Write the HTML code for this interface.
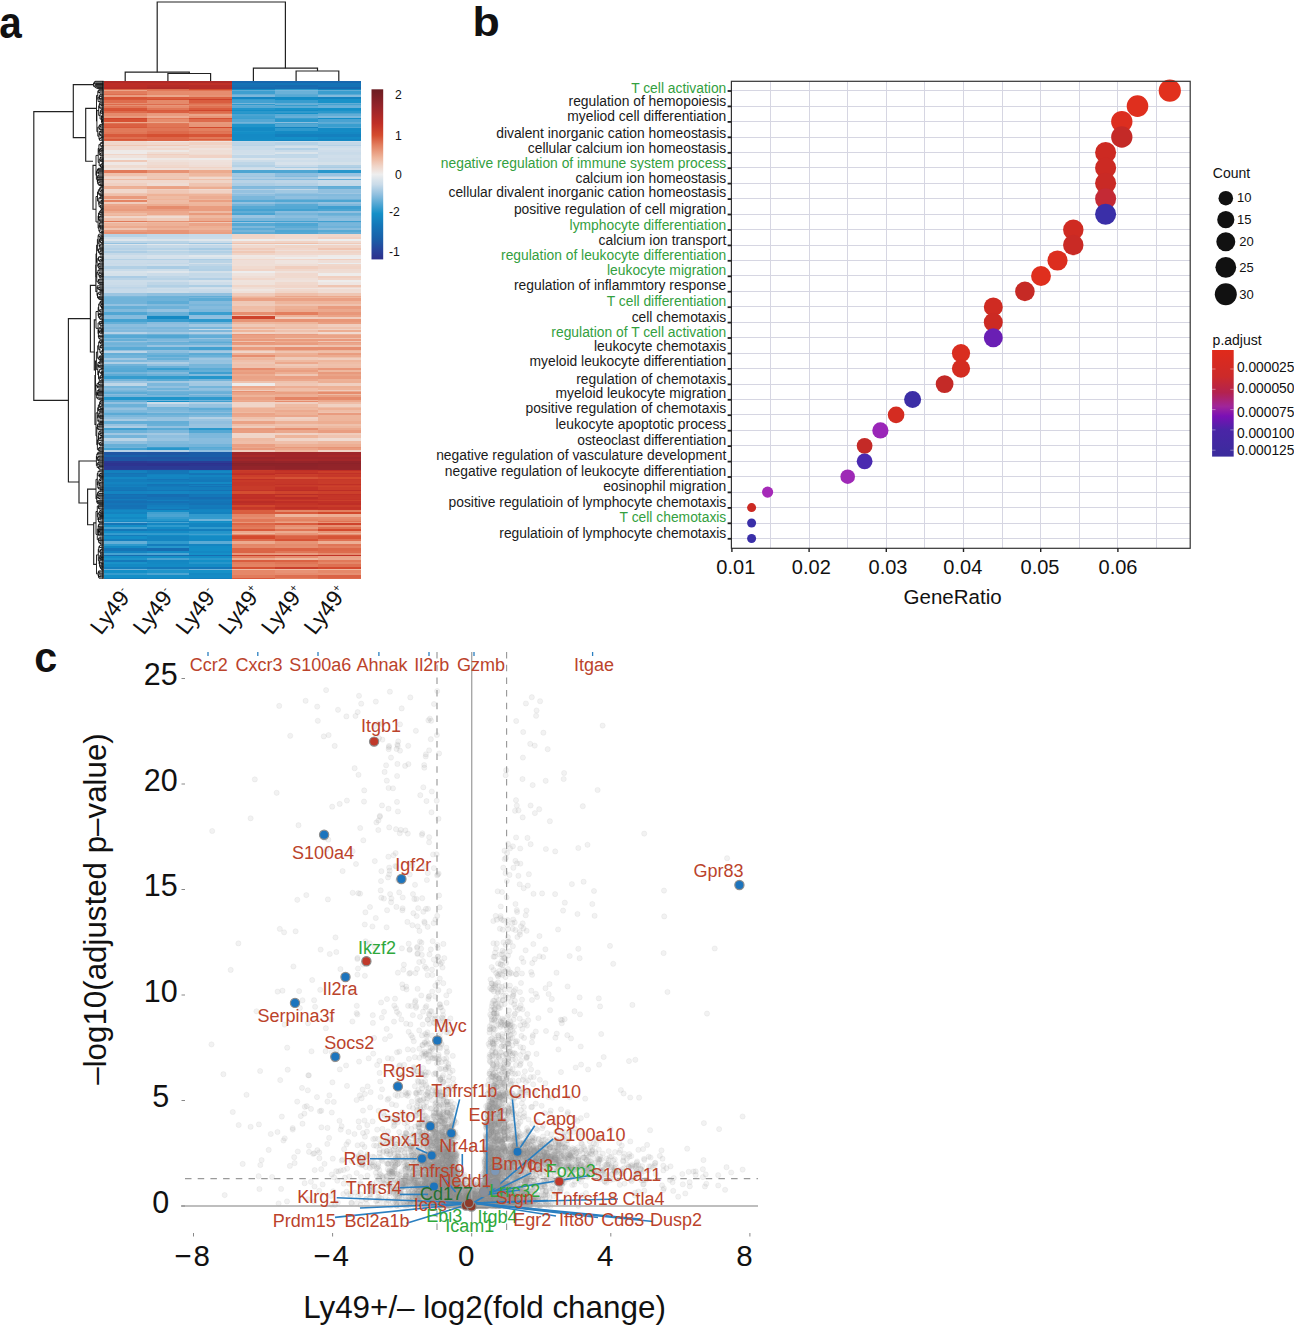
<!DOCTYPE html>
<html><head><meta charset="utf-8"><style>
html,body{margin:0;padding:0;background:#fff;}
body{width:1294px;height:1326px;overflow:hidden;}
svg{display:block;font-family:"Liberation Sans", sans-serif;}
.pc circle{r:2.6px}
.hc0 rect{x:103.8px;width:43.03px}
.hc1 rect{x:146.5px;width:43.03px}
.hc2 rect{x:189.3px;width:43.03px}
.hc3 rect{x:232.0px;width:43.03px}
.hc4 rect{x:274.7px;width:43.03px}
.hc5 rect{x:317.5px;width:43.03px}
</style></head><body>
<svg width="1294" height="1326" viewBox="0 0 1294 1326">
<rect width="1294" height="1326" fill="#fff"/>
<g shape-rendering="crispEdges">
<g class="hc0">
<rect y="81.0" height="2.3" fill="#af2a28"/>
<rect y="83.0" height="1.8" fill="#bd2d26"/>
<rect y="84.5" height="2.3" fill="#bc2d26"/>
<rect y="86.5" height="2.8" fill="#b72c27"/>
<rect y="89.0" height="1.3" fill="#dc6749"/>
<rect y="90.0" height="1.3" fill="#eba488"/>
<rect y="91.0" height="2.8" fill="#e27c5d"/>
<rect y="93.5" height="1.3" fill="#de6d4e"/>
<rect y="94.5" height="2.3" fill="#e99d81"/>
<rect y="96.5" height="2.8" fill="#d65335"/>
<rect y="99.0" height="1.3" fill="#d75739"/>
<rect y="100.0" height="2.8" fill="#de6d4e"/>
<rect y="102.5" height="1.8" fill="#e68e70"/>
<rect y="104.0" height="1.3" fill="#dd6b4c"/>
<rect y="105.0" height="1.3" fill="#e69072"/>
<rect y="106.0" height="2.3" fill="#e07758"/>
<rect y="108.0" height="2.3" fill="#d75537"/>
<rect y="110.0" height="1.3" fill="#d65134"/>
<rect y="111.0" height="1.8" fill="#dd6a4b"/>
<rect y="112.5" height="1.3" fill="#e58b6d"/>
<rect y="113.5" height="2.8" fill="#e58b6c"/>
<rect y="116.0" height="2.3" fill="#e89a7d"/>
<rect y="118.0" height="1.3" fill="#d0452c"/>
<rect y="119.0" height="2.8" fill="#d65133"/>
<rect y="121.5" height="1.3" fill="#eca98d"/>
<rect y="122.5" height="1.8" fill="#df7253"/>
<rect y="124.0" height="3.3" fill="#da6042"/>
<rect y="127.0" height="1.3" fill="#d8583a"/>
<rect y="128.0" height="2.8" fill="#e17a5a"/>
<rect y="130.5" height="1.3" fill="#e27b5b"/>
<rect y="131.5" height="2.8" fill="#e07656"/>
<rect y="134.0" height="2.8" fill="#d85a3c"/>
<rect y="136.5" height="2.3" fill="#de6f50"/>
<rect y="138.5" height="1.3" fill="#d75739"/>
<rect y="139.5" height="1.8" fill="#da6042"/>
<rect y="141.0" height="1.3" fill="#efdbd1"/>
<rect y="142.0" height="2.8" fill="#f0d6ca"/>
<rect y="144.5" height="1.8" fill="#efc6b3"/>
<rect y="146.0" height="2.3" fill="#f0dad0"/>
<rect y="148.0" height="2.3" fill="#f0dad1"/>
<rect y="150.0" height="1.8" fill="#eeeae8"/>
<rect y="151.5" height="2.8" fill="#eeeae9"/>
<rect y="154.0" height="1.3" fill="#f0d5c8"/>
<rect y="155.0" height="2.8" fill="#efe2dc"/>
<rect y="157.5" height="2.3" fill="#eeedec"/>
<rect y="159.5" height="2.8" fill="#efc9b8"/>
<rect y="162.0" height="3.3" fill="#efe7e4"/>
<rect y="165.0" height="1.8" fill="#efdbd1"/>
<rect y="166.5" height="1.3" fill="#efdcd2"/>
<rect y="167.5" height="2.8" fill="#efe4df"/>
<rect y="170.0" height="2.8" fill="#e17959"/>
<rect y="172.5" height="3.3" fill="#efc0ab"/>
<rect y="175.5" height="1.8" fill="#f0d1c3"/>
<rect y="177.0" height="2.3" fill="#f0d7cb"/>
<rect y="179.0" height="1.3" fill="#eebaa3"/>
<rect y="180.0" height="2.8" fill="#f0d7cc"/>
<rect y="182.5" height="3.3" fill="#f0d0c2"/>
<rect y="185.5" height="1.3" fill="#edae93"/>
<rect y="186.5" height="2.8" fill="#edb096"/>
<rect y="189.0" height="1.3" fill="#f0d8cd"/>
<rect y="190.0" height="2.8" fill="#f0d7cb"/>
<rect y="192.5" height="1.8" fill="#efc6b3"/>
<rect y="194.0" height="2.3" fill="#efbfaa"/>
<rect y="196.0" height="3.3" fill="#e99a7d"/>
<rect y="199.0" height="1.3" fill="#efc9b8"/>
<rect y="200.0" height="2.3" fill="#e48464"/>
<rect y="202.0" height="2.3" fill="#f0ccbc"/>
<rect y="204.0" height="2.3" fill="#eba78c"/>
<rect y="206.0" height="2.8" fill="#ea9f83"/>
<rect y="208.5" height="2.3" fill="#e89a7d"/>
<rect y="210.5" height="2.3" fill="#ecac91"/>
<rect y="212.5" height="2.3" fill="#eebba4"/>
<rect y="214.5" height="1.8" fill="#eeb49a"/>
<rect y="216.0" height="1.8" fill="#f0d7cb"/>
<rect y="217.5" height="3.3" fill="#efc1ac"/>
<rect y="220.5" height="1.8" fill="#e17a5a"/>
<rect y="222.0" height="1.3" fill="#efc8b7"/>
<rect y="223.0" height="2.8" fill="#eeb59c"/>
<rect y="225.5" height="2.3" fill="#ecaa8f"/>
<rect y="227.5" height="2.8" fill="#efc5b2"/>
<rect y="230.0" height="2.3" fill="#e99b7e"/>
<rect y="232.0" height="1.8" fill="#e69072"/>
<rect y="233.5" height="3.3" fill="#b5d1e5"/>
<rect y="236.5" height="2.3" fill="#cedeea"/>
<rect y="238.5" height="2.3" fill="#dde5ec"/>
<rect y="240.5" height="2.8" fill="#bcd5e7"/>
<rect y="243.0" height="1.3" fill="#95c2e0"/>
<rect y="244.0" height="1.3" fill="#dbe4eb"/>
<rect y="245.0" height="2.8" fill="#bdd5e7"/>
<rect y="247.5" height="2.3" fill="#b5d1e6"/>
<rect y="249.5" height="1.8" fill="#c2d8e8"/>
<rect y="251.0" height="2.3" fill="#adcde4"/>
<rect y="253.0" height="1.8" fill="#c5d9e8"/>
<rect y="254.5" height="2.3" fill="#d2dfea"/>
<rect y="256.5" height="2.3" fill="#cedeea"/>
<rect y="258.5" height="1.3" fill="#b5d1e5"/>
<rect y="259.5" height="3.3" fill="#cbdce9"/>
<rect y="262.5" height="1.3" fill="#c8dae9"/>
<rect y="263.5" height="2.8" fill="#cbdce9"/>
<rect y="266.0" height="2.8" fill="#b2d0e5"/>
<rect y="268.5" height="2.3" fill="#c8dbe9"/>
<rect y="270.5" height="2.3" fill="#d8e3eb"/>
<rect y="272.5" height="3.3" fill="#d4e1ea"/>
<rect y="275.5" height="2.3" fill="#abcce4"/>
<rect y="277.5" height="2.8" fill="#b9d3e6"/>
<rect y="280.0" height="2.3" fill="#cddde9"/>
<rect y="282.0" height="2.8" fill="#cbdce9"/>
<rect y="284.5" height="2.3" fill="#c6d9e8"/>
<rect y="286.5" height="1.3" fill="#bdd5e7"/>
<rect y="287.5" height="1.3" fill="#c2d7e8"/>
<rect y="288.5" height="2.3" fill="#c7dae9"/>
<rect y="290.5" height="2.3" fill="#c8dae9"/>
<rect y="292.5" height="0.8" fill="#aacce4"/>
<rect y="293.0" height="3.3" fill="#9cc5e1"/>
<rect y="296.0" height="1.3" fill="#7bb7db"/>
<rect y="297.0" height="1.3" fill="#72b4d9"/>
<rect y="298.0" height="3.3" fill="#70b3d9"/>
<rect y="301.0" height="3.3" fill="#71b3d9"/>
<rect y="304.0" height="2.3" fill="#92c1e0"/>
<rect y="306.0" height="3.3" fill="#66afd7"/>
<rect y="309.0" height="2.8" fill="#81badc"/>
<rect y="311.5" height="3.3" fill="#50a6d3"/>
<rect y="314.5" height="2.3" fill="#85bbdd"/>
<rect y="316.5" height="2.3" fill="#87bcdd"/>
<rect y="318.5" height="3.3" fill="#44a2d1"/>
<rect y="321.5" height="2.3" fill="#65afd7"/>
<rect y="323.5" height="3.3" fill="#8cbede"/>
<rect y="326.5" height="2.3" fill="#81b9dc"/>
<rect y="328.5" height="1.3" fill="#8cbede"/>
<rect y="329.5" height="2.3" fill="#83badd"/>
<rect y="331.5" height="2.3" fill="#b5d1e6"/>
<rect y="333.5" height="1.8" fill="#71b3d9"/>
<rect y="335.0" height="2.8" fill="#56a8d4"/>
<rect y="337.5" height="1.3" fill="#7bb7db"/>
<rect y="338.5" height="2.3" fill="#67afd7"/>
<rect y="340.5" height="1.3" fill="#96c3e0"/>
<rect y="341.5" height="1.8" fill="#78b6db"/>
<rect y="343.0" height="2.3" fill="#70b3d9"/>
<rect y="345.0" height="1.8" fill="#79b6db"/>
<rect y="346.5" height="3.3" fill="#59aad5"/>
<rect y="349.5" height="1.8" fill="#94c1e0"/>
<rect y="351.0" height="2.3" fill="#bbd4e7"/>
<rect y="353.0" height="2.3" fill="#65aed7"/>
<rect y="355.0" height="2.3" fill="#71b3d9"/>
<rect y="357.0" height="1.3" fill="#72b4da"/>
<rect y="358.0" height="1.8" fill="#a1c7e2"/>
<rect y="359.5" height="2.3" fill="#7eb8dc"/>
<rect y="361.5" height="2.3" fill="#afcfe5"/>
<rect y="363.5" height="2.8" fill="#71b3d9"/>
<rect y="366.0" height="2.3" fill="#5facd6"/>
<rect y="368.0" height="1.8" fill="#58aad5"/>
<rect y="369.5" height="2.3" fill="#55a8d4"/>
<rect y="371.5" height="2.8" fill="#76b5da"/>
<rect y="374.0" height="2.3" fill="#5cabd5"/>
<rect y="376.0" height="3.3" fill="#359cce"/>
<rect y="379.0" height="2.3" fill="#71b3d9"/>
<rect y="381.0" height="2.3" fill="#9ac4e1"/>
<rect y="383.0" height="3.3" fill="#bed6e7"/>
<rect y="386.0" height="2.3" fill="#77b6db"/>
<rect y="388.0" height="1.8" fill="#89bdde"/>
<rect y="389.5" height="1.8" fill="#7cb8db"/>
<rect y="391.0" height="1.3" fill="#70b3d9"/>
<rect y="392.0" height="1.8" fill="#5cabd5"/>
<rect y="393.5" height="1.8" fill="#87bcde"/>
<rect y="395.0" height="1.8" fill="#76b5da"/>
<rect y="396.5" height="3.3" fill="#2195ca"/>
<rect y="399.5" height="1.8" fill="#64aed7"/>
<rect y="401.0" height="1.3" fill="#62add6"/>
<rect y="402.0" height="2.3" fill="#93c1e0"/>
<rect y="404.0" height="2.8" fill="#6bb1d8"/>
<rect y="406.5" height="1.8" fill="#82badd"/>
<rect y="408.0" height="2.3" fill="#95c2e0"/>
<rect y="410.0" height="2.3" fill="#7fb9dc"/>
<rect y="412.0" height="1.3" fill="#78b6db"/>
<rect y="413.0" height="1.8" fill="#5baad5"/>
<rect y="414.5" height="2.3" fill="#7bb7db"/>
<rect y="416.5" height="2.8" fill="#8ebfdf"/>
<rect y="419.0" height="2.3" fill="#a8cbe3"/>
<rect y="421.0" height="2.8" fill="#64aed7"/>
<rect y="423.5" height="2.8" fill="#97c3e0"/>
<rect y="426.0" height="2.3" fill="#adcde4"/>
<rect y="428.0" height="1.8" fill="#41a0d0"/>
<rect y="429.5" height="3.3" fill="#6db2d9"/>
<rect y="432.5" height="2.8" fill="#a0c7e2"/>
<rect y="435.0" height="2.8" fill="#74b4da"/>
<rect y="437.5" height="3.3" fill="#bad4e6"/>
<rect y="440.5" height="3.3" fill="#90c0df"/>
<rect y="443.5" height="3.3" fill="#67afd7"/>
<rect y="446.5" height="1.3" fill="#70b3d9"/>
<rect y="447.5" height="2.3" fill="#42a1d0"/>
<rect y="449.5" height="2.8" fill="#b6d2e6"/>
<rect y="452.0" height="2.8" fill="#1e57a4"/>
<rect y="454.5" height="2.3" fill="#1962aa"/>
<rect y="456.5" height="2.3" fill="#2054a3"/>
<rect y="458.5" height="2.3" fill="#1e56a4"/>
<rect y="460.5" height="2.3" fill="#2b3993"/>
<rect y="462.5" height="1.3" fill="#2d338f"/>
<rect y="463.5" height="2.3" fill="#2d3490"/>
<rect y="465.5" height="3.3" fill="#2b3a95"/>
<rect y="468.5" height="1.8" fill="#2a3d97"/>
<rect y="470.0" height="1.3" fill="#147bbb"/>
<rect y="471.0" height="1.8" fill="#1481be"/>
<rect y="472.5" height="1.3" fill="#1572b5"/>
<rect y="473.5" height="1.8" fill="#1478b9"/>
<rect y="475.0" height="2.3" fill="#1478b9"/>
<rect y="477.0" height="1.8" fill="#1488c3"/>
<rect y="478.5" height="1.3" fill="#147dbc"/>
<rect y="479.5" height="2.3" fill="#147dbc"/>
<rect y="481.5" height="2.8" fill="#1484c1"/>
<rect y="484.0" height="1.3" fill="#147fbd"/>
<rect y="485.0" height="1.3" fill="#147dbc"/>
<rect y="486.0" height="1.3" fill="#1481bf"/>
<rect y="487.0" height="2.8" fill="#1478b9"/>
<rect y="489.5" height="1.8" fill="#1573b6"/>
<rect y="491.0" height="2.8" fill="#1484c1"/>
<rect y="493.5" height="1.3" fill="#166eb2"/>
<rect y="494.5" height="2.3" fill="#1474b7"/>
<rect y="496.5" height="2.8" fill="#1670b4"/>
<rect y="499.0" height="1.3" fill="#147cbc"/>
<rect y="500.0" height="1.3" fill="#1474b7"/>
<rect y="501.0" height="1.8" fill="#166fb3"/>
<rect y="502.5" height="2.8" fill="#1475b8"/>
<rect y="505.0" height="2.3" fill="#1571b5"/>
<rect y="507.0" height="1.8" fill="#1573b6"/>
<rect y="508.5" height="1.8" fill="#1481bf"/>
<rect y="510.0" height="2.3" fill="#1489c4"/>
<rect y="512.0" height="2.3" fill="#1483c0"/>
<rect y="514.0" height="2.8" fill="#1590c8"/>
<rect y="516.5" height="2.3" fill="#1489c4"/>
<rect y="518.5" height="2.3" fill="#1c93ca"/>
<rect y="520.5" height="1.3" fill="#1488c3"/>
<rect y="521.5" height="1.3" fill="#6fb2d9"/>
<rect y="522.5" height="2.3" fill="#1476b8"/>
<rect y="524.5" height="2.3" fill="#148ec7"/>
<rect y="526.5" height="2.3" fill="#42a1d0"/>
<rect y="528.5" height="2.3" fill="#1478b9"/>
<rect y="530.5" height="2.3" fill="#148dc6"/>
<rect y="532.5" height="1.3" fill="#329bce"/>
<rect y="533.5" height="1.8" fill="#369cce"/>
<rect y="535.0" height="1.3" fill="#147dbc"/>
<rect y="536.0" height="3.3" fill="#148dc6"/>
<rect y="539.0" height="2.3" fill="#147fbe"/>
<rect y="541.0" height="3.3" fill="#65afd7"/>
<rect y="544.0" height="2.3" fill="#2e9acd"/>
<rect y="546.0" height="2.3" fill="#1489c3"/>
<rect y="548.0" height="3.3" fill="#1574b6"/>
<rect y="551.0" height="1.8" fill="#1483c0"/>
<rect y="552.5" height="2.8" fill="#46a2d1"/>
<rect y="555.0" height="1.3" fill="#166db1"/>
<rect y="556.0" height="1.8" fill="#148ec7"/>
<rect y="557.5" height="2.8" fill="#1f94ca"/>
<rect y="560.0" height="2.3" fill="#1479ba"/>
<rect y="562.0" height="1.8" fill="#1992c9"/>
<rect y="563.5" height="3.3" fill="#148ac4"/>
<rect y="566.5" height="2.8" fill="#147ebd"/>
<rect y="569.0" height="1.3" fill="#6ab0d8"/>
<rect y="570.0" height="2.8" fill="#148fc7"/>
<rect y="572.5" height="2.3" fill="#359cce"/>
<rect y="574.5" height="3.3" fill="#148fc7"/>
<rect y="577.5" height="1.3" fill="#147fbd"/>
<rect y="578.5" height="0.6" fill="#1479ba"/>
</g>
<g class="hc1">
<rect y="81.0" height="2.3" fill="#ae2a28"/>
<rect y="83.0" height="1.8" fill="#be2e26"/>
<rect y="84.5" height="2.3" fill="#b62c27"/>
<rect y="86.5" height="2.8" fill="#af2a27"/>
<rect y="89.0" height="1.3" fill="#de6d4e"/>
<rect y="90.0" height="1.3" fill="#e1795a"/>
<rect y="91.0" height="2.8" fill="#e68c6d"/>
<rect y="93.5" height="1.3" fill="#e58a6b"/>
<rect y="94.5" height="2.3" fill="#eba78b"/>
<rect y="96.5" height="2.8" fill="#d95c3e"/>
<rect y="99.0" height="1.3" fill="#d55032"/>
<rect y="100.0" height="2.8" fill="#e5896a"/>
<rect y="102.5" height="1.8" fill="#e58a6b"/>
<rect y="104.0" height="1.3" fill="#dd6c4e"/>
<rect y="105.0" height="1.3" fill="#e89679"/>
<rect y="106.0" height="2.3" fill="#e68c6e"/>
<rect y="108.0" height="2.3" fill="#e07657"/>
<rect y="110.0" height="1.3" fill="#d85a3c"/>
<rect y="111.0" height="1.8" fill="#da5f41"/>
<rect y="112.5" height="1.3" fill="#e8977a"/>
<rect y="113.5" height="2.8" fill="#e99b7e"/>
<rect y="116.0" height="2.3" fill="#edad93"/>
<rect y="118.0" height="1.3" fill="#e27b5b"/>
<rect y="119.0" height="2.8" fill="#e68d6e"/>
<rect y="121.5" height="1.3" fill="#eca98d"/>
<rect y="122.5" height="1.8" fill="#e17a5a"/>
<rect y="124.0" height="3.3" fill="#e07555"/>
<rect y="127.0" height="1.3" fill="#dd6b4c"/>
<rect y="128.0" height="2.8" fill="#e07657"/>
<rect y="130.5" height="1.3" fill="#dd6b4d"/>
<rect y="131.5" height="2.8" fill="#dd6a4b"/>
<rect y="134.0" height="2.8" fill="#d55032"/>
<rect y="136.5" height="2.3" fill="#dc6648"/>
<rect y="138.5" height="1.3" fill="#db6244"/>
<rect y="139.5" height="1.8" fill="#dc6647"/>
<rect y="141.0" height="1.3" fill="#efe6e3"/>
<rect y="142.0" height="2.8" fill="#f0d8cd"/>
<rect y="144.5" height="1.8" fill="#efc9b7"/>
<rect y="146.0" height="2.3" fill="#efdfd8"/>
<rect y="148.0" height="2.3" fill="#f0d8cd"/>
<rect y="150.0" height="1.8" fill="#eee8e5"/>
<rect y="151.5" height="2.8" fill="#efddd4"/>
<rect y="154.0" height="1.3" fill="#f0cebf"/>
<rect y="155.0" height="2.8" fill="#f0d7cb"/>
<rect y="157.5" height="2.3" fill="#eee8e5"/>
<rect y="159.5" height="2.8" fill="#efe1da"/>
<rect y="162.0" height="3.3" fill="#efdcd3"/>
<rect y="165.0" height="1.8" fill="#f0d8cc"/>
<rect y="166.5" height="1.3" fill="#f0d3c6"/>
<rect y="167.5" height="2.8" fill="#efe1db"/>
<rect y="170.0" height="2.8" fill="#e79274"/>
<rect y="172.5" height="3.3" fill="#efc6b3"/>
<rect y="175.5" height="1.8" fill="#efc9b7"/>
<rect y="177.0" height="2.3" fill="#efc8b6"/>
<rect y="179.0" height="1.3" fill="#eeb79e"/>
<rect y="180.0" height="2.8" fill="#f0d8cd"/>
<rect y="182.5" height="3.3" fill="#efdbd2"/>
<rect y="185.5" height="1.3" fill="#eba488"/>
<rect y="186.5" height="2.8" fill="#eaa184"/>
<rect y="189.0" height="1.3" fill="#f0d0c1"/>
<rect y="190.0" height="2.8" fill="#efc7b5"/>
<rect y="192.5" height="1.8" fill="#efc3af"/>
<rect y="194.0" height="2.3" fill="#eeb297"/>
<rect y="196.0" height="3.3" fill="#eebba3"/>
<rect y="199.0" height="1.3" fill="#eeb49a"/>
<rect y="200.0" height="2.3" fill="#efbca6"/>
<rect y="202.0" height="2.3" fill="#eebba3"/>
<rect y="204.0" height="2.3" fill="#ecac91"/>
<rect y="206.0" height="2.8" fill="#e58c6d"/>
<rect y="208.5" height="2.3" fill="#e99c80"/>
<rect y="210.5" height="2.3" fill="#eca98e"/>
<rect y="212.5" height="2.3" fill="#eca98e"/>
<rect y="214.5" height="1.8" fill="#efc7b5"/>
<rect y="216.0" height="1.8" fill="#efdbd2"/>
<rect y="217.5" height="3.3" fill="#efcbba"/>
<rect y="220.5" height="1.8" fill="#e79173"/>
<rect y="222.0" height="1.3" fill="#eeb9a1"/>
<rect y="223.0" height="2.8" fill="#edb197"/>
<rect y="225.5" height="2.3" fill="#eba78c"/>
<rect y="227.5" height="2.8" fill="#eeb298"/>
<rect y="230.0" height="2.3" fill="#e79578"/>
<rect y="232.0" height="1.8" fill="#e79476"/>
<rect y="233.5" height="3.3" fill="#c1d7e8"/>
<rect y="236.5" height="2.3" fill="#c7dae9"/>
<rect y="238.5" height="2.3" fill="#d9e3eb"/>
<rect y="240.5" height="2.8" fill="#bad4e6"/>
<rect y="243.0" height="1.3" fill="#accde4"/>
<rect y="244.0" height="1.3" fill="#e1e7ec"/>
<rect y="245.0" height="2.8" fill="#c5d9e8"/>
<rect y="247.5" height="2.3" fill="#b6d2e6"/>
<rect y="249.5" height="1.8" fill="#cddde9"/>
<rect y="251.0" height="2.3" fill="#b9d4e6"/>
<rect y="253.0" height="1.8" fill="#c2d8e8"/>
<rect y="254.5" height="2.3" fill="#d7e2eb"/>
<rect y="256.5" height="2.3" fill="#d5e1eb"/>
<rect y="258.5" height="1.3" fill="#b2d0e5"/>
<rect y="259.5" height="3.3" fill="#cadbe9"/>
<rect y="262.5" height="1.3" fill="#c4d9e8"/>
<rect y="263.5" height="2.8" fill="#cedeea"/>
<rect y="266.0" height="2.8" fill="#a9cce4"/>
<rect y="268.5" height="2.3" fill="#ccdde9"/>
<rect y="270.5" height="2.3" fill="#dfe6ec"/>
<rect y="272.5" height="3.3" fill="#cbdce9"/>
<rect y="275.5" height="2.3" fill="#bfd6e7"/>
<rect y="277.5" height="2.8" fill="#b8d3e6"/>
<rect y="280.0" height="2.3" fill="#cdddea"/>
<rect y="282.0" height="2.8" fill="#bfd6e7"/>
<rect y="284.5" height="2.3" fill="#b2d0e5"/>
<rect y="286.5" height="1.3" fill="#bdd5e7"/>
<rect y="287.5" height="1.3" fill="#cedeea"/>
<rect y="288.5" height="2.3" fill="#c9dbe9"/>
<rect y="290.5" height="2.3" fill="#cddde9"/>
<rect y="292.5" height="0.8" fill="#bad4e6"/>
<rect y="293.0" height="3.3" fill="#90c0df"/>
<rect y="296.0" height="1.3" fill="#6db2d9"/>
<rect y="297.0" height="1.3" fill="#6bb1d8"/>
<rect y="298.0" height="3.3" fill="#6eb2d9"/>
<rect y="301.0" height="3.3" fill="#5facd6"/>
<rect y="304.0" height="2.3" fill="#81badc"/>
<rect y="306.0" height="3.3" fill="#6eb2d9"/>
<rect y="309.0" height="2.8" fill="#95c2e0"/>
<rect y="311.5" height="3.3" fill="#68b0d8"/>
<rect y="314.5" height="2.3" fill="#63aed7"/>
<rect y="316.5" height="2.3" fill="#95c2e0"/>
<rect y="318.5" height="3.3" fill="#399dcf"/>
<rect y="321.5" height="2.3" fill="#88bcde"/>
<rect y="323.5" height="3.3" fill="#93c1e0"/>
<rect y="326.5" height="2.3" fill="#7bb7db"/>
<rect y="328.5" height="1.3" fill="#88bcde"/>
<rect y="329.5" height="2.3" fill="#82badd"/>
<rect y="331.5" height="2.3" fill="#a1c8e2"/>
<rect y="333.5" height="1.8" fill="#6bb1d8"/>
<rect y="335.0" height="2.8" fill="#50a6d3"/>
<rect y="337.5" height="1.3" fill="#70b3d9"/>
<rect y="338.5" height="2.3" fill="#7eb8dc"/>
<rect y="340.5" height="1.3" fill="#8dbedf"/>
<rect y="341.5" height="1.8" fill="#67afd7"/>
<rect y="343.0" height="2.3" fill="#6eb2d9"/>
<rect y="345.0" height="1.8" fill="#98c3e1"/>
<rect y="346.5" height="3.3" fill="#58aad5"/>
<rect y="349.5" height="1.8" fill="#91c0df"/>
<rect y="351.0" height="2.3" fill="#8cbede"/>
<rect y="353.0" height="2.3" fill="#6eb2d9"/>
<rect y="355.0" height="2.3" fill="#5eacd6"/>
<rect y="357.0" height="1.3" fill="#78b6db"/>
<rect y="358.0" height="1.8" fill="#66afd7"/>
<rect y="359.5" height="2.3" fill="#88bcde"/>
<rect y="361.5" height="2.3" fill="#aecee4"/>
<rect y="363.5" height="2.8" fill="#93c1e0"/>
<rect y="366.0" height="2.3" fill="#6ab0d8"/>
<rect y="368.0" height="1.8" fill="#3b9ecf"/>
<rect y="369.5" height="2.3" fill="#63aed7"/>
<rect y="371.5" height="2.8" fill="#82badc"/>
<rect y="374.0" height="2.3" fill="#6cb1d8"/>
<rect y="376.0" height="3.3" fill="#319bcd"/>
<rect y="379.0" height="2.3" fill="#5babd5"/>
<rect y="381.0" height="2.3" fill="#a2c8e2"/>
<rect y="383.0" height="3.3" fill="#7db8dc"/>
<rect y="386.0" height="2.3" fill="#92c0df"/>
<rect y="388.0" height="1.8" fill="#72b4da"/>
<rect y="389.5" height="1.8" fill="#91c0df"/>
<rect y="391.0" height="1.3" fill="#71b3d9"/>
<rect y="392.0" height="1.8" fill="#68b0d8"/>
<rect y="393.5" height="1.8" fill="#63aed7"/>
<rect y="395.0" height="1.8" fill="#78b6db"/>
<rect y="396.5" height="3.3" fill="#1e94ca"/>
<rect y="399.5" height="1.8" fill="#73b4da"/>
<rect y="401.0" height="1.3" fill="#1490c8"/>
<rect y="402.0" height="2.3" fill="#cbdce9"/>
<rect y="404.0" height="2.8" fill="#a6cae3"/>
<rect y="406.5" height="1.8" fill="#72b4d9"/>
<rect y="408.0" height="2.3" fill="#75b5da"/>
<rect y="410.0" height="2.3" fill="#7fb9dc"/>
<rect y="412.0" height="1.3" fill="#8ebfdf"/>
<rect y="413.0" height="1.8" fill="#66afd7"/>
<rect y="414.5" height="2.3" fill="#76b5da"/>
<rect y="416.5" height="2.8" fill="#97c3e0"/>
<rect y="419.0" height="2.3" fill="#99c4e1"/>
<rect y="421.0" height="2.8" fill="#65aed7"/>
<rect y="423.5" height="2.8" fill="#6ab1d8"/>
<rect y="426.0" height="2.3" fill="#93c1e0"/>
<rect y="428.0" height="1.8" fill="#59aad5"/>
<rect y="429.5" height="3.3" fill="#7db8dc"/>
<rect y="432.5" height="2.8" fill="#a2c8e2"/>
<rect y="435.0" height="2.8" fill="#8fbfdf"/>
<rect y="437.5" height="3.3" fill="#98c4e1"/>
<rect y="440.5" height="3.3" fill="#81badc"/>
<rect y="443.5" height="3.3" fill="#79b6db"/>
<rect y="446.5" height="1.3" fill="#3b9ecf"/>
<rect y="447.5" height="2.3" fill="#2696cb"/>
<rect y="449.5" height="2.8" fill="#b3d0e5"/>
<rect y="452.0" height="2.8" fill="#1e56a4"/>
<rect y="454.5" height="2.3" fill="#1a5fa8"/>
<rect y="456.5" height="2.3" fill="#1f54a3"/>
<rect y="458.5" height="2.3" fill="#1d59a5"/>
<rect y="460.5" height="2.3" fill="#2a3c96"/>
<rect y="462.5" height="1.3" fill="#2d338f"/>
<rect y="463.5" height="2.3" fill="#2d328e"/>
<rect y="465.5" height="3.3" fill="#2b3a95"/>
<rect y="468.5" height="1.8" fill="#294099"/>
<rect y="470.0" height="1.3" fill="#1573b6"/>
<rect y="471.0" height="1.8" fill="#1477b8"/>
<rect y="472.5" height="1.3" fill="#1475b7"/>
<rect y="473.5" height="1.8" fill="#1481bf"/>
<rect y="475.0" height="2.3" fill="#1486c2"/>
<rect y="477.0" height="1.8" fill="#1484c1"/>
<rect y="478.5" height="1.3" fill="#1574b7"/>
<rect y="479.5" height="2.3" fill="#147bbb"/>
<rect y="481.5" height="2.8" fill="#1485c1"/>
<rect y="484.0" height="1.3" fill="#1573b6"/>
<rect y="485.0" height="1.3" fill="#1476b8"/>
<rect y="486.0" height="1.3" fill="#147aba"/>
<rect y="487.0" height="2.8" fill="#147ebd"/>
<rect y="489.5" height="1.8" fill="#1475b7"/>
<rect y="491.0" height="2.8" fill="#1486c2"/>
<rect y="493.5" height="1.3" fill="#176cb1"/>
<rect y="494.5" height="2.3" fill="#166eb3"/>
<rect y="496.5" height="2.8" fill="#1573b6"/>
<rect y="499.0" height="1.3" fill="#1476b8"/>
<rect y="500.0" height="1.3" fill="#147fbe"/>
<rect y="501.0" height="1.8" fill="#1571b5"/>
<rect y="502.5" height="2.8" fill="#1478b9"/>
<rect y="505.0" height="2.3" fill="#147ebd"/>
<rect y="507.0" height="1.8" fill="#1482c0"/>
<rect y="508.5" height="1.8" fill="#1574b6"/>
<rect y="510.0" height="2.3" fill="#148cc6"/>
<rect y="512.0" height="2.3" fill="#41a0d0"/>
<rect y="514.0" height="2.8" fill="#4ba4d2"/>
<rect y="516.5" height="2.3" fill="#369cce"/>
<rect y="518.5" height="2.3" fill="#2697cb"/>
<rect y="520.5" height="1.3" fill="#1484c0"/>
<rect y="521.5" height="1.3" fill="#4aa4d2"/>
<rect y="522.5" height="2.3" fill="#1487c3"/>
<rect y="524.5" height="2.3" fill="#2e9acd"/>
<rect y="526.5" height="2.3" fill="#148bc5"/>
<rect y="528.5" height="2.3" fill="#147ebd"/>
<rect y="530.5" height="2.3" fill="#148cc6"/>
<rect y="532.5" height="1.3" fill="#2f9acd"/>
<rect y="533.5" height="1.8" fill="#349cce"/>
<rect y="535.0" height="1.3" fill="#148bc5"/>
<rect y="536.0" height="3.3" fill="#1485c1"/>
<rect y="539.0" height="2.3" fill="#1485c1"/>
<rect y="541.0" height="3.3" fill="#309acd"/>
<rect y="544.0" height="2.3" fill="#147dbd"/>
<rect y="546.0" height="2.3" fill="#2596cb"/>
<rect y="548.0" height="3.3" fill="#176cb1"/>
<rect y="551.0" height="1.8" fill="#148cc6"/>
<rect y="552.5" height="2.8" fill="#4ea6d3"/>
<rect y="555.0" height="1.3" fill="#176cb1"/>
<rect y="556.0" height="1.8" fill="#148fc7"/>
<rect y="557.5" height="2.8" fill="#48a3d1"/>
<rect y="560.0" height="2.3" fill="#1486c2"/>
<rect y="562.0" height="1.8" fill="#1489c3"/>
<rect y="563.5" height="3.3" fill="#148bc5"/>
<rect y="566.5" height="2.8" fill="#1478b9"/>
<rect y="569.0" height="1.3" fill="#3a9ecf"/>
<rect y="570.0" height="2.8" fill="#1e94ca"/>
<rect y="572.5" height="2.3" fill="#4ca5d2"/>
<rect y="574.5" height="3.3" fill="#148ec7"/>
<rect y="577.5" height="1.3" fill="#1485c1"/>
<rect y="578.5" height="0.6" fill="#147ebd"/>
</g>
<g class="hc2">
<rect y="81.0" height="2.3" fill="#ac2a28"/>
<rect y="83.0" height="1.8" fill="#c13127"/>
<rect y="84.5" height="2.3" fill="#b72c27"/>
<rect y="86.5" height="2.8" fill="#b62c27"/>
<rect y="89.0" height="1.3" fill="#d44c2f"/>
<rect y="90.0" height="1.3" fill="#e07454"/>
<rect y="91.0" height="2.8" fill="#e68d6f"/>
<rect y="93.5" height="1.3" fill="#e68c6d"/>
<rect y="94.5" height="2.3" fill="#e79375"/>
<rect y="96.5" height="2.8" fill="#da6243"/>
<rect y="99.0" height="1.3" fill="#cd422b"/>
<rect y="100.0" height="2.8" fill="#d95d3f"/>
<rect y="102.5" height="1.8" fill="#de6e4f"/>
<rect y="104.0" height="1.3" fill="#e17858"/>
<rect y="105.0" height="1.3" fill="#e48363"/>
<rect y="106.0" height="2.3" fill="#df7253"/>
<rect y="108.0" height="2.3" fill="#d95c3e"/>
<rect y="110.0" height="1.3" fill="#d0452c"/>
<rect y="111.0" height="1.8" fill="#dd6c4d"/>
<rect y="112.5" height="1.3" fill="#e17858"/>
<rect y="113.5" height="2.8" fill="#eba488"/>
<rect y="116.0" height="2.3" fill="#e79578"/>
<rect y="118.0" height="1.3" fill="#d55033"/>
<rect y="119.0" height="2.8" fill="#dd6a4c"/>
<rect y="121.5" height="1.3" fill="#e8997c"/>
<rect y="122.5" height="1.8" fill="#e8987b"/>
<rect y="124.0" height="3.3" fill="#e79578"/>
<rect y="127.0" height="1.3" fill="#d34a2e"/>
<rect y="128.0" height="2.8" fill="#e38060"/>
<rect y="130.5" height="1.3" fill="#df7253"/>
<rect y="131.5" height="2.8" fill="#e07556"/>
<rect y="134.0" height="2.8" fill="#d75537"/>
<rect y="136.5" height="2.3" fill="#e17959"/>
<rect y="138.5" height="1.3" fill="#da5e40"/>
<rect y="139.5" height="1.8" fill="#e27d5d"/>
<rect y="141.0" height="1.3" fill="#efe3de"/>
<rect y="142.0" height="2.8" fill="#f0d2c4"/>
<rect y="144.5" height="1.8" fill="#efdbd2"/>
<rect y="146.0" height="2.3" fill="#f0d8cd"/>
<rect y="148.0" height="2.3" fill="#efe2dc"/>
<rect y="150.0" height="1.8" fill="#efded6"/>
<rect y="151.5" height="2.8" fill="#efdfd7"/>
<rect y="154.0" height="1.3" fill="#efdbd1"/>
<rect y="155.0" height="2.8" fill="#f0d2c5"/>
<rect y="157.5" height="2.3" fill="#eeebea"/>
<rect y="159.5" height="2.8" fill="#efe2dc"/>
<rect y="162.0" height="3.3" fill="#efe0da"/>
<rect y="165.0" height="1.8" fill="#efddd5"/>
<rect y="166.5" height="1.3" fill="#f0d3c6"/>
<rect y="167.5" height="2.8" fill="#efdbd1"/>
<rect y="170.0" height="2.8" fill="#ecaa8e"/>
<rect y="172.5" height="3.3" fill="#eeb8a0"/>
<rect y="175.5" height="1.8" fill="#efc5b1"/>
<rect y="177.0" height="2.3" fill="#f0d8cd"/>
<rect y="179.0" height="1.3" fill="#efc0ab"/>
<rect y="180.0" height="2.8" fill="#f0d4c6"/>
<rect y="182.5" height="3.3" fill="#efc4b1"/>
<rect y="185.5" height="1.3" fill="#eebca5"/>
<rect y="186.5" height="2.8" fill="#ecad92"/>
<rect y="189.0" height="1.3" fill="#f0dad0"/>
<rect y="190.0" height="2.8" fill="#f0d1c3"/>
<rect y="192.5" height="1.8" fill="#efc6b4"/>
<rect y="194.0" height="2.3" fill="#eeb49a"/>
<rect y="196.0" height="3.3" fill="#ecac92"/>
<rect y="199.0" height="1.3" fill="#eeb89f"/>
<rect y="200.0" height="2.3" fill="#ea9f82"/>
<rect y="202.0" height="2.3" fill="#eeb79e"/>
<rect y="204.0" height="2.3" fill="#eeb59c"/>
<rect y="206.0" height="2.8" fill="#e99d80"/>
<rect y="208.5" height="2.3" fill="#e99c7f"/>
<rect y="210.5" height="2.3" fill="#eebaa3"/>
<rect y="212.5" height="2.3" fill="#e89a7c"/>
<rect y="214.5" height="1.8" fill="#eeb69d"/>
<rect y="216.0" height="1.8" fill="#eeb9a1"/>
<rect y="217.5" height="3.3" fill="#ecaa8f"/>
<rect y="220.5" height="1.8" fill="#e58869"/>
<rect y="222.0" height="1.3" fill="#efc8b5"/>
<rect y="223.0" height="2.8" fill="#eba488"/>
<rect y="225.5" height="2.3" fill="#edaf94"/>
<rect y="227.5" height="2.8" fill="#eeb399"/>
<rect y="230.0" height="2.3" fill="#eba489"/>
<rect y="232.0" height="1.8" fill="#eaa083"/>
<rect y="233.5" height="3.3" fill="#c7dae9"/>
<rect y="236.5" height="2.3" fill="#cadce9"/>
<rect y="238.5" height="2.3" fill="#e0e7ec"/>
<rect y="240.5" height="2.8" fill="#c9dbe9"/>
<rect y="243.0" height="1.3" fill="#9bc5e1"/>
<rect y="244.0" height="1.3" fill="#d8e3eb"/>
<rect y="245.0" height="2.8" fill="#c1d7e8"/>
<rect y="247.5" height="2.3" fill="#a8cbe3"/>
<rect y="249.5" height="1.8" fill="#c1d7e8"/>
<rect y="251.0" height="2.3" fill="#b1d0e5"/>
<rect y="253.0" height="1.8" fill="#bfd6e7"/>
<rect y="254.5" height="2.3" fill="#e0e7ec"/>
<rect y="256.5" height="2.3" fill="#d6e2eb"/>
<rect y="258.5" height="1.3" fill="#aacce4"/>
<rect y="259.5" height="3.3" fill="#bad4e6"/>
<rect y="262.5" height="1.3" fill="#d3e0ea"/>
<rect y="263.5" height="2.8" fill="#bfd6e7"/>
<rect y="266.0" height="2.8" fill="#b5d2e6"/>
<rect y="268.5" height="2.3" fill="#b2d0e5"/>
<rect y="270.5" height="2.3" fill="#d3e0ea"/>
<rect y="272.5" height="3.3" fill="#c4d9e8"/>
<rect y="275.5" height="2.3" fill="#c7dae9"/>
<rect y="277.5" height="2.8" fill="#b1cfe5"/>
<rect y="280.0" height="2.3" fill="#d6e2eb"/>
<rect y="282.0" height="2.8" fill="#cdddea"/>
<rect y="284.5" height="2.3" fill="#adcee4"/>
<rect y="286.5" height="1.3" fill="#cfdeea"/>
<rect y="287.5" height="1.3" fill="#d4e1eb"/>
<rect y="288.5" height="2.3" fill="#cadbe9"/>
<rect y="290.5" height="2.3" fill="#c6d9e8"/>
<rect y="292.5" height="0.8" fill="#b0cfe5"/>
<rect y="293.0" height="3.3" fill="#91c0df"/>
<rect y="296.0" height="1.3" fill="#63aed7"/>
<rect y="297.0" height="1.3" fill="#76b5da"/>
<rect y="298.0" height="3.3" fill="#5cabd5"/>
<rect y="301.0" height="3.3" fill="#82badd"/>
<rect y="304.0" height="2.3" fill="#78b6db"/>
<rect y="306.0" height="3.3" fill="#85bbdd"/>
<rect y="309.0" height="2.8" fill="#7cb7db"/>
<rect y="311.5" height="3.3" fill="#399ecf"/>
<rect y="314.5" height="2.3" fill="#8dbedf"/>
<rect y="316.5" height="2.3" fill="#91c0df"/>
<rect y="318.5" height="3.3" fill="#2e99cd"/>
<rect y="321.5" height="2.3" fill="#74b5da"/>
<rect y="323.5" height="3.3" fill="#a1c8e2"/>
<rect y="326.5" height="2.3" fill="#7ab7db"/>
<rect y="328.5" height="1.3" fill="#c6dae9"/>
<rect y="329.5" height="2.3" fill="#7eb8dc"/>
<rect y="331.5" height="2.3" fill="#b1cfe5"/>
<rect y="333.5" height="1.8" fill="#7db8dc"/>
<rect y="335.0" height="2.8" fill="#62add7"/>
<rect y="337.5" height="1.3" fill="#9bc5e1"/>
<rect y="338.5" height="2.3" fill="#79b6db"/>
<rect y="340.5" height="1.3" fill="#6fb2d9"/>
<rect y="341.5" height="1.8" fill="#5cabd5"/>
<rect y="343.0" height="2.3" fill="#75b5da"/>
<rect y="345.0" height="1.8" fill="#99c4e1"/>
<rect y="346.5" height="3.3" fill="#41a0d0"/>
<rect y="349.5" height="1.8" fill="#90c0df"/>
<rect y="351.0" height="2.3" fill="#a3c8e2"/>
<rect y="353.0" height="2.3" fill="#5baad5"/>
<rect y="355.0" height="2.3" fill="#6ab1d8"/>
<rect y="357.0" height="1.3" fill="#84bbdd"/>
<rect y="358.0" height="1.8" fill="#a0c7e2"/>
<rect y="359.5" height="2.3" fill="#94c2e0"/>
<rect y="361.5" height="2.3" fill="#97c3e0"/>
<rect y="363.5" height="2.8" fill="#77b6da"/>
<rect y="366.0" height="2.3" fill="#79b6db"/>
<rect y="368.0" height="1.8" fill="#5babd5"/>
<rect y="369.5" height="2.3" fill="#65afd7"/>
<rect y="371.5" height="2.8" fill="#3f9fd0"/>
<rect y="374.0" height="2.3" fill="#81badc"/>
<rect y="376.0" height="3.3" fill="#2596cb"/>
<rect y="379.0" height="2.3" fill="#73b4da"/>
<rect y="381.0" height="2.3" fill="#a7cbe3"/>
<rect y="383.0" height="3.3" fill="#a2c8e2"/>
<rect y="386.0" height="2.3" fill="#75b5da"/>
<rect y="388.0" height="1.8" fill="#93c1e0"/>
<rect y="389.5" height="1.8" fill="#8cbede"/>
<rect y="391.0" height="1.3" fill="#71b3d9"/>
<rect y="392.0" height="1.8" fill="#6ab0d8"/>
<rect y="393.5" height="1.8" fill="#8fbfdf"/>
<rect y="395.0" height="1.8" fill="#72b3d9"/>
<rect y="396.5" height="3.3" fill="#2e99cd"/>
<rect y="399.5" height="1.8" fill="#74b4da"/>
<rect y="401.0" height="1.3" fill="#40a0d0"/>
<rect y="402.0" height="2.3" fill="#b3d0e5"/>
<rect y="404.0" height="2.8" fill="#97c3e0"/>
<rect y="406.5" height="1.8" fill="#8abdde"/>
<rect y="408.0" height="2.3" fill="#5facd6"/>
<rect y="410.0" height="2.3" fill="#73b4da"/>
<rect y="412.0" height="1.3" fill="#8bbdde"/>
<rect y="413.0" height="1.8" fill="#6cb1d8"/>
<rect y="414.5" height="2.3" fill="#80b9dc"/>
<rect y="416.5" height="2.8" fill="#b4d1e5"/>
<rect y="419.0" height="2.3" fill="#9cc5e1"/>
<rect y="421.0" height="2.8" fill="#90bfdf"/>
<rect y="423.5" height="2.8" fill="#98c3e0"/>
<rect y="426.0" height="2.3" fill="#9ac4e1"/>
<rect y="428.0" height="1.8" fill="#2a98cc"/>
<rect y="429.5" height="3.3" fill="#54a8d4"/>
<rect y="432.5" height="2.8" fill="#7cb8db"/>
<rect y="435.0" height="2.8" fill="#7db8dc"/>
<rect y="437.5" height="3.3" fill="#89bdde"/>
<rect y="440.5" height="3.3" fill="#87bcde"/>
<rect y="443.5" height="3.3" fill="#73b4da"/>
<rect y="446.5" height="1.3" fill="#58aad5"/>
<rect y="447.5" height="2.3" fill="#60acd6"/>
<rect y="449.5" height="2.8" fill="#92c0e0"/>
<rect y="452.0" height="2.8" fill="#1b5ca7"/>
<rect y="454.5" height="2.3" fill="#1a5ea8"/>
<rect y="456.5" height="2.3" fill="#1e56a4"/>
<rect y="458.5" height="2.3" fill="#1c5aa6"/>
<rect y="460.5" height="2.3" fill="#2a3c96"/>
<rect y="462.5" height="1.3" fill="#2d318e"/>
<rect y="463.5" height="2.3" fill="#2c3590"/>
<rect y="465.5" height="3.3" fill="#2b3a94"/>
<rect y="468.5" height="1.8" fill="#2b3b95"/>
<rect y="470.0" height="1.3" fill="#147fbe"/>
<rect y="471.0" height="1.8" fill="#1488c3"/>
<rect y="472.5" height="1.3" fill="#1476b8"/>
<rect y="473.5" height="1.8" fill="#1475b8"/>
<rect y="475.0" height="2.3" fill="#1485c1"/>
<rect y="477.0" height="1.8" fill="#147dbc"/>
<rect y="478.5" height="1.3" fill="#147aba"/>
<rect y="479.5" height="2.3" fill="#1478b9"/>
<rect y="481.5" height="2.8" fill="#1489c4"/>
<rect y="484.0" height="1.3" fill="#1573b6"/>
<rect y="485.0" height="1.3" fill="#147fbe"/>
<rect y="486.0" height="1.3" fill="#1474b7"/>
<rect y="487.0" height="2.8" fill="#147dbc"/>
<rect y="489.5" height="1.8" fill="#1572b5"/>
<rect y="491.0" height="2.8" fill="#1483c0"/>
<rect y="493.5" height="1.3" fill="#1475b7"/>
<rect y="494.5" height="2.3" fill="#1477b9"/>
<rect y="496.5" height="2.8" fill="#166db2"/>
<rect y="499.0" height="1.3" fill="#1574b6"/>
<rect y="500.0" height="1.3" fill="#1479ba"/>
<rect y="501.0" height="1.8" fill="#1475b7"/>
<rect y="502.5" height="2.8" fill="#1572b5"/>
<rect y="505.0" height="2.3" fill="#147bbb"/>
<rect y="507.0" height="1.8" fill="#1479ba"/>
<rect y="508.5" height="1.8" fill="#1484c0"/>
<rect y="510.0" height="2.3" fill="#1486c2"/>
<rect y="512.0" height="2.3" fill="#1482bf"/>
<rect y="514.0" height="2.8" fill="#319acd"/>
<rect y="516.5" height="2.3" fill="#359cce"/>
<rect y="518.5" height="2.3" fill="#70b3d9"/>
<rect y="520.5" height="1.3" fill="#148ec7"/>
<rect y="521.5" height="1.3" fill="#1992c9"/>
<rect y="522.5" height="2.3" fill="#1485c1"/>
<rect y="524.5" height="2.3" fill="#1484c1"/>
<rect y="526.5" height="2.3" fill="#309acd"/>
<rect y="528.5" height="2.3" fill="#147ebd"/>
<rect y="530.5" height="2.3" fill="#2395cb"/>
<rect y="532.5" height="1.3" fill="#2998cc"/>
<rect y="533.5" height="1.8" fill="#40a0d0"/>
<rect y="535.0" height="1.3" fill="#1f94ca"/>
<rect y="536.0" height="3.3" fill="#148bc5"/>
<rect y="539.0" height="2.3" fill="#148ac4"/>
<rect y="541.0" height="3.3" fill="#5babd5"/>
<rect y="544.0" height="2.3" fill="#1485c1"/>
<rect y="546.0" height="2.3" fill="#148dc6"/>
<rect y="548.0" height="3.3" fill="#148ec7"/>
<rect y="551.0" height="1.8" fill="#1488c3"/>
<rect y="552.5" height="2.8" fill="#1490c8"/>
<rect y="555.0" height="1.3" fill="#166db2"/>
<rect y="556.0" height="1.8" fill="#148dc6"/>
<rect y="557.5" height="2.8" fill="#2a98cc"/>
<rect y="560.0" height="2.3" fill="#148fc7"/>
<rect y="562.0" height="1.8" fill="#2596cb"/>
<rect y="563.5" height="3.3" fill="#148bc5"/>
<rect y="566.5" height="2.8" fill="#1476b8"/>
<rect y="569.0" height="1.3" fill="#72b4da"/>
<rect y="570.0" height="2.8" fill="#1691c8"/>
<rect y="572.5" height="2.3" fill="#1489c3"/>
<rect y="574.5" height="3.3" fill="#148bc5"/>
<rect y="577.5" height="1.3" fill="#1480be"/>
<rect y="578.5" height="0.6" fill="#1489c4"/>
</g>
<g class="hc3">
<rect y="81.0" height="2.3" fill="#1866ad"/>
<rect y="83.0" height="1.8" fill="#1573b6"/>
<rect y="84.5" height="2.3" fill="#166fb3"/>
<rect y="86.5" height="2.8" fill="#176aaf"/>
<rect y="89.0" height="1.3" fill="#1488c3"/>
<rect y="90.0" height="1.3" fill="#5eacd6"/>
<rect y="91.0" height="2.8" fill="#3e9fd0"/>
<rect y="93.5" height="1.3" fill="#66afd7"/>
<rect y="94.5" height="2.3" fill="#7bb7db"/>
<rect y="96.5" height="2.8" fill="#1484c1"/>
<rect y="99.0" height="1.3" fill="#349cce"/>
<rect y="100.0" height="2.8" fill="#43a1d1"/>
<rect y="102.5" height="1.8" fill="#77b6da"/>
<rect y="104.0" height="1.3" fill="#309acd"/>
<rect y="105.0" height="1.3" fill="#62add6"/>
<rect y="106.0" height="2.3" fill="#57a9d4"/>
<rect y="108.0" height="2.3" fill="#2395cb"/>
<rect y="110.0" height="1.3" fill="#148dc6"/>
<rect y="111.0" height="1.8" fill="#2a98cc"/>
<rect y="112.5" height="1.3" fill="#2496cb"/>
<rect y="113.5" height="2.8" fill="#4aa4d2"/>
<rect y="116.0" height="2.3" fill="#41a1d0"/>
<rect y="118.0" height="1.3" fill="#3d9fcf"/>
<rect y="119.0" height="2.8" fill="#55a8d4"/>
<rect y="121.5" height="1.3" fill="#73b4da"/>
<rect y="122.5" height="1.8" fill="#60add6"/>
<rect y="124.0" height="3.3" fill="#2094ca"/>
<rect y="127.0" height="1.3" fill="#148dc6"/>
<rect y="128.0" height="2.8" fill="#148ac4"/>
<rect y="130.5" height="1.3" fill="#1a92c9"/>
<rect y="131.5" height="2.8" fill="#148ec7"/>
<rect y="134.0" height="2.8" fill="#148ac5"/>
<rect y="136.5" height="2.3" fill="#148bc5"/>
<rect y="138.5" height="1.3" fill="#148cc6"/>
<rect y="139.5" height="1.8" fill="#148dc6"/>
<rect y="141.0" height="1.3" fill="#c6d9e8"/>
<rect y="142.0" height="2.8" fill="#bdd5e7"/>
<rect y="144.5" height="1.8" fill="#b8d3e6"/>
<rect y="146.0" height="2.3" fill="#c9dbe9"/>
<rect y="148.0" height="2.3" fill="#c8dbe9"/>
<rect y="150.0" height="1.8" fill="#d0deea"/>
<rect y="151.5" height="2.8" fill="#d0dfea"/>
<rect y="154.0" height="1.3" fill="#d4e1eb"/>
<rect y="155.0" height="2.8" fill="#c1d7e8"/>
<rect y="157.5" height="2.3" fill="#dce5ec"/>
<rect y="159.5" height="2.8" fill="#cddde9"/>
<rect y="162.0" height="3.3" fill="#bed6e7"/>
<rect y="165.0" height="1.8" fill="#b4d1e5"/>
<rect y="166.5" height="1.3" fill="#cbdce9"/>
<rect y="167.5" height="2.8" fill="#d1dfea"/>
<rect y="170.0" height="2.8" fill="#4ca5d2"/>
<rect y="172.5" height="3.3" fill="#a3c9e2"/>
<rect y="175.5" height="1.8" fill="#9ec6e2"/>
<rect y="177.0" height="2.3" fill="#accde4"/>
<rect y="179.0" height="1.3" fill="#92c1e0"/>
<rect y="180.0" height="2.8" fill="#b9d3e6"/>
<rect y="182.5" height="3.3" fill="#accde4"/>
<rect y="185.5" height="1.3" fill="#80b9dc"/>
<rect y="186.5" height="2.8" fill="#83badd"/>
<rect y="189.0" height="1.3" fill="#b2d0e5"/>
<rect y="190.0" height="2.8" fill="#96c2e0"/>
<rect y="192.5" height="1.8" fill="#a4c9e3"/>
<rect y="194.0" height="2.3" fill="#8fbfdf"/>
<rect y="196.0" height="3.3" fill="#7bb7db"/>
<rect y="199.0" height="1.3" fill="#78b6db"/>
<rect y="200.0" height="2.3" fill="#58a9d5"/>
<rect y="202.0" height="2.3" fill="#93c1e0"/>
<rect y="204.0" height="2.3" fill="#73b4da"/>
<rect y="206.0" height="2.8" fill="#57a9d4"/>
<rect y="208.5" height="2.3" fill="#46a2d1"/>
<rect y="210.5" height="2.3" fill="#60add6"/>
<rect y="212.5" height="2.3" fill="#4aa4d2"/>
<rect y="214.5" height="1.8" fill="#99c4e1"/>
<rect y="216.0" height="1.8" fill="#98c4e1"/>
<rect y="217.5" height="3.3" fill="#7bb7db"/>
<rect y="220.5" height="1.8" fill="#3d9fd0"/>
<rect y="222.0" height="1.3" fill="#9cc5e1"/>
<rect y="223.0" height="2.8" fill="#57a9d4"/>
<rect y="225.5" height="2.3" fill="#7cb8db"/>
<rect y="227.5" height="2.8" fill="#5dabd6"/>
<rect y="230.0" height="2.3" fill="#75b5da"/>
<rect y="232.0" height="1.8" fill="#61add6"/>
<rect y="233.5" height="3.3" fill="#f0d4c7"/>
<rect y="236.5" height="2.3" fill="#f0d6c9"/>
<rect y="238.5" height="2.3" fill="#eeedec"/>
<rect y="240.5" height="2.8" fill="#f0d4c8"/>
<rect y="243.0" height="1.3" fill="#efc1ac"/>
<rect y="244.0" height="1.3" fill="#efe6e1"/>
<rect y="245.0" height="2.8" fill="#f0d8cd"/>
<rect y="247.5" height="2.3" fill="#efcbbb"/>
<rect y="249.5" height="1.8" fill="#f0d6cb"/>
<rect y="251.0" height="2.3" fill="#efc8b6"/>
<rect y="253.0" height="1.8" fill="#f0d4c7"/>
<rect y="254.5" height="2.3" fill="#efe7e4"/>
<rect y="256.5" height="2.3" fill="#efe5e0"/>
<rect y="258.5" height="1.3" fill="#f0d8cd"/>
<rect y="259.5" height="3.3" fill="#efded7"/>
<rect y="262.5" height="1.3" fill="#efded6"/>
<rect y="263.5" height="2.8" fill="#efdfd7"/>
<rect y="266.0" height="2.8" fill="#f0dacf"/>
<rect y="268.5" height="2.3" fill="#f0d4c7"/>
<rect y="270.5" height="2.3" fill="#eeeded"/>
<rect y="272.5" height="3.3" fill="#efe3dd"/>
<rect y="275.5" height="2.3" fill="#efded6"/>
<rect y="277.5" height="2.8" fill="#f0d7cb"/>
<rect y="280.0" height="2.3" fill="#efe3dd"/>
<rect y="282.0" height="2.8" fill="#efe2db"/>
<rect y="284.5" height="2.3" fill="#f0d6c9"/>
<rect y="286.5" height="1.3" fill="#efddd4"/>
<rect y="287.5" height="1.3" fill="#efded6"/>
<rect y="288.5" height="2.3" fill="#efe6e1"/>
<rect y="290.5" height="2.3" fill="#efe0d9"/>
<rect y="292.5" height="0.8" fill="#f0d8cd"/>
<rect y="293.0" height="3.3" fill="#efcbbb"/>
<rect y="296.0" height="1.3" fill="#efbda6"/>
<rect y="297.0" height="1.3" fill="#eeb298"/>
<rect y="298.0" height="3.3" fill="#eaa185"/>
<rect y="301.0" height="3.3" fill="#efc8b6"/>
<rect y="304.0" height="2.3" fill="#efcbba"/>
<rect y="306.0" height="3.3" fill="#efbca5"/>
<rect y="309.0" height="2.8" fill="#efbea8"/>
<rect y="311.5" height="3.3" fill="#e68e70"/>
<rect y="314.5" height="2.3" fill="#efbea8"/>
<rect y="316.5" height="2.3" fill="#eeb59c"/>
<rect y="318.5" height="3.3" fill="#e79375"/>
<rect y="321.5" height="2.3" fill="#eeb79e"/>
<rect y="323.5" height="3.3" fill="#efc9b7"/>
<rect y="326.5" height="2.3" fill="#eeb59c"/>
<rect y="328.5" height="1.3" fill="#f0cebf"/>
<rect y="329.5" height="2.3" fill="#eeb59b"/>
<rect y="331.5" height="2.3" fill="#f0d3c5"/>
<rect y="333.5" height="1.8" fill="#e89679"/>
<rect y="335.0" height="2.8" fill="#eaa084"/>
<rect y="337.5" height="1.3" fill="#ecaa8f"/>
<rect y="338.5" height="2.3" fill="#e99b7e"/>
<rect y="340.5" height="1.3" fill="#efc2ae"/>
<rect y="341.5" height="1.8" fill="#e79476"/>
<rect y="343.0" height="2.3" fill="#e99a7d"/>
<rect y="345.0" height="1.8" fill="#efc4b1"/>
<rect y="346.5" height="3.3" fill="#e99b7e"/>
<rect y="349.5" height="1.8" fill="#efc0aa"/>
<rect y="351.0" height="2.3" fill="#f0d4c8"/>
<rect y="353.0" height="2.3" fill="#edae93"/>
<rect y="355.0" height="2.3" fill="#e68e70"/>
<rect y="357.0" height="1.3" fill="#eebaa2"/>
<rect y="358.0" height="1.8" fill="#eeb59b"/>
<rect y="359.5" height="2.3" fill="#efbfaa"/>
<rect y="361.5" height="2.3" fill="#efc6b3"/>
<rect y="363.5" height="2.8" fill="#efc0ab"/>
<rect y="366.0" height="2.3" fill="#efc2ae"/>
<rect y="368.0" height="1.8" fill="#e68c6e"/>
<rect y="369.5" height="2.3" fill="#eaa285"/>
<rect y="371.5" height="2.8" fill="#e99c7f"/>
<rect y="374.0" height="2.3" fill="#ecab90"/>
<rect y="376.0" height="3.3" fill="#eaa387"/>
<rect y="379.0" height="2.3" fill="#eba78b"/>
<rect y="381.0" height="2.3" fill="#efc2ae"/>
<rect y="383.0" height="3.3" fill="#eeeceb"/>
<rect y="386.0" height="2.3" fill="#eca88d"/>
<rect y="388.0" height="1.8" fill="#eeb59b"/>
<rect y="389.5" height="1.8" fill="#f0cdbe"/>
<rect y="391.0" height="1.3" fill="#e69072"/>
<rect y="392.0" height="1.8" fill="#eaa387"/>
<rect y="393.5" height="1.8" fill="#eba68a"/>
<rect y="395.0" height="1.8" fill="#eeb399"/>
<rect y="396.5" height="3.3" fill="#eaa084"/>
<rect y="399.5" height="1.8" fill="#ecab90"/>
<rect y="401.0" height="1.3" fill="#eba589"/>
<rect y="402.0" height="2.3" fill="#f0d4c7"/>
<rect y="404.0" height="2.8" fill="#f0d5c8"/>
<rect y="406.5" height="1.8" fill="#efc2ae"/>
<rect y="408.0" height="2.3" fill="#eeb297"/>
<rect y="410.0" height="2.3" fill="#eeb298"/>
<rect y="412.0" height="1.3" fill="#eebba3"/>
<rect y="413.0" height="1.8" fill="#eba488"/>
<rect y="414.5" height="2.3" fill="#eca88d"/>
<rect y="416.5" height="2.8" fill="#efc2ad"/>
<rect y="419.0" height="2.3" fill="#efc8b6"/>
<rect y="421.0" height="2.8" fill="#eaa286"/>
<rect y="423.5" height="2.8" fill="#efbfaa"/>
<rect y="426.0" height="2.3" fill="#efcbba"/>
<rect y="428.0" height="1.8" fill="#e99a7d"/>
<rect y="429.5" height="3.3" fill="#e99e82"/>
<rect y="432.5" height="2.8" fill="#f0d6ca"/>
<rect y="435.0" height="2.8" fill="#f0d5c8"/>
<rect y="437.5" height="3.3" fill="#eebba4"/>
<rect y="440.5" height="3.3" fill="#efbea9"/>
<rect y="443.5" height="3.3" fill="#ea9f83"/>
<rect y="446.5" height="1.3" fill="#eba78c"/>
<rect y="447.5" height="2.3" fill="#e8987b"/>
<rect y="449.5" height="2.8" fill="#f0cdbd"/>
<rect y="452.0" height="2.8" fill="#9f2629"/>
<rect y="454.5" height="2.3" fill="#a82928"/>
<rect y="456.5" height="2.3" fill="#99252a"/>
<rect y="458.5" height="2.3" fill="#a02729"/>
<rect y="460.5" height="2.3" fill="#93242a"/>
<rect y="462.5" height="1.3" fill="#892228"/>
<rect y="463.5" height="2.3" fill="#8d2328"/>
<rect y="465.5" height="3.3" fill="#93242a"/>
<rect y="468.5" height="1.8" fill="#99252a"/>
<rect y="470.0" height="1.3" fill="#c93c2a"/>
<rect y="471.0" height="1.8" fill="#c73929"/>
<rect y="472.5" height="1.3" fill="#c13127"/>
<rect y="473.5" height="1.8" fill="#c02f26"/>
<rect y="475.0" height="2.3" fill="#cb3e2a"/>
<rect y="477.0" height="1.8" fill="#d0462d"/>
<rect y="478.5" height="1.3" fill="#bf2f26"/>
<rect y="479.5" height="2.3" fill="#c83a29"/>
<rect y="481.5" height="2.8" fill="#c53628"/>
<rect y="484.0" height="1.3" fill="#c53628"/>
<rect y="485.0" height="1.3" fill="#c53728"/>
<rect y="486.0" height="1.3" fill="#c83b29"/>
<rect y="487.0" height="2.8" fill="#c83b2a"/>
<rect y="489.5" height="1.8" fill="#c23227"/>
<rect y="491.0" height="2.8" fill="#d44d30"/>
<rect y="493.5" height="1.3" fill="#bf2e26"/>
<rect y="494.5" height="2.3" fill="#c13127"/>
<rect y="496.5" height="2.8" fill="#bf2e26"/>
<rect y="499.0" height="1.3" fill="#c63729"/>
<rect y="500.0" height="1.3" fill="#c43528"/>
<rect y="501.0" height="1.8" fill="#ba2d26"/>
<rect y="502.5" height="2.8" fill="#c03027"/>
<rect y="505.0" height="2.3" fill="#d1472d"/>
<rect y="507.0" height="1.8" fill="#c63829"/>
<rect y="508.5" height="1.8" fill="#c93c2a"/>
<rect y="510.0" height="2.3" fill="#da5f40"/>
<rect y="512.0" height="2.3" fill="#d95d3f"/>
<rect y="514.0" height="2.8" fill="#e48667"/>
<rect y="516.5" height="2.3" fill="#e68e70"/>
<rect y="518.5" height="2.3" fill="#e17859"/>
<rect y="520.5" height="1.3" fill="#e17a5a"/>
<rect y="521.5" height="1.3" fill="#e8977a"/>
<rect y="522.5" height="2.3" fill="#dc6647"/>
<rect y="524.5" height="2.3" fill="#e07556"/>
<rect y="526.5" height="2.3" fill="#e27c5c"/>
<rect y="528.5" height="2.3" fill="#d8593b"/>
<rect y="530.5" height="2.3" fill="#eba88d"/>
<rect y="532.5" height="1.3" fill="#eeb69c"/>
<rect y="533.5" height="1.8" fill="#e79274"/>
<rect y="535.0" height="1.3" fill="#d8583b"/>
<rect y="536.0" height="3.3" fill="#d44a2e"/>
<rect y="539.0" height="2.3" fill="#dd6b4c"/>
<rect y="541.0" height="3.3" fill="#ecaa8e"/>
<rect y="544.0" height="2.3" fill="#e48767"/>
<rect y="546.0" height="2.3" fill="#e58a6b"/>
<rect y="548.0" height="3.3" fill="#db6546"/>
<rect y="551.0" height="1.8" fill="#db6446"/>
<rect y="552.5" height="2.8" fill="#e8997c"/>
<rect y="555.0" height="1.3" fill="#cb3f2b"/>
<rect y="556.0" height="1.8" fill="#e38061"/>
<rect y="557.5" height="2.8" fill="#ecaa8f"/>
<rect y="560.0" height="2.3" fill="#d95d3f"/>
<rect y="562.0" height="1.8" fill="#e27e5e"/>
<rect y="563.5" height="3.3" fill="#e48363"/>
<rect y="566.5" height="2.8" fill="#d55033"/>
<rect y="569.0" height="1.3" fill="#eebca5"/>
<rect y="570.0" height="2.8" fill="#e58869"/>
<rect y="572.5" height="2.3" fill="#e58869"/>
<rect y="574.5" height="3.3" fill="#e27c5c"/>
<rect y="577.5" height="1.3" fill="#d8593c"/>
<rect y="578.5" height="0.6" fill="#da6042"/>
</g>
<g class="hc4">
<rect y="81.0" height="2.3" fill="#1867ae"/>
<rect y="83.0" height="1.8" fill="#1475b7"/>
<rect y="84.5" height="2.3" fill="#176bb0"/>
<rect y="86.5" height="2.8" fill="#176cb1"/>
<rect y="89.0" height="1.3" fill="#2f9acd"/>
<rect y="90.0" height="1.3" fill="#79b7db"/>
<rect y="91.0" height="2.8" fill="#6ab1d8"/>
<rect y="93.5" height="1.3" fill="#5dabd5"/>
<rect y="94.5" height="2.3" fill="#57a9d4"/>
<rect y="96.5" height="2.8" fill="#148ac4"/>
<rect y="99.0" height="1.3" fill="#148dc6"/>
<rect y="100.0" height="2.8" fill="#389dcf"/>
<rect y="102.5" height="1.8" fill="#63aed7"/>
<rect y="104.0" height="1.3" fill="#66afd7"/>
<rect y="105.0" height="1.3" fill="#379dce"/>
<rect y="106.0" height="2.3" fill="#5babd5"/>
<rect y="108.0" height="2.3" fill="#1892c9"/>
<rect y="110.0" height="1.3" fill="#148bc5"/>
<rect y="111.0" height="1.8" fill="#309acd"/>
<rect y="112.5" height="1.3" fill="#1691c8"/>
<rect y="113.5" height="2.8" fill="#5babd5"/>
<rect y="116.0" height="2.3" fill="#67afd7"/>
<rect y="118.0" height="1.3" fill="#389dce"/>
<rect y="119.0" height="2.8" fill="#2b98cc"/>
<rect y="121.5" height="1.3" fill="#8cbede"/>
<rect y="122.5" height="1.8" fill="#45a2d1"/>
<rect y="124.0" height="3.3" fill="#51a7d3"/>
<rect y="127.0" height="1.3" fill="#1484c0"/>
<rect y="128.0" height="2.8" fill="#2d99cd"/>
<rect y="130.5" height="1.3" fill="#148bc5"/>
<rect y="131.5" height="2.8" fill="#1489c3"/>
<rect y="134.0" height="2.8" fill="#1480be"/>
<rect y="136.5" height="2.3" fill="#148fc7"/>
<rect y="138.5" height="1.3" fill="#148cc6"/>
<rect y="139.5" height="1.8" fill="#1486c2"/>
<rect y="141.0" height="1.3" fill="#d0dfea"/>
<rect y="142.0" height="2.8" fill="#b7d2e6"/>
<rect y="144.5" height="1.8" fill="#c4d9e8"/>
<rect y="146.0" height="2.3" fill="#d4e0ea"/>
<rect y="148.0" height="2.3" fill="#b3d0e5"/>
<rect y="150.0" height="1.8" fill="#c9dbe9"/>
<rect y="151.5" height="2.8" fill="#dae4eb"/>
<rect y="154.0" height="1.3" fill="#c0d7e8"/>
<rect y="155.0" height="2.8" fill="#c2d8e8"/>
<rect y="157.5" height="2.3" fill="#d5e1eb"/>
<rect y="159.5" height="2.8" fill="#cfdeea"/>
<rect y="162.0" height="3.3" fill="#d7e2eb"/>
<rect y="165.0" height="1.8" fill="#c8dae9"/>
<rect y="166.5" height="1.3" fill="#abcde4"/>
<rect y="167.5" height="2.8" fill="#d7e2eb"/>
<rect y="170.0" height="2.8" fill="#4ea6d3"/>
<rect y="172.5" height="3.3" fill="#8dbedf"/>
<rect y="175.5" height="1.8" fill="#84bbdd"/>
<rect y="177.0" height="2.3" fill="#a8cbe3"/>
<rect y="179.0" height="1.3" fill="#88bcde"/>
<rect y="180.0" height="2.8" fill="#bdd5e7"/>
<rect y="182.5" height="3.3" fill="#b3d0e5"/>
<rect y="185.5" height="1.3" fill="#7bb7db"/>
<rect y="186.5" height="2.8" fill="#88bcde"/>
<rect y="189.0" height="1.3" fill="#c2d8e8"/>
<rect y="190.0" height="2.8" fill="#a1c8e2"/>
<rect y="192.5" height="1.8" fill="#95c2e0"/>
<rect y="194.0" height="2.3" fill="#83badd"/>
<rect y="196.0" height="3.3" fill="#8fbfdf"/>
<rect y="199.0" height="1.3" fill="#6db2d9"/>
<rect y="200.0" height="2.3" fill="#52a7d3"/>
<rect y="202.0" height="2.3" fill="#82badd"/>
<rect y="204.0" height="2.3" fill="#59aad5"/>
<rect y="206.0" height="2.8" fill="#54a8d4"/>
<rect y="208.5" height="2.3" fill="#43a1d0"/>
<rect y="210.5" height="2.3" fill="#88bcde"/>
<rect y="212.5" height="2.3" fill="#75b5da"/>
<rect y="214.5" height="1.8" fill="#85bbdd"/>
<rect y="216.0" height="1.8" fill="#8bbede"/>
<rect y="217.5" height="3.3" fill="#7ab7db"/>
<rect y="220.5" height="1.8" fill="#44a2d1"/>
<rect y="222.0" height="1.3" fill="#86bbdd"/>
<rect y="223.0" height="2.8" fill="#4fa6d3"/>
<rect y="225.5" height="2.3" fill="#5cabd5"/>
<rect y="227.5" height="2.8" fill="#6cb1d8"/>
<rect y="230.0" height="2.3" fill="#4fa6d3"/>
<rect y="232.0" height="1.8" fill="#55a8d4"/>
<rect y="233.5" height="3.3" fill="#f0d9ce"/>
<rect y="236.5" height="2.3" fill="#f0dad0"/>
<rect y="238.5" height="2.3" fill="#efe7e3"/>
<rect y="240.5" height="2.8" fill="#f0d3c5"/>
<rect y="243.0" height="1.3" fill="#efbfaa"/>
<rect y="244.0" height="1.3" fill="#ecedee"/>
<rect y="245.0" height="2.8" fill="#f0d4c6"/>
<rect y="247.5" height="2.3" fill="#f0d6cb"/>
<rect y="249.5" height="1.8" fill="#efdfd8"/>
<rect y="251.0" height="2.3" fill="#f0d5c8"/>
<rect y="253.0" height="1.8" fill="#f0d8ce"/>
<rect y="254.5" height="2.3" fill="#efe4df"/>
<rect y="256.5" height="2.3" fill="#eeeceb"/>
<rect y="258.5" height="1.3" fill="#f0d6ca"/>
<rect y="259.5" height="3.3" fill="#efe4df"/>
<rect y="262.5" height="1.3" fill="#efe4de"/>
<rect y="263.5" height="2.8" fill="#efded6"/>
<rect y="266.0" height="2.8" fill="#f0cebe"/>
<rect y="268.5" height="2.3" fill="#f0d7cb"/>
<rect y="270.5" height="2.3" fill="#efe2dc"/>
<rect y="272.5" height="3.3" fill="#f0d9cf"/>
<rect y="275.5" height="2.3" fill="#f0dacf"/>
<rect y="277.5" height="2.8" fill="#efdfd8"/>
<rect y="280.0" height="2.3" fill="#efe2dc"/>
<rect y="282.0" height="2.8" fill="#f0d9ce"/>
<rect y="284.5" height="2.3" fill="#f0d5c9"/>
<rect y="286.5" height="1.3" fill="#f0d6ca"/>
<rect y="287.5" height="1.3" fill="#efe3dd"/>
<rect y="288.5" height="2.3" fill="#f0d9cf"/>
<rect y="290.5" height="2.3" fill="#f0d5c8"/>
<rect y="292.5" height="0.8" fill="#f0d2c5"/>
<rect y="293.0" height="3.3" fill="#efbfaa"/>
<rect y="296.0" height="1.3" fill="#eba68b"/>
<rect y="297.0" height="1.3" fill="#eeb69d"/>
<rect y="298.0" height="3.3" fill="#eaa185"/>
<rect y="301.0" height="3.3" fill="#eeb69d"/>
<rect y="304.0" height="2.3" fill="#efc2ae"/>
<rect y="306.0" height="3.3" fill="#edb095"/>
<rect y="309.0" height="2.8" fill="#ecac91"/>
<rect y="311.5" height="3.3" fill="#e37e5e"/>
<rect y="314.5" height="2.3" fill="#eeb298"/>
<rect y="316.5" height="2.3" fill="#f0cfc0"/>
<rect y="318.5" height="3.3" fill="#e79173"/>
<rect y="321.5" height="2.3" fill="#eeb59b"/>
<rect y="323.5" height="3.3" fill="#efc4b0"/>
<rect y="326.5" height="2.3" fill="#efbea8"/>
<rect y="328.5" height="1.3" fill="#f0d0c1"/>
<rect y="329.5" height="2.3" fill="#efc1ad"/>
<rect y="331.5" height="2.3" fill="#f0cfc0"/>
<rect y="333.5" height="1.8" fill="#e99d81"/>
<rect y="335.0" height="2.8" fill="#eaa387"/>
<rect y="337.5" height="1.3" fill="#efc0ab"/>
<rect y="338.5" height="2.3" fill="#e99b7e"/>
<rect y="340.5" height="1.3" fill="#edad92"/>
<rect y="341.5" height="1.8" fill="#eaa083"/>
<rect y="343.0" height="2.3" fill="#e99b7e"/>
<rect y="345.0" height="1.8" fill="#efc8b7"/>
<rect y="346.5" height="3.3" fill="#e68e70"/>
<rect y="349.5" height="1.8" fill="#ecac91"/>
<rect y="351.0" height="2.3" fill="#efc3af"/>
<rect y="353.0" height="2.3" fill="#edaf94"/>
<rect y="355.0" height="2.3" fill="#ecaa8e"/>
<rect y="357.0" height="1.3" fill="#efc9b7"/>
<rect y="358.0" height="1.8" fill="#efcab8"/>
<rect y="359.5" height="2.3" fill="#eebaa2"/>
<rect y="361.5" height="2.3" fill="#eca98e"/>
<rect y="363.5" height="2.8" fill="#efcab8"/>
<rect y="366.0" height="2.3" fill="#efc2ae"/>
<rect y="368.0" height="1.8" fill="#eba68a"/>
<rect y="369.5" height="2.3" fill="#e99e81"/>
<rect y="371.5" height="2.8" fill="#edae93"/>
<rect y="374.0" height="2.3" fill="#efc5b2"/>
<rect y="376.0" height="3.3" fill="#ea9f83"/>
<rect y="379.0" height="2.3" fill="#eba78c"/>
<rect y="381.0" height="2.3" fill="#efc2ad"/>
<rect y="383.0" height="3.3" fill="#efc8b6"/>
<rect y="386.0" height="2.3" fill="#edae94"/>
<rect y="388.0" height="1.8" fill="#efbea8"/>
<rect y="389.5" height="1.8" fill="#efc0ab"/>
<rect y="391.0" height="1.3" fill="#edb197"/>
<rect y="392.0" height="1.8" fill="#ea9f82"/>
<rect y="393.5" height="1.8" fill="#ecac92"/>
<rect y="395.0" height="1.8" fill="#edae94"/>
<rect y="396.5" height="3.3" fill="#e48465"/>
<rect y="399.5" height="1.8" fill="#eeb79f"/>
<rect y="401.0" height="1.3" fill="#e68c6e"/>
<rect y="402.0" height="2.3" fill="#f0cfc1"/>
<rect y="404.0" height="2.8" fill="#eebca5"/>
<rect y="406.5" height="1.8" fill="#eeb59c"/>
<rect y="408.0" height="2.3" fill="#eeb9a1"/>
<rect y="410.0" height="2.3" fill="#ecaa8f"/>
<rect y="412.0" height="1.3" fill="#eeb298"/>
<rect y="413.0" height="1.8" fill="#edb196"/>
<rect y="414.5" height="2.3" fill="#eba68b"/>
<rect y="416.5" height="2.8" fill="#f0d2c4"/>
<rect y="419.0" height="2.3" fill="#f0cdbd"/>
<rect y="421.0" height="2.8" fill="#edb197"/>
<rect y="423.5" height="2.8" fill="#efc4b1"/>
<rect y="426.0" height="2.3" fill="#efbda6"/>
<rect y="428.0" height="1.8" fill="#e68e70"/>
<rect y="429.5" height="3.3" fill="#eba88d"/>
<rect y="432.5" height="2.8" fill="#f0d3c6"/>
<rect y="435.0" height="2.8" fill="#eeb59b"/>
<rect y="437.5" height="3.3" fill="#f0d5c8"/>
<rect y="440.5" height="3.3" fill="#efbfaa"/>
<rect y="443.5" height="3.3" fill="#edb095"/>
<rect y="446.5" height="1.3" fill="#e8987b"/>
<rect y="447.5" height="2.3" fill="#eba68a"/>
<rect y="449.5" height="2.8" fill="#eebaa2"/>
<rect y="452.0" height="2.8" fill="#9f2629"/>
<rect y="454.5" height="2.3" fill="#a32729"/>
<rect y="456.5" height="2.3" fill="#9d2629"/>
<rect y="458.5" height="2.3" fill="#a42829"/>
<rect y="460.5" height="2.3" fill="#95242a"/>
<rect y="462.5" height="1.3" fill="#8a2228"/>
<rect y="463.5" height="2.3" fill="#8d2329"/>
<rect y="465.5" height="3.3" fill="#902329"/>
<rect y="468.5" height="1.8" fill="#97252a"/>
<rect y="470.0" height="1.3" fill="#c03026"/>
<rect y="471.0" height="1.8" fill="#c43528"/>
<rect y="472.5" height="1.3" fill="#bd2d26"/>
<rect y="473.5" height="1.8" fill="#cb3f2b"/>
<rect y="475.0" height="2.3" fill="#c93c2a"/>
<rect y="477.0" height="1.8" fill="#d65336"/>
<rect y="478.5" height="1.3" fill="#c53628"/>
<rect y="479.5" height="2.3" fill="#c63829"/>
<rect y="481.5" height="2.8" fill="#c63729"/>
<rect y="484.0" height="1.3" fill="#c13127"/>
<rect y="485.0" height="1.3" fill="#c93c2a"/>
<rect y="486.0" height="1.3" fill="#c73929"/>
<rect y="487.0" height="2.8" fill="#c23127"/>
<rect y="489.5" height="1.8" fill="#bb2d26"/>
<rect y="491.0" height="2.8" fill="#cf442c"/>
<rect y="493.5" height="1.3" fill="#b92d27"/>
<rect y="494.5" height="2.3" fill="#cb3e2a"/>
<rect y="496.5" height="2.8" fill="#bb2d26"/>
<rect y="499.0" height="1.3" fill="#c23227"/>
<rect y="500.0" height="1.3" fill="#c93c2a"/>
<rect y="501.0" height="1.8" fill="#be2e26"/>
<rect y="502.5" height="2.8" fill="#c33327"/>
<rect y="505.0" height="2.3" fill="#c73a29"/>
<rect y="507.0" height="1.8" fill="#bf2f26"/>
<rect y="508.5" height="1.8" fill="#c73929"/>
<rect y="510.0" height="2.3" fill="#e48768"/>
<rect y="512.0" height="2.3" fill="#d95b3d"/>
<rect y="514.0" height="2.8" fill="#eeb59c"/>
<rect y="516.5" height="2.3" fill="#e58b6c"/>
<rect y="518.5" height="2.3" fill="#e38262"/>
<rect y="520.5" height="1.3" fill="#e79375"/>
<rect y="521.5" height="1.3" fill="#eaa387"/>
<rect y="522.5" height="2.3" fill="#d95b3d"/>
<rect y="524.5" height="2.3" fill="#e69072"/>
<rect y="526.5" height="2.3" fill="#e99a7d"/>
<rect y="528.5" height="2.3" fill="#df7354"/>
<rect y="530.5" height="2.3" fill="#ecab8f"/>
<rect y="532.5" height="1.3" fill="#e8977a"/>
<rect y="533.5" height="1.8" fill="#e79376"/>
<rect y="535.0" height="1.3" fill="#df7152"/>
<rect y="536.0" height="3.3" fill="#db6244"/>
<rect y="539.0" height="2.3" fill="#d65235"/>
<rect y="541.0" height="3.3" fill="#e79577"/>
<rect y="544.0" height="2.3" fill="#e58b6c"/>
<rect y="546.0" height="2.3" fill="#e68f71"/>
<rect y="548.0" height="3.3" fill="#db6244"/>
<rect y="551.0" height="1.8" fill="#e07657"/>
<rect y="552.5" height="2.8" fill="#e99e81"/>
<rect y="555.0" height="1.3" fill="#c63729"/>
<rect y="556.0" height="1.8" fill="#e68d6f"/>
<rect y="557.5" height="2.8" fill="#eeb69c"/>
<rect y="560.0" height="2.3" fill="#da6243"/>
<rect y="562.0" height="1.8" fill="#e07656"/>
<rect y="563.5" height="3.3" fill="#e27e5e"/>
<rect y="566.5" height="2.8" fill="#cb3f2b"/>
<rect y="569.0" height="1.3" fill="#eebca5"/>
<rect y="570.0" height="2.8" fill="#e79275"/>
<rect y="572.5" height="2.3" fill="#e68d6f"/>
<rect y="574.5" height="3.3" fill="#de6f50"/>
<rect y="577.5" height="1.3" fill="#e27e5e"/>
<rect y="578.5" height="0.6" fill="#d44b2e"/>
</g>
<g class="hc5">
<rect y="81.0" height="2.3" fill="#1867ae"/>
<rect y="83.0" height="1.8" fill="#1573b6"/>
<rect y="84.5" height="2.3" fill="#1572b5"/>
<rect y="86.5" height="2.8" fill="#1868ae"/>
<rect y="89.0" height="1.3" fill="#1485c1"/>
<rect y="90.0" height="1.3" fill="#61add6"/>
<rect y="91.0" height="2.8" fill="#3b9ecf"/>
<rect y="93.5" height="1.3" fill="#59aad5"/>
<rect y="94.5" height="2.3" fill="#82badc"/>
<rect y="96.5" height="2.8" fill="#1483c0"/>
<rect y="99.0" height="1.3" fill="#1992c9"/>
<rect y="100.0" height="2.8" fill="#1992c9"/>
<rect y="102.5" height="1.8" fill="#60add6"/>
<rect y="104.0" height="1.3" fill="#45a2d1"/>
<rect y="105.0" height="1.3" fill="#64aed7"/>
<rect y="106.0" height="2.3" fill="#69b0d8"/>
<rect y="108.0" height="2.3" fill="#1490c8"/>
<rect y="110.0" height="1.3" fill="#1a92c9"/>
<rect y="111.0" height="1.8" fill="#2c99cc"/>
<rect y="112.5" height="1.3" fill="#4ca5d2"/>
<rect y="113.5" height="2.8" fill="#61add6"/>
<rect y="116.0" height="2.3" fill="#7cb8db"/>
<rect y="118.0" height="1.3" fill="#148dc6"/>
<rect y="119.0" height="2.8" fill="#49a3d2"/>
<rect y="121.5" height="1.3" fill="#5facd6"/>
<rect y="122.5" height="1.8" fill="#5aaad5"/>
<rect y="124.0" height="3.3" fill="#399ecf"/>
<rect y="127.0" height="1.3" fill="#4fa6d3"/>
<rect y="128.0" height="2.8" fill="#148bc5"/>
<rect y="130.5" height="1.3" fill="#148dc6"/>
<rect y="131.5" height="2.8" fill="#1488c3"/>
<rect y="134.0" height="2.8" fill="#1480be"/>
<rect y="136.5" height="2.3" fill="#148ac4"/>
<rect y="138.5" height="1.3" fill="#1484c1"/>
<rect y="139.5" height="1.8" fill="#148ac4"/>
<rect y="141.0" height="1.3" fill="#d0deea"/>
<rect y="142.0" height="2.8" fill="#c3d8e8"/>
<rect y="144.5" height="1.8" fill="#b4d1e5"/>
<rect y="146.0" height="2.3" fill="#cdddea"/>
<rect y="148.0" height="2.3" fill="#d2e0ea"/>
<rect y="150.0" height="1.8" fill="#ceddea"/>
<rect y="151.5" height="2.8" fill="#c9dbe9"/>
<rect y="154.0" height="1.3" fill="#cadce9"/>
<rect y="155.0" height="2.8" fill="#cfdeea"/>
<rect y="157.5" height="2.3" fill="#ccdce9"/>
<rect y="159.5" height="2.8" fill="#ccdde9"/>
<rect y="162.0" height="3.3" fill="#d4e1ea"/>
<rect y="165.0" height="1.8" fill="#b3d1e5"/>
<rect y="166.5" height="1.3" fill="#a7cbe3"/>
<rect y="167.5" height="2.8" fill="#c3d8e8"/>
<rect y="170.0" height="2.8" fill="#2797cb"/>
<rect y="172.5" height="3.3" fill="#98c3e1"/>
<rect y="175.5" height="1.8" fill="#afcee4"/>
<rect y="177.0" height="2.3" fill="#ccdde9"/>
<rect y="179.0" height="1.3" fill="#64aed7"/>
<rect y="180.0" height="2.8" fill="#c6dae9"/>
<rect y="182.5" height="3.3" fill="#c2d8e8"/>
<rect y="185.5" height="1.3" fill="#5eacd6"/>
<rect y="186.5" height="2.8" fill="#64aed7"/>
<rect y="189.0" height="1.3" fill="#93c1e0"/>
<rect y="190.0" height="2.8" fill="#91c0df"/>
<rect y="192.5" height="1.8" fill="#9ec6e2"/>
<rect y="194.0" height="2.3" fill="#83badd"/>
<rect y="196.0" height="3.3" fill="#89bdde"/>
<rect y="199.0" height="1.3" fill="#6fb2d9"/>
<rect y="200.0" height="2.3" fill="#4ca5d2"/>
<rect y="202.0" height="2.3" fill="#93c1e0"/>
<rect y="204.0" height="2.3" fill="#7eb8dc"/>
<rect y="206.0" height="2.8" fill="#3f9fd0"/>
<rect y="208.5" height="2.3" fill="#4ba5d2"/>
<rect y="210.5" height="2.3" fill="#90bfdf"/>
<rect y="212.5" height="2.3" fill="#67afd7"/>
<rect y="214.5" height="1.8" fill="#72b4d9"/>
<rect y="216.0" height="1.8" fill="#87bcdd"/>
<rect y="217.5" height="3.3" fill="#8ebfdf"/>
<rect y="220.5" height="1.8" fill="#3fa0d0"/>
<rect y="222.0" height="1.3" fill="#72b3d9"/>
<rect y="223.0" height="2.8" fill="#78b6db"/>
<rect y="225.5" height="2.3" fill="#6eb2d9"/>
<rect y="227.5" height="2.8" fill="#87bcdd"/>
<rect y="230.0" height="2.3" fill="#57a9d4"/>
<rect y="232.0" height="1.8" fill="#6bb1d8"/>
<rect y="233.5" height="3.3" fill="#f0d6ca"/>
<rect y="236.5" height="2.3" fill="#f0d0c2"/>
<rect y="238.5" height="2.3" fill="#edeeee"/>
<rect y="240.5" height="2.8" fill="#f0d9cf"/>
<rect y="243.0" height="1.3" fill="#efcbba"/>
<rect y="244.0" height="1.3" fill="#efe7e4"/>
<rect y="245.0" height="2.8" fill="#f0d3c6"/>
<rect y="247.5" height="2.3" fill="#efc4b1"/>
<rect y="249.5" height="1.8" fill="#efddd4"/>
<rect y="251.0" height="2.3" fill="#f0d4c7"/>
<rect y="253.0" height="1.8" fill="#f0d8cd"/>
<rect y="254.5" height="2.3" fill="#eeebe9"/>
<rect y="256.5" height="2.3" fill="#ededee"/>
<rect y="258.5" height="1.3" fill="#f0cebe"/>
<rect y="259.5" height="3.3" fill="#efded7"/>
<rect y="262.5" height="1.3" fill="#ebedee"/>
<rect y="263.5" height="2.8" fill="#f0d7cb"/>
<rect y="266.0" height="2.8" fill="#f0d4c7"/>
<rect y="268.5" height="2.3" fill="#efdbd2"/>
<rect y="270.5" height="2.3" fill="#efddd4"/>
<rect y="272.5" height="3.3" fill="#eeeceb"/>
<rect y="275.5" height="2.3" fill="#f0cfc0"/>
<rect y="277.5" height="2.8" fill="#f0d5c9"/>
<rect y="280.0" height="2.3" fill="#eeedec"/>
<rect y="282.0" height="2.8" fill="#efe6e2"/>
<rect y="284.5" height="2.3" fill="#efc5b2"/>
<rect y="286.5" height="1.3" fill="#f0d8cd"/>
<rect y="287.5" height="1.3" fill="#efe5e1"/>
<rect y="288.5" height="2.3" fill="#efdcd3"/>
<rect y="290.5" height="2.3" fill="#efddd5"/>
<rect y="292.5" height="0.8" fill="#f0d5c9"/>
<rect y="293.0" height="3.3" fill="#efc6b3"/>
<rect y="296.0" height="1.3" fill="#eca98d"/>
<rect y="297.0" height="1.3" fill="#eeb69d"/>
<rect y="298.0" height="3.3" fill="#eaa084"/>
<rect y="301.0" height="3.3" fill="#eeb59c"/>
<rect y="304.0" height="2.3" fill="#efc2ae"/>
<rect y="306.0" height="3.3" fill="#e99c7f"/>
<rect y="309.0" height="2.8" fill="#eba88d"/>
<rect y="311.5" height="3.3" fill="#e8977a"/>
<rect y="314.5" height="2.3" fill="#eba488"/>
<rect y="316.5" height="2.3" fill="#f0ccbc"/>
<rect y="318.5" height="3.3" fill="#e89678"/>
<rect y="321.5" height="2.3" fill="#ea9f82"/>
<rect y="323.5" height="3.3" fill="#f0cebf"/>
<rect y="326.5" height="2.3" fill="#efc2ae"/>
<rect y="328.5" height="1.3" fill="#f0d2c4"/>
<rect y="329.5" height="2.3" fill="#edae93"/>
<rect y="331.5" height="2.3" fill="#f0dad0"/>
<rect y="333.5" height="1.8" fill="#edb197"/>
<rect y="335.0" height="2.8" fill="#eaa387"/>
<rect y="337.5" height="1.3" fill="#efc0ab"/>
<rect y="338.5" height="2.3" fill="#e99a7e"/>
<rect y="340.5" height="1.3" fill="#efc7b4"/>
<rect y="341.5" height="1.8" fill="#e99e81"/>
<rect y="343.0" height="2.3" fill="#eba68b"/>
<rect y="345.0" height="1.8" fill="#efc1ac"/>
<rect y="346.5" height="3.3" fill="#e68e70"/>
<rect y="349.5" height="1.8" fill="#eeb79e"/>
<rect y="351.0" height="2.3" fill="#efbea8"/>
<rect y="353.0" height="2.3" fill="#e99c7f"/>
<rect y="355.0" height="2.3" fill="#ecab90"/>
<rect y="357.0" height="1.3" fill="#efc0aa"/>
<rect y="358.0" height="1.8" fill="#f0cebe"/>
<rect y="359.5" height="2.3" fill="#eeb69d"/>
<rect y="361.5" height="2.3" fill="#efbda6"/>
<rect y="363.5" height="2.8" fill="#efc1ac"/>
<rect y="366.0" height="2.3" fill="#efbea8"/>
<rect y="368.0" height="1.8" fill="#e8977a"/>
<rect y="369.5" height="2.3" fill="#eeb79e"/>
<rect y="371.5" height="2.8" fill="#e8997c"/>
<rect y="374.0" height="2.3" fill="#eaa387"/>
<rect y="376.0" height="3.3" fill="#e99b7e"/>
<rect y="379.0" height="2.3" fill="#edb197"/>
<rect y="381.0" height="2.3" fill="#edaf94"/>
<rect y="383.0" height="3.3" fill="#f0cfc0"/>
<rect y="386.0" height="2.3" fill="#edb196"/>
<rect y="388.0" height="1.8" fill="#eeb49b"/>
<rect y="389.5" height="1.8" fill="#f0cdbd"/>
<rect y="391.0" height="1.3" fill="#eba88d"/>
<rect y="392.0" height="1.8" fill="#e68c6d"/>
<rect y="393.5" height="1.8" fill="#eebba4"/>
<rect y="395.0" height="1.8" fill="#eaa083"/>
<rect y="396.5" height="3.3" fill="#e58a6b"/>
<rect y="399.5" height="1.8" fill="#eba78b"/>
<rect y="401.0" height="1.3" fill="#eca88d"/>
<rect y="402.0" height="2.3" fill="#efbda7"/>
<rect y="404.0" height="2.8" fill="#f0d1c2"/>
<rect y="406.5" height="1.8" fill="#efbda7"/>
<rect y="408.0" height="2.3" fill="#edb095"/>
<rect y="410.0" height="2.3" fill="#efbda7"/>
<rect y="412.0" height="1.3" fill="#efc3af"/>
<rect y="413.0" height="1.8" fill="#e99b7f"/>
<rect y="414.5" height="2.3" fill="#eeb69d"/>
<rect y="416.5" height="2.8" fill="#eeb69d"/>
<rect y="419.0" height="2.3" fill="#eeb59c"/>
<rect y="421.0" height="2.8" fill="#edad92"/>
<rect y="423.5" height="2.8" fill="#efc1ac"/>
<rect y="426.0" height="2.3" fill="#eeb9a1"/>
<rect y="428.0" height="1.8" fill="#ecaa8f"/>
<rect y="429.5" height="3.3" fill="#e99d81"/>
<rect y="432.5" height="2.8" fill="#f0ccbc"/>
<rect y="435.0" height="2.8" fill="#efc3b0"/>
<rect y="437.5" height="3.3" fill="#efdbd2"/>
<rect y="440.5" height="3.3" fill="#eeb8a0"/>
<rect y="443.5" height="3.3" fill="#edae93"/>
<rect y="446.5" height="1.3" fill="#e79375"/>
<rect y="447.5" height="2.3" fill="#e99b7e"/>
<rect y="449.5" height="2.8" fill="#f0d3c5"/>
<rect y="452.0" height="2.8" fill="#9f2629"/>
<rect y="454.5" height="2.3" fill="#a72828"/>
<rect y="456.5" height="2.3" fill="#9d2629"/>
<rect y="458.5" height="2.3" fill="#a32729"/>
<rect y="460.5" height="2.3" fill="#912329"/>
<rect y="462.5" height="1.3" fill="#8c2228"/>
<rect y="463.5" height="2.3" fill="#912329"/>
<rect y="465.5" height="3.3" fill="#922429"/>
<rect y="468.5" height="1.8" fill="#94242a"/>
<rect y="470.0" height="1.3" fill="#bf2e26"/>
<rect y="471.0" height="1.8" fill="#cb3e2a"/>
<rect y="472.5" height="1.3" fill="#c13027"/>
<rect y="473.5" height="1.8" fill="#c73a29"/>
<rect y="475.0" height="2.3" fill="#c63729"/>
<rect y="477.0" height="1.8" fill="#d3492e"/>
<rect y="478.5" height="1.3" fill="#c63829"/>
<rect y="479.5" height="2.3" fill="#c83b2a"/>
<rect y="481.5" height="2.8" fill="#c93c2a"/>
<rect y="484.0" height="1.3" fill="#c03026"/>
<rect y="485.0" height="1.3" fill="#c93c2a"/>
<rect y="486.0" height="1.3" fill="#cd412b"/>
<rect y="487.0" height="2.8" fill="#c93c2a"/>
<rect y="489.5" height="1.8" fill="#bc2d26"/>
<rect y="491.0" height="2.8" fill="#cc402b"/>
<rect y="493.5" height="1.3" fill="#c02f26"/>
<rect y="494.5" height="2.3" fill="#c43528"/>
<rect y="496.5" height="2.8" fill="#c53628"/>
<rect y="499.0" height="1.3" fill="#c33327"/>
<rect y="500.0" height="1.3" fill="#cb3f2b"/>
<rect y="501.0" height="1.8" fill="#c13127"/>
<rect y="502.5" height="2.8" fill="#bf2e26"/>
<rect y="505.0" height="2.3" fill="#c93c2a"/>
<rect y="507.0" height="1.8" fill="#c33327"/>
<rect y="508.5" height="1.8" fill="#c43528"/>
<rect y="510.0" height="2.3" fill="#e38060"/>
<rect y="512.0" height="2.3" fill="#d2492d"/>
<rect y="514.0" height="2.8" fill="#edae93"/>
<rect y="516.5" height="2.3" fill="#e68c6e"/>
<rect y="518.5" height="2.3" fill="#e48667"/>
<rect y="520.5" height="1.3" fill="#df7354"/>
<rect y="521.5" height="1.3" fill="#e89779"/>
<rect y="522.5" height="2.3" fill="#ce432c"/>
<rect y="524.5" height="2.3" fill="#e79173"/>
<rect y="526.5" height="2.3" fill="#df7152"/>
<rect y="528.5" height="2.3" fill="#d3492d"/>
<rect y="530.5" height="2.3" fill="#e79577"/>
<rect y="532.5" height="1.3" fill="#edaf95"/>
<rect y="533.5" height="1.8" fill="#e79173"/>
<rect y="535.0" height="1.3" fill="#da6042"/>
<rect y="536.0" height="3.3" fill="#d65436"/>
<rect y="539.0" height="2.3" fill="#df7152"/>
<rect y="541.0" height="3.3" fill="#edaf94"/>
<rect y="544.0" height="2.3" fill="#e07657"/>
<rect y="546.0" height="2.3" fill="#e38061"/>
<rect y="548.0" height="3.3" fill="#dc6849"/>
<rect y="551.0" height="1.8" fill="#dd6c4d"/>
<rect y="552.5" height="2.8" fill="#e68c6e"/>
<rect y="555.0" height="1.3" fill="#c23327"/>
<rect y="556.0" height="1.8" fill="#eaa286"/>
<rect y="557.5" height="2.8" fill="#eba68b"/>
<rect y="560.0" height="2.3" fill="#e17959"/>
<rect y="562.0" height="1.8" fill="#e48666"/>
<rect y="563.5" height="3.3" fill="#de7051"/>
<rect y="566.5" height="2.8" fill="#d3492e"/>
<rect y="569.0" height="1.3" fill="#eeb89f"/>
<rect y="570.0" height="2.8" fill="#e5896a"/>
<rect y="572.5" height="2.3" fill="#e69072"/>
<rect y="574.5" height="3.3" fill="#db6345"/>
<rect y="577.5" height="1.3" fill="#dd6c4d"/>
<rect y="578.5" height="0.6" fill="#e27c5c"/>
</g>
<rect x="232.0" y="315.5" width="42.73" height="3.5" fill="#ce432c"/>
<rect x="146.5" y="315.5" width="42.73" height="3.5" fill="#1489c3"/>
</g>
<path d="M167.9,81 V73.5 H210.6 V81" fill="none" stroke="#222" stroke-width="1.20" />
<path d="M125.2,81 V72.2 H189.3 V73.5" fill="none" stroke="#222" stroke-width="1.20" />
<path d="M296.1,81 V71.0 H338.8 V81" fill="none" stroke="#222" stroke-width="1.20" />
<path d="M253.4,81 V68.2 H317.5 V71.0" fill="none" stroke="#222" stroke-width="1.20" />
<path d="M157.2,72.2 V2 H285.4 V68.2" fill="none" stroke="#222" stroke-width="1.20" />
<g fill="none" stroke="#000" stroke-width="0.85">
<path d="M103.6,81.3 H95.2 V82.2 H103.6 M103.6,83.5 H95.3 V84.5 H103.6 M95.2,81.8 H94.4 V84.0 H95.3 M103.6,87.5 H97.2 V88.5 H103.6 M103.6,86.4 H95.8 V88.0 H97.2 M103.6,85.4 H94.8 V87.2 H95.8 M94.4,82.9 H93.5 V86.3 H94.8"/>
<path d="M103.6,89.6 H99.1 V90.7 H103.6 M103.6,91.9 H99.5 V93.1 H103.6 M99.1,90.1 H98.3 V92.5 H99.5 M103.6,95.7 H101.2 V96.9 H103.6 M103.6,94.4 H100.0 V96.3 H101.2 M103.6,97.9 H101.2 V98.9 H103.6 M101.2,98.4 H99.9 V99.8 H103.6 M100.0,95.4 H99.5 V99.1 H99.9 M103.6,101.0 H99.3 V102.1 H103.6 M99.5,97.2 H98.1 V101.6 H99.3 M98.3,91.3 H97.8 V99.4 H98.1 M103.6,104.9 H101.6 V105.8 H103.6 M103.6,104.1 H100.8 V105.3 H101.6 M103.6,103.0 H99.7 V104.7 H100.8 M103.6,107.1 H99.8 V108.3 H103.6 M99.7,103.9 H99.3 V107.7 H99.8 M103.6,110.7 H102.4 V111.9 H103.6 M103.6,109.4 H101.2 V111.3 H102.4 M103.6,112.7 H101.9 V113.7 H103.6 M101.2,110.4 H100.6 V113.2 H101.9 M103.6,116.3 H102.5 V117.7 H103.6 M103.6,114.9 H102.0 V117.0 H102.5 M103.6,118.7 H102.6 V119.8 H103.6 M102.6,119.3 H102.6 V120.9 H103.6 M102.6,120.1 H102.5 V122.0 H103.6 M102.5,121.0 H101.8 V123.4 H103.6 M102.0,116.0 H101.5 V122.2 H101.8 M100.6,111.8 H100.1 V119.1 H101.5 M99.3,105.8 H98.7 V115.4 H100.1 M103.6,125.8 H100.3 V127.0 H103.6 M103.6,124.6 H99.8 V126.4 H100.3 M103.6,128.1 H99.4 V129.5 H103.6 M99.8,125.5 H99.1 V128.8 H99.4 M103.6,131.7 H101.0 V132.8 H103.6 M103.6,130.7 H100.5 V132.2 H101.0 M103.6,135.1 H100.9 V136.2 H103.6 M103.6,134.0 H100.3 V135.6 H100.9 M100.5,131.5 H99.3 V134.8 H100.3 M103.6,137.0 H101.8 V137.9 H103.6 M101.8,137.4 H100.9 V139.1 H103.6 M100.9,138.3 H99.5 V140.3 H103.6 M99.3,133.2 H99.0 V139.3 H99.5 M99.1,127.1 H97.8 V136.2 H99.0 M98.7,110.6 H96.9 V131.7 H97.8 M97.8,95.4 H96.5 V121.1 H96.9"/>
<path d="M103.6,141.7 H102.5 V142.7 H103.6 M102.5,142.2 H101.4 V143.7 H103.6 M103.6,145.0 H102.6 V146.0 H103.6 M102.6,145.5 H101.6 V146.8 H103.6 M101.4,142.9 H100.3 V146.2 H101.6 M103.6,147.8 H101.4 V148.8 H103.6 M101.4,148.3 H100.2 V149.8 H103.6 M103.6,150.6 H100.9 V151.8 H103.6 M100.2,149.0 H99.9 V151.2 H100.9 M103.6,153.0 H100.4 V154.2 H103.6 M100.4,153.6 H100.1 V155.6 H103.6 M99.9,150.1 H99.2 V154.6 H100.1 M100.3,144.6 H98.9 V152.4 H99.2 M103.6,157.0 H100.4 V158.1 H103.6 M103.6,158.9 H102.3 V159.7 H103.6 M102.3,159.3 H101.7 V160.7 H103.6 M101.7,160.0 H100.7 V161.6 H103.6 M100.4,157.5 H100.2 V160.8 H100.7 M103.6,162.7 H102.4 V163.8 H103.6 M103.6,165.0 H102.2 V165.9 H103.6 M102.4,163.3 H101.8 V165.5 H102.2 M103.6,166.6 H101.2 V167.5 H103.6 M101.8,164.4 H100.5 V167.0 H101.2 M100.2,159.2 H99.2 V165.7 H100.5 M98.9,148.5 H98.2 V162.4 H99.2 M103.6,169.2 H98.6 V170.0 H103.6 M103.6,168.3 H98.4 V169.6 H98.6 M98.4,169.0 H97.6 V170.8 H103.6 M103.6,171.7 H98.5 V172.8 H103.6 M98.5,172.2 H98.3 V173.9 H103.6 M97.6,169.9 H97.1 V173.0 H98.3 M103.6,175.1 H98.4 V176.3 H103.6 M103.6,177.4 H98.6 V178.3 H103.6 M98.4,175.7 H97.7 V177.9 H98.6 M103.6,179.5 H97.8 V180.7 H103.6 M103.6,181.7 H99.4 V182.8 H103.6 M103.6,183.9 H100.4 V184.8 H103.6 M100.4,184.3 H99.2 V185.5 H103.6 M99.4,182.3 H98.3 V184.9 H99.2 M97.8,180.1 H97.6 V183.6 H98.3 M97.7,176.8 H97.3 V181.8 H97.6 M97.1,171.5 H96.4 V179.3 H97.3 M98.2,155.4 H96.0 V175.4 H96.4"/>
<path d="M103.6,186.4 H101.2 V187.7 H103.6 M101.2,187.0 H100.2 V189.1 H103.6 M103.6,190.1 H101.6 V191.1 H103.6 M101.6,190.6 H100.8 V192.1 H103.6 M100.2,188.1 H99.7 V191.4 H100.8 M103.6,194.4 H99.9 V195.5 H103.6 M103.6,193.2 H99.2 V194.9 H99.9 M99.7,189.7 H98.4 V194.1 H99.2 M103.6,196.6 H100.4 V197.7 H103.6 M100.4,197.2 H99.9 V198.7 H103.6 M103.6,199.8 H101.8 V200.8 H103.6 M101.8,200.3 H101.5 V201.7 H103.6 M103.6,202.7 H100.9 V203.6 H103.6 M101.5,201.0 H100.1 V203.1 H100.9 M103.6,204.9 H100.8 V206.1 H103.6 M103.6,207.2 H100.9 V208.3 H103.6 M100.8,205.5 H100.3 V207.8 H100.9 M100.1,202.1 H99.1 V206.6 H100.3 M99.9,197.9 H98.8 V204.4 H99.1 M98.4,191.9 H97.5 V201.1 H98.8 M103.6,209.1 H101.4 V210.0 H103.6 M101.4,209.6 H101.1 V211.2 H103.6 M103.6,212.2 H101.0 V213.0 H103.6 M101.1,210.4 H100.3 V212.6 H101.0 M103.6,214.0 H100.1 V214.9 H103.6 M100.3,211.5 H99.4 V214.4 H100.1 M103.6,215.9 H100.6 V216.8 H103.6 M100.6,216.4 H99.3 V217.9 H103.6 M103.6,220.3 H99.8 V221.4 H103.6 M103.6,219.2 H99.2 V220.8 H99.8 M99.3,217.1 H98.7 V220.0 H99.2 M99.4,213.0 H98.5 V218.6 H98.7 M103.6,222.6 H99.7 V223.9 H103.6 M103.6,225.3 H100.5 V226.4 H103.6 M103.6,227.6 H100.5 V228.7 H103.6 M100.5,225.9 H100.1 V228.2 H100.5 M99.7,223.3 H99.3 V227.0 H100.1 M103.6,231.4 H101.5 V232.4 H103.6 M101.5,231.9 H100.9 V233.1 H103.6 M103.6,229.9 H99.7 V232.5 H100.9 M99.3,225.1 H98.9 V231.2 H99.7 M98.5,215.8 H98.1 V228.2 H98.9 M97.5,196.5 H96.0 V222.0 H98.1"/>
<path d="M103.6,235.3 H101.2 V236.5 H103.6 M101.2,235.9 H99.8 V237.6 H103.6 M103.6,234.1 H98.8 V236.7 H99.8 M103.6,238.5 H99.8 V239.4 H103.6 M103.6,241.6 H102.6 V242.6 H103.6 M102.6,242.1 H101.6 V243.7 H103.6 M103.6,240.6 H100.4 V242.9 H101.6 M99.8,239.0 H99.6 V241.7 H100.4 M103.6,244.7 H100.0 V246.0 H103.6 M100.0,245.3 H99.4 V247.3 H103.6 M99.6,240.4 H99.1 V246.3 H99.4 M98.8,235.4 H98.1 V243.3 H99.1 M103.6,248.4 H99.6 V249.4 H103.6 M103.6,250.6 H100.2 V251.8 H103.6 M103.6,253.0 H101.2 V254.0 H103.6 M101.2,253.5 H100.2 V254.9 H103.6 M100.2,251.2 H99.8 V254.2 H100.2 M99.6,248.9 H98.5 V252.7 H99.8 M98.1,239.4 H97.4 V250.8 H98.5 M103.6,256.3 H99.8 V257.6 H103.6 M103.6,258.6 H101.9 V259.6 H103.6 M101.9,259.1 H100.8 V260.5 H103.6 M100.8,259.8 H99.6 V261.7 H103.6 M99.8,256.9 H98.5 V260.8 H99.6 M103.6,263.0 H99.4 V264.0 H103.6 M99.4,263.5 H98.5 V265.0 H103.6 M103.6,266.1 H99.8 V267.2 H103.6 M99.8,266.7 H98.9 V268.5 H103.6 M98.5,264.2 H98.2 V267.6 H98.9 M98.5,258.8 H97.1 V265.9 H98.2 M97.4,245.1 H96.6 V262.4 H97.1 M103.6,269.7 H98.8 V270.9 H103.6 M103.6,272.2 H99.6 V273.4 H103.6 M103.6,274.4 H101.6 V275.2 H103.6 M101.6,274.8 H100.7 V276.1 H103.6 M103.6,276.7 H100.2 V277.9 H103.6 M100.7,275.5 H99.3 V277.3 H100.2 M99.6,272.8 H99.0 V276.4 H99.3 M98.8,270.3 H97.9 V274.6 H99.0 M103.6,279.1 H98.8 V279.9 H103.6 M98.8,279.5 H98.6 V281.1 H103.6 M103.6,283.7 H99.9 V284.6 H103.6 M103.6,282.5 H99.0 V284.1 H99.9 M98.6,280.3 H98.2 V283.3 H99.0 M97.9,272.5 H96.8 V281.8 H98.2 M96.6,253.7 H96.0 V277.1 H96.8"/>
<path d="M103.6,286.9 H99.6 V287.9 H103.6 M103.6,289.7 H100.1 V290.5 H103.6 M103.6,288.9 H99.4 V290.1 H100.1 M99.6,287.4 H98.3 V289.5 H99.4 M103.6,285.8 H97.2 V288.4 H98.3 M103.6,291.6 H100.2 V292.7 H103.6 M103.6,293.8 H100.0 V295.0 H103.6 M100.2,292.1 H98.8 V294.4 H100.0 M103.6,296.3 H98.9 V297.4 H103.6 M103.6,298.4 H99.3 V299.5 H103.6 M98.9,296.8 H98.6 V299.0 H99.3 M98.8,293.3 H97.5 V297.9 H98.6 M97.2,287.1 H97.0 V295.6 H97.5"/>
<path d="M103.6,300.6 H101.3 V301.6 H103.6 M103.6,302.7 H101.3 V303.6 H103.6 M101.3,301.1 H100.4 V303.1 H101.3 M103.6,305.6 H102.4 V306.5 H103.6 M103.6,307.5 H101.7 V308.5 H103.6 M102.4,306.0 H101.4 V308.0 H101.7 M103.6,304.5 H100.9 V307.0 H101.4 M100.4,302.1 H99.9 V305.7 H100.9 M103.6,311.0 H100.1 V312.1 H103.6 M103.6,309.7 H99.7 V311.5 H100.1 M99.9,303.9 H98.7 V310.6 H99.7 M103.6,313.4 H98.9 V314.5 H103.6 M103.6,315.6 H100.3 V316.9 H103.6 M103.6,319.5 H102.0 V320.4 H103.6 M103.6,318.2 H100.9 V319.9 H102.0 M100.3,316.2 H99.7 V319.1 H100.9 M98.9,313.9 H98.6 V317.6 H99.7 M98.7,307.3 H98.2 V315.8 H98.6 M103.6,323.3 H101.7 V324.1 H103.6 M103.6,322.7 H100.7 V323.7 H101.7 M100.7,323.2 H100.2 V325.6 H103.6 M103.6,321.5 H99.4 V324.4 H100.2 M103.6,327.9 H102.3 V328.7 H103.6 M102.3,328.3 H100.9 V329.5 H103.6 M103.6,326.9 H100.1 V328.9 H100.9 M103.6,330.5 H100.3 V331.5 H103.6 M103.6,332.4 H100.9 V333.7 H103.6 M100.3,331.0 H99.6 V333.1 H100.9 M100.1,327.9 H99.0 V332.0 H99.6 M103.6,335.3 H99.2 V336.5 H103.6 M103.6,337.8 H99.7 V339.3 H103.6 M99.2,335.9 H98.8 V338.5 H99.7 M99.0,330.0 H98.4 V337.2 H98.8 M99.4,322.9 H98.1 V333.6 H98.4 M98.2,311.5 H96.0 V328.3 H98.1"/>
<path d="M103.6,341.6 H100.9 V342.7 H103.6 M100.9,342.2 H100.6 V343.9 H103.6 M103.6,340.6 H99.6 V343.0 H100.6 M103.6,344.8 H101.4 V345.8 H103.6 M103.6,347.0 H101.0 V348.0 H103.6 M101.4,345.3 H100.3 V347.5 H101.0 M103.6,349.1 H102.6 V350.0 H103.6 M102.6,349.6 H102.6 V350.8 H103.6 M102.6,350.2 H102.3 V352.0 H103.6 M103.6,353.5 H101.7 V354.9 H103.6 M102.3,351.1 H101.0 V354.2 H101.7 M100.3,346.4 H99.9 V352.6 H101.0 M99.6,341.8 H98.7 V349.5 H99.9 M103.6,355.8 H99.9 V356.7 H103.6 M99.9,356.2 H99.3 V357.7 H103.6 M103.6,358.4 H100.3 V359.5 H103.6 M100.3,358.9 H100.0 V360.6 H103.6 M99.3,357.0 H98.9 V359.8 H100.0 M98.7,345.7 H97.7 V358.4 H98.9 M103.6,362.7 H99.8 V364.0 H103.6 M103.6,361.6 H99.3 V363.3 H99.8 M103.6,366.3 H98.8 V367.3 H103.6 M103.6,365.4 H98.3 V366.8 H98.8 M99.3,362.5 H98.0 V366.1 H98.3 M103.6,368.5 H101.0 V369.9 H103.6 M103.6,371.4 H101.5 V372.5 H103.6 M103.6,373.4 H101.3 V374.5 H103.6 M101.5,372.0 H101.0 V373.9 H101.3 M101.0,369.2 H99.7 V372.9 H101.0 M103.6,376.6 H102.0 V377.8 H103.6 M102.0,377.2 H100.9 V379.2 H103.6 M103.6,375.6 H100.3 V378.2 H100.9 M100.3,376.9 H99.3 V380.6 H103.6 M99.7,371.1 H98.5 V378.8 H99.3 M98.0,364.3 H97.8 V374.9 H98.5 M97.7,352.0 H96.4 V369.6 H97.8 M103.6,381.7 H98.9 V382.7 H103.6 M103.6,384.1 H99.6 V385.1 H103.6 M98.9,382.2 H98.5 V384.6 H99.6 M103.6,385.9 H97.9 V386.8 H103.6 M97.9,386.3 H97.6 V387.9 H103.6 M98.5,383.4 H97.1 V387.1 H97.6 M103.6,389.1 H99.0 V390.3 H103.6 M99.0,389.7 H98.5 V391.5 H103.6 M103.6,392.4 H98.1 V393.3 H103.6 M103.6,394.3 H97.8 V395.6 H103.6 M98.1,392.8 H97.6 V395.0 H97.8 M98.5,390.6 H97.2 V393.9 H97.6 M103.6,398.6 H99.2 V399.7 H103.6 M103.6,397.1 H97.8 V399.1 H99.2 M97.2,392.2 H96.7 V398.1 H97.8 M97.1,385.3 H95.9 V395.2 H96.7 M96.4,360.8 H95.5 V390.2 H95.9"/>
<path d="M103.6,400.6 H100.7 V401.9 H103.6 M103.6,403.0 H100.7 V404.3 H103.6 M100.7,401.2 H100.1 V403.7 H100.7 M103.6,405.7 H101.1 V407.1 H103.6 M101.1,406.4 H100.2 V408.5 H103.6 M100.1,402.4 H99.6 V407.4 H100.2 M103.6,410.7 H99.9 V411.7 H103.6 M103.6,409.5 H98.9 V411.2 H99.9 M99.6,404.9 H98.4 V410.4 H98.9 M103.6,412.7 H99.2 V414.0 H103.6 M103.6,415.4 H100.0 V416.4 H103.6 M103.6,417.3 H100.1 V418.6 H103.6 M100.0,415.9 H99.2 V417.9 H100.1 M99.2,413.4 H98.8 V416.9 H99.2 M103.6,421.5 H99.6 V422.5 H103.6 M103.6,420.1 H98.2 V422.0 H99.6 M98.8,415.2 H97.9 V421.0 H98.2 M98.4,407.7 H97.7 V418.1 H97.9 M103.6,423.4 H98.8 V424.5 H103.6 M103.6,425.8 H98.9 V426.8 H103.6 M98.8,424.0 H97.7 V426.3 H98.9 M103.6,428.0 H98.0 V429.6 H103.6 M97.7,425.1 H97.4 V428.8 H98.0 M103.6,430.8 H100.0 V432.0 H103.6 M103.6,432.9 H100.5 V433.8 H103.6 M103.6,435.0 H101.5 V436.0 H103.6 M100.5,433.4 H100.1 V435.5 H101.5 M100.0,431.4 H99.1 V434.4 H100.1 M103.6,436.8 H100.7 V437.7 H103.6 M100.7,437.2 H100.3 V439.0 H103.6 M100.3,438.1 H98.9 V440.4 H103.6 M99.1,432.9 H98.6 V439.3 H98.9 M103.6,441.9 H100.7 V443.3 H103.6 M103.6,444.4 H100.0 V445.6 H103.6 M100.7,442.6 H99.5 V445.0 H100.0 M98.6,436.1 H98.2 V443.8 H99.5 M103.6,447.1 H99.7 V448.1 H103.6 M99.7,447.6 H99.0 V449.1 H103.6 M103.6,450.2 H99.5 V451.4 H103.6 M99.0,448.3 H98.4 V450.8 H99.5 M98.2,439.9 H97.4 V449.6 H98.4 M97.4,427.0 H96.8 V444.8 H97.4 M97.7,412.9 H96.0 V435.9 H96.8"/>
<path d="M103.6,452.3 H97.9 V453.4 H103.6 M97.9,452.9 H97.7 V454.9 H103.6 M103.6,456.1 H99.2 V457.0 H103.6 M99.2,456.5 H98.1 V458.0 H103.6 M103.6,459.1 H99.0 V460.2 H103.6 M99.0,459.6 H98.4 V461.1 H103.6 M98.1,457.3 H97.4 V460.4 H98.4 M97.7,453.9 H96.8 V458.8 H97.4 M103.6,462.2 H98.2 V463.1 H103.6 M103.6,464.2 H99.0 V465.4 H103.6 M98.2,462.7 H97.9 V464.8 H99.0 M103.6,467.8 H99.2 V469.3 H103.6 M103.6,466.5 H98.5 V468.5 H99.2 M97.9,463.7 H97.2 V467.5 H98.5 M96.8,456.3 H96.4 V465.6 H97.2"/>
<path d="M103.6,470.7 H99.3 V471.8 H103.6 M103.6,473.0 H101.1 V474.0 H103.6 M103.6,475.0 H100.1 V475.9 H103.6 M101.1,473.5 H99.8 V475.5 H100.1 M103.6,476.6 H100.5 V477.6 H103.6 M99.8,474.5 H99.4 V477.1 H100.5 M99.3,471.3 H98.0 V475.8 H99.4 M103.6,479.8 H100.5 V481.1 H103.6 M103.6,478.7 H99.9 V480.5 H100.5 M103.6,482.6 H99.7 V483.8 H103.6 M103.6,485.0 H99.8 V486.2 H103.6 M99.7,483.2 H99.2 V485.6 H99.8 M99.9,479.6 H99.0 V484.4 H99.2 M103.6,488.3 H99.9 V489.5 H103.6 M103.6,487.3 H98.5 V488.9 H99.9 M99.0,482.0 H97.8 V488.1 H98.5 M98.0,473.5 H97.3 V485.0 H97.8 M103.6,490.7 H100.0 V491.8 H103.6 M100.0,491.2 H98.7 V493.5 H103.6 M103.6,494.8 H98.0 V495.7 H103.6 M98.7,492.4 H97.6 V495.3 H98.0 M103.6,498.0 H99.5 V499.1 H103.6 M103.6,496.8 H98.3 V498.5 H99.5 M97.6,493.8 H97.0 V497.7 H98.3 M103.6,500.6 H97.6 V501.7 H103.6 M103.6,502.6 H97.7 V503.6 H103.6 M97.6,501.2 H97.1 V503.1 H97.7 M97.0,495.7 H96.8 V502.1 H97.1 M97.3,479.3 H96.0 V498.9 H96.8"/>
<path d="M103.6,504.4 H99.4 V505.4 H103.6 M103.6,508.0 H99.0 V509.0 H103.6 M103.6,506.6 H98.6 V508.5 H99.0 M99.4,504.9 H98.3 V507.5 H98.6 M103.6,510.0 H100.8 V511.3 H103.6 M103.6,512.4 H100.4 V513.5 H103.6 M100.8,510.6 H99.8 V512.9 H100.4 M103.6,514.6 H99.4 V515.5 H103.6 M99.8,511.8 H99.0 V515.0 H99.4 M103.6,516.5 H99.7 V517.4 H103.6 M103.6,518.4 H100.1 V519.9 H103.6 M99.7,517.0 H98.9 V519.2 H100.1 M103.6,521.3 H99.5 V522.6 H103.6 M98.9,518.1 H98.5 V522.0 H99.5 M99.0,513.4 H97.9 V520.0 H98.5 M98.3,506.2 H97.3 V516.7 H97.9 M103.6,523.7 H99.3 V524.8 H103.6 M103.6,526.3 H99.3 V527.4 H103.6 M99.3,524.3 H98.6 V526.9 H99.3 M103.6,528.4 H99.2 V529.5 H103.6 M103.6,530.3 H99.8 V531.3 H103.6 M99.8,530.8 H99.5 V532.6 H103.6 M99.2,529.0 H98.9 V531.7 H99.5 M103.6,533.6 H100.0 V534.6 H103.6 M100.0,534.1 H98.8 V535.8 H103.6 M98.9,530.3 H98.4 V535.0 H98.8 M98.6,525.6 H98.2 V532.7 H98.4 M103.6,537.2 H100.0 V538.8 H103.6 M103.6,539.8 H99.6 V540.6 H103.6 M103.6,543.1 H100.5 V544.3 H103.6 M103.6,541.9 H99.9 V543.7 H100.5 M99.6,540.2 H98.8 V542.8 H99.9 M100.0,538.0 H98.6 V541.5 H98.8 M98.2,529.1 H97.3 V539.7 H98.6 M97.3,511.5 H96.0 V534.4 H97.3"/>
<path d="M103.6,547.0 H100.9 V548.0 H103.6 M103.6,545.7 H99.5 V547.5 H100.9 M103.6,549.1 H101.6 V550.1 H103.6 M101.6,549.6 H100.4 V551.1 H103.6 M103.6,552.6 H100.7 V553.8 H103.6 M100.4,550.3 H100.1 V553.2 H100.7 M99.5,546.6 H98.8 V551.8 H100.1 M103.6,555.8 H100.7 V556.7 H103.6 M103.6,554.8 H100.2 V556.2 H100.7 M103.6,557.5 H100.7 V558.4 H103.6 M100.7,558.0 H100.2 V559.5 H103.6 M100.2,555.5 H99.8 V558.8 H100.2 M103.6,562.2 H101.1 V563.5 H103.6 M103.6,560.7 H99.8 V562.9 H101.1 M103.6,564.6 H101.3 V565.7 H103.6 M103.6,568.8 H101.9 V569.9 H103.6 M103.6,567.6 H101.3 V569.3 H101.9 M103.6,566.6 H100.6 V568.5 H101.3 M101.3,565.1 H100.0 V567.5 H100.6 M99.8,561.8 H99.6 V566.3 H100.0 M99.8,557.1 H99.1 V564.1 H99.6 M98.8,549.2 H98.3 V560.6 H99.1 M103.6,572.0 H99.0 V573.3 H103.6 M103.6,570.9 H98.7 V572.7 H99.0 M103.6,575.9 H100.0 V576.9 H103.6 M100.0,576.4 H99.0 V578.2 H103.6 M103.6,574.8 H98.5 V577.3 H99.0 M98.7,571.8 H98.2 V576.1 H98.5 M98.3,554.9 H96.5 V573.9 H98.2"/>
</g>
<g fill="none" stroke="#222" stroke-width="1.15">
<path d="M96.0,165.4 H93.0 V209.2 H96.0"/>
<path d="M96.5,108.3 H85.7 V161.2 H93.0"/>
<path d="M93.5,84.6 H73.3 V137.6 H85.7"/>
<path d="M96.0,265.4 H95.9 V291.4 H97.0"/>
<path d="M96.0,319.9 H94.3 V370.0 H95.5"/>
<path d="M95.5,375.5 H95.0 V424.4 H96.0"/>
<path d="M95.9,285.3 H90.4 V352.0 H94.3"/>
<path d="M96.0,522.9 H93.7 V564.4 H96.5"/>
<path d="M96.0,489.1 H87.6 V524.7 H93.7"/>
<path d="M96.4,461.0 H79.0 V503.0 H87.6"/>
<path d="M90.4,318.6 H68.4 V482.0 H79.0"/>
<path d="M73.3,111.6 H33.8 V400.4 H68.4"/>
</g>
<line x1="103.0" y1="81" x2="103.0" y2="578.8" stroke="#111" stroke-width="1.3"/>
<defs><linearGradient id="hmg" x1="0" y1="0" x2="0" y2="1">
<stop offset="0.000" stop-color="#6b1d22"/>
<stop offset="0.100" stop-color="#95242a"/>
<stop offset="0.200" stop-color="#bf2e26"/>
<stop offset="0.270" stop-color="#d44b2e"/>
<stop offset="0.330" stop-color="#e38060"/>
<stop offset="0.400" stop-color="#eeb49a"/>
<stop offset="0.450" stop-color="#f0d4c7"/>
<stop offset="0.500" stop-color="#eeeeee"/>
<stop offset="0.560" stop-color="#c9dbe9"/>
<stop offset="0.620" stop-color="#8fbfdf"/>
<stop offset="0.690" stop-color="#40a0d0"/>
<stop offset="0.730" stop-color="#1490c8"/>
<stop offset="0.800" stop-color="#1476b8"/>
<stop offset="0.880" stop-color="#1a5fa8"/>
<stop offset="0.950" stop-color="#29419a"/>
<stop offset="1.000" stop-color="#2e2f8c"/>
</linearGradient></defs>
<rect x="371.5" y="89.3" width="11.7" height="170.1" fill="url(#hmg)"/>
<text x="401.8" y="98.7" font-size="12.2" text-anchor="end" fill="#111">2</text>
<text x="401.8" y="140.0" font-size="12.2" text-anchor="end" fill="#111">1</text>
<text x="401.8" y="179.0" font-size="12.2" text-anchor="end" fill="#111">0</text>
<text x="399.8" y="216.2" font-size="12.2" text-anchor="end" fill="#111">-2</text>
<text x="399.8" y="256.4" font-size="12.2" text-anchor="end" fill="#111">-1</text>
<text transform="translate(101.0,636.0) rotate(-52)" font-size="22.5" fill="#111">Ly49<tspan font-size="11" dy="-9">-</tspan></text>
<text transform="translate(143.7,636.0) rotate(-52)" font-size="22.5" fill="#111">Ly49<tspan font-size="11" dy="-9">-</tspan></text>
<text transform="translate(186.5,636.0) rotate(-52)" font-size="22.5" fill="#111">Ly49<tspan font-size="11" dy="-9">-</tspan></text>
<text transform="translate(229.2,636.0) rotate(-52)" font-size="22.5" fill="#111">Ly49<tspan font-size="11" dy="-9">+</tspan></text>
<text transform="translate(271.9,636.0) rotate(-52)" font-size="22.5" fill="#111">Ly49<tspan font-size="11" dy="-9">+</tspan></text>
<text transform="translate(314.7,636.0) rotate(-52)" font-size="22.5" fill="#111">Ly49<tspan font-size="11" dy="-9">+</tspan></text>
<text transform="translate(-0.8,37.6) scale(0.92,1)" font-size="44" font-weight="bold" fill="#111">a</text>
<g>
<line x1="770.5" y1="81.3" x2="770.5" y2="548.3" stroke="#d6d6e2" stroke-width="1"/>
<line x1="809.5" y1="81.3" x2="809.5" y2="548.3" stroke="#d6d6e2" stroke-width="1"/>
<line x1="847.5" y1="81.3" x2="847.5" y2="548.3" stroke="#d6d6e2" stroke-width="1"/>
<line x1="886.5" y1="81.3" x2="886.5" y2="548.3" stroke="#d6d6e2" stroke-width="1"/>
<line x1="924.5" y1="81.3" x2="924.5" y2="548.3" stroke="#d6d6e2" stroke-width="1"/>
<line x1="963.5" y1="81.3" x2="963.5" y2="548.3" stroke="#d6d6e2" stroke-width="1"/>
<line x1="1002.5" y1="81.3" x2="1002.5" y2="548.3" stroke="#d6d6e2" stroke-width="1"/>
<line x1="1040.5" y1="81.3" x2="1040.5" y2="548.3" stroke="#d6d6e2" stroke-width="1"/>
<line x1="1079.5" y1="81.3" x2="1079.5" y2="548.3" stroke="#d6d6e2" stroke-width="1"/>
<line x1="1117.5" y1="81.3" x2="1117.5" y2="548.3" stroke="#d6d6e2" stroke-width="1"/>
<line x1="1156.5" y1="81.3" x2="1156.5" y2="548.3" stroke="#d6d6e2" stroke-width="1"/>
<line x1="731.4" y1="90.5" x2="1190.2" y2="90.5" stroke="#d6d6e2" stroke-width="1"/>
<line x1="731.4" y1="106.5" x2="1190.2" y2="106.5" stroke="#d6d6e2" stroke-width="1"/>
<line x1="731.4" y1="121.5" x2="1190.2" y2="121.5" stroke="#d6d6e2" stroke-width="1"/>
<line x1="731.4" y1="137.5" x2="1190.2" y2="137.5" stroke="#d6d6e2" stroke-width="1"/>
<line x1="731.4" y1="152.5" x2="1190.2" y2="152.5" stroke="#d6d6e2" stroke-width="1"/>
<line x1="731.4" y1="167.5" x2="1190.2" y2="167.5" stroke="#d6d6e2" stroke-width="1"/>
<line x1="731.4" y1="183.5" x2="1190.2" y2="183.5" stroke="#d6d6e2" stroke-width="1"/>
<line x1="731.4" y1="198.5" x2="1190.2" y2="198.5" stroke="#d6d6e2" stroke-width="1"/>
<line x1="731.4" y1="214.5" x2="1190.2" y2="214.5" stroke="#d6d6e2" stroke-width="1"/>
<line x1="731.4" y1="229.5" x2="1190.2" y2="229.5" stroke="#d6d6e2" stroke-width="1"/>
<line x1="731.4" y1="245.5" x2="1190.2" y2="245.5" stroke="#d6d6e2" stroke-width="1"/>
<line x1="731.4" y1="260.5" x2="1190.2" y2="260.5" stroke="#d6d6e2" stroke-width="1"/>
<line x1="731.4" y1="275.5" x2="1190.2" y2="275.5" stroke="#d6d6e2" stroke-width="1"/>
<line x1="731.4" y1="291.5" x2="1190.2" y2="291.5" stroke="#d6d6e2" stroke-width="1"/>
<line x1="731.4" y1="306.5" x2="1190.2" y2="306.5" stroke="#d6d6e2" stroke-width="1"/>
<line x1="731.4" y1="322.5" x2="1190.2" y2="322.5" stroke="#d6d6e2" stroke-width="1"/>
<line x1="731.4" y1="337.5" x2="1190.2" y2="337.5" stroke="#d6d6e2" stroke-width="1"/>
<line x1="731.4" y1="353.5" x2="1190.2" y2="353.5" stroke="#d6d6e2" stroke-width="1"/>
<line x1="731.4" y1="368.5" x2="1190.2" y2="368.5" stroke="#d6d6e2" stroke-width="1"/>
<line x1="731.4" y1="384.5" x2="1190.2" y2="384.5" stroke="#d6d6e2" stroke-width="1"/>
<line x1="731.4" y1="399.5" x2="1190.2" y2="399.5" stroke="#d6d6e2" stroke-width="1"/>
<line x1="731.4" y1="414.5" x2="1190.2" y2="414.5" stroke="#d6d6e2" stroke-width="1"/>
<line x1="731.4" y1="430.5" x2="1190.2" y2="430.5" stroke="#d6d6e2" stroke-width="1"/>
<line x1="731.4" y1="445.5" x2="1190.2" y2="445.5" stroke="#d6d6e2" stroke-width="1"/>
<line x1="731.4" y1="461.5" x2="1190.2" y2="461.5" stroke="#d6d6e2" stroke-width="1"/>
<line x1="731.4" y1="476.5" x2="1190.2" y2="476.5" stroke="#d6d6e2" stroke-width="1"/>
<line x1="731.4" y1="492.5" x2="1190.2" y2="492.5" stroke="#d6d6e2" stroke-width="1"/>
<line x1="731.4" y1="507.5" x2="1190.2" y2="507.5" stroke="#d6d6e2" stroke-width="1"/>
<line x1="731.4" y1="523.5" x2="1190.2" y2="523.5" stroke="#d6d6e2" stroke-width="1"/>
<line x1="731.4" y1="538.5" x2="1190.2" y2="538.5" stroke="#d6d6e2" stroke-width="1"/>
</g>
<circle cx="1169.8" cy="90.7" r="11.10" fill="#e1301d"/>
<circle cx="1137.5" cy="106.1" r="10.81" fill="#df2f1e"/>
<circle cx="1121.8" cy="121.6" r="10.66" fill="#dc2e1f"/>
<circle cx="1121.8" cy="137.0" r="10.66" fill="#c42a27"/>
<circle cx="1105.6" cy="152.5" r="10.52" fill="#cd2a22"/>
<circle cx="1105.6" cy="167.9" r="10.52" fill="#cc2a23"/>
<circle cx="1105.6" cy="183.3" r="10.52" fill="#c92a25"/>
<circle cx="1105.6" cy="198.8" r="10.52" fill="#c42a35"/>
<circle cx="1105.6" cy="214.2" r="10.52" fill="#3a2fa8"/>
<circle cx="1073.3" cy="229.7" r="10.23" fill="#cf2b22"/>
<circle cx="1073.3" cy="245.1" r="10.23" fill="#c92a25"/>
<circle cx="1057.5" cy="260.5" r="10.08" fill="#dc2e1f"/>
<circle cx="1041.0" cy="276.0" r="9.93" fill="#df2f1e"/>
<circle cx="1024.9" cy="291.4" r="9.79" fill="#c62a25"/>
<circle cx="993.3" cy="306.9" r="9.50" fill="#cf2b22"/>
<circle cx="993.3" cy="322.3" r="9.50" fill="#cc2a23"/>
<circle cx="993.3" cy="337.7" r="9.50" fill="#6a1fb4"/>
<circle cx="961.0" cy="353.2" r="9.10" fill="#d92d20"/>
<circle cx="961.0" cy="368.6" r="9.10" fill="#d42c21"/>
<circle cx="944.6" cy="384.1" r="8.89" fill="#c42a27"/>
<circle cx="912.6" cy="399.5" r="8.50" fill="#3c2ea6"/>
<circle cx="896.1" cy="414.9" r="8.29" fill="#d42c21"/>
<circle cx="880.4" cy="430.4" r="8.10" fill="#9a26b8"/>
<circle cx="864.6" cy="445.8" r="7.90" fill="#c42a27"/>
<circle cx="864.6" cy="461.3" r="7.90" fill="#4a2ab0"/>
<circle cx="847.7" cy="476.7" r="7.30" fill="#9e28b6"/>
<circle cx="767.6" cy="492.1" r="5.60" fill="#a52ab8"/>
<circle cx="751.6" cy="507.6" r="4.50" fill="#cc2a23"/>
<circle cx="751.6" cy="523.0" r="4.50" fill="#3a2fa8"/>
<circle cx="751.6" cy="538.5" r="4.50" fill="#3a2fa8"/>
<rect x="731.4" y="81.3" width="458.8" height="467.0" fill="none" stroke="#333" stroke-width="1.2"/>
<text x="726.3" y="92.5" font-size="13.85" text-anchor="end" fill="#33a040">T cell activation</text>
<line x1="727.6" y1="91.0" x2="731.4" y2="91.0" stroke="#222" stroke-width="1.8"/>
<text x="726.3" y="106.1" font-size="13.85" text-anchor="end" fill="#1a1a1a">regulation of hemopoiesis</text>
<line x1="727.6" y1="106.4" x2="731.4" y2="106.4" stroke="#222" stroke-width="1.8"/>
<text x="726.3" y="120.7" font-size="13.85" text-anchor="end" fill="#1a1a1a">myeliod cell differentiation</text>
<line x1="727.6" y1="121.9" x2="731.4" y2="121.9" stroke="#222" stroke-width="1.8"/>
<text x="726.3" y="137.5" font-size="13.85" text-anchor="end" fill="#1a1a1a">divalent inorganic cation homeostasis</text>
<line x1="727.6" y1="137.3" x2="731.4" y2="137.3" stroke="#222" stroke-width="1.8"/>
<text x="726.3" y="153.0" font-size="13.85" text-anchor="end" fill="#1a1a1a">cellular calcium ion homeostasis</text>
<line x1="727.6" y1="152.8" x2="731.4" y2="152.8" stroke="#222" stroke-width="1.8"/>
<text x="726.3" y="167.9" font-size="13.85" text-anchor="end" fill="#33a040">negative regulation of immune system process</text>
<line x1="727.6" y1="168.2" x2="731.4" y2="168.2" stroke="#222" stroke-width="1.8"/>
<text x="726.3" y="183.3" font-size="13.85" text-anchor="end" fill="#1a1a1a">calcium ion homeostasis</text>
<line x1="727.6" y1="183.6" x2="731.4" y2="183.6" stroke="#222" stroke-width="1.8"/>
<text x="726.3" y="197.4" font-size="13.85" text-anchor="end" fill="#1a1a1a">cellular divalent inorganic cation homeostasis</text>
<line x1="727.6" y1="199.1" x2="731.4" y2="199.1" stroke="#222" stroke-width="1.8"/>
<text x="726.3" y="213.8" font-size="13.85" text-anchor="end" fill="#1a1a1a">positive regulation of cell migration</text>
<line x1="727.6" y1="214.5" x2="731.4" y2="214.5" stroke="#222" stroke-width="1.8"/>
<text x="726.3" y="230.2" font-size="13.85" text-anchor="end" fill="#33a040">lymphocyte differentiation</text>
<line x1="727.6" y1="230.0" x2="731.4" y2="230.0" stroke="#222" stroke-width="1.8"/>
<text x="726.3" y="244.6" font-size="13.85" text-anchor="end" fill="#1a1a1a">calcium ion transport</text>
<line x1="727.6" y1="245.4" x2="731.4" y2="245.4" stroke="#222" stroke-width="1.8"/>
<text x="726.3" y="260.0" font-size="13.85" text-anchor="end" fill="#33a040">regulation of leukocyte differentiation</text>
<line x1="727.6" y1="260.8" x2="731.4" y2="260.8" stroke="#222" stroke-width="1.8"/>
<text x="726.3" y="275.1" font-size="13.85" text-anchor="end" fill="#33a040">leukocyte migration</text>
<line x1="727.6" y1="276.3" x2="731.4" y2="276.3" stroke="#222" stroke-width="1.8"/>
<text x="726.3" y="289.5" font-size="13.85" text-anchor="end" fill="#1a1a1a">regulation of inflammtory response</text>
<line x1="727.6" y1="291.7" x2="731.4" y2="291.7" stroke="#222" stroke-width="1.8"/>
<text x="726.3" y="305.5" font-size="13.85" text-anchor="end" fill="#33a040">T cell differentiation</text>
<line x1="727.6" y1="307.2" x2="731.4" y2="307.2" stroke="#222" stroke-width="1.8"/>
<text x="726.3" y="321.8" font-size="13.85" text-anchor="end" fill="#1a1a1a">cell chemotaxis</text>
<line x1="727.6" y1="322.6" x2="731.4" y2="322.6" stroke="#222" stroke-width="1.8"/>
<text x="726.3" y="336.8" font-size="13.85" text-anchor="end" fill="#33a040">regulation of T cell activation</text>
<line x1="727.6" y1="338.0" x2="731.4" y2="338.0" stroke="#222" stroke-width="1.8"/>
<text x="726.3" y="351.4" font-size="13.85" text-anchor="end" fill="#1a1a1a">leukocyte chemotaxis</text>
<line x1="727.6" y1="353.5" x2="731.4" y2="353.5" stroke="#222" stroke-width="1.8"/>
<text x="726.3" y="366.3" font-size="13.85" text-anchor="end" fill="#1a1a1a">myeloid leukocyte differentiation</text>
<line x1="727.6" y1="368.9" x2="731.4" y2="368.9" stroke="#222" stroke-width="1.8"/>
<text x="726.3" y="384.1" font-size="13.85" text-anchor="end" fill="#1a1a1a">regulation of chemotaxis</text>
<line x1="727.6" y1="384.4" x2="731.4" y2="384.4" stroke="#222" stroke-width="1.8"/>
<text x="726.3" y="398.1" font-size="13.85" text-anchor="end" fill="#1a1a1a">myeloid leukocyte migration</text>
<line x1="727.6" y1="399.8" x2="731.4" y2="399.8" stroke="#222" stroke-width="1.8"/>
<text x="726.3" y="412.6" font-size="13.85" text-anchor="end" fill="#1a1a1a">positive regulation of chemotaxis</text>
<line x1="727.6" y1="415.2" x2="731.4" y2="415.2" stroke="#222" stroke-width="1.8"/>
<text x="726.3" y="428.6" font-size="13.85" text-anchor="end" fill="#1a1a1a">leukocyte apoptotic process</text>
<line x1="727.6" y1="430.7" x2="731.4" y2="430.7" stroke="#222" stroke-width="1.8"/>
<text x="726.3" y="444.9" font-size="13.85" text-anchor="end" fill="#1a1a1a">osteoclast differentiation</text>
<line x1="727.6" y1="446.1" x2="731.4" y2="446.1" stroke="#222" stroke-width="1.8"/>
<text x="726.3" y="459.9" font-size="13.85" text-anchor="end" fill="#1a1a1a">negative regulation of vasculature development</text>
<line x1="727.6" y1="461.6" x2="731.4" y2="461.6" stroke="#222" stroke-width="1.8"/>
<text x="726.3" y="476.2" font-size="13.85" text-anchor="end" fill="#1a1a1a">negative regulation of leukocyte differentiation</text>
<line x1="727.6" y1="477.0" x2="731.4" y2="477.0" stroke="#222" stroke-width="1.8"/>
<text x="726.3" y="490.7" font-size="13.85" text-anchor="end" fill="#1a1a1a">eosinophil migration</text>
<line x1="727.6" y1="492.4" x2="731.4" y2="492.4" stroke="#222" stroke-width="1.8"/>
<text x="726.3" y="506.7" font-size="13.85" text-anchor="end" fill="#1a1a1a">positive regulatioin of lymphocyte chemotaxis</text>
<line x1="727.6" y1="507.9" x2="731.4" y2="507.9" stroke="#222" stroke-width="1.8"/>
<text x="726.3" y="521.6" font-size="13.85" text-anchor="end" fill="#33a040">T cell chemotaxis</text>
<line x1="727.6" y1="523.3" x2="731.4" y2="523.3" stroke="#222" stroke-width="1.8"/>
<text x="726.3" y="537.5" font-size="13.85" text-anchor="end" fill="#1a1a1a">regulatioin of lymphocyte chemotaxis</text>
<line x1="727.6" y1="538.8" x2="731.4" y2="538.8" stroke="#222" stroke-width="1.8"/>
<line x1="731.9" y1="548.3" x2="731.9" y2="552" stroke="#222" stroke-width="1.4"/>
<text x="735.8" y="573.8" font-size="20" text-anchor="middle" fill="#111">0.01</text>
<line x1="809.1" y1="548.3" x2="809.1" y2="552" stroke="#222" stroke-width="1.4"/>
<text x="811.3" y="573.8" font-size="20" text-anchor="middle" fill="#111">0.02</text>
<line x1="886.3" y1="548.3" x2="886.3" y2="552" stroke="#222" stroke-width="1.4"/>
<text x="888.0" y="573.8" font-size="20" text-anchor="middle" fill="#111">0.03</text>
<line x1="963.5" y1="548.3" x2="963.5" y2="552" stroke="#222" stroke-width="1.4"/>
<text x="962.8" y="573.8" font-size="20" text-anchor="middle" fill="#111">0.04</text>
<line x1="1040.7" y1="548.3" x2="1040.7" y2="552" stroke="#222" stroke-width="1.4"/>
<text x="1040.0" y="573.8" font-size="20" text-anchor="middle" fill="#111">0.05</text>
<line x1="1117.9" y1="548.3" x2="1117.9" y2="552" stroke="#222" stroke-width="1.4"/>
<text x="1118.0" y="573.8" font-size="20" text-anchor="middle" fill="#111">0.06</text>
<text x="952.6" y="603.5" font-size="20.5" text-anchor="middle" fill="#111">GeneRatio</text>
<text x="1212.8" y="177.8" font-size="14" fill="#111">Count</text>
<circle cx="1225.8" cy="198.2" r="7.3" fill="#111"/>
<text x="1237.0" y="202.4" font-size="13" fill="#111">10</text>
<circle cx="1225.8" cy="219.7" r="8.6" fill="#111"/>
<text x="1237.0" y="223.9" font-size="13" fill="#111">15</text>
<circle cx="1225.8" cy="241.7" r="9.5" fill="#111"/>
<text x="1239.2" y="245.9" font-size="13" fill="#111">20</text>
<circle cx="1225.8" cy="267.3" r="10.4" fill="#111"/>
<text x="1239.2" y="271.5" font-size="13" fill="#111">25</text>
<circle cx="1225.8" cy="294.3" r="11.0" fill="#111"/>
<text x="1239.2" y="298.5" font-size="13" fill="#111">30</text>
<text x="1212.6" y="345.3" font-size="14" fill="#111">p.adjust</text>
<defs><linearGradient id="pg" x1="0" y1="0" x2="0" y2="1"><stop offset="0" stop-color="#e02a1a"/><stop offset="0.25" stop-color="#cc2a2a"/><stop offset="0.40" stop-color="#b3224f"/><stop offset="0.53" stop-color="#a0259a"/><stop offset="0.62" stop-color="#7a10b5"/><stop offset="0.75" stop-color="#4a25a6"/><stop offset="1" stop-color="#3a2c9c"/></linearGradient></defs>
<rect x="1212.1" y="350" width="21.6" height="106.6" fill="url(#pg)"/>
<line x1="1212.1" y1="369.0" x2="1215.5" y2="369.0" stroke="#fff" stroke-opacity="0.5" stroke-width="0.8"/>
<line x1="1230.3" y1="369.0" x2="1233.7" y2="369.0" stroke="#fff" stroke-opacity="0.5" stroke-width="0.8"/>
<text x="1236.9" y="372.0" font-size="13.8" fill="#111">0.000025</text>
<line x1="1212.1" y1="389.3" x2="1215.5" y2="389.3" stroke="#fff" stroke-opacity="0.5" stroke-width="0.8"/>
<line x1="1230.3" y1="389.3" x2="1233.7" y2="389.3" stroke="#fff" stroke-opacity="0.5" stroke-width="0.8"/>
<text x="1236.9" y="393.1" font-size="13.8" fill="#111">0.000050</text>
<line x1="1212.1" y1="409.6" x2="1215.5" y2="409.6" stroke="#fff" stroke-opacity="0.5" stroke-width="0.8"/>
<line x1="1230.3" y1="409.6" x2="1233.7" y2="409.6" stroke="#fff" stroke-opacity="0.5" stroke-width="0.8"/>
<text x="1236.9" y="416.5" font-size="13.8" fill="#111">0.000075</text>
<line x1="1212.1" y1="429.9" x2="1215.5" y2="429.9" stroke="#fff" stroke-opacity="0.5" stroke-width="0.8"/>
<line x1="1230.3" y1="429.9" x2="1233.7" y2="429.9" stroke="#fff" stroke-opacity="0.5" stroke-width="0.8"/>
<text x="1236.9" y="437.5" font-size="13.8" fill="#111">0.000100</text>
<line x1="1212.1" y1="450.2" x2="1215.5" y2="450.2" stroke="#fff" stroke-opacity="0.5" stroke-width="0.8"/>
<line x1="1230.3" y1="450.2" x2="1233.7" y2="450.2" stroke="#fff" stroke-opacity="0.5" stroke-width="0.8"/>
<text x="1236.9" y="455.1" font-size="13.8" fill="#111">0.000125</text>
<text transform="translate(472.5,35.5) scale(1.1,1)" font-size="40.6" font-weight="bold" fill="#111">b</text>
<g class="pc" fill="#9a9a9a" fill-opacity="0.13" stroke="#8a8a8a" stroke-opacity="0.12" stroke-width="0.7">
<circle cx="547.9" cy="1202.1"/>
<circle cx="388.0" cy="1117.2"/>
<circle cx="491.5" cy="1198.9"/>
<circle cx="457.2" cy="1197.7"/>
<circle cx="461.2" cy="1204.1"/>
<circle cx="469.4" cy="1200.0"/>
<circle cx="406.7" cy="1183.8"/>
<circle cx="468.9" cy="1198.8"/>
<circle cx="446.8" cy="1184.4"/>
<circle cx="592.5" cy="1149.9"/>
<circle cx="484.8" cy="1204.2"/>
<circle cx="464.7" cy="1195.8"/>
<circle cx="467.1" cy="1204.9"/>
<circle cx="453.7" cy="1157.9"/>
<circle cx="440.2" cy="1177.9"/>
<circle cx="463.3" cy="1186.4"/>
<circle cx="493.7" cy="1185.9"/>
<circle cx="468.6" cy="1205.4"/>
<circle cx="510.2" cy="1200.0"/>
<circle cx="470.0" cy="1203.1"/>
<circle cx="477.8" cy="1203.7"/>
<circle cx="530.7" cy="1198.6"/>
<circle cx="495.9" cy="1184.5"/>
<circle cx="459.3" cy="1205.8"/>
<circle cx="470.6" cy="1185.6"/>
<circle cx="495.7" cy="1199.2"/>
<circle cx="544.2" cy="1181.7"/>
<circle cx="467.5" cy="1204.7"/>
<circle cx="468.4" cy="1191.5"/>
<circle cx="511.8" cy="1186.3"/>
<circle cx="446.1" cy="1182.9"/>
<circle cx="466.8" cy="1204.0"/>
<circle cx="507.6" cy="1205.8"/>
<circle cx="497.1" cy="1204.5"/>
<circle cx="480.1" cy="1197.9"/>
<circle cx="500.2" cy="1189.2"/>
<circle cx="378.6" cy="1110.8"/>
<circle cx="512.4" cy="1205.6"/>
<circle cx="443.5" cy="1205.3"/>
<circle cx="418.9" cy="1176.1"/>
<circle cx="486.5" cy="1177.1"/>
<circle cx="501.3" cy="1197.4"/>
<circle cx="461.4" cy="1176.5"/>
<circle cx="439.5" cy="1197.9"/>
<circle cx="477.8" cy="1204.1"/>
<circle cx="475.1" cy="1205.6"/>
<circle cx="525.8" cy="1202.9"/>
<circle cx="502.9" cy="1194.5"/>
<circle cx="483.7" cy="1205.8"/>
<circle cx="515.6" cy="1161.9"/>
<circle cx="469.8" cy="1193.2"/>
<circle cx="444.7" cy="1194.1"/>
<circle cx="497.2" cy="1204.6"/>
<circle cx="497.2" cy="1200.2"/>
<circle cx="469.4" cy="1204.8"/>
<circle cx="449.7" cy="1172.9"/>
<circle cx="484.9" cy="1201.9"/>
<circle cx="390.2" cy="1171.6"/>
<circle cx="500.9" cy="1150.9"/>
<circle cx="494.0" cy="1203.6"/>
<circle cx="419.9" cy="1172.8"/>
<circle cx="479.1" cy="1204.3"/>
<circle cx="443.4" cy="1199.0"/>
<circle cx="503.3" cy="1201.9"/>
<circle cx="406.2" cy="1148.9"/>
<circle cx="445.1" cy="1205.7"/>
<circle cx="501.6" cy="1189.1"/>
<circle cx="517.1" cy="1200.6"/>
<circle cx="401.9" cy="1183.7"/>
<circle cx="459.6" cy="1191.8"/>
<circle cx="488.3" cy="1195.8"/>
<circle cx="455.7" cy="1205.6"/>
<circle cx="532.2" cy="1203.5"/>
<circle cx="435.5" cy="1201.0"/>
<circle cx="489.2" cy="1193.5"/>
<circle cx="440.5" cy="1177.3"/>
<circle cx="525.8" cy="1197.0"/>
<circle cx="476.2" cy="1203.6"/>
<circle cx="464.0" cy="1201.8"/>
<circle cx="417.2" cy="1199.7"/>
<circle cx="535.4" cy="1199.2"/>
<circle cx="503.1" cy="1174.8"/>
<circle cx="503.1" cy="1203.5"/>
<circle cx="516.5" cy="1199.0"/>
<circle cx="489.1" cy="1188.4"/>
<circle cx="454.7" cy="1201.7"/>
<circle cx="449.1" cy="1180.7"/>
<circle cx="449.1" cy="1202.1"/>
<circle cx="524.6" cy="1179.1"/>
<circle cx="426.1" cy="1198.0"/>
<circle cx="456.2" cy="1201.4"/>
<circle cx="465.7" cy="1202.0"/>
<circle cx="484.7" cy="1204.9"/>
<circle cx="496.9" cy="1190.3"/>
<circle cx="433.5" cy="1195.2"/>
<circle cx="416.7" cy="1202.6"/>
<circle cx="476.8" cy="1199.0"/>
<circle cx="519.1" cy="1205.5"/>
<circle cx="503.2" cy="1186.1"/>
<circle cx="484.4" cy="1201.5"/>
<circle cx="465.9" cy="1198.0"/>
<circle cx="487.1" cy="1198.7"/>
<circle cx="468.5" cy="1199.8"/>
<circle cx="505.3" cy="1188.2"/>
<circle cx="449.3" cy="1203.6"/>
<circle cx="481.6" cy="1196.5"/>
<circle cx="473.1" cy="1205.5"/>
<circle cx="495.8" cy="1167.2"/>
<circle cx="484.7" cy="1205.9"/>
<circle cx="565.6" cy="1204.0"/>
<circle cx="529.0" cy="1204.7"/>
<circle cx="529.0" cy="1178.4"/>
<circle cx="406.0" cy="1145.2"/>
<circle cx="465.1" cy="1196.5"/>
<circle cx="455.7" cy="1200.0"/>
<circle cx="495.4" cy="1200.0"/>
<circle cx="397.7" cy="1199.2"/>
<circle cx="517.8" cy="1192.1"/>
<circle cx="514.0" cy="1205.7"/>
<circle cx="431.6" cy="1191.7"/>
<circle cx="442.9" cy="1205.0"/>
<circle cx="449.1" cy="1198.5"/>
<circle cx="478.4" cy="1201.1"/>
<circle cx="499.2" cy="1199.5"/>
<circle cx="548.1" cy="1205.5"/>
<circle cx="470.0" cy="1199.6"/>
<circle cx="503.6" cy="1186.6"/>
<circle cx="482.3" cy="1205.9"/>
<circle cx="538.1" cy="1200.7"/>
<circle cx="502.7" cy="1185.9"/>
<circle cx="524.5" cy="1201.2"/>
<circle cx="439.4" cy="1198.0"/>
<circle cx="470.2" cy="1204.8"/>
<circle cx="448.6" cy="1199.6"/>
<circle cx="529.3" cy="1191.1"/>
<circle cx="499.8" cy="1205.0"/>
<circle cx="466.3" cy="1193.9"/>
<circle cx="461.2" cy="1201.7"/>
<circle cx="493.8" cy="1203.4"/>
<circle cx="452.5" cy="1203.0"/>
<circle cx="444.6" cy="1193.7"/>
<circle cx="493.7" cy="1184.1"/>
<circle cx="562.6" cy="1203.0"/>
<circle cx="468.4" cy="1196.5"/>
<circle cx="457.6" cy="1200.1"/>
<circle cx="436.2" cy="1199.0"/>
<circle cx="430.5" cy="1167.6"/>
<circle cx="495.2" cy="1194.4"/>
<circle cx="506.5" cy="1200.5"/>
<circle cx="477.2" cy="1205.3"/>
<circle cx="488.5" cy="1205.0"/>
<circle cx="480.9" cy="1199.8"/>
<circle cx="481.7" cy="1190.4"/>
<circle cx="423.8" cy="1161.0"/>
<circle cx="461.0" cy="1188.9"/>
<circle cx="480.8" cy="1202.1"/>
<circle cx="449.7" cy="1200.9"/>
<circle cx="460.3" cy="1199.0"/>
<circle cx="448.4" cy="1192.2"/>
<circle cx="465.3" cy="1201.4"/>
<circle cx="506.6" cy="1197.7"/>
<circle cx="462.8" cy="1196.9"/>
<circle cx="471.6" cy="1202.2"/>
<circle cx="505.2" cy="1202.4"/>
<circle cx="499.3" cy="1205.2"/>
<circle cx="535.9" cy="1200.0"/>
<circle cx="404.2" cy="1162.7"/>
<circle cx="506.7" cy="1199.1"/>
<circle cx="460.1" cy="1186.9"/>
<circle cx="481.6" cy="1185.3"/>
<circle cx="506.1" cy="1202.4"/>
<circle cx="514.6" cy="1198.8"/>
<circle cx="513.1" cy="1197.2"/>
<circle cx="482.3" cy="1205.7"/>
<circle cx="532.9" cy="1199.1"/>
<circle cx="467.1" cy="1195.8"/>
<circle cx="472.0" cy="1200.8"/>
<circle cx="504.7" cy="1200.7"/>
<circle cx="457.7" cy="1204.1"/>
<circle cx="552.1" cy="1160.7"/>
<circle cx="512.4" cy="1204.1"/>
<circle cx="552.6" cy="1204.0"/>
<circle cx="476.0" cy="1198.8"/>
<circle cx="463.6" cy="1201.8"/>
<circle cx="482.7" cy="1201.7"/>
<circle cx="502.5" cy="1187.4"/>
<circle cx="456.5" cy="1201.8"/>
<circle cx="490.1" cy="1194.2"/>
<circle cx="476.3" cy="1203.5"/>
<circle cx="533.1" cy="1190.2"/>
<circle cx="453.9" cy="1199.9"/>
<circle cx="513.3" cy="1202.1"/>
<circle cx="454.5" cy="1202.0"/>
<circle cx="443.5" cy="1180.3"/>
<circle cx="452.2" cy="1196.0"/>
<circle cx="435.5" cy="1201.2"/>
<circle cx="482.0" cy="1200.6"/>
<circle cx="512.8" cy="1186.8"/>
<circle cx="482.6" cy="1187.7"/>
<circle cx="498.6" cy="1200.4"/>
<circle cx="533.7" cy="1178.0"/>
<circle cx="486.3" cy="1199.6"/>
<circle cx="483.7" cy="1205.0"/>
<circle cx="467.4" cy="1205.6"/>
<circle cx="421.0" cy="1193.5"/>
<circle cx="503.3" cy="1196.2"/>
<circle cx="415.8" cy="1182.7"/>
<circle cx="499.6" cy="1201.2"/>
<circle cx="476.4" cy="1205.9"/>
<circle cx="516.1" cy="1173.1"/>
<circle cx="474.6" cy="1205.8"/>
<circle cx="448.3" cy="1201.9"/>
<circle cx="489.4" cy="1204.1"/>
<circle cx="457.4" cy="1201.4"/>
<circle cx="470.6" cy="1205.0"/>
<circle cx="478.4" cy="1201.4"/>
<circle cx="472.2" cy="1205.9"/>
<circle cx="470.4" cy="1198.5"/>
<circle cx="448.0" cy="1200.0"/>
<circle cx="470.3" cy="1191.7"/>
<circle cx="402.5" cy="1141.9"/>
<circle cx="471.4" cy="1202.6"/>
<circle cx="435.2" cy="1165.6"/>
<circle cx="515.9" cy="1197.9"/>
<circle cx="521.1" cy="1203.4"/>
<circle cx="409.1" cy="1196.6"/>
<circle cx="482.0" cy="1193.3"/>
<circle cx="472.5" cy="1205.5"/>
<circle cx="440.5" cy="1197.5"/>
<circle cx="495.4" cy="1205.9"/>
<circle cx="460.9" cy="1205.4"/>
<circle cx="415.4" cy="1203.0"/>
<circle cx="467.6" cy="1195.2"/>
<circle cx="471.8" cy="1199.3"/>
<circle cx="480.6" cy="1204.4"/>
<circle cx="434.1" cy="1200.0"/>
<circle cx="498.3" cy="1201.9"/>
<circle cx="502.5" cy="1197.4"/>
<circle cx="437.1" cy="1172.6"/>
<circle cx="454.0" cy="1200.9"/>
<circle cx="474.1" cy="1194.9"/>
<circle cx="457.2" cy="1203.3"/>
<circle cx="537.6" cy="1194.8"/>
<circle cx="484.2" cy="1200.8"/>
<circle cx="441.8" cy="1205.6"/>
<circle cx="449.5" cy="1205.0"/>
<circle cx="474.9" cy="1201.0"/>
<circle cx="556.8" cy="1171.0"/>
<circle cx="470.7" cy="1205.1"/>
<circle cx="481.4" cy="1197.9"/>
<circle cx="494.8" cy="1193.4"/>
<circle cx="475.5" cy="1200.8"/>
<circle cx="556.2" cy="1187.4"/>
<circle cx="458.4" cy="1202.9"/>
<circle cx="502.8" cy="1191.6"/>
<circle cx="482.5" cy="1198.8"/>
<circle cx="498.5" cy="1181.1"/>
<circle cx="436.0" cy="1183.5"/>
<circle cx="538.4" cy="1205.8"/>
<circle cx="472.7" cy="1204.2"/>
<circle cx="478.1" cy="1191.5"/>
<circle cx="444.4" cy="1190.4"/>
<circle cx="451.5" cy="1204.6"/>
<circle cx="496.5" cy="1205.5"/>
<circle cx="511.2" cy="1198.0"/>
<circle cx="503.1" cy="1195.8"/>
<circle cx="519.0" cy="1179.0"/>
<circle cx="501.8" cy="1174.7"/>
<circle cx="477.9" cy="1200.6"/>
<circle cx="506.0" cy="1195.5"/>
<circle cx="497.6" cy="1205.5"/>
<circle cx="473.4" cy="1205.3"/>
<circle cx="502.2" cy="1200.8"/>
<circle cx="521.6" cy="1192.4"/>
<circle cx="485.1" cy="1200.2"/>
<circle cx="464.5" cy="1191.8"/>
<circle cx="501.9" cy="1204.9"/>
<circle cx="543.0" cy="1136.5"/>
<circle cx="469.6" cy="1194.1"/>
<circle cx="473.7" cy="1200.5"/>
<circle cx="472.2" cy="1201.5"/>
<circle cx="519.5" cy="1202.4"/>
<circle cx="413.0" cy="1180.2"/>
<circle cx="489.6" cy="1203.0"/>
<circle cx="518.4" cy="1205.0"/>
<circle cx="448.6" cy="1201.5"/>
<circle cx="528.7" cy="1195.6"/>
<circle cx="495.5" cy="1205.4"/>
<circle cx="457.8" cy="1195.3"/>
<circle cx="484.0" cy="1204.1"/>
<circle cx="423.5" cy="1193.9"/>
<circle cx="457.2" cy="1200.1"/>
<circle cx="540.5" cy="1186.8"/>
<circle cx="445.8" cy="1184.3"/>
<circle cx="541.1" cy="1195.3"/>
<circle cx="474.1" cy="1204.6"/>
<circle cx="511.5" cy="1171.7"/>
<circle cx="478.4" cy="1198.9"/>
<circle cx="399.0" cy="1185.9"/>
<circle cx="457.0" cy="1200.7"/>
<circle cx="483.5" cy="1204.6"/>
<circle cx="436.9" cy="1205.1"/>
<circle cx="430.1" cy="1202.7"/>
<circle cx="489.7" cy="1200.4"/>
<circle cx="454.3" cy="1201.0"/>
<circle cx="417.9" cy="1187.3"/>
<circle cx="453.1" cy="1205.4"/>
<circle cx="506.9" cy="1188.5"/>
<circle cx="460.4" cy="1184.5"/>
<circle cx="509.4" cy="1192.2"/>
<circle cx="530.0" cy="1204.8"/>
<circle cx="478.0" cy="1205.3"/>
<circle cx="437.6" cy="1198.0"/>
<circle cx="431.6" cy="1192.8"/>
<circle cx="476.0" cy="1202.9"/>
<circle cx="507.6" cy="1195.8"/>
<circle cx="486.3" cy="1202.4"/>
<circle cx="496.0" cy="1175.0"/>
<circle cx="461.5" cy="1199.1"/>
<circle cx="487.4" cy="1195.6"/>
<circle cx="460.5" cy="1201.1"/>
<circle cx="465.6" cy="1205.9"/>
<circle cx="432.0" cy="1205.2"/>
<circle cx="422.2" cy="1194.0"/>
<circle cx="460.2" cy="1204.4"/>
<circle cx="438.4" cy="1204.0"/>
<circle cx="443.6" cy="1205.3"/>
<circle cx="500.3" cy="1199.5"/>
<circle cx="473.2" cy="1198.5"/>
<circle cx="578.3" cy="1205.8"/>
<circle cx="509.1" cy="1171.3"/>
<circle cx="454.9" cy="1203.0"/>
<circle cx="504.0" cy="1192.7"/>
<circle cx="489.3" cy="1199.1"/>
<circle cx="453.1" cy="1203.1"/>
<circle cx="515.3" cy="1200.1"/>
<circle cx="450.0" cy="1199.5"/>
<circle cx="370.5" cy="1194.5"/>
<circle cx="504.5" cy="1202.1"/>
<circle cx="455.4" cy="1201.1"/>
<circle cx="528.6" cy="1193.4"/>
<circle cx="454.3" cy="1201.9"/>
<circle cx="435.8" cy="1187.3"/>
<circle cx="530.8" cy="1201.9"/>
<circle cx="439.5" cy="1204.7"/>
<circle cx="484.0" cy="1200.4"/>
<circle cx="527.3" cy="1191.4"/>
<circle cx="480.9" cy="1196.0"/>
<circle cx="474.1" cy="1185.2"/>
<circle cx="480.5" cy="1201.3"/>
<circle cx="506.1" cy="1191.2"/>
<circle cx="448.9" cy="1189.4"/>
<circle cx="498.2" cy="1198.4"/>
<circle cx="497.0" cy="1205.4"/>
<circle cx="558.0" cy="1167.5"/>
<circle cx="465.2" cy="1196.8"/>
<circle cx="445.1" cy="1184.3"/>
<circle cx="502.5" cy="1201.3"/>
<circle cx="463.1" cy="1195.7"/>
<circle cx="487.0" cy="1193.7"/>
<circle cx="481.5" cy="1204.6"/>
<circle cx="517.6" cy="1204.0"/>
<circle cx="454.1" cy="1204.2"/>
<circle cx="473.7" cy="1205.3"/>
<circle cx="388.2" cy="1200.6"/>
<circle cx="446.0" cy="1203.6"/>
<circle cx="530.4" cy="1195.4"/>
<circle cx="453.2" cy="1187.8"/>
<circle cx="452.5" cy="1200.5"/>
<circle cx="434.6" cy="1204.5"/>
<circle cx="497.1" cy="1190.2"/>
<circle cx="483.1" cy="1196.6"/>
<circle cx="435.6" cy="1205.6"/>
<circle cx="500.1" cy="1194.3"/>
<circle cx="486.0" cy="1199.6"/>
<circle cx="503.1" cy="1190.9"/>
<circle cx="454.6" cy="1205.6"/>
<circle cx="537.4" cy="1121.6"/>
<circle cx="491.2" cy="1198.5"/>
<circle cx="472.9" cy="1198.7"/>
<circle cx="458.9" cy="1194.1"/>
<circle cx="468.4" cy="1202.9"/>
<circle cx="506.8" cy="1200.4"/>
<circle cx="467.6" cy="1199.8"/>
<circle cx="514.4" cy="1195.2"/>
<circle cx="497.1" cy="1198.5"/>
<circle cx="523.7" cy="1180.6"/>
<circle cx="505.2" cy="1205.3"/>
<circle cx="474.7" cy="1198.2"/>
<circle cx="410.5" cy="1201.7"/>
<circle cx="487.3" cy="1196.2"/>
<circle cx="504.4" cy="1193.9"/>
<circle cx="482.6" cy="1200.2"/>
<circle cx="496.3" cy="1205.0"/>
<circle cx="460.5" cy="1177.0"/>
<circle cx="463.7" cy="1201.0"/>
<circle cx="444.1" cy="1204.0"/>
<circle cx="524.3" cy="1202.1"/>
<circle cx="482.4" cy="1200.7"/>
<circle cx="459.8" cy="1183.6"/>
<circle cx="430.6" cy="1176.2"/>
<circle cx="471.6" cy="1204.3"/>
<circle cx="527.1" cy="1205.8"/>
<circle cx="493.0" cy="1176.7"/>
<circle cx="451.7" cy="1197.7"/>
<circle cx="526.6" cy="1204.4"/>
<circle cx="526.6" cy="1192.4"/>
<circle cx="511.0" cy="1166.6"/>
<circle cx="504.4" cy="1203.7"/>
<circle cx="517.1" cy="1178.1"/>
<circle cx="495.8" cy="1203.4"/>
<circle cx="503.9" cy="1195.7"/>
<circle cx="449.8" cy="1188.8"/>
<circle cx="529.1" cy="1174.3"/>
<circle cx="485.0" cy="1205.2"/>
<circle cx="547.3" cy="1195.6"/>
<circle cx="405.9" cy="1181.0"/>
<circle cx="501.5" cy="1202.7"/>
<circle cx="511.1" cy="1169.4"/>
<circle cx="465.0" cy="1202.0"/>
<circle cx="492.7" cy="1193.3"/>
<circle cx="502.9" cy="1186.1"/>
<circle cx="497.0" cy="1166.1"/>
<circle cx="458.1" cy="1201.2"/>
<circle cx="472.0" cy="1197.6"/>
<circle cx="512.4" cy="1188.1"/>
<circle cx="521.3" cy="1184.4"/>
<circle cx="480.4" cy="1205.3"/>
<circle cx="479.6" cy="1203.0"/>
<circle cx="483.9" cy="1204.5"/>
<circle cx="513.0" cy="1184.5"/>
<circle cx="440.3" cy="1205.2"/>
<circle cx="430.7" cy="1204.4"/>
<circle cx="481.2" cy="1204.4"/>
<circle cx="438.4" cy="1153.7"/>
<circle cx="456.5" cy="1195.7"/>
<circle cx="479.9" cy="1197.0"/>
<circle cx="493.7" cy="1202.7"/>
<circle cx="439.6" cy="1176.0"/>
<circle cx="504.8" cy="1199.3"/>
<circle cx="415.2" cy="1195.9"/>
<circle cx="495.9" cy="1199.7"/>
<circle cx="422.0" cy="1203.6"/>
<circle cx="432.6" cy="1203.6"/>
<circle cx="499.3" cy="1195.5"/>
<circle cx="462.8" cy="1205.2"/>
<circle cx="449.2" cy="1199.9"/>
<circle cx="461.4" cy="1199.4"/>
<circle cx="493.1" cy="1202.8"/>
<circle cx="475.0" cy="1199.7"/>
<circle cx="475.9" cy="1204.0"/>
<circle cx="513.6" cy="1200.3"/>
<circle cx="452.0" cy="1166.1"/>
<circle cx="460.5" cy="1201.1"/>
<circle cx="458.7" cy="1198.1"/>
<circle cx="517.6" cy="1170.3"/>
<circle cx="511.4" cy="1200.3"/>
<circle cx="521.7" cy="1192.1"/>
<circle cx="475.7" cy="1191.8"/>
<circle cx="471.5" cy="1204.9"/>
<circle cx="506.6" cy="1201.1"/>
<circle cx="463.2" cy="1203.4"/>
<circle cx="505.8" cy="1189.6"/>
<circle cx="502.1" cy="1185.5"/>
<circle cx="452.6" cy="1197.1"/>
<circle cx="474.0" cy="1195.6"/>
<circle cx="472.8" cy="1197.9"/>
<circle cx="537.2" cy="1199.4"/>
<circle cx="566.9" cy="1194.2"/>
<circle cx="473.4" cy="1196.3"/>
<circle cx="477.4" cy="1202.8"/>
<circle cx="397.6" cy="1204.6"/>
<circle cx="484.3" cy="1199.6"/>
<circle cx="476.7" cy="1196.8"/>
<circle cx="439.6" cy="1178.7"/>
<circle cx="504.2" cy="1203.7"/>
<circle cx="422.5" cy="1182.8"/>
<circle cx="469.4" cy="1195.3"/>
<circle cx="481.7" cy="1199.1"/>
<circle cx="433.5" cy="1166.0"/>
<circle cx="506.7" cy="1198.5"/>
<circle cx="513.6" cy="1203.4"/>
<circle cx="428.7" cy="1186.6"/>
<circle cx="428.0" cy="1154.2"/>
<circle cx="497.9" cy="1198.0"/>
<circle cx="475.9" cy="1205.2"/>
<circle cx="434.8" cy="1193.0"/>
<circle cx="466.6" cy="1203.2"/>
<circle cx="473.2" cy="1190.1"/>
<circle cx="471.9" cy="1192.9"/>
<circle cx="505.7" cy="1187.3"/>
<circle cx="490.3" cy="1195.2"/>
<circle cx="538.5" cy="1200.5"/>
<circle cx="524.7" cy="1202.1"/>
<circle cx="500.5" cy="1191.8"/>
<circle cx="514.4" cy="1097.4"/>
<circle cx="523.0" cy="1187.6"/>
<circle cx="501.5" cy="1198.6"/>
<circle cx="434.3" cy="1200.8"/>
<circle cx="506.8" cy="1194.1"/>
<circle cx="479.4" cy="1200.0"/>
<circle cx="533.2" cy="1198.9"/>
<circle cx="480.2" cy="1200.5"/>
<circle cx="495.2" cy="1198.9"/>
<circle cx="488.4" cy="1188.4"/>
<circle cx="535.4" cy="1162.2"/>
<circle cx="483.1" cy="1201.1"/>
<circle cx="467.5" cy="1201.7"/>
<circle cx="487.7" cy="1188.3"/>
<circle cx="461.6" cy="1203.0"/>
<circle cx="482.6" cy="1192.0"/>
<circle cx="476.7" cy="1200.2"/>
<circle cx="486.4" cy="1205.3"/>
<circle cx="543.8" cy="1203.9"/>
<circle cx="462.8" cy="1204.8"/>
<circle cx="478.2" cy="1204.2"/>
<circle cx="470.0" cy="1204.1"/>
<circle cx="500.3" cy="1204.4"/>
<circle cx="435.8" cy="1187.0"/>
<circle cx="452.8" cy="1172.5"/>
<circle cx="475.5" cy="1202.3"/>
<circle cx="495.9" cy="1205.7"/>
<circle cx="475.3" cy="1204.0"/>
<circle cx="459.5" cy="1200.2"/>
<circle cx="446.8" cy="1201.0"/>
<circle cx="494.7" cy="1189.1"/>
<circle cx="527.1" cy="1128.0"/>
<circle cx="488.1" cy="1203.6"/>
<circle cx="483.5" cy="1203.8"/>
<circle cx="492.4" cy="1203.8"/>
<circle cx="444.1" cy="1201.1"/>
<circle cx="466.1" cy="1200.7"/>
<circle cx="467.6" cy="1203.7"/>
<circle cx="487.2" cy="1199.1"/>
<circle cx="475.8" cy="1205.7"/>
<circle cx="434.6" cy="1195.4"/>
<circle cx="516.1" cy="1195.7"/>
<circle cx="535.8" cy="1184.3"/>
<circle cx="467.8" cy="1198.3"/>
<circle cx="490.8" cy="1186.0"/>
<circle cx="486.2" cy="1205.8"/>
<circle cx="504.2" cy="1201.6"/>
<circle cx="425.5" cy="1185.9"/>
<circle cx="533.0" cy="1200.4"/>
<circle cx="460.6" cy="1200.0"/>
<circle cx="520.9" cy="1169.2"/>
<circle cx="479.7" cy="1186.9"/>
<circle cx="463.4" cy="1191.5"/>
<circle cx="472.0" cy="1199.4"/>
<circle cx="508.1" cy="1196.0"/>
<circle cx="446.9" cy="1203.3"/>
<circle cx="463.9" cy="1203.3"/>
<circle cx="460.1" cy="1200.2"/>
<circle cx="417.3" cy="1185.9"/>
<circle cx="522.1" cy="1192.5"/>
<circle cx="497.1" cy="1199.4"/>
<circle cx="476.2" cy="1204.5"/>
<circle cx="517.4" cy="1170.9"/>
<circle cx="443.7" cy="1200.6"/>
<circle cx="474.4" cy="1192.7"/>
<circle cx="536.9" cy="1200.1"/>
<circle cx="511.0" cy="1204.7"/>
<circle cx="399.5" cy="1205.9"/>
<circle cx="361.0" cy="1177.1"/>
<circle cx="440.8" cy="1200.3"/>
<circle cx="513.8" cy="1177.4"/>
<circle cx="460.5" cy="1205.6"/>
<circle cx="469.3" cy="1202.1"/>
<circle cx="498.1" cy="1190.5"/>
<circle cx="446.1" cy="1187.4"/>
<circle cx="484.3" cy="1198.5"/>
<circle cx="504.5" cy="1200.5"/>
<circle cx="493.2" cy="1193.4"/>
<circle cx="490.7" cy="1201.5"/>
<circle cx="456.0" cy="1203.4"/>
<circle cx="494.8" cy="1194.1"/>
<circle cx="462.0" cy="1188.7"/>
<circle cx="522.3" cy="1203.0"/>
<circle cx="566.3" cy="1150.1"/>
<circle cx="451.2" cy="1192.8"/>
<circle cx="401.3" cy="1189.7"/>
<circle cx="462.1" cy="1196.0"/>
<circle cx="490.0" cy="1193.4"/>
<circle cx="513.4" cy="1171.8"/>
<circle cx="514.4" cy="1203.1"/>
<circle cx="449.7" cy="1185.3"/>
<circle cx="449.3" cy="1199.4"/>
<circle cx="521.0" cy="1189.5"/>
<circle cx="438.9" cy="1193.1"/>
<circle cx="514.8" cy="1196.9"/>
<circle cx="469.0" cy="1185.9"/>
<circle cx="503.6" cy="1187.4"/>
<circle cx="501.5" cy="1202.2"/>
<circle cx="503.9" cy="1201.6"/>
<circle cx="505.5" cy="1195.1"/>
<circle cx="442.5" cy="1196.4"/>
<circle cx="487.3" cy="1198.1"/>
<circle cx="477.4" cy="1205.0"/>
<circle cx="487.6" cy="1205.7"/>
<circle cx="519.8" cy="1197.6"/>
<circle cx="467.5" cy="1199.1"/>
<circle cx="452.2" cy="1203.6"/>
<circle cx="451.6" cy="1191.4"/>
<circle cx="466.1" cy="1201.3"/>
<circle cx="503.1" cy="1194.5"/>
<circle cx="448.6" cy="1205.4"/>
<circle cx="517.2" cy="1199.8"/>
<circle cx="487.0" cy="1202.9"/>
<circle cx="469.1" cy="1203.9"/>
<circle cx="430.6" cy="1204.0"/>
<circle cx="485.4" cy="1198.8"/>
<circle cx="501.0" cy="1204.7"/>
<circle cx="415.5" cy="1195.1"/>
<circle cx="518.4" cy="1194.8"/>
<circle cx="534.2" cy="1185.1"/>
<circle cx="488.7" cy="1191.0"/>
<circle cx="494.0" cy="1204.6"/>
<circle cx="560.9" cy="1188.7"/>
<circle cx="519.8" cy="1203.8"/>
<circle cx="445.7" cy="1197.0"/>
<circle cx="476.3" cy="1202.5"/>
<circle cx="471.5" cy="1199.2"/>
<circle cx="471.7" cy="1190.6"/>
<circle cx="394.7" cy="1200.9"/>
<circle cx="503.2" cy="1204.3"/>
<circle cx="454.8" cy="1204.3"/>
<circle cx="482.6" cy="1197.5"/>
<circle cx="472.2" cy="1201.2"/>
<circle cx="507.2" cy="1205.8"/>
<circle cx="466.6" cy="1205.3"/>
<circle cx="449.3" cy="1193.4"/>
<circle cx="495.4" cy="1203.7"/>
<circle cx="525.8" cy="1157.0"/>
<circle cx="465.8" cy="1198.8"/>
<circle cx="524.6" cy="1192.2"/>
<circle cx="486.0" cy="1185.5"/>
<circle cx="458.4" cy="1202.7"/>
<circle cx="530.0" cy="1199.8"/>
<circle cx="448.4" cy="1192.9"/>
<circle cx="512.2" cy="1197.9"/>
<circle cx="459.6" cy="1205.3"/>
<circle cx="492.6" cy="1204.7"/>
<circle cx="434.0" cy="1193.1"/>
<circle cx="447.8" cy="1178.7"/>
<circle cx="514.0" cy="1199.4"/>
<circle cx="483.5" cy="1206.0"/>
<circle cx="478.2" cy="1205.7"/>
<circle cx="461.6" cy="1203.7"/>
<circle cx="492.4" cy="1204.6"/>
<circle cx="428.3" cy="1122.1"/>
<circle cx="438.0" cy="1204.5"/>
<circle cx="471.4" cy="1192.7"/>
<circle cx="447.9" cy="1202.3"/>
<circle cx="452.6" cy="1195.6"/>
<circle cx="474.4" cy="1186.9"/>
<circle cx="472.1" cy="1204.3"/>
<circle cx="469.2" cy="1202.9"/>
<circle cx="534.8" cy="1194.2"/>
<circle cx="512.1" cy="1200.8"/>
<circle cx="519.7" cy="1192.0"/>
<circle cx="475.9" cy="1204.2"/>
<circle cx="459.4" cy="1200.5"/>
<circle cx="426.4" cy="1179.7"/>
<circle cx="464.8" cy="1205.8"/>
<circle cx="404.4" cy="1137.0"/>
<circle cx="456.6" cy="1204.1"/>
<circle cx="503.5" cy="1187.8"/>
<circle cx="533.3" cy="1203.1"/>
<circle cx="510.5" cy="1204.6"/>
<circle cx="447.0" cy="1200.6"/>
<circle cx="494.1" cy="1204.8"/>
<circle cx="449.5" cy="1189.1"/>
<circle cx="505.5" cy="1202.9"/>
<circle cx="473.0" cy="1201.8"/>
<circle cx="506.8" cy="1190.1"/>
<circle cx="566.4" cy="1158.8"/>
<circle cx="509.0" cy="1200.4"/>
<circle cx="558.0" cy="1202.8"/>
<circle cx="483.1" cy="1202.3"/>
<circle cx="465.4" cy="1188.4"/>
<circle cx="523.3" cy="1203.0"/>
<circle cx="536.9" cy="1202.3"/>
<circle cx="457.6" cy="1202.7"/>
<circle cx="479.6" cy="1198.7"/>
<circle cx="427.0" cy="1200.1"/>
<circle cx="470.0" cy="1202.3"/>
<circle cx="507.8" cy="1193.4"/>
<circle cx="473.9" cy="1204.3"/>
<circle cx="457.1" cy="1199.3"/>
<circle cx="428.0" cy="1179.4"/>
<circle cx="489.7" cy="1201.0"/>
<circle cx="504.7" cy="1165.9"/>
<circle cx="497.7" cy="1196.6"/>
<circle cx="485.8" cy="1188.4"/>
<circle cx="432.6" cy="1193.8"/>
<circle cx="538.2" cy="1198.3"/>
<circle cx="475.0" cy="1203.0"/>
<circle cx="471.9" cy="1193.6"/>
<circle cx="502.4" cy="1198.1"/>
<circle cx="401.7" cy="1194.2"/>
<circle cx="474.7" cy="1203.3"/>
<circle cx="472.2" cy="1201.3"/>
<circle cx="489.9" cy="1196.1"/>
<circle cx="523.8" cy="1201.3"/>
<circle cx="493.3" cy="1200.2"/>
<circle cx="413.2" cy="1200.8"/>
<circle cx="465.1" cy="1198.2"/>
<circle cx="484.1" cy="1202.0"/>
<circle cx="482.0" cy="1199.6"/>
<circle cx="432.4" cy="1192.5"/>
<circle cx="419.1" cy="1202.8"/>
<circle cx="496.0" cy="1200.6"/>
<circle cx="488.9" cy="1169.1"/>
<circle cx="476.2" cy="1197.3"/>
<circle cx="416.9" cy="1185.6"/>
<circle cx="538.6" cy="1165.3"/>
<circle cx="376.0" cy="1201.2"/>
<circle cx="464.3" cy="1204.4"/>
<circle cx="549.6" cy="1190.9"/>
<circle cx="471.4" cy="1205.8"/>
<circle cx="485.0" cy="1205.6"/>
<circle cx="435.9" cy="1185.7"/>
<circle cx="524.2" cy="1164.8"/>
<circle cx="432.0" cy="1203.4"/>
<circle cx="485.8" cy="1206.0"/>
<circle cx="481.6" cy="1178.1"/>
<circle cx="440.4" cy="1205.5"/>
<circle cx="507.8" cy="1200.6"/>
<circle cx="427.7" cy="1181.9"/>
<circle cx="453.1" cy="1204.4"/>
<circle cx="475.9" cy="1192.2"/>
<circle cx="462.6" cy="1201.9"/>
<circle cx="493.2" cy="1204.0"/>
<circle cx="509.1" cy="1184.0"/>
<circle cx="466.7" cy="1204.2"/>
<circle cx="458.1" cy="1191.0"/>
<circle cx="458.9" cy="1205.3"/>
<circle cx="464.2" cy="1198.4"/>
<circle cx="505.1" cy="1185.0"/>
<circle cx="469.3" cy="1203.0"/>
<circle cx="491.1" cy="1204.5"/>
<circle cx="473.7" cy="1198.5"/>
<circle cx="447.5" cy="1185.4"/>
<circle cx="507.0" cy="1201.9"/>
<circle cx="440.8" cy="1202.2"/>
<circle cx="477.1" cy="1205.3"/>
<circle cx="528.6" cy="1183.2"/>
<circle cx="438.9" cy="1195.8"/>
<circle cx="475.0" cy="1206.0"/>
<circle cx="421.8" cy="1174.5"/>
<circle cx="459.2" cy="1184.8"/>
<circle cx="424.9" cy="1187.4"/>
<circle cx="464.3" cy="1205.0"/>
<circle cx="458.2" cy="1189.9"/>
<circle cx="481.5" cy="1202.1"/>
<circle cx="532.0" cy="1190.6"/>
<circle cx="486.8" cy="1194.8"/>
<circle cx="499.8" cy="1198.3"/>
<circle cx="475.2" cy="1204.1"/>
<circle cx="468.4" cy="1205.4"/>
<circle cx="447.9" cy="1203.8"/>
<circle cx="414.3" cy="1192.9"/>
<circle cx="479.3" cy="1203.7"/>
<circle cx="533.6" cy="1200.3"/>
<circle cx="493.5" cy="1204.2"/>
<circle cx="458.3" cy="1200.2"/>
<circle cx="534.3" cy="1161.1"/>
<circle cx="461.9" cy="1204.7"/>
<circle cx="455.4" cy="1197.9"/>
<circle cx="434.7" cy="1188.6"/>
<circle cx="443.5" cy="1197.0"/>
<circle cx="468.3" cy="1202.1"/>
<circle cx="546.4" cy="1202.6"/>
<circle cx="469.7" cy="1199.2"/>
<circle cx="441.0" cy="1199.6"/>
<circle cx="455.9" cy="1205.6"/>
<circle cx="469.2" cy="1204.5"/>
<circle cx="417.4" cy="1098.6"/>
<circle cx="481.3" cy="1203.6"/>
<circle cx="501.3" cy="1187.1"/>
<circle cx="488.1" cy="1196.1"/>
<circle cx="497.8" cy="1201.6"/>
<circle cx="432.1" cy="1203.4"/>
<circle cx="417.8" cy="1203.0"/>
<circle cx="521.6" cy="1202.7"/>
<circle cx="515.0" cy="1197.1"/>
<circle cx="423.3" cy="1199.0"/>
<circle cx="484.1" cy="1201.4"/>
<circle cx="477.8" cy="1198.8"/>
<circle cx="495.9" cy="1202.0"/>
<circle cx="484.2" cy="1204.6"/>
<circle cx="459.5" cy="1198.5"/>
<circle cx="483.7" cy="1200.7"/>
<circle cx="482.4" cy="1202.9"/>
<circle cx="475.2" cy="1200.8"/>
<circle cx="412.5" cy="1160.9"/>
<circle cx="372.7" cy="1187.0"/>
<circle cx="449.4" cy="1204.7"/>
<circle cx="420.1" cy="1204.2"/>
<circle cx="485.7" cy="1205.3"/>
<circle cx="501.8" cy="1191.7"/>
<circle cx="486.1" cy="1205.5"/>
<circle cx="464.1" cy="1197.0"/>
<circle cx="479.4" cy="1182.1"/>
<circle cx="517.5" cy="1177.9"/>
<circle cx="451.6" cy="1196.8"/>
<circle cx="509.0" cy="1202.4"/>
<circle cx="501.5" cy="1199.7"/>
<circle cx="486.0" cy="1200.5"/>
<circle cx="527.4" cy="1200.5"/>
<circle cx="452.0" cy="1199.7"/>
<circle cx="509.7" cy="1199.7"/>
<circle cx="444.6" cy="1194.1"/>
<circle cx="450.2" cy="1200.7"/>
<circle cx="440.1" cy="1203.4"/>
<circle cx="492.4" cy="1187.5"/>
<circle cx="444.2" cy="1204.0"/>
<circle cx="478.7" cy="1205.0"/>
<circle cx="437.4" cy="1147.1"/>
<circle cx="514.0" cy="1202.2"/>
<circle cx="540.8" cy="1181.9"/>
<circle cx="484.8" cy="1199.1"/>
<circle cx="534.1" cy="1198.2"/>
<circle cx="496.4" cy="1200.1"/>
<circle cx="552.4" cy="1185.7"/>
<circle cx="480.4" cy="1204.1"/>
<circle cx="422.3" cy="1189.7"/>
<circle cx="528.8" cy="1175.0"/>
<circle cx="472.5" cy="1195.7"/>
<circle cx="440.9" cy="1200.3"/>
<circle cx="454.1" cy="1203.6"/>
<circle cx="420.4" cy="1156.4"/>
<circle cx="471.1" cy="1205.7"/>
<circle cx="439.7" cy="1202.7"/>
<circle cx="528.5" cy="1201.4"/>
<circle cx="500.0" cy="1205.3"/>
<circle cx="419.2" cy="1196.9"/>
<circle cx="424.4" cy="1178.0"/>
<circle cx="457.2" cy="1196.8"/>
<circle cx="410.0" cy="1202.8"/>
<circle cx="473.1" cy="1205.2"/>
<circle cx="475.4" cy="1197.8"/>
<circle cx="450.0" cy="1202.8"/>
<circle cx="457.9" cy="1197.1"/>
<circle cx="494.3" cy="1192.2"/>
<circle cx="526.4" cy="1200.2"/>
<circle cx="528.9" cy="1182.4"/>
<circle cx="478.1" cy="1197.2"/>
<circle cx="506.7" cy="1183.1"/>
<circle cx="451.2" cy="1199.5"/>
<circle cx="491.2" cy="1187.2"/>
<circle cx="443.5" cy="1184.4"/>
<circle cx="502.3" cy="1196.9"/>
<circle cx="433.8" cy="1204.1"/>
<circle cx="443.4" cy="1197.1"/>
<circle cx="476.6" cy="1201.9"/>
<circle cx="496.3" cy="1186.5"/>
<circle cx="426.9" cy="1189.7"/>
<circle cx="458.3" cy="1205.6"/>
<circle cx="481.6" cy="1204.4"/>
<circle cx="484.9" cy="1195.9"/>
<circle cx="447.7" cy="1205.5"/>
<circle cx="480.3" cy="1204.6"/>
<circle cx="467.6" cy="1202.9"/>
<circle cx="525.7" cy="1181.2"/>
<circle cx="496.3" cy="1186.0"/>
<circle cx="430.9" cy="1198.6"/>
<circle cx="400.3" cy="1193.9"/>
<circle cx="480.4" cy="1205.3"/>
<circle cx="518.0" cy="1200.9"/>
<circle cx="483.0" cy="1205.6"/>
<circle cx="507.6" cy="1202.5"/>
<circle cx="460.1" cy="1201.1"/>
<circle cx="429.5" cy="1178.0"/>
<circle cx="503.0" cy="1185.8"/>
<circle cx="480.4" cy="1198.5"/>
<circle cx="500.7" cy="1155.1"/>
<circle cx="428.9" cy="1198.6"/>
<circle cx="483.2" cy="1205.0"/>
<circle cx="455.2" cy="1201.3"/>
<circle cx="505.0" cy="1197.9"/>
<circle cx="456.7" cy="1201.6"/>
<circle cx="455.8" cy="1177.0"/>
<circle cx="456.5" cy="1201.9"/>
<circle cx="520.9" cy="1189.3"/>
<circle cx="477.9" cy="1204.4"/>
<circle cx="450.5" cy="1184.3"/>
<circle cx="441.4" cy="1202.2"/>
<circle cx="440.6" cy="1199.0"/>
<circle cx="527.8" cy="1201.6"/>
<circle cx="413.8" cy="1193.8"/>
<circle cx="447.3" cy="1189.0"/>
<circle cx="499.1" cy="1184.2"/>
<circle cx="517.9" cy="1187.2"/>
<circle cx="471.8" cy="1204.7"/>
<circle cx="504.2" cy="1204.0"/>
<circle cx="503.3" cy="1190.4"/>
<circle cx="511.2" cy="1199.1"/>
<circle cx="478.5" cy="1200.2"/>
<circle cx="534.5" cy="1201.6"/>
<circle cx="484.4" cy="1176.2"/>
<circle cx="530.8" cy="1162.9"/>
<circle cx="439.3" cy="1184.4"/>
<circle cx="510.3" cy="1204.8"/>
<circle cx="434.0" cy="1205.3"/>
<circle cx="425.6" cy="1188.9"/>
<circle cx="495.2" cy="1202.8"/>
<circle cx="449.1" cy="1189.5"/>
<circle cx="493.5" cy="1186.2"/>
<circle cx="440.8" cy="1195.0"/>
<circle cx="534.0" cy="1178.2"/>
<circle cx="478.5" cy="1201.0"/>
<circle cx="438.9" cy="1181.5"/>
<circle cx="484.4" cy="1204.3"/>
<circle cx="509.1" cy="1194.2"/>
<circle cx="451.6" cy="1177.0"/>
<circle cx="496.5" cy="1202.9"/>
<circle cx="549.7" cy="1197.2"/>
<circle cx="508.8" cy="1183.3"/>
<circle cx="478.3" cy="1203.7"/>
<circle cx="458.8" cy="1186.1"/>
<circle cx="498.8" cy="1171.6"/>
<circle cx="426.0" cy="1192.4"/>
<circle cx="373.0" cy="1190.0"/>
<circle cx="455.6" cy="1193.8"/>
<circle cx="441.1" cy="1196.5"/>
<circle cx="539.5" cy="1205.8"/>
<circle cx="483.7" cy="1198.9"/>
<circle cx="444.6" cy="1182.0"/>
<circle cx="438.5" cy="1195.7"/>
<circle cx="496.3" cy="1199.9"/>
<circle cx="450.1" cy="1185.0"/>
<circle cx="458.8" cy="1192.8"/>
<circle cx="475.9" cy="1199.6"/>
<circle cx="482.1" cy="1204.8"/>
<circle cx="482.5" cy="1193.8"/>
<circle cx="483.2" cy="1194.9"/>
<circle cx="524.5" cy="1185.5"/>
<circle cx="538.4" cy="1185.5"/>
<circle cx="421.8" cy="1184.0"/>
<circle cx="569.0" cy="1168.8"/>
<circle cx="483.8" cy="1200.6"/>
<circle cx="522.6" cy="1201.2"/>
<circle cx="453.7" cy="1196.9"/>
<circle cx="490.7" cy="1199.9"/>
<circle cx="486.9" cy="1198.8"/>
<circle cx="483.4" cy="1204.6"/>
<circle cx="509.1" cy="1184.4"/>
<circle cx="501.5" cy="1176.2"/>
<circle cx="444.5" cy="1192.1"/>
<circle cx="475.4" cy="1205.1"/>
<circle cx="504.9" cy="1205.3"/>
<circle cx="503.4" cy="1198.3"/>
<circle cx="467.8" cy="1205.2"/>
<circle cx="469.8" cy="1200.2"/>
<circle cx="474.2" cy="1206.0"/>
<circle cx="441.1" cy="1175.3"/>
<circle cx="434.8" cy="1183.5"/>
<circle cx="534.1" cy="1164.8"/>
<circle cx="465.8" cy="1203.6"/>
<circle cx="482.9" cy="1205.7"/>
<circle cx="453.5" cy="1176.7"/>
<circle cx="524.7" cy="1184.7"/>
<circle cx="540.5" cy="1176.4"/>
<circle cx="471.9" cy="1196.8"/>
<circle cx="497.4" cy="1200.7"/>
<circle cx="453.3" cy="1203.2"/>
<circle cx="540.9" cy="1169.5"/>
<circle cx="511.7" cy="1205.3"/>
<circle cx="450.3" cy="1203.6"/>
<circle cx="522.9" cy="1201.4"/>
<circle cx="492.1" cy="1206.0"/>
<circle cx="493.9" cy="1196.1"/>
<circle cx="492.0" cy="1204.1"/>
<circle cx="456.2" cy="1194.3"/>
<circle cx="460.8" cy="1186.7"/>
<circle cx="501.1" cy="1200.1"/>
<circle cx="477.7" cy="1204.5"/>
<circle cx="446.5" cy="1179.7"/>
<circle cx="550.1" cy="1157.1"/>
<circle cx="472.1" cy="1202.7"/>
<circle cx="459.9" cy="1204.4"/>
<circle cx="455.1" cy="1179.8"/>
<circle cx="503.4" cy="1205.5"/>
<circle cx="513.3" cy="1204.5"/>
<circle cx="487.9" cy="1204.3"/>
<circle cx="509.6" cy="1198.5"/>
<circle cx="427.2" cy="1203.8"/>
<circle cx="466.4" cy="1190.7"/>
<circle cx="462.9" cy="1197.7"/>
<circle cx="479.4" cy="1205.8"/>
<circle cx="496.2" cy="1204.7"/>
<circle cx="408.3" cy="1156.6"/>
<circle cx="587.9" cy="1166.3"/>
<circle cx="449.0" cy="1198.8"/>
<circle cx="491.1" cy="1204.1"/>
<circle cx="507.9" cy="1205.1"/>
<circle cx="508.7" cy="1198.9"/>
<circle cx="487.4" cy="1193.5"/>
<circle cx="377.8" cy="1204.7"/>
<circle cx="441.1" cy="1200.8"/>
<circle cx="505.3" cy="1184.0"/>
<circle cx="446.8" cy="1177.3"/>
<circle cx="442.0" cy="1193.7"/>
<circle cx="396.8" cy="1205.8"/>
<circle cx="521.0" cy="1191.5"/>
<circle cx="496.3" cy="1204.7"/>
<circle cx="447.4" cy="1205.9"/>
<circle cx="473.8" cy="1206.0"/>
<circle cx="474.8" cy="1201.6"/>
<circle cx="439.4" cy="1202.1"/>
<circle cx="468.6" cy="1187.5"/>
<circle cx="486.9" cy="1200.0"/>
<circle cx="497.2" cy="1200.7"/>
<circle cx="522.0" cy="1199.5"/>
<circle cx="478.9" cy="1200.0"/>
<circle cx="461.8" cy="1194.1"/>
<circle cx="491.8" cy="1193.7"/>
<circle cx="455.9" cy="1203.6"/>
<circle cx="434.2" cy="1200.2"/>
<circle cx="517.5" cy="1200.7"/>
<circle cx="464.4" cy="1190.6"/>
<circle cx="481.9" cy="1200.8"/>
<circle cx="500.2" cy="1169.1"/>
<circle cx="439.1" cy="1196.8"/>
<circle cx="499.9" cy="1198.0"/>
<circle cx="493.3" cy="1176.5"/>
<circle cx="474.2" cy="1199.0"/>
<circle cx="491.3" cy="1204.6"/>
<circle cx="451.3" cy="1173.4"/>
<circle cx="400.9" cy="1204.2"/>
<circle cx="467.7" cy="1196.3"/>
<circle cx="445.9" cy="1204.6"/>
<circle cx="507.8" cy="1188.8"/>
<circle cx="486.8" cy="1194.2"/>
<circle cx="459.1" cy="1202.0"/>
<circle cx="479.2" cy="1204.5"/>
<circle cx="524.6" cy="1195.1"/>
<circle cx="517.0" cy="1203.4"/>
<circle cx="490.4" cy="1203.0"/>
<circle cx="492.5" cy="1198.9"/>
<circle cx="467.9" cy="1205.7"/>
<circle cx="473.0" cy="1204.4"/>
<circle cx="498.0" cy="1202.4"/>
<circle cx="473.4" cy="1203.7"/>
<circle cx="487.9" cy="1202.1"/>
<circle cx="438.7" cy="1203.7"/>
<circle cx="419.4" cy="1197.7"/>
<circle cx="418.4" cy="1179.5"/>
<circle cx="462.3" cy="1205.9"/>
<circle cx="523.7" cy="1199.1"/>
<circle cx="518.6" cy="1204.9"/>
<circle cx="442.8" cy="1205.0"/>
<circle cx="423.3" cy="1176.6"/>
<circle cx="505.1" cy="1191.6"/>
<circle cx="493.6" cy="1204.6"/>
<circle cx="429.9" cy="1200.4"/>
<circle cx="514.3" cy="1194.6"/>
<circle cx="483.5" cy="1199.0"/>
<circle cx="523.5" cy="1196.5"/>
<circle cx="489.4" cy="1198.6"/>
<circle cx="508.4" cy="1195.3"/>
<circle cx="488.6" cy="1204.3"/>
<circle cx="444.3" cy="1187.1"/>
<circle cx="469.3" cy="1204.3"/>
<circle cx="453.9" cy="1191.2"/>
<circle cx="506.3" cy="1184.1"/>
<circle cx="442.8" cy="1194.4"/>
<circle cx="424.1" cy="1174.9"/>
<circle cx="501.2" cy="1194.1"/>
<circle cx="517.3" cy="1168.8"/>
<circle cx="527.7" cy="1197.3"/>
<circle cx="515.4" cy="1204.4"/>
<circle cx="424.9" cy="1143.1"/>
<circle cx="453.1" cy="1205.3"/>
<circle cx="458.3" cy="1191.5"/>
<circle cx="476.6" cy="1201.3"/>
<circle cx="402.4" cy="1186.5"/>
<circle cx="477.0" cy="1205.8"/>
<circle cx="487.0" cy="1173.8"/>
<circle cx="444.3" cy="1196.8"/>
<circle cx="481.4" cy="1195.9"/>
<circle cx="518.8" cy="1189.7"/>
<circle cx="478.9" cy="1195.5"/>
<circle cx="514.1" cy="1176.9"/>
<circle cx="512.6" cy="1201.3"/>
<circle cx="491.6" cy="1195.7"/>
<circle cx="490.7" cy="1198.5"/>
<circle cx="464.4" cy="1205.9"/>
<circle cx="520.5" cy="1198.7"/>
<circle cx="460.9" cy="1203.7"/>
<circle cx="453.1" cy="1183.9"/>
<circle cx="501.9" cy="1183.4"/>
<circle cx="452.1" cy="1202.2"/>
<circle cx="492.1" cy="1199.3"/>
<circle cx="514.1" cy="1200.5"/>
<circle cx="480.1" cy="1202.1"/>
<circle cx="481.0" cy="1199.2"/>
<circle cx="509.3" cy="1183.0"/>
<circle cx="503.6" cy="1193.5"/>
<circle cx="423.8" cy="1193.9"/>
<circle cx="431.8" cy="1205.9"/>
<circle cx="523.7" cy="1146.6"/>
<circle cx="491.0" cy="1194.4"/>
<circle cx="405.0" cy="1180.4"/>
<circle cx="430.5" cy="1192.7"/>
<circle cx="478.3" cy="1204.9"/>
<circle cx="443.4" cy="1195.9"/>
<circle cx="493.8" cy="1204.1"/>
<circle cx="480.2" cy="1204.8"/>
<circle cx="494.6" cy="1174.6"/>
<circle cx="436.9" cy="1191.1"/>
<circle cx="499.2" cy="1190.6"/>
<circle cx="545.7" cy="1192.4"/>
<circle cx="449.9" cy="1191.1"/>
<circle cx="523.3" cy="1198.4"/>
<circle cx="511.8" cy="1206.0"/>
<circle cx="500.0" cy="1188.3"/>
<circle cx="475.4" cy="1189.9"/>
<circle cx="437.2" cy="1186.9"/>
<circle cx="447.1" cy="1178.4"/>
<circle cx="504.3" cy="1200.9"/>
<circle cx="511.8" cy="1204.4"/>
<circle cx="520.2" cy="1190.0"/>
<circle cx="511.1" cy="1203.4"/>
<circle cx="509.1" cy="1175.9"/>
<circle cx="462.6" cy="1202.2"/>
<circle cx="435.7" cy="1195.9"/>
<circle cx="484.8" cy="1202.6"/>
<circle cx="495.1" cy="1177.1"/>
<circle cx="480.7" cy="1199.6"/>
<circle cx="424.9" cy="1204.3"/>
<circle cx="459.7" cy="1203.8"/>
<circle cx="426.4" cy="1202.2"/>
<circle cx="482.8" cy="1204.9"/>
<circle cx="441.2" cy="1203.3"/>
<circle cx="472.0" cy="1203.8"/>
<circle cx="489.0" cy="1195.1"/>
<circle cx="482.6" cy="1201.8"/>
<circle cx="525.4" cy="1204.1"/>
<circle cx="439.4" cy="1201.3"/>
<circle cx="401.9" cy="1195.8"/>
<circle cx="510.7" cy="1192.6"/>
<circle cx="526.6" cy="1205.9"/>
<circle cx="527.7" cy="1205.1"/>
<circle cx="487.8" cy="1188.2"/>
<circle cx="496.6" cy="1196.9"/>
<circle cx="482.2" cy="1193.7"/>
<circle cx="432.9" cy="1204.4"/>
<circle cx="458.1" cy="1171.3"/>
<circle cx="495.2" cy="1205.4"/>
<circle cx="457.9" cy="1200.0"/>
<circle cx="544.3" cy="1186.3"/>
<circle cx="424.4" cy="1165.3"/>
<circle cx="462.9" cy="1202.7"/>
<circle cx="516.6" cy="1205.6"/>
<circle cx="456.8" cy="1198.6"/>
<circle cx="438.6" cy="1180.8"/>
<circle cx="430.7" cy="1198.0"/>
<circle cx="452.7" cy="1170.1"/>
<circle cx="530.5" cy="1179.3"/>
<circle cx="492.2" cy="1183.9"/>
<circle cx="496.0" cy="1189.2"/>
<circle cx="460.0" cy="1200.3"/>
<circle cx="507.4" cy="1203.3"/>
<circle cx="481.7" cy="1195.0"/>
<circle cx="446.0" cy="1196.2"/>
<circle cx="462.3" cy="1205.1"/>
<circle cx="485.1" cy="1203.1"/>
<circle cx="518.8" cy="1185.1"/>
<circle cx="476.0" cy="1203.3"/>
<circle cx="495.5" cy="1186.5"/>
<circle cx="548.3" cy="1166.0"/>
<circle cx="450.3" cy="1195.8"/>
<circle cx="434.9" cy="1195.5"/>
<circle cx="512.3" cy="1204.9"/>
<circle cx="493.3" cy="1204.7"/>
<circle cx="474.7" cy="1195.3"/>
<circle cx="487.3" cy="1205.4"/>
<circle cx="466.6" cy="1203.2"/>
<circle cx="496.1" cy="1204.8"/>
<circle cx="466.4" cy="1199.4"/>
<circle cx="505.9" cy="1204.3"/>
<circle cx="437.4" cy="1188.9"/>
<circle cx="449.7" cy="1193.8"/>
<circle cx="482.2" cy="1204.4"/>
<circle cx="461.8" cy="1205.3"/>
<circle cx="502.3" cy="1203.5"/>
<circle cx="476.7" cy="1196.1"/>
<circle cx="459.3" cy="1193.3"/>
<circle cx="485.5" cy="1200.0"/>
<circle cx="459.8" cy="1202.9"/>
<circle cx="424.0" cy="1188.9"/>
<circle cx="438.7" cy="1202.8"/>
<circle cx="450.3" cy="1196.9"/>
<circle cx="461.9" cy="1196.3"/>
<circle cx="481.7" cy="1197.3"/>
<circle cx="510.0" cy="1177.3"/>
<circle cx="497.5" cy="1186.9"/>
<circle cx="540.2" cy="1198.7"/>
<circle cx="522.7" cy="1201.3"/>
<circle cx="471.8" cy="1204.4"/>
<circle cx="535.8" cy="1183.6"/>
<circle cx="519.5" cy="1151.6"/>
<circle cx="462.7" cy="1200.2"/>
<circle cx="489.3" cy="1203.6"/>
<circle cx="516.5" cy="1200.2"/>
<circle cx="486.9" cy="1197.3"/>
<circle cx="513.8" cy="1186.1"/>
<circle cx="492.3" cy="1203.0"/>
<circle cx="503.0" cy="1204.6"/>
<circle cx="467.4" cy="1195.6"/>
<circle cx="491.7" cy="1199.8"/>
<circle cx="465.9" cy="1190.7"/>
<circle cx="502.0" cy="1190.5"/>
<circle cx="419.8" cy="1167.8"/>
<circle cx="490.2" cy="1205.8"/>
<circle cx="522.0" cy="1166.2"/>
<circle cx="498.7" cy="1195.2"/>
<circle cx="477.7" cy="1193.5"/>
<circle cx="497.3" cy="1176.2"/>
<circle cx="449.1" cy="1202.3"/>
<circle cx="449.6" cy="1191.4"/>
<circle cx="466.1" cy="1202.3"/>
<circle cx="473.4" cy="1202.5"/>
<circle cx="512.2" cy="1188.9"/>
<circle cx="447.5" cy="1198.9"/>
<circle cx="513.4" cy="1189.0"/>
<circle cx="423.8" cy="1188.8"/>
<circle cx="451.2" cy="1201.4"/>
<circle cx="477.3" cy="1202.7"/>
<circle cx="518.8" cy="1205.4"/>
<circle cx="457.2" cy="1195.3"/>
<circle cx="404.0" cy="1202.3"/>
<circle cx="493.1" cy="1191.7"/>
<circle cx="477.5" cy="1205.5"/>
<circle cx="440.9" cy="1191.4"/>
<circle cx="442.2" cy="1188.0"/>
<circle cx="454.3" cy="1187.5"/>
<circle cx="481.9" cy="1204.5"/>
<circle cx="501.6" cy="1202.7"/>
<circle cx="427.1" cy="1201.5"/>
<circle cx="558.1" cy="1149.7"/>
<circle cx="477.2" cy="1203.5"/>
<circle cx="465.5" cy="1199.4"/>
<circle cx="501.9" cy="1185.2"/>
<circle cx="482.3" cy="1197.2"/>
<circle cx="559.8" cy="1191.7"/>
<circle cx="516.6" cy="1200.2"/>
<circle cx="465.7" cy="1205.4"/>
<circle cx="464.9" cy="1204.0"/>
<circle cx="461.2" cy="1203.4"/>
<circle cx="466.6" cy="1202.4"/>
<circle cx="501.9" cy="1201.0"/>
<circle cx="456.0" cy="1190.7"/>
<circle cx="534.6" cy="1191.1"/>
<circle cx="475.6" cy="1199.2"/>
<circle cx="473.4" cy="1203.0"/>
<circle cx="511.4" cy="1194.5"/>
<circle cx="409.6" cy="1202.8"/>
<circle cx="445.9" cy="1179.3"/>
<circle cx="499.3" cy="1205.6"/>
<circle cx="478.8" cy="1194.6"/>
<circle cx="478.0" cy="1204.9"/>
<circle cx="492.2" cy="1200.4"/>
<circle cx="457.5" cy="1190.2"/>
<circle cx="472.5" cy="1205.5"/>
<circle cx="431.1" cy="1205.1"/>
<circle cx="413.2" cy="1199.6"/>
<circle cx="522.4" cy="1204.5"/>
<circle cx="445.9" cy="1202.1"/>
<circle cx="453.5" cy="1204.7"/>
<circle cx="526.9" cy="1198.0"/>
<circle cx="515.2" cy="1198.2"/>
<circle cx="460.0" cy="1195.8"/>
<circle cx="459.9" cy="1205.8"/>
<circle cx="475.5" cy="1204.5"/>
<circle cx="445.1" cy="1190.4"/>
<circle cx="497.4" cy="1198.1"/>
<circle cx="483.3" cy="1188.5"/>
<circle cx="482.8" cy="1202.7"/>
<circle cx="504.5" cy="1198.6"/>
<circle cx="503.3" cy="1205.4"/>
<circle cx="542.3" cy="1189.3"/>
<circle cx="531.0" cy="1204.6"/>
<circle cx="418.8" cy="1200.5"/>
<circle cx="509.5" cy="1177.5"/>
<circle cx="439.4" cy="1175.8"/>
<circle cx="428.6" cy="1192.2"/>
<circle cx="503.0" cy="1201.3"/>
<circle cx="453.8" cy="1198.5"/>
<circle cx="467.3" cy="1205.2"/>
<circle cx="515.5" cy="1177.0"/>
<circle cx="455.2" cy="1185.3"/>
<circle cx="447.1" cy="1205.3"/>
<circle cx="489.6" cy="1179.0"/>
<circle cx="520.8" cy="1200.0"/>
<circle cx="496.6" cy="1203.1"/>
<circle cx="424.2" cy="1181.2"/>
<circle cx="455.6" cy="1201.8"/>
<circle cx="473.0" cy="1204.4"/>
<circle cx="545.4" cy="1205.0"/>
<circle cx="509.3" cy="1190.9"/>
<circle cx="507.9" cy="1203.4"/>
<circle cx="520.1" cy="1200.4"/>
<circle cx="467.5" cy="1204.8"/>
<circle cx="494.9" cy="1201.6"/>
<circle cx="495.3" cy="1203.0"/>
<circle cx="444.3" cy="1196.4"/>
<circle cx="477.7" cy="1204.4"/>
<circle cx="497.9" cy="1172.7"/>
<circle cx="440.7" cy="1157.2"/>
<circle cx="506.4" cy="1204.8"/>
<circle cx="504.6" cy="1196.2"/>
<circle cx="514.2" cy="1199.1"/>
<circle cx="451.3" cy="1196.8"/>
<circle cx="482.0" cy="1197.8"/>
<circle cx="528.8" cy="1204.5"/>
<circle cx="505.8" cy="1181.2"/>
<circle cx="450.8" cy="1204.0"/>
<circle cx="486.1" cy="1201.6"/>
<circle cx="527.6" cy="1202.1"/>
<circle cx="475.6" cy="1185.2"/>
<circle cx="491.5" cy="1197.6"/>
<circle cx="567.6" cy="1163.8"/>
<circle cx="476.9" cy="1204.0"/>
<circle cx="474.5" cy="1193.8"/>
<circle cx="443.2" cy="1205.0"/>
<circle cx="455.3" cy="1193.7"/>
<circle cx="529.8" cy="1197.2"/>
<circle cx="473.3" cy="1200.4"/>
<circle cx="436.8" cy="1199.6"/>
<circle cx="445.7" cy="1196.1"/>
<circle cx="478.3" cy="1201.4"/>
<circle cx="504.7" cy="1191.8"/>
<circle cx="452.1" cy="1194.8"/>
<circle cx="502.8" cy="1180.5"/>
<circle cx="461.0" cy="1200.0"/>
<circle cx="490.3" cy="1204.2"/>
<circle cx="495.9" cy="1205.6"/>
<circle cx="499.0" cy="1200.4"/>
<circle cx="462.8" cy="1204.8"/>
<circle cx="471.9" cy="1203.6"/>
<circle cx="495.3" cy="1189.7"/>
<circle cx="432.6" cy="1182.6"/>
<circle cx="483.6" cy="1195.4"/>
<circle cx="495.4" cy="1196.9"/>
<circle cx="513.8" cy="1170.1"/>
<circle cx="476.1" cy="1203.1"/>
<circle cx="470.9" cy="1204.6"/>
<circle cx="482.2" cy="1205.8"/>
<circle cx="451.8" cy="1199.9"/>
<circle cx="469.9" cy="1202.2"/>
<circle cx="491.4" cy="1187.1"/>
<circle cx="486.9" cy="1206.0"/>
<circle cx="440.8" cy="1203.2"/>
<circle cx="465.7" cy="1204.1"/>
<circle cx="403.5" cy="1204.6"/>
<circle cx="504.8" cy="1197.5"/>
<circle cx="458.4" cy="1200.6"/>
<circle cx="485.2" cy="1199.2"/>
<circle cx="438.6" cy="1201.4"/>
<circle cx="473.8" cy="1205.3"/>
<circle cx="492.2" cy="1205.9"/>
<circle cx="510.8" cy="1202.8"/>
<circle cx="429.3" cy="1202.2"/>
<circle cx="505.9" cy="1193.0"/>
<circle cx="470.8" cy="1201.9"/>
<circle cx="449.5" cy="1198.8"/>
<circle cx="493.0" cy="1193.9"/>
<circle cx="466.2" cy="1198.3"/>
<circle cx="466.1" cy="1181.5"/>
<circle cx="451.9" cy="1197.6"/>
<circle cx="484.1" cy="1202.2"/>
<circle cx="477.6" cy="1204.3"/>
<circle cx="470.3" cy="1203.2"/>
<circle cx="443.1" cy="1192.8"/>
<circle cx="458.5" cy="1190.6"/>
<circle cx="490.3" cy="1203.5"/>
<circle cx="520.7" cy="1202.8"/>
<circle cx="475.3" cy="1204.7"/>
<circle cx="525.4" cy="1204.2"/>
<circle cx="475.9" cy="1200.7"/>
<circle cx="438.3" cy="1193.5"/>
<circle cx="498.2" cy="1176.9"/>
<circle cx="442.7" cy="1196.7"/>
<circle cx="490.2" cy="1196.9"/>
<circle cx="513.4" cy="1204.9"/>
<circle cx="465.5" cy="1202.7"/>
<circle cx="473.2" cy="1204.0"/>
<circle cx="562.0" cy="1185.2"/>
<circle cx="484.6" cy="1204.8"/>
<circle cx="485.4" cy="1191.2"/>
<circle cx="503.4" cy="1204.8"/>
<circle cx="472.8" cy="1195.4"/>
<circle cx="473.2" cy="1202.7"/>
<circle cx="489.5" cy="1205.4"/>
<circle cx="393.2" cy="1162.0"/>
<circle cx="525.5" cy="1205.8"/>
<circle cx="439.2" cy="1187.0"/>
<circle cx="438.8" cy="1194.6"/>
<circle cx="495.0" cy="1206.0"/>
<circle cx="477.2" cy="1202.9"/>
<circle cx="432.9" cy="1200.9"/>
<circle cx="483.7" cy="1201.7"/>
<circle cx="436.7" cy="1179.3"/>
<circle cx="452.1" cy="1204.0"/>
<circle cx="424.1" cy="1176.2"/>
<circle cx="447.6" cy="1188.7"/>
<circle cx="490.1" cy="1202.2"/>
<circle cx="480.6" cy="1200.6"/>
<circle cx="487.0" cy="1199.5"/>
<circle cx="508.3" cy="1205.3"/>
<circle cx="474.8" cy="1202.4"/>
<circle cx="453.4" cy="1203.4"/>
<circle cx="466.6" cy="1192.8"/>
<circle cx="533.5" cy="1146.8"/>
<circle cx="477.5" cy="1199.4"/>
<circle cx="487.4" cy="1205.3"/>
<circle cx="472.9" cy="1203.3"/>
<circle cx="484.8" cy="1204.1"/>
<circle cx="491.3" cy="1202.2"/>
<circle cx="476.0" cy="1196.6"/>
<circle cx="470.9" cy="1199.8"/>
<circle cx="449.2" cy="1205.4"/>
<circle cx="446.9" cy="1196.7"/>
<circle cx="490.4" cy="1200.3"/>
<circle cx="502.3" cy="1201.7"/>
<circle cx="508.3" cy="1201.0"/>
<circle cx="478.2" cy="1202.7"/>
<circle cx="447.6" cy="1198.2"/>
<circle cx="498.2" cy="1203.9"/>
<circle cx="497.7" cy="1196.0"/>
<circle cx="424.1" cy="1205.1"/>
<circle cx="504.1" cy="1205.6"/>
<circle cx="496.5" cy="1192.9"/>
<circle cx="534.1" cy="1189.9"/>
<circle cx="437.2" cy="1185.4"/>
<circle cx="431.9" cy="1201.4"/>
<circle cx="503.6" cy="1205.8"/>
<circle cx="414.0" cy="1201.2"/>
<circle cx="451.0" cy="1202.7"/>
<circle cx="438.5" cy="1202.4"/>
<circle cx="441.2" cy="1193.9"/>
<circle cx="410.2" cy="1169.1"/>
<circle cx="468.1" cy="1198.9"/>
<circle cx="510.2" cy="1200.0"/>
<circle cx="491.7" cy="1187.7"/>
<circle cx="491.9" cy="1192.8"/>
<circle cx="464.0" cy="1176.6"/>
<circle cx="526.6" cy="1196.8"/>
<circle cx="494.8" cy="1145.9"/>
<circle cx="512.9" cy="1199.5"/>
<circle cx="422.7" cy="1203.7"/>
<circle cx="488.5" cy="1181.5"/>
<circle cx="436.9" cy="1169.4"/>
<circle cx="488.7" cy="1202.2"/>
<circle cx="483.5" cy="1203.4"/>
<circle cx="437.5" cy="1181.9"/>
<circle cx="482.8" cy="1195.7"/>
<circle cx="516.9" cy="1195.3"/>
<circle cx="494.1" cy="1205.7"/>
<circle cx="497.2" cy="1179.3"/>
<circle cx="446.9" cy="1194.6"/>
<circle cx="453.2" cy="1191.8"/>
<circle cx="438.3" cy="1179.0"/>
<circle cx="481.4" cy="1201.2"/>
<circle cx="518.1" cy="1200.7"/>
<circle cx="491.9" cy="1205.9"/>
<circle cx="476.8" cy="1205.8"/>
<circle cx="438.1" cy="1199.8"/>
<circle cx="492.3" cy="1204.9"/>
<circle cx="468.6" cy="1193.8"/>
<circle cx="410.9" cy="1203.0"/>
<circle cx="417.0" cy="1202.3"/>
<circle cx="465.2" cy="1205.1"/>
<circle cx="445.9" cy="1184.0"/>
<circle cx="534.2" cy="1149.6"/>
<circle cx="478.2" cy="1204.7"/>
<circle cx="441.0" cy="1199.4"/>
<circle cx="460.1" cy="1198.1"/>
<circle cx="532.1" cy="1161.0"/>
<circle cx="444.2" cy="1202.7"/>
<circle cx="503.7" cy="1198.7"/>
<circle cx="492.2" cy="1202.7"/>
<circle cx="527.9" cy="1195.4"/>
<circle cx="495.4" cy="1203.4"/>
<circle cx="463.1" cy="1205.9"/>
<circle cx="495.3" cy="1202.5"/>
<circle cx="479.4" cy="1205.4"/>
<circle cx="510.8" cy="1177.9"/>
<circle cx="474.9" cy="1192.8"/>
<circle cx="545.6" cy="1198.2"/>
<circle cx="473.6" cy="1201.7"/>
<circle cx="492.4" cy="1198.4"/>
<circle cx="454.4" cy="1204.1"/>
<circle cx="481.6" cy="1201.5"/>
<circle cx="478.2" cy="1204.4"/>
<circle cx="483.1" cy="1191.3"/>
<circle cx="508.5" cy="1198.8"/>
<circle cx="458.7" cy="1194.6"/>
<circle cx="448.0" cy="1198.2"/>
<circle cx="515.7" cy="1178.8"/>
<circle cx="467.4" cy="1205.5"/>
<circle cx="454.2" cy="1196.5"/>
<circle cx="517.3" cy="1184.1"/>
<circle cx="504.3" cy="1202.2"/>
<circle cx="385.9" cy="1139.9"/>
<circle cx="464.3" cy="1174.8"/>
<circle cx="504.6" cy="1205.9"/>
<circle cx="506.3" cy="1203.9"/>
<circle cx="459.7" cy="1205.4"/>
<circle cx="531.6" cy="1197.9"/>
<circle cx="450.1" cy="1205.1"/>
<circle cx="469.5" cy="1200.6"/>
<circle cx="482.0" cy="1201.7"/>
<circle cx="477.4" cy="1202.5"/>
<circle cx="505.5" cy="1180.1"/>
<circle cx="513.0" cy="1192.8"/>
<circle cx="476.1" cy="1200.4"/>
<circle cx="526.1" cy="1179.7"/>
<circle cx="454.0" cy="1192.1"/>
<circle cx="470.3" cy="1204.7"/>
<circle cx="537.3" cy="1205.5"/>
<circle cx="481.1" cy="1200.1"/>
<circle cx="514.7" cy="1198.9"/>
<circle cx="462.9" cy="1202.5"/>
<circle cx="468.7" cy="1205.2"/>
<circle cx="474.2" cy="1204.0"/>
<circle cx="483.8" cy="1204.5"/>
<circle cx="466.2" cy="1197.1"/>
<circle cx="478.5" cy="1202.8"/>
<circle cx="501.1" cy="1204.8"/>
<circle cx="519.7" cy="1187.4"/>
<circle cx="481.8" cy="1187.4"/>
<circle cx="500.5" cy="1187.0"/>
<circle cx="509.6" cy="1187.1"/>
<circle cx="440.8" cy="1193.0"/>
<circle cx="423.6" cy="1204.3"/>
<circle cx="534.0" cy="1181.1"/>
<circle cx="523.7" cy="1204.2"/>
<circle cx="480.1" cy="1204.0"/>
<circle cx="490.2" cy="1203.4"/>
<circle cx="445.5" cy="1183.2"/>
<circle cx="430.2" cy="1200.8"/>
<circle cx="489.0" cy="1201.6"/>
<circle cx="426.6" cy="1200.7"/>
<circle cx="509.7" cy="1192.6"/>
<circle cx="454.5" cy="1204.0"/>
<circle cx="488.1" cy="1205.8"/>
<circle cx="545.0" cy="1195.1"/>
<circle cx="543.4" cy="1184.5"/>
<circle cx="468.6" cy="1203.5"/>
<circle cx="515.0" cy="1197.9"/>
<circle cx="442.3" cy="1203.4"/>
<circle cx="457.7" cy="1181.1"/>
<circle cx="490.8" cy="1190.8"/>
<circle cx="526.0" cy="1194.2"/>
<circle cx="458.1" cy="1192.9"/>
<circle cx="496.7" cy="1202.2"/>
<circle cx="481.5" cy="1203.1"/>
<circle cx="434.2" cy="1186.2"/>
<circle cx="473.3" cy="1200.7"/>
<circle cx="529.8" cy="1191.6"/>
<circle cx="474.7" cy="1204.4"/>
<circle cx="495.3" cy="1204.8"/>
<circle cx="506.6" cy="1127.2"/>
<circle cx="452.4" cy="1201.9"/>
<circle cx="520.5" cy="1183.9"/>
<circle cx="529.9" cy="1183.2"/>
<circle cx="533.2" cy="1200.7"/>
<circle cx="523.3" cy="1190.6"/>
<circle cx="461.7" cy="1173.9"/>
<circle cx="457.5" cy="1203.2"/>
<circle cx="450.6" cy="1196.6"/>
<circle cx="446.3" cy="1205.9"/>
<circle cx="450.2" cy="1192.1"/>
<circle cx="512.1" cy="1205.3"/>
<circle cx="528.4" cy="1201.4"/>
<circle cx="455.5" cy="1189.2"/>
<circle cx="505.8" cy="1197.1"/>
<circle cx="433.8" cy="1192.2"/>
<circle cx="466.4" cy="1195.7"/>
<circle cx="443.1" cy="1185.9"/>
<circle cx="421.2" cy="1187.9"/>
<circle cx="479.5" cy="1194.3"/>
<circle cx="480.3" cy="1202.6"/>
<circle cx="463.4" cy="1205.7"/>
<circle cx="459.4" cy="1200.1"/>
<circle cx="443.3" cy="1195.6"/>
<circle cx="472.9" cy="1199.9"/>
<circle cx="456.6" cy="1198.3"/>
<circle cx="485.8" cy="1204.6"/>
<circle cx="435.6" cy="1203.8"/>
<circle cx="485.3" cy="1184.8"/>
<circle cx="495.1" cy="1198.4"/>
<circle cx="520.5" cy="1206.0"/>
<circle cx="513.8" cy="1197.0"/>
<circle cx="483.9" cy="1197.9"/>
<circle cx="453.6" cy="1191.9"/>
<circle cx="413.7" cy="1204.4"/>
<circle cx="477.0" cy="1202.6"/>
<circle cx="526.3" cy="1198.5"/>
<circle cx="534.8" cy="1200.0"/>
<circle cx="388.9" cy="1154.6"/>
<circle cx="450.9" cy="1195.4"/>
<circle cx="465.0" cy="1199.7"/>
<circle cx="441.0" cy="1195.7"/>
<circle cx="483.7" cy="1203.7"/>
<circle cx="478.5" cy="1201.3"/>
<circle cx="459.2" cy="1199.8"/>
<circle cx="475.9" cy="1205.5"/>
<circle cx="421.8" cy="1186.9"/>
<circle cx="443.4" cy="1178.9"/>
<circle cx="446.0" cy="1176.9"/>
<circle cx="508.3" cy="1205.7"/>
<circle cx="420.6" cy="1193.1"/>
<circle cx="469.7" cy="1194.2"/>
<circle cx="504.2" cy="1197.6"/>
<circle cx="475.2" cy="1201.9"/>
<circle cx="505.3" cy="1183.5"/>
<circle cx="454.4" cy="1181.8"/>
<circle cx="492.3" cy="1202.0"/>
<circle cx="508.6" cy="1188.4"/>
<circle cx="554.7" cy="1157.4"/>
<circle cx="502.4" cy="1200.7"/>
<circle cx="526.8" cy="1194.1"/>
<circle cx="477.6" cy="1202.1"/>
<circle cx="480.6" cy="1203.7"/>
<circle cx="531.8" cy="1177.2"/>
<circle cx="497.5" cy="1191.3"/>
<circle cx="526.6" cy="1191.3"/>
<circle cx="502.0" cy="1190.7"/>
<circle cx="551.1" cy="1202.2"/>
<circle cx="560.2" cy="1190.3"/>
<circle cx="448.3" cy="1204.8"/>
<circle cx="542.1" cy="1204.5"/>
<circle cx="492.6" cy="1187.4"/>
<circle cx="494.1" cy="1194.2"/>
<circle cx="473.5" cy="1205.1"/>
<circle cx="502.6" cy="1203.8"/>
<circle cx="438.9" cy="1190.8"/>
<circle cx="452.4" cy="1200.4"/>
<circle cx="451.1" cy="1159.6"/>
<circle cx="487.8" cy="1199.5"/>
<circle cx="509.8" cy="1184.1"/>
<circle cx="503.4" cy="1190.8"/>
<circle cx="490.6" cy="1199.5"/>
<circle cx="457.2" cy="1199.0"/>
<circle cx="416.6" cy="1193.4"/>
<circle cx="491.9" cy="1200.4"/>
<circle cx="483.0" cy="1205.0"/>
<circle cx="490.3" cy="1184.0"/>
<circle cx="527.6" cy="1183.3"/>
<circle cx="471.6" cy="1195.0"/>
<circle cx="470.9" cy="1205.8"/>
<circle cx="397.4" cy="1197.1"/>
<circle cx="497.4" cy="1198.7"/>
<circle cx="476.2" cy="1199.3"/>
<circle cx="452.2" cy="1190.7"/>
<circle cx="491.4" cy="1204.9"/>
<circle cx="441.6" cy="1204.2"/>
<circle cx="459.1" cy="1203.7"/>
<circle cx="546.2" cy="1191.6"/>
<circle cx="504.1" cy="1201.2"/>
<circle cx="510.1" cy="1205.4"/>
<circle cx="504.0" cy="1200.8"/>
<circle cx="500.3" cy="1179.9"/>
<circle cx="484.6" cy="1205.5"/>
<circle cx="557.4" cy="1183.3"/>
<circle cx="475.3" cy="1200.3"/>
<circle cx="503.4" cy="1201.6"/>
<circle cx="470.2" cy="1203.4"/>
<circle cx="465.6" cy="1196.1"/>
<circle cx="393.0" cy="1202.8"/>
<circle cx="410.9" cy="1181.8"/>
<circle cx="531.6" cy="1153.7"/>
<circle cx="529.5" cy="1205.4"/>
<circle cx="462.5" cy="1201.3"/>
<circle cx="476.5" cy="1205.4"/>
<circle cx="499.0" cy="1205.4"/>
<circle cx="443.0" cy="1178.4"/>
<circle cx="539.1" cy="1195.0"/>
<circle cx="441.4" cy="1188.5"/>
<circle cx="452.5" cy="1197.2"/>
<circle cx="381.4" cy="1183.0"/>
<circle cx="530.2" cy="1204.1"/>
<circle cx="479.5" cy="1203.9"/>
<circle cx="533.9" cy="1205.5"/>
<circle cx="442.6" cy="1204.7"/>
<circle cx="489.2" cy="1197.6"/>
<circle cx="480.0" cy="1205.7"/>
<circle cx="484.4" cy="1202.5"/>
<circle cx="549.6" cy="1163.6"/>
<circle cx="556.2" cy="1193.2"/>
<circle cx="525.4" cy="1202.4"/>
<circle cx="463.5" cy="1202.7"/>
<circle cx="508.5" cy="1203.9"/>
<circle cx="524.2" cy="1205.3"/>
<circle cx="496.8" cy="1199.4"/>
<circle cx="497.2" cy="1203.4"/>
<circle cx="494.1" cy="1188.3"/>
<circle cx="446.0" cy="1187.0"/>
<circle cx="485.9" cy="1204.5"/>
<circle cx="533.1" cy="1184.7"/>
<circle cx="442.7" cy="1200.0"/>
<circle cx="480.2" cy="1199.7"/>
<circle cx="506.3" cy="1195.8"/>
<circle cx="429.8" cy="1096.7"/>
<circle cx="472.5" cy="1204.0"/>
<circle cx="418.2" cy="1186.7"/>
<circle cx="456.2" cy="1192.5"/>
<circle cx="428.3" cy="1192.9"/>
<circle cx="446.0" cy="1204.8"/>
<circle cx="460.1" cy="1203.7"/>
<circle cx="467.5" cy="1205.2"/>
<circle cx="470.0" cy="1205.8"/>
<circle cx="393.4" cy="1192.6"/>
<circle cx="532.3" cy="1187.1"/>
<circle cx="467.5" cy="1195.9"/>
<circle cx="438.9" cy="1190.8"/>
<circle cx="455.1" cy="1195.0"/>
<circle cx="487.8" cy="1201.8"/>
<circle cx="442.1" cy="1194.9"/>
<circle cx="462.5" cy="1204.2"/>
<circle cx="460.6" cy="1203.3"/>
<circle cx="495.7" cy="1203.5"/>
<circle cx="450.9" cy="1182.6"/>
<circle cx="492.7" cy="1204.3"/>
<circle cx="489.1" cy="1190.8"/>
<circle cx="471.8" cy="1179.6"/>
<circle cx="520.1" cy="1204.2"/>
<circle cx="477.6" cy="1203.3"/>
<circle cx="436.0" cy="1188.6"/>
<circle cx="487.3" cy="1198.5"/>
<circle cx="481.2" cy="1204.9"/>
<circle cx="475.5" cy="1205.0"/>
<circle cx="485.0" cy="1204.7"/>
<circle cx="558.6" cy="1167.5"/>
<circle cx="485.0" cy="1202.8"/>
<circle cx="492.8" cy="1201.0"/>
<circle cx="468.3" cy="1202.4"/>
<circle cx="522.5" cy="1175.0"/>
<circle cx="474.9" cy="1197.4"/>
<circle cx="449.0" cy="1206.0"/>
<circle cx="434.4" cy="1201.3"/>
<circle cx="495.2" cy="1205.7"/>
<circle cx="502.8" cy="1191.1"/>
<circle cx="421.7" cy="1167.2"/>
<circle cx="451.7" cy="1198.6"/>
<circle cx="499.2" cy="1205.7"/>
<circle cx="512.6" cy="1200.4"/>
<circle cx="431.0" cy="1166.9"/>
<circle cx="462.7" cy="1187.6"/>
<circle cx="505.8" cy="1203.0"/>
<circle cx="458.3" cy="1193.3"/>
<circle cx="461.2" cy="1205.0"/>
<circle cx="458.1" cy="1196.8"/>
<circle cx="431.4" cy="1184.7"/>
<circle cx="478.5" cy="1194.7"/>
<circle cx="487.5" cy="1197.8"/>
<circle cx="428.1" cy="1193.1"/>
<circle cx="480.3" cy="1204.7"/>
<circle cx="515.4" cy="1192.4"/>
<circle cx="484.1" cy="1204.5"/>
<circle cx="509.8" cy="1193.3"/>
<circle cx="457.7" cy="1205.0"/>
<circle cx="524.5" cy="1204.0"/>
<circle cx="449.5" cy="1201.9"/>
<circle cx="542.4" cy="1199.5"/>
<circle cx="461.2" cy="1181.6"/>
<circle cx="451.8" cy="1188.2"/>
<circle cx="445.8" cy="1199.0"/>
<circle cx="462.5" cy="1203.1"/>
<circle cx="459.7" cy="1205.0"/>
<circle cx="452.9" cy="1199.2"/>
<circle cx="465.4" cy="1193.0"/>
<circle cx="499.9" cy="1192.3"/>
<circle cx="507.5" cy="1167.3"/>
<circle cx="465.1" cy="1179.4"/>
<circle cx="519.8" cy="1198.0"/>
<circle cx="442.1" cy="1205.3"/>
<circle cx="441.0" cy="1192.3"/>
<circle cx="437.5" cy="1177.5"/>
<circle cx="497.7" cy="1197.4"/>
<circle cx="422.9" cy="1158.7"/>
<circle cx="428.2" cy="1198.6"/>
<circle cx="521.3" cy="1187.4"/>
<circle cx="536.4" cy="1176.1"/>
<circle cx="523.5" cy="1203.9"/>
<circle cx="424.9" cy="1196.7"/>
<circle cx="477.1" cy="1202.3"/>
<circle cx="505.7" cy="1205.3"/>
<circle cx="480.1" cy="1197.0"/>
<circle cx="420.4" cy="1184.3"/>
<circle cx="464.8" cy="1202.7"/>
<circle cx="417.6" cy="1199.4"/>
<circle cx="433.8" cy="1203.8"/>
<circle cx="551.5" cy="1143.7"/>
<circle cx="500.3" cy="1205.8"/>
<circle cx="425.6" cy="1181.2"/>
<circle cx="424.4" cy="1200.1"/>
<circle cx="492.5" cy="1193.0"/>
<circle cx="455.4" cy="1183.1"/>
<circle cx="496.7" cy="1196.0"/>
<circle cx="454.1" cy="1193.0"/>
<circle cx="469.6" cy="1205.2"/>
<circle cx="484.9" cy="1198.2"/>
<circle cx="440.7" cy="1133.1"/>
<circle cx="409.8" cy="1200.5"/>
<circle cx="435.0" cy="1185.9"/>
<circle cx="452.3" cy="1201.2"/>
<circle cx="469.4" cy="1203.4"/>
<circle cx="474.5" cy="1194.2"/>
<circle cx="474.2" cy="1205.3"/>
<circle cx="494.4" cy="1204.2"/>
<circle cx="445.4" cy="1187.8"/>
<circle cx="525.0" cy="1192.5"/>
<circle cx="546.1" cy="1181.7"/>
<circle cx="489.2" cy="1186.1"/>
<circle cx="483.0" cy="1202.3"/>
<circle cx="519.8" cy="1205.3"/>
<circle cx="499.0" cy="1202.3"/>
<circle cx="482.9" cy="1200.1"/>
<circle cx="470.6" cy="1199.3"/>
<circle cx="450.7" cy="1195.2"/>
<circle cx="435.7" cy="1187.6"/>
<circle cx="499.5" cy="1203.1"/>
<circle cx="517.7" cy="1202.6"/>
<circle cx="439.6" cy="1195.4"/>
<circle cx="473.9" cy="1205.2"/>
<circle cx="483.9" cy="1193.1"/>
<circle cx="461.6" cy="1205.1"/>
<circle cx="449.9" cy="1175.6"/>
<circle cx="462.7" cy="1205.3"/>
<circle cx="407.8" cy="1095.8"/>
<circle cx="474.2" cy="1202.1"/>
<circle cx="466.1" cy="1198.8"/>
<circle cx="550.0" cy="1167.7"/>
<circle cx="508.9" cy="1199.8"/>
<circle cx="464.3" cy="1205.2"/>
<circle cx="476.0" cy="1200.9"/>
<circle cx="536.0" cy="1175.0"/>
<circle cx="532.2" cy="1198.3"/>
<circle cx="482.7" cy="1203.2"/>
<circle cx="471.8" cy="1202.8"/>
<circle cx="426.1" cy="1183.4"/>
<circle cx="464.9" cy="1190.8"/>
<circle cx="470.4" cy="1200.8"/>
<circle cx="450.7" cy="1205.5"/>
<circle cx="536.5" cy="1162.2"/>
<circle cx="411.1" cy="1180.7"/>
<circle cx="471.6" cy="1200.5"/>
<circle cx="490.5" cy="1205.0"/>
<circle cx="491.5" cy="1195.8"/>
<circle cx="535.0" cy="1203.4"/>
<circle cx="427.7" cy="1199.7"/>
<circle cx="450.3" cy="1161.5"/>
<circle cx="479.7" cy="1203.2"/>
<circle cx="480.9" cy="1191.0"/>
<circle cx="462.9" cy="1205.9"/>
<circle cx="449.7" cy="1205.0"/>
<circle cx="513.6" cy="1202.7"/>
<circle cx="439.8" cy="1194.8"/>
<circle cx="456.3" cy="1199.3"/>
<circle cx="526.3" cy="1178.7"/>
<circle cx="536.6" cy="1168.6"/>
<circle cx="506.6" cy="1189.4"/>
<circle cx="446.4" cy="1199.3"/>
<circle cx="446.6" cy="1202.9"/>
<circle cx="445.0" cy="1198.7"/>
<circle cx="436.8" cy="1177.7"/>
<circle cx="461.8" cy="1197.9"/>
<circle cx="520.5" cy="1203.6"/>
<circle cx="484.0" cy="1193.5"/>
<circle cx="450.0" cy="1187.9"/>
<circle cx="449.2" cy="1190.1"/>
<circle cx="435.3" cy="1201.3"/>
<circle cx="518.2" cy="1174.3"/>
<circle cx="405.9" cy="1137.8"/>
<circle cx="485.7" cy="1204.0"/>
<circle cx="426.1" cy="1182.9"/>
<circle cx="439.3" cy="1201.3"/>
<circle cx="424.3" cy="1185.0"/>
<circle cx="509.5" cy="1184.8"/>
<circle cx="473.2" cy="1205.2"/>
<circle cx="571.4" cy="1175.1"/>
<circle cx="439.9" cy="1200.0"/>
<circle cx="437.8" cy="1170.7"/>
<circle cx="496.4" cy="1181.1"/>
<circle cx="495.4" cy="1202.0"/>
<circle cx="466.0" cy="1200.9"/>
<circle cx="405.5" cy="1176.4"/>
<circle cx="526.0" cy="1190.7"/>
<circle cx="495.5" cy="1197.0"/>
<circle cx="489.6" cy="1204.7"/>
<circle cx="455.0" cy="1184.7"/>
<circle cx="497.9" cy="1197.3"/>
<circle cx="456.1" cy="1202.5"/>
<circle cx="477.0" cy="1187.5"/>
<circle cx="468.9" cy="1196.1"/>
<circle cx="519.2" cy="1198.7"/>
<circle cx="459.0" cy="1199.0"/>
<circle cx="463.3" cy="1203.1"/>
<circle cx="513.8" cy="1197.5"/>
<circle cx="483.2" cy="1185.5"/>
<circle cx="474.6" cy="1200.5"/>
<circle cx="466.8" cy="1192.6"/>
<circle cx="508.3" cy="1200.2"/>
<circle cx="452.5" cy="1201.4"/>
<circle cx="491.5" cy="1197.6"/>
<circle cx="545.7" cy="1201.4"/>
<circle cx="489.0" cy="1203.4"/>
<circle cx="447.7" cy="1199.3"/>
<circle cx="433.2" cy="1205.9"/>
<circle cx="480.1" cy="1203.1"/>
<circle cx="432.3" cy="1194.9"/>
<circle cx="419.5" cy="1201.4"/>
<circle cx="448.5" cy="1196.5"/>
<circle cx="436.8" cy="1194.0"/>
<circle cx="505.3" cy="1201.4"/>
<circle cx="424.3" cy="1161.2"/>
<circle cx="529.8" cy="1205.8"/>
<circle cx="448.6" cy="1205.9"/>
<circle cx="478.8" cy="1204.7"/>
<circle cx="498.0" cy="1205.5"/>
<circle cx="482.4" cy="1194.7"/>
<circle cx="499.7" cy="1200.9"/>
<circle cx="440.2" cy="1195.2"/>
<circle cx="395.5" cy="1194.6"/>
<circle cx="467.5" cy="1199.5"/>
<circle cx="416.0" cy="1184.1"/>
<circle cx="454.2" cy="1200.3"/>
<circle cx="507.2" cy="1200.8"/>
<circle cx="467.5" cy="1200.2"/>
<circle cx="453.7" cy="1201.5"/>
<circle cx="435.0" cy="1201.8"/>
<circle cx="464.1" cy="1202.2"/>
<circle cx="468.2" cy="1205.9"/>
<circle cx="419.1" cy="1199.7"/>
<circle cx="484.4" cy="1196.1"/>
<circle cx="436.7" cy="1205.3"/>
<circle cx="481.7" cy="1196.7"/>
<circle cx="458.4" cy="1204.6"/>
<circle cx="508.5" cy="1194.6"/>
<circle cx="503.9" cy="1202.0"/>
<circle cx="474.4" cy="1205.7"/>
<circle cx="470.3" cy="1203.8"/>
<circle cx="489.4" cy="1197.9"/>
<circle cx="522.3" cy="1169.5"/>
<circle cx="511.4" cy="1160.7"/>
<circle cx="480.0" cy="1205.8"/>
<circle cx="485.6" cy="1195.7"/>
<circle cx="529.6" cy="1205.3"/>
<circle cx="417.9" cy="1198.1"/>
<circle cx="493.8" cy="1191.3"/>
<circle cx="443.6" cy="1205.4"/>
<circle cx="522.3" cy="1190.8"/>
<circle cx="458.0" cy="1202.2"/>
<circle cx="471.4" cy="1206.0"/>
<circle cx="437.6" cy="1204.4"/>
<circle cx="476.1" cy="1204.1"/>
<circle cx="503.2" cy="1202.5"/>
<circle cx="533.9" cy="1201.3"/>
<circle cx="431.9" cy="1200.2"/>
<circle cx="460.6" cy="1200.5"/>
<circle cx="612.1" cy="1196.2"/>
<circle cx="509.0" cy="1192.9"/>
<circle cx="476.0" cy="1199.0"/>
<circle cx="494.6" cy="1161.9"/>
<circle cx="383.6" cy="1180.0"/>
<circle cx="532.7" cy="1196.0"/>
<circle cx="482.0" cy="1205.2"/>
<circle cx="426.6" cy="1198.2"/>
<circle cx="517.3" cy="1200.6"/>
<circle cx="454.8" cy="1205.6"/>
<circle cx="440.9" cy="1178.5"/>
<circle cx="495.0" cy="1202.4"/>
<circle cx="490.8" cy="1200.8"/>
<circle cx="460.8" cy="1198.7"/>
<circle cx="474.3" cy="1204.1"/>
<circle cx="430.1" cy="1199.8"/>
<circle cx="426.5" cy="1167.9"/>
<circle cx="508.2" cy="1188.8"/>
<circle cx="522.7" cy="1205.5"/>
<circle cx="491.9" cy="1205.8"/>
<circle cx="489.9" cy="1193.1"/>
<circle cx="463.1" cy="1200.9"/>
<circle cx="472.4" cy="1204.5"/>
<circle cx="444.3" cy="1202.2"/>
<circle cx="538.1" cy="1164.9"/>
<circle cx="457.2" cy="1182.3"/>
<circle cx="491.2" cy="1202.6"/>
<circle cx="476.9" cy="1206.0"/>
<circle cx="428.2" cy="1192.5"/>
<circle cx="544.4" cy="1184.2"/>
<circle cx="463.8" cy="1202.1"/>
<circle cx="450.2" cy="1203.4"/>
<circle cx="480.9" cy="1205.6"/>
<circle cx="445.7" cy="1201.6"/>
<circle cx="477.9" cy="1205.8"/>
<circle cx="443.5" cy="1197.8"/>
<circle cx="496.6" cy="1202.7"/>
<circle cx="478.9" cy="1205.6"/>
<circle cx="429.3" cy="1195.3"/>
<circle cx="513.0" cy="1205.0"/>
<circle cx="483.7" cy="1201.5"/>
<circle cx="438.6" cy="1205.4"/>
<circle cx="489.5" cy="1204.6"/>
<circle cx="492.0" cy="1203.9"/>
<circle cx="541.8" cy="1186.8"/>
<circle cx="447.0" cy="1166.1"/>
<circle cx="506.9" cy="1190.5"/>
<circle cx="473.8" cy="1205.2"/>
<circle cx="498.6" cy="1195.8"/>
<circle cx="468.0" cy="1202.8"/>
<circle cx="475.2" cy="1203.5"/>
<circle cx="494.5" cy="1199.3"/>
<circle cx="435.7" cy="1174.9"/>
<circle cx="403.9" cy="1183.2"/>
<circle cx="476.9" cy="1194.0"/>
<circle cx="461.7" cy="1203.6"/>
<circle cx="480.3" cy="1205.9"/>
<circle cx="499.7" cy="1196.1"/>
<circle cx="469.8" cy="1198.4"/>
<circle cx="519.0" cy="1155.0"/>
<circle cx="476.1" cy="1195.2"/>
<circle cx="481.5" cy="1202.1"/>
<circle cx="506.7" cy="1192.8"/>
<circle cx="498.2" cy="1205.9"/>
<circle cx="474.7" cy="1205.4"/>
<circle cx="482.2" cy="1193.9"/>
<circle cx="451.4" cy="1203.4"/>
<circle cx="456.4" cy="1198.6"/>
<circle cx="481.5" cy="1202.1"/>
<circle cx="506.3" cy="1206.0"/>
<circle cx="462.8" cy="1205.0"/>
<circle cx="507.3" cy="1200.8"/>
<circle cx="545.8" cy="1156.6"/>
<circle cx="553.0" cy="1189.1"/>
<circle cx="479.1" cy="1201.0"/>
<circle cx="515.0" cy="1195.4"/>
<circle cx="499.6" cy="1166.1"/>
<circle cx="505.8" cy="1201.1"/>
<circle cx="507.7" cy="1184.0"/>
<circle cx="496.7" cy="1203.1"/>
<circle cx="507.4" cy="1171.4"/>
<circle cx="485.3" cy="1194.3"/>
<circle cx="469.6" cy="1206.0"/>
<circle cx="487.6" cy="1202.3"/>
<circle cx="495.9" cy="1189.6"/>
<circle cx="521.5" cy="1195.8"/>
<circle cx="491.7" cy="1205.7"/>
<circle cx="504.7" cy="1195.6"/>
<circle cx="528.5" cy="1191.2"/>
<circle cx="446.3" cy="1204.3"/>
<circle cx="469.7" cy="1200.6"/>
<circle cx="497.7" cy="1173.1"/>
<circle cx="479.8" cy="1203.2"/>
<circle cx="443.5" cy="1161.9"/>
<circle cx="513.3" cy="1184.9"/>
<circle cx="476.4" cy="1199.9"/>
<circle cx="443.9" cy="1179.0"/>
<circle cx="544.8" cy="1186.5"/>
<circle cx="434.1" cy="1143.4"/>
<circle cx="478.3" cy="1195.4"/>
<circle cx="455.3" cy="1199.4"/>
<circle cx="482.5" cy="1204.6"/>
<circle cx="498.3" cy="1190.7"/>
<circle cx="450.2" cy="1187.1"/>
<circle cx="475.0" cy="1205.4"/>
<circle cx="474.1" cy="1193.9"/>
<circle cx="443.6" cy="1198.0"/>
<circle cx="519.2" cy="1205.8"/>
<circle cx="484.6" cy="1187.0"/>
<circle cx="468.5" cy="1187.3"/>
<circle cx="455.3" cy="1190.1"/>
<circle cx="466.9" cy="1183.4"/>
<circle cx="483.5" cy="1204.4"/>
<circle cx="462.4" cy="1199.0"/>
<circle cx="522.0" cy="1198.7"/>
<circle cx="389.8" cy="1187.3"/>
<circle cx="403.8" cy="1186.1"/>
<circle cx="469.5" cy="1199.0"/>
<circle cx="414.2" cy="1178.2"/>
<circle cx="476.1" cy="1202.0"/>
<circle cx="455.5" cy="1184.7"/>
<circle cx="498.7" cy="1187.1"/>
<circle cx="492.9" cy="1204.5"/>
<circle cx="524.0" cy="1205.1"/>
<circle cx="510.5" cy="1195.9"/>
<circle cx="522.2" cy="1203.3"/>
<circle cx="496.9" cy="1202.5"/>
<circle cx="515.7" cy="1205.3"/>
<circle cx="496.0" cy="1193.5"/>
<circle cx="457.9" cy="1203.0"/>
<circle cx="434.9" cy="1178.5"/>
<circle cx="436.3" cy="1164.8"/>
<circle cx="495.3" cy="1203.5"/>
<circle cx="395.4" cy="1194.3"/>
<circle cx="484.6" cy="1198.6"/>
<circle cx="452.3" cy="1204.0"/>
<circle cx="504.1" cy="1193.3"/>
<circle cx="485.4" cy="1198.1"/>
<circle cx="452.3" cy="1202.9"/>
<circle cx="479.0" cy="1203.2"/>
<circle cx="399.2" cy="1132.0"/>
<circle cx="487.9" cy="1195.8"/>
<circle cx="494.7" cy="1200.7"/>
<circle cx="414.4" cy="1182.9"/>
<circle cx="508.4" cy="1177.9"/>
<circle cx="474.4" cy="1202.7"/>
<circle cx="484.5" cy="1189.9"/>
<circle cx="429.0" cy="1173.3"/>
<circle cx="499.6" cy="1206.0"/>
<circle cx="498.8" cy="1170.9"/>
<circle cx="478.1" cy="1195.5"/>
<circle cx="444.3" cy="1176.8"/>
<circle cx="505.2" cy="1205.5"/>
<circle cx="522.1" cy="1200.9"/>
<circle cx="492.7" cy="1199.1"/>
<circle cx="513.6" cy="1177.1"/>
<circle cx="458.5" cy="1196.9"/>
<circle cx="484.3" cy="1203.7"/>
<circle cx="492.1" cy="1192.4"/>
<circle cx="484.1" cy="1202.1"/>
<circle cx="577.3" cy="1167.7"/>
<circle cx="493.9" cy="1204.9"/>
<circle cx="459.8" cy="1203.5"/>
<circle cx="508.2" cy="1202.0"/>
<circle cx="441.7" cy="1201.5"/>
<circle cx="492.4" cy="1195.3"/>
<circle cx="506.4" cy="1196.0"/>
<circle cx="462.6" cy="1205.5"/>
<circle cx="468.6" cy="1205.4"/>
<circle cx="447.2" cy="1192.7"/>
<circle cx="484.5" cy="1203.5"/>
<circle cx="456.5" cy="1205.5"/>
<circle cx="540.4" cy="1205.9"/>
<circle cx="502.6" cy="1204.0"/>
<circle cx="472.4" cy="1193.6"/>
<circle cx="430.9" cy="1192.8"/>
<circle cx="551.1" cy="1134.3"/>
<circle cx="525.7" cy="1179.7"/>
<circle cx="496.9" cy="1182.7"/>
<circle cx="487.3" cy="1204.6"/>
<circle cx="486.5" cy="1203.5"/>
<circle cx="464.2" cy="1201.5"/>
<circle cx="546.0" cy="1190.8"/>
<circle cx="487.7" cy="1199.1"/>
<circle cx="430.5" cy="1175.2"/>
<circle cx="457.7" cy="1203.8"/>
<circle cx="390.7" cy="1142.1"/>
<circle cx="503.5" cy="1187.6"/>
<circle cx="507.1" cy="1188.3"/>
<circle cx="542.2" cy="1199.0"/>
<circle cx="553.6" cy="1196.2"/>
<circle cx="453.3" cy="1193.8"/>
<circle cx="496.2" cy="1194.1"/>
<circle cx="515.2" cy="1181.6"/>
<circle cx="508.1" cy="1196.8"/>
<circle cx="462.7" cy="1200.6"/>
<circle cx="508.4" cy="1189.0"/>
<circle cx="497.6" cy="1186.6"/>
<circle cx="527.8" cy="1203.0"/>
<circle cx="479.3" cy="1190.3"/>
<circle cx="472.0" cy="1202.9"/>
<circle cx="462.5" cy="1182.9"/>
<circle cx="467.0" cy="1199.3"/>
<circle cx="453.5" cy="1191.6"/>
<circle cx="468.3" cy="1204.2"/>
<circle cx="497.6" cy="1200.4"/>
<circle cx="496.0" cy="1204.0"/>
<circle cx="525.9" cy="1133.8"/>
<circle cx="518.0" cy="1203.4"/>
<circle cx="501.7" cy="1190.7"/>
<circle cx="439.7" cy="1203.3"/>
<circle cx="499.6" cy="1205.4"/>
<circle cx="520.3" cy="1202.2"/>
<circle cx="434.3" cy="1198.8"/>
<circle cx="440.8" cy="1197.0"/>
<circle cx="446.3" cy="1184.9"/>
<circle cx="443.3" cy="1200.2"/>
<circle cx="469.3" cy="1202.6"/>
<circle cx="446.7" cy="1198.1"/>
<circle cx="492.7" cy="1189.9"/>
<circle cx="437.0" cy="1202.2"/>
<circle cx="474.7" cy="1205.5"/>
<circle cx="461.7" cy="1185.0"/>
<circle cx="445.3" cy="1200.6"/>
<circle cx="515.0" cy="1199.1"/>
<circle cx="479.9" cy="1203.8"/>
<circle cx="497.8" cy="1201.2"/>
<circle cx="467.3" cy="1201.6"/>
<circle cx="503.4" cy="1139.2"/>
<circle cx="500.3" cy="1205.7"/>
<circle cx="473.6" cy="1202.7"/>
<circle cx="417.2" cy="1198.5"/>
<circle cx="507.4" cy="1186.2"/>
<circle cx="503.0" cy="1204.9"/>
<circle cx="485.2" cy="1202.6"/>
<circle cx="487.3" cy="1194.6"/>
<circle cx="483.2" cy="1195.5"/>
<circle cx="485.6" cy="1178.1"/>
<circle cx="444.0" cy="1203.5"/>
<circle cx="477.0" cy="1201.8"/>
<circle cx="490.0" cy="1203.1"/>
<circle cx="457.6" cy="1205.0"/>
<circle cx="445.2" cy="1193.1"/>
<circle cx="543.6" cy="1195.2"/>
<circle cx="500.1" cy="1200.9"/>
<circle cx="468.3" cy="1187.8"/>
<circle cx="461.8" cy="1204.2"/>
<circle cx="387.0" cy="1163.3"/>
<circle cx="429.4" cy="1195.6"/>
<circle cx="470.3" cy="1194.7"/>
<circle cx="523.8" cy="1194.8"/>
<circle cx="407.4" cy="1204.8"/>
<circle cx="454.6" cy="1205.3"/>
<circle cx="545.5" cy="1187.2"/>
<circle cx="502.3" cy="1189.3"/>
<circle cx="493.4" cy="1205.4"/>
<circle cx="520.5" cy="1204.1"/>
<circle cx="474.8" cy="1199.6"/>
<circle cx="472.8" cy="1203.4"/>
<circle cx="503.9" cy="1196.2"/>
<circle cx="508.6" cy="1199.6"/>
<circle cx="441.9" cy="1202.2"/>
<circle cx="532.2" cy="1202.6"/>
<circle cx="418.4" cy="1205.1"/>
<circle cx="454.8" cy="1200.4"/>
<circle cx="586.0" cy="1193.1"/>
<circle cx="461.2" cy="1204.9"/>
<circle cx="501.9" cy="1180.6"/>
<circle cx="444.2" cy="1201.7"/>
<circle cx="467.9" cy="1204.6"/>
<circle cx="454.0" cy="1204.4"/>
<circle cx="465.2" cy="1201.6"/>
<circle cx="501.9" cy="1188.4"/>
<circle cx="539.9" cy="1205.4"/>
<circle cx="509.5" cy="1201.1"/>
<circle cx="533.3" cy="1197.5"/>
<circle cx="461.5" cy="1180.5"/>
<circle cx="530.1" cy="1203.8"/>
<circle cx="498.7" cy="1201.5"/>
<circle cx="526.8" cy="1200.1"/>
<circle cx="464.6" cy="1199.3"/>
<circle cx="471.0" cy="1197.5"/>
<circle cx="526.6" cy="1179.4"/>
<circle cx="500.3" cy="1190.3"/>
<circle cx="482.7" cy="1201.4"/>
<circle cx="455.1" cy="1205.2"/>
<circle cx="475.4" cy="1204.4"/>
<circle cx="495.7" cy="1200.7"/>
<circle cx="503.9" cy="1198.0"/>
<circle cx="459.4" cy="1203.5"/>
<circle cx="466.8" cy="1203.1"/>
<circle cx="493.5" cy="1199.9"/>
<circle cx="439.9" cy="1201.5"/>
<circle cx="511.0" cy="1198.1"/>
<circle cx="478.0" cy="1200.3"/>
<circle cx="473.4" cy="1205.4"/>
<circle cx="393.9" cy="1160.5"/>
<circle cx="422.2" cy="1161.9"/>
<circle cx="441.4" cy="1204.6"/>
<circle cx="457.0" cy="1202.8"/>
<circle cx="439.0" cy="1196.1"/>
<circle cx="490.1" cy="1194.8"/>
<circle cx="481.7" cy="1204.3"/>
<circle cx="467.7" cy="1203.5"/>
<circle cx="406.2" cy="1187.0"/>
<circle cx="525.5" cy="1204.9"/>
<circle cx="467.2" cy="1198.5"/>
<circle cx="497.5" cy="1184.6"/>
<circle cx="453.6" cy="1186.9"/>
<circle cx="476.8" cy="1190.7"/>
<circle cx="501.1" cy="1203.1"/>
<circle cx="485.0" cy="1197.0"/>
<circle cx="510.3" cy="1186.8"/>
<circle cx="470.5" cy="1204.5"/>
<circle cx="546.1" cy="1204.5"/>
<circle cx="410.9" cy="1201.3"/>
<circle cx="457.6" cy="1171.2"/>
<circle cx="510.8" cy="1203.9"/>
<circle cx="468.0" cy="1199.8"/>
<circle cx="461.3" cy="1199.1"/>
<circle cx="414.9" cy="1206.0"/>
<circle cx="518.3" cy="1170.8"/>
<circle cx="410.6" cy="1203.9"/>
<circle cx="494.2" cy="1204.9"/>
<circle cx="483.3" cy="1196.6"/>
<circle cx="507.0" cy="1193.2"/>
<circle cx="527.2" cy="1196.8"/>
<circle cx="452.0" cy="1184.8"/>
<circle cx="448.3" cy="1201.8"/>
<circle cx="465.3" cy="1202.5"/>
<circle cx="416.6" cy="1182.7"/>
<circle cx="504.8" cy="1189.3"/>
<circle cx="462.4" cy="1196.2"/>
<circle cx="481.7" cy="1174.4"/>
<circle cx="436.8" cy="1188.8"/>
<circle cx="476.4" cy="1204.2"/>
<circle cx="454.4" cy="1189.2"/>
<circle cx="473.3" cy="1195.6"/>
<circle cx="437.9" cy="1195.3"/>
<circle cx="511.5" cy="1203.1"/>
<circle cx="453.2" cy="1203.1"/>
<circle cx="386.9" cy="1150.9"/>
<circle cx="498.1" cy="1187.6"/>
<circle cx="465.2" cy="1201.3"/>
<circle cx="444.9" cy="1199.1"/>
<circle cx="562.7" cy="1182.7"/>
<circle cx="473.7" cy="1204.5"/>
<circle cx="429.0" cy="1185.7"/>
<circle cx="454.1" cy="1199.7"/>
<circle cx="488.7" cy="1201.9"/>
<circle cx="467.6" cy="1202.4"/>
<circle cx="518.6" cy="1190.9"/>
<circle cx="512.5" cy="1200.8"/>
<circle cx="447.9" cy="1196.7"/>
<circle cx="476.8" cy="1199.4"/>
<circle cx="497.8" cy="1177.6"/>
<circle cx="461.1" cy="1204.1"/>
<circle cx="459.3" cy="1197.5"/>
<circle cx="506.0" cy="1199.8"/>
<circle cx="491.1" cy="1202.8"/>
<circle cx="426.7" cy="1164.7"/>
<circle cx="456.4" cy="1184.1"/>
<circle cx="461.1" cy="1199.0"/>
<circle cx="471.3" cy="1193.0"/>
<circle cx="450.5" cy="1194.0"/>
<circle cx="522.1" cy="1199.3"/>
<circle cx="441.7" cy="1202.0"/>
<circle cx="437.7" cy="1196.1"/>
<circle cx="482.8" cy="1194.0"/>
<circle cx="397.1" cy="1189.3"/>
<circle cx="439.6" cy="1174.5"/>
<circle cx="497.3" cy="1205.7"/>
<circle cx="429.4" cy="1200.7"/>
<circle cx="446.1" cy="1195.0"/>
<circle cx="513.3" cy="1203.0"/>
<circle cx="491.4" cy="1172.9"/>
<circle cx="477.6" cy="1200.8"/>
<circle cx="484.1" cy="1202.7"/>
<circle cx="452.1" cy="1202.9"/>
<circle cx="486.5" cy="1205.6"/>
<circle cx="468.7" cy="1205.1"/>
<circle cx="562.7" cy="1138.4"/>
<circle cx="494.5" cy="1204.7"/>
<circle cx="464.1" cy="1204.7"/>
<circle cx="474.0" cy="1200.2"/>
<circle cx="477.8" cy="1184.4"/>
<circle cx="427.9" cy="1180.8"/>
<circle cx="447.3" cy="1190.9"/>
<circle cx="529.1" cy="1201.4"/>
<circle cx="427.2" cy="1182.7"/>
<circle cx="455.8" cy="1195.1"/>
<circle cx="511.6" cy="1194.3"/>
<circle cx="528.6" cy="1201.3"/>
<circle cx="440.5" cy="1188.6"/>
<circle cx="527.0" cy="1178.6"/>
<circle cx="463.5" cy="1199.7"/>
<circle cx="533.8" cy="1181.6"/>
<circle cx="493.7" cy="1203.3"/>
<circle cx="466.4" cy="1191.4"/>
<circle cx="501.7" cy="1202.6"/>
<circle cx="495.8" cy="1194.5"/>
<circle cx="449.5" cy="1175.4"/>
<circle cx="551.1" cy="1188.5"/>
<circle cx="464.4" cy="1199.6"/>
<circle cx="516.5" cy="1135.7"/>
<circle cx="459.5" cy="1204.5"/>
<circle cx="412.9" cy="1199.5"/>
<circle cx="437.4" cy="1192.5"/>
<circle cx="472.9" cy="1186.6"/>
<circle cx="500.2" cy="1196.1"/>
<circle cx="537.7" cy="1179.4"/>
<circle cx="479.3" cy="1201.7"/>
<circle cx="466.6" cy="1199.0"/>
<circle cx="433.7" cy="1205.5"/>
<circle cx="474.8" cy="1206.0"/>
<circle cx="486.9" cy="1203.0"/>
<circle cx="399.4" cy="1156.6"/>
<circle cx="521.8" cy="1206.0"/>
<circle cx="516.0" cy="1204.3"/>
<circle cx="555.6" cy="1162.1"/>
<circle cx="444.7" cy="1205.4"/>
<circle cx="477.8" cy="1198.1"/>
<circle cx="476.9" cy="1198.4"/>
<circle cx="430.2" cy="1200.1"/>
<circle cx="446.7" cy="1200.3"/>
<circle cx="442.0" cy="1162.9"/>
<circle cx="494.2" cy="1190.6"/>
<circle cx="491.3" cy="1189.7"/>
<circle cx="523.2" cy="1195.8"/>
<circle cx="462.2" cy="1205.9"/>
<circle cx="427.6" cy="1200.0"/>
<circle cx="491.5" cy="1200.3"/>
<circle cx="489.1" cy="1202.9"/>
<circle cx="499.4" cy="1199.8"/>
<circle cx="519.6" cy="1199.9"/>
<circle cx="455.8" cy="1202.6"/>
<circle cx="504.0" cy="1176.0"/>
<circle cx="441.2" cy="1170.6"/>
<circle cx="481.6" cy="1205.9"/>
<circle cx="500.2" cy="1204.8"/>
<circle cx="472.1" cy="1202.3"/>
<circle cx="483.7" cy="1204.5"/>
<circle cx="427.6" cy="1203.4"/>
<circle cx="453.5" cy="1197.6"/>
<circle cx="481.4" cy="1191.8"/>
<circle cx="434.2" cy="1185.1"/>
<circle cx="446.4" cy="1196.2"/>
<circle cx="560.8" cy="1189.9"/>
<circle cx="485.0" cy="1193.2"/>
<circle cx="447.3" cy="1203.1"/>
<circle cx="440.0" cy="1202.6"/>
<circle cx="523.9" cy="1195.3"/>
<circle cx="378.1" cy="1196.9"/>
<circle cx="462.7" cy="1204.3"/>
<circle cx="495.8" cy="1203.1"/>
<circle cx="454.1" cy="1203.6"/>
<circle cx="491.7" cy="1203.8"/>
<circle cx="436.8" cy="1178.6"/>
<circle cx="472.7" cy="1205.0"/>
<circle cx="474.5" cy="1205.2"/>
<circle cx="473.4" cy="1183.3"/>
<circle cx="477.9" cy="1203.8"/>
<circle cx="474.1" cy="1200.8"/>
<circle cx="511.7" cy="1181.9"/>
<circle cx="463.5" cy="1183.1"/>
<circle cx="452.1" cy="1191.1"/>
<circle cx="462.8" cy="1203.0"/>
<circle cx="461.9" cy="1202.7"/>
<circle cx="419.4" cy="1193.9"/>
<circle cx="405.9" cy="1184.9"/>
<circle cx="425.3" cy="1186.0"/>
<circle cx="482.2" cy="1185.2"/>
<circle cx="449.1" cy="1205.8"/>
<circle cx="458.0" cy="1190.0"/>
<circle cx="572.1" cy="1185.0"/>
<circle cx="511.5" cy="1192.8"/>
<circle cx="465.0" cy="1204.2"/>
<circle cx="450.3" cy="1190.4"/>
<circle cx="520.2" cy="1202.3"/>
<circle cx="445.1" cy="1197.1"/>
<circle cx="515.3" cy="1194.9"/>
<circle cx="492.7" cy="1194.7"/>
<circle cx="520.5" cy="1175.7"/>
<circle cx="447.0" cy="1195.9"/>
<circle cx="503.7" cy="1182.4"/>
<circle cx="409.2" cy="1205.4"/>
<circle cx="466.2" cy="1201.6"/>
<circle cx="509.8" cy="1185.5"/>
<circle cx="496.4" cy="1180.8"/>
<circle cx="408.3" cy="1192.1"/>
<circle cx="496.0" cy="1204.3"/>
<circle cx="488.0" cy="1201.0"/>
<circle cx="469.9" cy="1205.3"/>
<circle cx="446.9" cy="1204.2"/>
<circle cx="462.3" cy="1201.6"/>
<circle cx="452.1" cy="1184.7"/>
<circle cx="505.0" cy="1177.7"/>
<circle cx="488.3" cy="1190.6"/>
<circle cx="509.3" cy="1193.1"/>
<circle cx="496.1" cy="1183.7"/>
<circle cx="427.4" cy="1198.7"/>
<circle cx="476.8" cy="1204.5"/>
<circle cx="546.7" cy="1179.8"/>
<circle cx="433.4" cy="1123.4"/>
<circle cx="481.8" cy="1197.8"/>
<circle cx="444.9" cy="1202.3"/>
<circle cx="441.1" cy="1201.6"/>
<circle cx="479.4" cy="1204.9"/>
<circle cx="504.0" cy="1175.0"/>
<circle cx="498.8" cy="1205.7"/>
<circle cx="488.1" cy="1193.4"/>
<circle cx="505.1" cy="1192.2"/>
<circle cx="415.3" cy="1196.8"/>
<circle cx="500.4" cy="1195.7"/>
<circle cx="486.1" cy="1205.8"/>
<circle cx="465.6" cy="1201.2"/>
<circle cx="471.6" cy="1193.9"/>
<circle cx="442.3" cy="1189.5"/>
<circle cx="512.5" cy="1198.5"/>
<circle cx="445.7" cy="1200.8"/>
<circle cx="420.6" cy="1198.9"/>
<circle cx="471.7" cy="1201.7"/>
<circle cx="451.8" cy="1192.9"/>
<circle cx="469.5" cy="1195.3"/>
<circle cx="524.6" cy="1203.4"/>
<circle cx="467.2" cy="1196.1"/>
<circle cx="476.3" cy="1202.5"/>
<circle cx="550.9" cy="1177.1"/>
<circle cx="423.1" cy="1168.7"/>
<circle cx="484.8" cy="1191.1"/>
<circle cx="512.7" cy="1196.2"/>
<circle cx="524.9" cy="1177.7"/>
<circle cx="550.4" cy="1205.9"/>
<circle cx="449.2" cy="1203.5"/>
<circle cx="464.7" cy="1191.3"/>
<circle cx="484.1" cy="1204.5"/>
<circle cx="480.2" cy="1203.5"/>
<circle cx="497.5" cy="1202.7"/>
<circle cx="482.7" cy="1204.6"/>
<circle cx="459.6" cy="1203.9"/>
<circle cx="504.0" cy="1188.1"/>
<circle cx="508.4" cy="1192.1"/>
<circle cx="460.9" cy="1203.1"/>
<circle cx="469.5" cy="1200.7"/>
<circle cx="497.1" cy="1205.1"/>
<circle cx="483.2" cy="1203.6"/>
<circle cx="454.2" cy="1194.5"/>
<circle cx="499.6" cy="1192.4"/>
<circle cx="481.4" cy="1203.5"/>
<circle cx="485.5" cy="1188.6"/>
<circle cx="500.1" cy="1203.7"/>
<circle cx="468.2" cy="1197.8"/>
<circle cx="467.0" cy="1204.5"/>
<circle cx="491.1" cy="1191.2"/>
<circle cx="495.8" cy="1202.7"/>
<circle cx="481.5" cy="1200.9"/>
<circle cx="499.7" cy="1192.8"/>
<circle cx="486.9" cy="1203.7"/>
<circle cx="498.5" cy="1194.4"/>
<circle cx="465.4" cy="1200.7"/>
<circle cx="475.8" cy="1201.8"/>
<circle cx="497.9" cy="1197.6"/>
<circle cx="464.7" cy="1204.7"/>
<circle cx="465.6" cy="1199.6"/>
<circle cx="481.7" cy="1185.6"/>
<circle cx="474.5" cy="1190.8"/>
<circle cx="463.0" cy="1203.9"/>
<circle cx="450.9" cy="1203.0"/>
<circle cx="502.7" cy="1192.8"/>
<circle cx="480.1" cy="1186.8"/>
<circle cx="503.8" cy="1201.4"/>
<circle cx="463.8" cy="1197.4"/>
<circle cx="480.3" cy="1199.6"/>
<circle cx="476.4" cy="1205.1"/>
<circle cx="480.7" cy="1203.9"/>
<circle cx="451.9" cy="1199.7"/>
<circle cx="500.2" cy="1203.9"/>
<circle cx="474.1" cy="1205.9"/>
<circle cx="482.7" cy="1204.3"/>
<circle cx="461.8" cy="1194.1"/>
<circle cx="505.4" cy="1203.6"/>
<circle cx="452.6" cy="1205.4"/>
<circle cx="511.5" cy="1205.8"/>
<circle cx="471.8" cy="1195.4"/>
<circle cx="472.7" cy="1202.7"/>
<circle cx="467.0" cy="1205.0"/>
<circle cx="502.8" cy="1198.1"/>
<circle cx="463.9" cy="1202.9"/>
<circle cx="463.5" cy="1200.6"/>
<circle cx="462.2" cy="1203.7"/>
<circle cx="487.0" cy="1201.1"/>
<circle cx="487.9" cy="1205.1"/>
<circle cx="466.1" cy="1199.6"/>
<circle cx="487.5" cy="1203.6"/>
<circle cx="505.1" cy="1187.7"/>
<circle cx="490.5" cy="1202.0"/>
<circle cx="485.2" cy="1205.7"/>
<circle cx="461.0" cy="1190.2"/>
<circle cx="505.4" cy="1197.5"/>
<circle cx="490.2" cy="1202.2"/>
<circle cx="453.9" cy="1198.6"/>
<circle cx="465.7" cy="1205.6"/>
<circle cx="430.8" cy="1199.0"/>
<circle cx="487.2" cy="1202.9"/>
<circle cx="456.9" cy="1201.3"/>
<circle cx="473.7" cy="1204.8"/>
<circle cx="502.2" cy="1202.4"/>
<circle cx="453.6" cy="1198.5"/>
<circle cx="493.0" cy="1203.2"/>
<circle cx="472.8" cy="1191.9"/>
<circle cx="459.2" cy="1192.2"/>
<circle cx="500.2" cy="1202.7"/>
<circle cx="485.0" cy="1189.3"/>
<circle cx="466.0" cy="1202.5"/>
<circle cx="486.9" cy="1203.5"/>
<circle cx="467.5" cy="1197.0"/>
<circle cx="462.9" cy="1200.3"/>
<circle cx="471.3" cy="1199.1"/>
<circle cx="494.9" cy="1203.8"/>
<circle cx="450.2" cy="1203.8"/>
<circle cx="455.1" cy="1198.6"/>
<circle cx="492.9" cy="1196.6"/>
<circle cx="453.4" cy="1203.6"/>
<circle cx="474.1" cy="1202.8"/>
<circle cx="472.3" cy="1203.0"/>
<circle cx="455.2" cy="1195.4"/>
<circle cx="464.6" cy="1200.6"/>
<circle cx="475.3" cy="1198.8"/>
<circle cx="476.1" cy="1198.5"/>
<circle cx="488.4" cy="1202.3"/>
<circle cx="481.3" cy="1205.9"/>
<circle cx="493.3" cy="1204.9"/>
<circle cx="481.1" cy="1201.2"/>
<circle cx="470.1" cy="1202.7"/>
<circle cx="488.5" cy="1177.6"/>
<circle cx="485.2" cy="1203.2"/>
<circle cx="492.5" cy="1197.9"/>
<circle cx="475.0" cy="1204.2"/>
<circle cx="475.3" cy="1205.6"/>
<circle cx="475.6" cy="1204.4"/>
<circle cx="452.0" cy="1185.5"/>
<circle cx="485.5" cy="1195.7"/>
<circle cx="466.3" cy="1204.6"/>
<circle cx="464.6" cy="1202.2"/>
<circle cx="471.4" cy="1205.8"/>
<circle cx="513.7" cy="1199.7"/>
<circle cx="464.1" cy="1203.0"/>
<circle cx="503.7" cy="1204.2"/>
<circle cx="441.5" cy="1204.1"/>
<circle cx="472.8" cy="1205.7"/>
<circle cx="510.9" cy="1204.1"/>
<circle cx="480.9" cy="1191.0"/>
<circle cx="484.4" cy="1205.7"/>
<circle cx="468.1" cy="1189.6"/>
<circle cx="444.1" cy="1201.1"/>
<circle cx="486.9" cy="1199.2"/>
<circle cx="494.1" cy="1188.1"/>
<circle cx="496.5" cy="1197.1"/>
<circle cx="511.3" cy="1192.2"/>
<circle cx="476.8" cy="1205.7"/>
<circle cx="487.3" cy="1205.2"/>
<circle cx="441.4" cy="1205.9"/>
<circle cx="472.4" cy="1203.9"/>
<circle cx="480.8" cy="1201.7"/>
<circle cx="500.4" cy="1204.6"/>
<circle cx="510.4" cy="1198.7"/>
<circle cx="506.4" cy="1202.7"/>
<circle cx="486.4" cy="1206.0"/>
<circle cx="476.1" cy="1195.5"/>
<circle cx="477.2" cy="1202.1"/>
<circle cx="477.7" cy="1205.8"/>
<circle cx="481.0" cy="1204.6"/>
<circle cx="498.9" cy="1205.9"/>
<circle cx="475.2" cy="1198.5"/>
<circle cx="449.8" cy="1200.6"/>
<circle cx="457.9" cy="1201.7"/>
<circle cx="529.4" cy="1205.6"/>
<circle cx="501.8" cy="1203.8"/>
<circle cx="470.0" cy="1202.5"/>
<circle cx="474.0" cy="1201.4"/>
<circle cx="491.1" cy="1204.1"/>
<circle cx="483.8" cy="1199.6"/>
<circle cx="484.1" cy="1205.8"/>
<circle cx="444.5" cy="1184.9"/>
<circle cx="454.7" cy="1202.7"/>
<circle cx="481.2" cy="1194.5"/>
<circle cx="490.7" cy="1199.2"/>
<circle cx="484.1" cy="1202.6"/>
<circle cx="506.0" cy="1198.2"/>
<circle cx="479.6" cy="1204.5"/>
<circle cx="483.1" cy="1182.2"/>
<circle cx="479.8" cy="1190.1"/>
<circle cx="495.6" cy="1189.6"/>
<circle cx="468.2" cy="1193.7"/>
<circle cx="514.1" cy="1205.7"/>
<circle cx="460.2" cy="1202.4"/>
<circle cx="492.3" cy="1195.9"/>
<circle cx="491.3" cy="1203.4"/>
<circle cx="506.3" cy="1199.3"/>
<circle cx="459.3" cy="1201.0"/>
<circle cx="463.0" cy="1204.2"/>
<circle cx="473.8" cy="1199.0"/>
<circle cx="491.3" cy="1186.8"/>
<circle cx="493.6" cy="1195.9"/>
<circle cx="434.0" cy="1205.8"/>
<circle cx="473.3" cy="1204.8"/>
<circle cx="483.0" cy="1200.1"/>
<circle cx="484.7" cy="1200.6"/>
<circle cx="484.9" cy="1203.6"/>
<circle cx="476.1" cy="1202.5"/>
<circle cx="480.5" cy="1184.1"/>
<circle cx="446.0" cy="1203.4"/>
<circle cx="493.7" cy="1201.5"/>
<circle cx="436.5" cy="1201.7"/>
<circle cx="475.3" cy="1205.1"/>
<circle cx="462.4" cy="1205.0"/>
<circle cx="484.0" cy="1205.1"/>
<circle cx="461.1" cy="1203.3"/>
<circle cx="493.4" cy="1195.7"/>
<circle cx="484.1" cy="1202.8"/>
<circle cx="488.8" cy="1193.3"/>
<circle cx="496.8" cy="1198.7"/>
<circle cx="497.8" cy="1198.2"/>
<circle cx="474.7" cy="1202.8"/>
<circle cx="492.1" cy="1199.3"/>
<circle cx="486.3" cy="1199.8"/>
<circle cx="491.2" cy="1204.7"/>
<circle cx="480.6" cy="1199.6"/>
<circle cx="434.0" cy="1199.2"/>
<circle cx="473.5" cy="1204.3"/>
<circle cx="477.5" cy="1203.6"/>
<circle cx="469.1" cy="1202.9"/>
<circle cx="465.5" cy="1190.1"/>
<circle cx="480.3" cy="1200.7"/>
<circle cx="465.8" cy="1201.5"/>
<circle cx="489.0" cy="1205.4"/>
<circle cx="499.3" cy="1194.4"/>
<circle cx="477.9" cy="1203.6"/>
<circle cx="492.4" cy="1202.0"/>
<circle cx="457.2" cy="1204.8"/>
<circle cx="460.4" cy="1202.2"/>
<circle cx="472.2" cy="1200.9"/>
<circle cx="461.1" cy="1187.8"/>
<circle cx="478.5" cy="1198.8"/>
<circle cx="479.1" cy="1198.5"/>
<circle cx="505.2" cy="1191.1"/>
<circle cx="468.7" cy="1205.8"/>
<circle cx="499.6" cy="1205.0"/>
<circle cx="460.4" cy="1204.3"/>
<circle cx="473.9" cy="1200.9"/>
<circle cx="492.2" cy="1196.9"/>
<circle cx="483.6" cy="1197.3"/>
<circle cx="436.0" cy="1199.5"/>
<circle cx="477.2" cy="1203.7"/>
<circle cx="486.0" cy="1201.9"/>
<circle cx="452.1" cy="1168.7"/>
<circle cx="470.2" cy="1202.2"/>
<circle cx="472.7" cy="1203.8"/>
<circle cx="484.9" cy="1201.1"/>
<circle cx="499.8" cy="1203.5"/>
<circle cx="454.7" cy="1203.6"/>
<circle cx="462.6" cy="1201.6"/>
<circle cx="505.0" cy="1200.8"/>
<circle cx="498.6" cy="1183.9"/>
<circle cx="507.6" cy="1191.0"/>
<circle cx="477.7" cy="1204.0"/>
<circle cx="495.8" cy="1205.3"/>
<circle cx="437.0" cy="1203.8"/>
<circle cx="486.0" cy="1203.1"/>
<circle cx="461.8" cy="1205.7"/>
<circle cx="454.1" cy="1195.5"/>
<circle cx="459.6" cy="1199.6"/>
<circle cx="495.4" cy="1190.6"/>
<circle cx="503.8" cy="1201.1"/>
<circle cx="469.8" cy="1198.3"/>
<circle cx="472.2" cy="1198.5"/>
<circle cx="498.5" cy="1181.4"/>
<circle cx="466.7" cy="1200.8"/>
<circle cx="482.7" cy="1193.6"/>
<circle cx="488.9" cy="1176.3"/>
<circle cx="498.8" cy="1205.6"/>
<circle cx="473.6" cy="1189.3"/>
<circle cx="430.3" cy="1203.7"/>
<circle cx="474.9" cy="1197.6"/>
<circle cx="490.2" cy="1203.3"/>
<circle cx="470.3" cy="1202.6"/>
<circle cx="468.5" cy="1198.6"/>
<circle cx="462.0" cy="1199.1"/>
<circle cx="485.7" cy="1166.4"/>
<circle cx="481.2" cy="1195.4"/>
<circle cx="483.1" cy="1203.2"/>
<circle cx="478.4" cy="1199.0"/>
<circle cx="500.2" cy="1205.3"/>
<circle cx="484.1" cy="1200.6"/>
<circle cx="477.2" cy="1204.2"/>
<circle cx="459.2" cy="1202.6"/>
<circle cx="471.4" cy="1205.9"/>
<circle cx="478.3" cy="1196.2"/>
<circle cx="503.7" cy="1205.1"/>
<circle cx="486.7" cy="1198.6"/>
<circle cx="472.8" cy="1202.2"/>
<circle cx="491.4" cy="1200.6"/>
<circle cx="489.3" cy="1195.7"/>
<circle cx="470.8" cy="1179.3"/>
<circle cx="486.5" cy="1189.8"/>
<circle cx="459.9" cy="1197.8"/>
<circle cx="480.3" cy="1201.4"/>
<circle cx="513.1" cy="1193.4"/>
<circle cx="495.3" cy="1196.7"/>
<circle cx="489.4" cy="1202.0"/>
<circle cx="493.6" cy="1188.2"/>
<circle cx="490.7" cy="1199.4"/>
<circle cx="458.7" cy="1204.2"/>
<circle cx="470.9" cy="1198.8"/>
<circle cx="466.9" cy="1205.1"/>
<circle cx="486.7" cy="1198.4"/>
<circle cx="494.4" cy="1203.8"/>
<circle cx="513.6" cy="1191.3"/>
<circle cx="476.3" cy="1198.8"/>
<circle cx="459.4" cy="1199.1"/>
<circle cx="483.8" cy="1196.8"/>
<circle cx="478.2" cy="1201.0"/>
<circle cx="483.3" cy="1191.1"/>
<circle cx="479.2" cy="1204.1"/>
<circle cx="487.5" cy="1198.5"/>
<circle cx="469.0" cy="1203.0"/>
<circle cx="484.0" cy="1192.8"/>
<circle cx="495.7" cy="1202.8"/>
<circle cx="482.0" cy="1200.9"/>
<circle cx="488.3" cy="1193.2"/>
<circle cx="468.0" cy="1203.9"/>
<circle cx="493.7" cy="1194.2"/>
<circle cx="477.2" cy="1204.6"/>
<circle cx="467.7" cy="1190.4"/>
<circle cx="475.2" cy="1202.0"/>
<circle cx="472.4" cy="1203.1"/>
<circle cx="476.1" cy="1206.0"/>
<circle cx="469.6" cy="1202.6"/>
<circle cx="508.0" cy="1205.6"/>
<circle cx="494.3" cy="1205.9"/>
<circle cx="486.9" cy="1193.0"/>
<circle cx="486.8" cy="1189.9"/>
<circle cx="477.3" cy="1200.7"/>
<circle cx="492.8" cy="1205.7"/>
<circle cx="474.9" cy="1200.3"/>
<circle cx="477.6" cy="1201.9"/>
<circle cx="465.7" cy="1188.8"/>
<circle cx="499.4" cy="1196.3"/>
<circle cx="498.8" cy="1191.8"/>
<circle cx="497.3" cy="1203.8"/>
<circle cx="497.7" cy="1201.0"/>
<circle cx="438.4" cy="1205.7"/>
<circle cx="480.3" cy="1204.3"/>
<circle cx="496.0" cy="1205.8"/>
<circle cx="487.2" cy="1201.6"/>
<circle cx="451.9" cy="1203.8"/>
<circle cx="483.7" cy="1192.7"/>
<circle cx="490.2" cy="1203.2"/>
<circle cx="469.3" cy="1202.6"/>
<circle cx="458.9" cy="1201.4"/>
<circle cx="468.1" cy="1198.1"/>
<circle cx="427.8" cy="1201.9"/>
<circle cx="482.6" cy="1205.0"/>
<circle cx="463.7" cy="1193.9"/>
<circle cx="472.6" cy="1193.5"/>
<circle cx="475.0" cy="1205.9"/>
<circle cx="476.4" cy="1196.9"/>
<circle cx="504.7" cy="1203.5"/>
<circle cx="463.4" cy="1202.0"/>
<circle cx="473.7" cy="1205.0"/>
<circle cx="441.4" cy="1205.3"/>
<circle cx="466.1" cy="1203.3"/>
<circle cx="444.6" cy="1204.0"/>
<circle cx="490.4" cy="1199.1"/>
<circle cx="476.9" cy="1204.1"/>
<circle cx="466.9" cy="1197.4"/>
<circle cx="492.2" cy="1189.2"/>
<circle cx="459.8" cy="1188.8"/>
<circle cx="474.2" cy="1203.5"/>
<circle cx="463.3" cy="1195.5"/>
<circle cx="461.4" cy="1205.3"/>
<circle cx="473.3" cy="1198.7"/>
<circle cx="466.9" cy="1204.2"/>
<circle cx="474.9" cy="1205.3"/>
<circle cx="458.5" cy="1196.0"/>
<circle cx="450.7" cy="1203.1"/>
<circle cx="500.5" cy="1204.1"/>
<circle cx="483.8" cy="1189.7"/>
<circle cx="471.2" cy="1204.0"/>
<circle cx="481.1" cy="1188.6"/>
<circle cx="460.4" cy="1205.2"/>
<circle cx="484.0" cy="1203.6"/>
<circle cx="452.7" cy="1205.8"/>
<circle cx="485.6" cy="1206.0"/>
<circle cx="484.0" cy="1205.2"/>
<circle cx="476.6" cy="1200.7"/>
<circle cx="490.0" cy="1189.7"/>
<circle cx="476.5" cy="1203.2"/>
<circle cx="506.5" cy="1195.3"/>
<circle cx="488.7" cy="1205.9"/>
<circle cx="451.9" cy="1174.5"/>
<circle cx="460.9" cy="1201.6"/>
<circle cx="506.1" cy="1196.3"/>
<circle cx="468.7" cy="1200.7"/>
<circle cx="484.0" cy="1192.1"/>
<circle cx="468.8" cy="1204.9"/>
<circle cx="503.9" cy="1203.4"/>
<circle cx="496.9" cy="1205.6"/>
<circle cx="492.0" cy="1183.3"/>
<circle cx="471.3" cy="1205.7"/>
<circle cx="473.2" cy="1190.0"/>
<circle cx="502.0" cy="1202.1"/>
<circle cx="469.1" cy="1203.7"/>
<circle cx="441.9" cy="1205.0"/>
<circle cx="505.2" cy="1202.7"/>
<circle cx="495.3" cy="1203.1"/>
<circle cx="456.3" cy="1205.3"/>
<circle cx="483.4" cy="1204.5"/>
<circle cx="489.0" cy="1196.0"/>
<circle cx="482.4" cy="1203.1"/>
<circle cx="507.1" cy="1205.3"/>
<circle cx="500.2" cy="1194.7"/>
<circle cx="465.5" cy="1204.6"/>
<circle cx="476.4" cy="1204.7"/>
<circle cx="494.8" cy="1191.0"/>
<circle cx="495.1" cy="1205.2"/>
<circle cx="473.2" cy="1204.6"/>
<circle cx="498.4" cy="1204.6"/>
<circle cx="464.8" cy="1199.0"/>
<circle cx="493.2" cy="1202.7"/>
<circle cx="448.8" cy="1196.4"/>
<circle cx="487.2" cy="1205.7"/>
<circle cx="514.1" cy="1197.1"/>
<circle cx="505.0" cy="1203.2"/>
<circle cx="465.0" cy="1197.1"/>
<circle cx="428.3" cy="1204.5"/>
<circle cx="483.7" cy="1200.7"/>
<circle cx="497.3" cy="1203.3"/>
<circle cx="480.8" cy="1206.0"/>
<circle cx="483.0" cy="1187.9"/>
<circle cx="455.2" cy="1204.7"/>
<circle cx="469.5" cy="1200.2"/>
<circle cx="456.8" cy="1205.1"/>
<circle cx="456.4" cy="1199.9"/>
<circle cx="469.0" cy="1198.4"/>
<circle cx="502.7" cy="1198.6"/>
<circle cx="484.7" cy="1193.1"/>
<circle cx="464.9" cy="1203.9"/>
<circle cx="475.4" cy="1203.6"/>
<circle cx="461.9" cy="1196.3"/>
<circle cx="468.2" cy="1188.7"/>
<circle cx="481.2" cy="1205.4"/>
<circle cx="452.1" cy="1202.7"/>
<circle cx="482.8" cy="1205.7"/>
<circle cx="467.0" cy="1200.2"/>
<circle cx="496.5" cy="1202.2"/>
<circle cx="461.7" cy="1205.9"/>
<circle cx="481.4" cy="1200.1"/>
<circle cx="463.0" cy="1198.2"/>
<circle cx="486.6" cy="1199.6"/>
<circle cx="447.7" cy="1197.5"/>
<circle cx="468.6" cy="1202.8"/>
<circle cx="462.8" cy="1205.6"/>
<circle cx="450.3" cy="1197.8"/>
<circle cx="471.3" cy="1200.7"/>
<circle cx="474.3" cy="1199.8"/>
<circle cx="467.4" cy="1203.3"/>
<circle cx="460.1" cy="1195.4"/>
<circle cx="465.7" cy="1205.7"/>
<circle cx="465.2" cy="1203.6"/>
<circle cx="495.6" cy="1205.5"/>
<circle cx="486.7" cy="1195.6"/>
<circle cx="500.4" cy="1204.5"/>
<circle cx="494.0" cy="1204.4"/>
<circle cx="509.1" cy="1204.0"/>
<circle cx="479.2" cy="1202.2"/>
<circle cx="483.5" cy="1197.7"/>
<circle cx="480.4" cy="1202.8"/>
<circle cx="472.4" cy="1203.7"/>
<circle cx="490.4" cy="1203.9"/>
<circle cx="485.9" cy="1204.7"/>
<circle cx="487.7" cy="1198.2"/>
<circle cx="483.9" cy="1203.9"/>
<circle cx="497.3" cy="1205.7"/>
<circle cx="455.7" cy="1203.9"/>
<circle cx="489.5" cy="1204.6"/>
<circle cx="479.1" cy="1205.6"/>
<circle cx="469.0" cy="1192.5"/>
<circle cx="474.2" cy="1198.0"/>
<circle cx="488.3" cy="1199.2"/>
<circle cx="493.8" cy="1204.1"/>
<circle cx="476.0" cy="1195.7"/>
<circle cx="492.1" cy="1191.0"/>
<circle cx="486.2" cy="1188.9"/>
<circle cx="497.5" cy="1192.1"/>
<circle cx="497.4" cy="1198.0"/>
<circle cx="493.1" cy="1197.6"/>
<circle cx="474.1" cy="1205.3"/>
<circle cx="461.1" cy="1205.5"/>
<circle cx="503.6" cy="1203.7"/>
<circle cx="466.2" cy="1204.1"/>
<circle cx="494.1" cy="1203.3"/>
<circle cx="481.4" cy="1203.8"/>
<circle cx="508.1" cy="1187.5"/>
<circle cx="478.3" cy="1205.5"/>
<circle cx="475.0" cy="1203.1"/>
<circle cx="445.2" cy="1199.9"/>
<circle cx="490.6" cy="1204.3"/>
<circle cx="479.9" cy="1200.9"/>
<circle cx="469.9" cy="1184.9"/>
<circle cx="473.5" cy="1205.3"/>
<circle cx="501.9" cy="1199.9"/>
<circle cx="487.0" cy="1185.6"/>
<circle cx="494.6" cy="1203.2"/>
<circle cx="476.3" cy="1205.3"/>
<circle cx="485.7" cy="1200.4"/>
<circle cx="496.4" cy="1190.4"/>
<circle cx="475.8" cy="1195.0"/>
<circle cx="502.4" cy="1196.4"/>
<circle cx="476.5" cy="1202.1"/>
<circle cx="513.3" cy="1197.8"/>
<circle cx="471.4" cy="1194.7"/>
<circle cx="473.2" cy="1195.0"/>
<circle cx="483.1" cy="1203.0"/>
<circle cx="475.2" cy="1203.9"/>
<circle cx="479.3" cy="1193.6"/>
<circle cx="480.7" cy="1202.5"/>
<circle cx="501.8" cy="1205.7"/>
<circle cx="472.9" cy="1200.9"/>
<circle cx="501.0" cy="1205.8"/>
<circle cx="496.0" cy="1202.5"/>
<circle cx="483.6" cy="1183.7"/>
<circle cx="477.8" cy="1204.2"/>
<circle cx="513.3" cy="1199.8"/>
<circle cx="438.3" cy="1194.1"/>
<circle cx="473.3" cy="1200.5"/>
<circle cx="479.1" cy="1203.7"/>
<circle cx="490.2" cy="1193.9"/>
<circle cx="481.9" cy="1204.1"/>
<circle cx="496.8" cy="1194.5"/>
<circle cx="490.6" cy="1200.9"/>
<circle cx="499.7" cy="1200.6"/>
<circle cx="471.1" cy="1203.3"/>
<circle cx="489.3" cy="1205.0"/>
<circle cx="509.4" cy="1201.6"/>
<circle cx="470.3" cy="1201.2"/>
<circle cx="484.6" cy="1194.9"/>
<circle cx="457.4" cy="1203.7"/>
<circle cx="488.1" cy="1205.7"/>
<circle cx="468.0" cy="1199.7"/>
<circle cx="491.7" cy="1196.0"/>
<circle cx="461.6" cy="1205.0"/>
<circle cx="481.7" cy="1194.3"/>
<circle cx="463.5" cy="1199.9"/>
<circle cx="480.3" cy="1199.1"/>
<circle cx="487.9" cy="1197.3"/>
<circle cx="519.8" cy="1202.5"/>
<circle cx="487.9" cy="1204.8"/>
<circle cx="488.9" cy="1201.0"/>
<circle cx="512.1" cy="1203.5"/>
<circle cx="499.0" cy="1203.8"/>
<circle cx="462.8" cy="1201.8"/>
<circle cx="489.7" cy="1200.4"/>
<circle cx="482.6" cy="1197.7"/>
<circle cx="494.6" cy="1195.5"/>
<circle cx="489.4" cy="1201.9"/>
<circle cx="450.3" cy="1196.8"/>
<circle cx="470.7" cy="1205.7"/>
<circle cx="510.9" cy="1203.0"/>
<circle cx="494.7" cy="1205.5"/>
<circle cx="465.2" cy="1202.1"/>
<circle cx="471.5" cy="1205.2"/>
<circle cx="474.9" cy="1193.6"/>
<circle cx="456.3" cy="1200.2"/>
<circle cx="422.3" cy="1203.3"/>
<circle cx="487.7" cy="1191.5"/>
<circle cx="460.5" cy="1200.1"/>
<circle cx="466.4" cy="1205.6"/>
<circle cx="465.0" cy="1203.6"/>
<circle cx="471.2" cy="1204.3"/>
<circle cx="470.2" cy="1204.4"/>
<circle cx="504.6" cy="1201.0"/>
<circle cx="472.4" cy="1204.8"/>
<circle cx="488.1" cy="1199.1"/>
<circle cx="477.4" cy="1182.9"/>
<circle cx="500.1" cy="1203.8"/>
<circle cx="479.8" cy="1205.8"/>
<circle cx="443.0" cy="1202.6"/>
<circle cx="509.3" cy="1196.1"/>
<circle cx="506.8" cy="1204.3"/>
<circle cx="489.6" cy="1203.9"/>
<circle cx="450.3" cy="1203.1"/>
<circle cx="500.8" cy="1200.7"/>
<circle cx="483.9" cy="1201.2"/>
<circle cx="463.5" cy="1205.4"/>
<circle cx="468.0" cy="1198.6"/>
<circle cx="498.0" cy="1182.5"/>
<circle cx="466.6" cy="1200.4"/>
<circle cx="474.8" cy="1202.4"/>
<circle cx="464.5" cy="1184.6"/>
<circle cx="486.8" cy="1203.5"/>
<circle cx="462.2" cy="1200.6"/>
<circle cx="487.7" cy="1205.7"/>
<circle cx="472.3" cy="1204.2"/>
<circle cx="513.4" cy="1194.6"/>
<circle cx="469.8" cy="1205.8"/>
<circle cx="479.4" cy="1199.6"/>
<circle cx="494.7" cy="1200.0"/>
<circle cx="493.1" cy="1193.9"/>
<circle cx="451.4" cy="1202.5"/>
<circle cx="481.2" cy="1194.8"/>
<circle cx="485.1" cy="1191.2"/>
<circle cx="490.1" cy="1201.7"/>
<circle cx="475.4" cy="1200.3"/>
<circle cx="504.4" cy="1203.1"/>
<circle cx="502.6" cy="1198.0"/>
<circle cx="472.1" cy="1202.7"/>
<circle cx="459.8" cy="1204.1"/>
<circle cx="477.4" cy="1202.1"/>
<circle cx="488.8" cy="1205.4"/>
<circle cx="498.0" cy="1186.7"/>
<circle cx="459.0" cy="1197.8"/>
<circle cx="467.9" cy="1195.8"/>
<circle cx="445.3" cy="1190.3"/>
<circle cx="462.6" cy="1191.0"/>
<circle cx="499.1" cy="1199.7"/>
<circle cx="516.6" cy="1205.1"/>
<circle cx="493.1" cy="1202.0"/>
<circle cx="478.0" cy="1205.7"/>
<circle cx="475.8" cy="1187.0"/>
<circle cx="514.7" cy="1202.7"/>
<circle cx="501.9" cy="1201.3"/>
<circle cx="484.6" cy="1193.2"/>
<circle cx="471.7" cy="1201.5"/>
<circle cx="487.4" cy="1176.5"/>
<circle cx="489.5" cy="1032.5"/>
<circle cx="489.8" cy="1156.1"/>
<circle cx="492.2" cy="1148.4"/>
<circle cx="491.1" cy="1184.3"/>
<circle cx="506.3" cy="1054.0"/>
<circle cx="504.4" cy="1126.8"/>
<circle cx="531.2" cy="972.0"/>
<circle cx="512.4" cy="996.3"/>
<circle cx="515.4" cy="930.0"/>
<circle cx="490.5" cy="1180.6"/>
<circle cx="502.4" cy="1040.3"/>
<circle cx="507.2" cy="1027.7"/>
<circle cx="492.9" cy="1151.1"/>
<circle cx="491.0" cy="1179.7"/>
<circle cx="498.5" cy="1008.0"/>
<circle cx="491.5" cy="1027.9"/>
<circle cx="519.8" cy="1091.0"/>
<circle cx="487.5" cy="1126.7"/>
<circle cx="490.4" cy="1161.0"/>
<circle cx="496.9" cy="1182.8"/>
<circle cx="500.1" cy="1130.0"/>
<circle cx="497.2" cy="1112.6"/>
<circle cx="488.0" cy="1119.6"/>
<circle cx="487.5" cy="1196.2"/>
<circle cx="487.1" cy="1187.9"/>
<circle cx="496.3" cy="1141.8"/>
<circle cx="493.9" cy="1169.4"/>
<circle cx="485.1" cy="1177.0"/>
<circle cx="501.2" cy="1197.8"/>
<circle cx="494.3" cy="1178.5"/>
<circle cx="492.0" cy="1108.3"/>
<circle cx="493.8" cy="1140.5"/>
<circle cx="492.9" cy="1195.6"/>
<circle cx="492.6" cy="1102.6"/>
<circle cx="490.0" cy="1091.9"/>
<circle cx="490.7" cy="1168.1"/>
<circle cx="486.1" cy="1199.6"/>
<circle cx="525.8" cy="1171.9"/>
<circle cx="487.7" cy="1135.9"/>
<circle cx="485.7" cy="1197.9"/>
<circle cx="493.7" cy="1198.9"/>
<circle cx="515.4" cy="1182.7"/>
<circle cx="488.3" cy="1167.3"/>
<circle cx="520.2" cy="1055.1"/>
<circle cx="487.0" cy="1190.1"/>
<circle cx="492.0" cy="1162.8"/>
<circle cx="500.0" cy="1160.8"/>
<circle cx="485.5" cy="1173.1"/>
<circle cx="493.3" cy="1170.6"/>
<circle cx="494.3" cy="1000.7"/>
<circle cx="491.1" cy="1101.9"/>
<circle cx="512.1" cy="1025.2"/>
<circle cx="498.6" cy="1035.5"/>
<circle cx="520.2" cy="848.5"/>
<circle cx="491.2" cy="1151.1"/>
<circle cx="491.3" cy="1128.4"/>
<circle cx="501.8" cy="1137.8"/>
<circle cx="521.0" cy="983.0"/>
<circle cx="506.8" cy="1172.7"/>
<circle cx="526.6" cy="930.8"/>
<circle cx="496.6" cy="1015.5"/>
<circle cx="513.5" cy="1182.9"/>
<circle cx="488.8" cy="1187.2"/>
<circle cx="487.7" cy="1163.0"/>
<circle cx="500.4" cy="974.3"/>
<circle cx="487.4" cy="1111.2"/>
<circle cx="503.8" cy="1166.0"/>
<circle cx="494.5" cy="1012.9"/>
<circle cx="501.7" cy="1126.8"/>
<circle cx="486.4" cy="1152.3"/>
<circle cx="492.5" cy="1041.5"/>
<circle cx="491.7" cy="1166.1"/>
<circle cx="493.4" cy="987.4"/>
<circle cx="512.7" cy="1101.1"/>
<circle cx="509.5" cy="1105.0"/>
<circle cx="498.1" cy="1099.5"/>
<circle cx="486.4" cy="1187.4"/>
<circle cx="487.4" cy="1185.6"/>
<circle cx="518.2" cy="1157.9"/>
<circle cx="488.7" cy="1084.6"/>
<circle cx="497.3" cy="1114.7"/>
<circle cx="502.7" cy="1086.6"/>
<circle cx="488.0" cy="1135.0"/>
<circle cx="490.9" cy="1154.6"/>
<circle cx="492.3" cy="1182.7"/>
<circle cx="491.3" cy="1171.1"/>
<circle cx="507.2" cy="1023.5"/>
<circle cx="527.2" cy="1092.3"/>
<circle cx="494.1" cy="1043.3"/>
<circle cx="491.4" cy="1183.8"/>
<circle cx="498.6" cy="1095.2"/>
<circle cx="502.5" cy="1036.7"/>
<circle cx="497.8" cy="1097.0"/>
<circle cx="496.5" cy="1150.2"/>
<circle cx="515.4" cy="860.9"/>
<circle cx="493.4" cy="1181.3"/>
<circle cx="498.5" cy="1100.6"/>
<circle cx="501.7" cy="1196.8"/>
<circle cx="486.9" cy="1173.0"/>
<circle cx="484.9" cy="1193.9"/>
<circle cx="490.6" cy="1175.9"/>
<circle cx="521.7" cy="958.2"/>
<circle cx="484.9" cy="1160.6"/>
<circle cx="483.3" cy="1196.9"/>
<circle cx="485.8" cy="1159.9"/>
<circle cx="491.2" cy="1132.5"/>
<circle cx="496.8" cy="1178.4"/>
<circle cx="508.2" cy="1058.5"/>
<circle cx="509.5" cy="874.9"/>
<circle cx="489.7" cy="1134.4"/>
<circle cx="513.4" cy="994.1"/>
<circle cx="492.9" cy="1182.4"/>
<circle cx="487.7" cy="1178.1"/>
<circle cx="493.8" cy="1162.2"/>
<circle cx="497.9" cy="1141.0"/>
<circle cx="508.5" cy="941.6"/>
<circle cx="486.2" cy="1188.9"/>
<circle cx="488.2" cy="1151.7"/>
<circle cx="508.0" cy="1138.0"/>
<circle cx="505.1" cy="1091.1"/>
<circle cx="487.0" cy="1193.2"/>
<circle cx="491.0" cy="1190.0"/>
<circle cx="505.5" cy="1093.2"/>
<circle cx="515.6" cy="1105.5"/>
<circle cx="489.6" cy="1116.3"/>
<circle cx="497.8" cy="1117.0"/>
<circle cx="507.1" cy="853.0"/>
<circle cx="556.5" cy="972.7"/>
<circle cx="502.0" cy="1140.7"/>
<circle cx="497.0" cy="1194.0"/>
<circle cx="495.7" cy="1132.5"/>
<circle cx="495.0" cy="1106.7"/>
<circle cx="526.2" cy="1057.2"/>
<circle cx="507.1" cy="1063.7"/>
<circle cx="496.1" cy="1047.4"/>
<circle cx="499.0" cy="1131.1"/>
<circle cx="492.2" cy="1117.2"/>
<circle cx="489.4" cy="1179.3"/>
<circle cx="504.3" cy="1188.7"/>
<circle cx="492.6" cy="1176.5"/>
<circle cx="491.5" cy="1190.0"/>
<circle cx="489.3" cy="1183.8"/>
<circle cx="487.2" cy="1124.0"/>
<circle cx="512.2" cy="1188.7"/>
<circle cx="492.1" cy="1186.7"/>
<circle cx="500.2" cy="1084.9"/>
<circle cx="489.6" cy="1107.7"/>
<circle cx="503.9" cy="1192.1"/>
<circle cx="490.7" cy="1125.6"/>
<circle cx="515.6" cy="1157.4"/>
<circle cx="499.1" cy="1157.1"/>
<circle cx="490.0" cy="1150.0"/>
<circle cx="485.6" cy="1139.8"/>
<circle cx="491.1" cy="1153.0"/>
<circle cx="484.8" cy="1196.1"/>
<circle cx="493.8" cy="1195.5"/>
<circle cx="492.7" cy="1188.4"/>
<circle cx="491.8" cy="1176.4"/>
<circle cx="510.0" cy="1051.0"/>
<circle cx="491.7" cy="1166.6"/>
<circle cx="521.8" cy="1103.3"/>
<circle cx="494.5" cy="1189.6"/>
<circle cx="503.0" cy="1103.3"/>
<circle cx="510.5" cy="1038.3"/>
<circle cx="484.3" cy="1193.1"/>
<circle cx="497.2" cy="1135.9"/>
<circle cx="545.4" cy="949.3"/>
<circle cx="516.9" cy="1125.6"/>
<circle cx="486.4" cy="1196.5"/>
<circle cx="501.2" cy="1108.6"/>
<circle cx="495.3" cy="1194.1"/>
<circle cx="513.4" cy="995.8"/>
<circle cx="492.1" cy="1175.9"/>
<circle cx="488.7" cy="1190.7"/>
<circle cx="493.0" cy="1147.9"/>
<circle cx="501.8" cy="1082.6"/>
<circle cx="508.9" cy="1166.5"/>
<circle cx="521.6" cy="1135.1"/>
<circle cx="490.6" cy="1150.3"/>
<circle cx="497.8" cy="1166.1"/>
<circle cx="497.0" cy="1117.0"/>
<circle cx="491.6" cy="1164.5"/>
<circle cx="545.4" cy="1083.2"/>
<circle cx="506.1" cy="1146.6"/>
<circle cx="504.0" cy="1145.0"/>
<circle cx="501.9" cy="1189.1"/>
<circle cx="492.1" cy="1184.0"/>
<circle cx="489.2" cy="1180.6"/>
<circle cx="511.3" cy="1170.5"/>
<circle cx="486.2" cy="1138.7"/>
<circle cx="493.5" cy="1191.8"/>
<circle cx="488.6" cy="1132.3"/>
<circle cx="498.2" cy="1125.5"/>
<circle cx="488.1" cy="1171.4"/>
<circle cx="489.4" cy="1146.8"/>
<circle cx="489.5" cy="1170.0"/>
<circle cx="499.4" cy="1190.7"/>
<circle cx="500.4" cy="1175.9"/>
<circle cx="490.7" cy="1188.0"/>
<circle cx="519.4" cy="1154.8"/>
<circle cx="511.1" cy="1002.0"/>
<circle cx="515.8" cy="1175.8"/>
<circle cx="495.8" cy="1189.4"/>
<circle cx="483.5" cy="1172.7"/>
<circle cx="496.8" cy="919.7"/>
<circle cx="498.6" cy="1093.8"/>
<circle cx="503.7" cy="1183.3"/>
<circle cx="498.6" cy="1006.3"/>
<circle cx="500.3" cy="1065.9"/>
<circle cx="502.6" cy="1096.1"/>
<circle cx="496.5" cy="1196.1"/>
<circle cx="533.3" cy="944.0"/>
<circle cx="531.3" cy="990.7"/>
<circle cx="490.7" cy="1190.4"/>
<circle cx="525.4" cy="1193.8"/>
<circle cx="494.0" cy="1124.5"/>
<circle cx="499.0" cy="1110.8"/>
<circle cx="539.9" cy="1079.8"/>
<circle cx="491.9" cy="1144.7"/>
<circle cx="494.8" cy="1141.0"/>
<circle cx="487.5" cy="1167.4"/>
<circle cx="485.0" cy="1185.1"/>
<circle cx="488.3" cy="1186.3"/>
<circle cx="494.4" cy="1177.6"/>
<circle cx="567.3" cy="1035.2"/>
<circle cx="518.0" cy="1073.4"/>
<circle cx="488.0" cy="1189.6"/>
<circle cx="483.2" cy="1186.7"/>
<circle cx="493.6" cy="1161.7"/>
<circle cx="493.4" cy="1113.2"/>
<circle cx="499.2" cy="1095.5"/>
<circle cx="489.3" cy="1188.9"/>
<circle cx="504.9" cy="1135.4"/>
<circle cx="488.5" cy="1124.1"/>
<circle cx="485.4" cy="1143.6"/>
<circle cx="487.3" cy="1156.9"/>
<circle cx="496.1" cy="1114.5"/>
<circle cx="513.4" cy="867.8"/>
<circle cx="485.5" cy="1177.3"/>
<circle cx="489.9" cy="1110.6"/>
<circle cx="496.6" cy="1066.4"/>
<circle cx="494.4" cy="1009.4"/>
<circle cx="504.2" cy="1168.7"/>
<circle cx="506.6" cy="897.4"/>
<circle cx="504.1" cy="1156.6"/>
<circle cx="500.6" cy="964.7"/>
<circle cx="489.8" cy="1054.6"/>
<circle cx="492.4" cy="1191.8"/>
<circle cx="513.8" cy="1129.4"/>
<circle cx="490.7" cy="1199.6"/>
<circle cx="493.5" cy="943.3"/>
<circle cx="499.3" cy="1159.8"/>
<circle cx="504.8" cy="1121.5"/>
<circle cx="492.7" cy="1107.7"/>
<circle cx="490.4" cy="1185.9"/>
<circle cx="511.1" cy="1083.5"/>
<circle cx="488.6" cy="1150.6"/>
<circle cx="512.9" cy="1172.7"/>
<circle cx="502.1" cy="1173.2"/>
<circle cx="493.0" cy="1170.0"/>
<circle cx="493.6" cy="1077.2"/>
<circle cx="499.9" cy="1155.2"/>
<circle cx="541.7" cy="1105.8"/>
<circle cx="486.6" cy="1147.3"/>
<circle cx="502.2" cy="1078.8"/>
<circle cx="493.6" cy="1013.1"/>
<circle cx="503.0" cy="1190.0"/>
<circle cx="490.2" cy="1195.1"/>
<circle cx="485.5" cy="1181.8"/>
<circle cx="486.7" cy="1152.1"/>
<circle cx="496.4" cy="1138.2"/>
<circle cx="494.1" cy="1019.4"/>
<circle cx="497.1" cy="1076.6"/>
<circle cx="488.4" cy="1167.0"/>
<circle cx="494.9" cy="1039.7"/>
<circle cx="505.1" cy="1135.8"/>
<circle cx="508.2" cy="1169.5"/>
<circle cx="485.9" cy="1135.5"/>
<circle cx="490.3" cy="1165.9"/>
<circle cx="490.6" cy="1077.3"/>
<circle cx="490.5" cy="1168.7"/>
<circle cx="506.3" cy="1124.4"/>
<circle cx="514.0" cy="1182.8"/>
<circle cx="500.9" cy="1169.3"/>
<circle cx="495.5" cy="1187.1"/>
<circle cx="490.1" cy="1138.1"/>
<circle cx="493.8" cy="1045.1"/>
<circle cx="532.6" cy="1036.9"/>
<circle cx="502.7" cy="1055.8"/>
<circle cx="493.1" cy="1172.8"/>
<circle cx="500.7" cy="1170.1"/>
<circle cx="502.2" cy="960.3"/>
<circle cx="505.2" cy="1160.4"/>
<circle cx="511.6" cy="1160.4"/>
<circle cx="488.1" cy="1155.6"/>
<circle cx="495.1" cy="1102.3"/>
<circle cx="491.4" cy="1168.5"/>
<circle cx="499.8" cy="1125.9"/>
<circle cx="488.0" cy="1157.2"/>
<circle cx="495.0" cy="1099.7"/>
<circle cx="504.2" cy="952.1"/>
<circle cx="486.7" cy="1188.0"/>
<circle cx="496.9" cy="1179.6"/>
<circle cx="502.4" cy="965.2"/>
<circle cx="495.2" cy="1008.5"/>
<circle cx="490.4" cy="1042.1"/>
<circle cx="499.5" cy="1078.4"/>
<circle cx="493.5" cy="1124.8"/>
<circle cx="522.0" cy="999.7"/>
<circle cx="487.8" cy="1107.4"/>
<circle cx="487.0" cy="1182.5"/>
<circle cx="504.7" cy="1163.4"/>
<circle cx="496.4" cy="1108.9"/>
<circle cx="488.3" cy="1196.9"/>
<circle cx="485.9" cy="1196.8"/>
<circle cx="496.3" cy="1177.5"/>
<circle cx="495.2" cy="1141.0"/>
<circle cx="498.7" cy="1114.1"/>
<circle cx="485.8" cy="1124.2"/>
<circle cx="490.9" cy="1156.4"/>
<circle cx="504.5" cy="1067.0"/>
<circle cx="492.1" cy="1152.4"/>
<circle cx="503.4" cy="1100.3"/>
<circle cx="498.2" cy="1157.4"/>
<circle cx="490.8" cy="1055.9"/>
<circle cx="492.5" cy="1176.5"/>
<circle cx="486.0" cy="1187.3"/>
<circle cx="507.0" cy="1170.4"/>
<circle cx="509.8" cy="1168.0"/>
<circle cx="512.7" cy="928.8"/>
<circle cx="490.2" cy="1154.8"/>
<circle cx="491.9" cy="1069.4"/>
<circle cx="498.2" cy="1154.2"/>
<circle cx="489.8" cy="1060.8"/>
<circle cx="502.7" cy="1020.0"/>
<circle cx="486.5" cy="1127.1"/>
<circle cx="490.1" cy="1149.3"/>
<circle cx="493.6" cy="1013.5"/>
<circle cx="492.5" cy="1137.8"/>
<circle cx="490.2" cy="1158.0"/>
<circle cx="494.5" cy="1122.1"/>
<circle cx="505.6" cy="1171.8"/>
<circle cx="512.9" cy="1112.3"/>
<circle cx="489.3" cy="1108.9"/>
<circle cx="493.9" cy="1165.0"/>
<circle cx="500.6" cy="1178.2"/>
<circle cx="487.4" cy="1136.9"/>
<circle cx="504.8" cy="1154.5"/>
<circle cx="503.7" cy="1162.4"/>
<circle cx="497.3" cy="1190.8"/>
<circle cx="486.0" cy="1171.5"/>
<circle cx="525.9" cy="1082.1"/>
<circle cx="502.9" cy="1183.4"/>
<circle cx="495.3" cy="1004.5"/>
<circle cx="485.9" cy="1196.3"/>
<circle cx="486.5" cy="1142.3"/>
<circle cx="493.1" cy="1170.0"/>
<circle cx="493.2" cy="1000.8"/>
<circle cx="490.9" cy="1177.2"/>
<circle cx="492.1" cy="1188.9"/>
<circle cx="492.4" cy="1174.3"/>
<circle cx="491.8" cy="1051.5"/>
<circle cx="492.2" cy="1091.7"/>
<circle cx="495.8" cy="1187.9"/>
<circle cx="486.1" cy="1128.0"/>
<circle cx="489.7" cy="1157.9"/>
<circle cx="498.6" cy="1186.5"/>
<circle cx="503.4" cy="1099.7"/>
<circle cx="491.5" cy="989.6"/>
<circle cx="499.8" cy="1180.3"/>
<circle cx="493.5" cy="970.0"/>
<circle cx="493.0" cy="1124.0"/>
<circle cx="487.9" cy="1176.5"/>
<circle cx="497.4" cy="1155.5"/>
<circle cx="495.8" cy="1106.4"/>
<circle cx="496.1" cy="1013.4"/>
<circle cx="501.4" cy="1124.7"/>
<circle cx="486.5" cy="1149.9"/>
<circle cx="503.1" cy="1140.0"/>
<circle cx="498.2" cy="1182.8"/>
<circle cx="494.3" cy="1119.6"/>
<circle cx="500.1" cy="1151.2"/>
<circle cx="489.6" cy="1135.7"/>
<circle cx="495.0" cy="1185.1"/>
<circle cx="495.9" cy="1162.1"/>
<circle cx="485.5" cy="1168.0"/>
<circle cx="496.8" cy="1193.3"/>
<circle cx="494.7" cy="1123.1"/>
<circle cx="498.4" cy="1188.1"/>
<circle cx="493.4" cy="1198.1"/>
<circle cx="494.6" cy="1198.6"/>
<circle cx="491.2" cy="1016.5"/>
<circle cx="514.5" cy="1053.0"/>
<circle cx="495.9" cy="1188.2"/>
<circle cx="492.3" cy="1190.2"/>
<circle cx="505.5" cy="1111.0"/>
<circle cx="507.9" cy="937.1"/>
<circle cx="518.9" cy="1170.8"/>
<circle cx="498.5" cy="1125.0"/>
<circle cx="499.9" cy="928.7"/>
<circle cx="483.8" cy="1192.5"/>
<circle cx="489.0" cy="1194.0"/>
<circle cx="487.8" cy="1136.5"/>
<circle cx="497.6" cy="1145.1"/>
<circle cx="512.5" cy="1055.3"/>
<circle cx="490.8" cy="1192.1"/>
<circle cx="489.5" cy="1132.6"/>
<circle cx="489.2" cy="1197.4"/>
<circle cx="500.6" cy="1152.5"/>
<circle cx="499.5" cy="1148.0"/>
<circle cx="493.5" cy="1134.1"/>
<circle cx="494.1" cy="1082.8"/>
<circle cx="520.1" cy="1180.1"/>
<circle cx="494.3" cy="1185.9"/>
<circle cx="497.8" cy="1175.9"/>
<circle cx="489.7" cy="1197.3"/>
<circle cx="506.7" cy="1029.7"/>
<circle cx="493.1" cy="1180.3"/>
<circle cx="531.1" cy="1069.5"/>
<circle cx="493.8" cy="1132.8"/>
<circle cx="497.3" cy="1083.9"/>
<circle cx="502.0" cy="986.9"/>
<circle cx="514.4" cy="1149.0"/>
<circle cx="485.3" cy="1194.5"/>
<circle cx="505.5" cy="985.4"/>
<circle cx="493.0" cy="1064.6"/>
<circle cx="509.2" cy="1185.3"/>
<circle cx="492.6" cy="1112.3"/>
<circle cx="505.1" cy="1095.3"/>
<circle cx="508.1" cy="1107.4"/>
<circle cx="493.6" cy="1165.3"/>
<circle cx="495.3" cy="1197.9"/>
<circle cx="490.1" cy="1128.0"/>
<circle cx="494.0" cy="1150.1"/>
<circle cx="498.3" cy="1194.2"/>
<circle cx="498.7" cy="1174.9"/>
<circle cx="504.3" cy="1062.7"/>
<circle cx="494.2" cy="1085.5"/>
<circle cx="486.4" cy="1194.2"/>
<circle cx="492.2" cy="1150.1"/>
<circle cx="487.5" cy="1094.0"/>
<circle cx="515.8" cy="974.1"/>
<circle cx="493.7" cy="1125.5"/>
<circle cx="523.9" cy="1107.0"/>
<circle cx="502.2" cy="1179.9"/>
<circle cx="501.1" cy="1104.9"/>
<circle cx="510.7" cy="1034.9"/>
<circle cx="498.3" cy="1187.4"/>
<circle cx="495.7" cy="1156.9"/>
<circle cx="535.8" cy="1031.5"/>
<circle cx="497.6" cy="1101.3"/>
<circle cx="498.3" cy="1112.0"/>
<circle cx="503.5" cy="1186.7"/>
<circle cx="500.0" cy="1166.0"/>
<circle cx="498.3" cy="1155.8"/>
<circle cx="500.5" cy="1192.9"/>
<circle cx="491.1" cy="1181.8"/>
<circle cx="505.0" cy="1073.8"/>
<circle cx="487.9" cy="1185.6"/>
<circle cx="490.7" cy="1159.1"/>
<circle cx="493.6" cy="1007.5"/>
<circle cx="492.9" cy="1060.2"/>
<circle cx="508.0" cy="1155.4"/>
<circle cx="505.1" cy="1163.0"/>
<circle cx="494.3" cy="1085.5"/>
<circle cx="502.2" cy="1143.7"/>
<circle cx="488.3" cy="1154.9"/>
<circle cx="522.5" cy="1009.3"/>
<circle cx="497.7" cy="1141.5"/>
<circle cx="501.3" cy="1119.7"/>
<circle cx="492.6" cy="1185.2"/>
<circle cx="501.2" cy="1139.4"/>
<circle cx="498.9" cy="1185.0"/>
<circle cx="489.3" cy="1199.3"/>
<circle cx="521.1" cy="1180.4"/>
<circle cx="487.5" cy="1123.5"/>
<circle cx="515.0" cy="1013.5"/>
<circle cx="496.5" cy="1107.1"/>
<circle cx="520.8" cy="1147.8"/>
<circle cx="496.2" cy="1160.2"/>
<circle cx="513.8" cy="1174.3"/>
<circle cx="487.3" cy="1193.6"/>
<circle cx="509.7" cy="1129.9"/>
<circle cx="494.7" cy="1187.9"/>
<circle cx="495.5" cy="983.8"/>
<circle cx="493.3" cy="1176.5"/>
<circle cx="492.1" cy="1130.3"/>
<circle cx="488.8" cy="1196.6"/>
<circle cx="506.9" cy="881.0"/>
<circle cx="489.2" cy="1107.3"/>
<circle cx="498.3" cy="1164.0"/>
<circle cx="513.5" cy="1019.6"/>
<circle cx="496.2" cy="1078.8"/>
<circle cx="513.0" cy="1118.1"/>
<circle cx="504.9" cy="1098.6"/>
<circle cx="492.0" cy="1020.3"/>
<circle cx="509.3" cy="973.9"/>
<circle cx="500.8" cy="1073.9"/>
<circle cx="499.9" cy="1116.7"/>
<circle cx="507.3" cy="1163.7"/>
<circle cx="502.8" cy="1143.4"/>
<circle cx="488.9" cy="1133.9"/>
<circle cx="558.1" cy="929.5"/>
<circle cx="503.7" cy="1132.1"/>
<circle cx="503.9" cy="1184.8"/>
<circle cx="508.2" cy="1130.5"/>
<circle cx="492.1" cy="1102.3"/>
<circle cx="504.2" cy="1128.0"/>
<circle cx="500.3" cy="1092.9"/>
<circle cx="507.4" cy="1093.1"/>
<circle cx="508.9" cy="1040.8"/>
<circle cx="499.9" cy="1008.0"/>
<circle cx="527.8" cy="885.6"/>
<circle cx="509.3" cy="1047.7"/>
<circle cx="490.1" cy="1090.7"/>
<circle cx="510.2" cy="1145.5"/>
<circle cx="498.5" cy="1136.4"/>
<circle cx="490.9" cy="1176.7"/>
<circle cx="488.6" cy="1151.2"/>
<circle cx="496.0" cy="1039.5"/>
<circle cx="496.4" cy="1138.2"/>
<circle cx="520.0" cy="1008.2"/>
<circle cx="490.5" cy="1158.2"/>
<circle cx="492.8" cy="1105.0"/>
<circle cx="511.8" cy="1138.0"/>
<circle cx="510.3" cy="1084.4"/>
<circle cx="528.9" cy="874.2"/>
<circle cx="486.4" cy="1169.2"/>
<circle cx="496.3" cy="1183.2"/>
<circle cx="501.6" cy="1137.6"/>
<circle cx="514.5" cy="1166.4"/>
<circle cx="489.4" cy="1199.7"/>
<circle cx="491.3" cy="1117.0"/>
<circle cx="489.0" cy="1105.5"/>
<circle cx="495.0" cy="1079.8"/>
<circle cx="492.4" cy="1162.2"/>
<circle cx="492.0" cy="1093.6"/>
<circle cx="509.2" cy="1171.9"/>
<circle cx="501.2" cy="1111.4"/>
<circle cx="499.6" cy="954.5"/>
<circle cx="507.5" cy="1074.2"/>
<circle cx="493.5" cy="1169.7"/>
<circle cx="493.2" cy="1094.8"/>
<circle cx="490.3" cy="1180.3"/>
<circle cx="515.1" cy="1162.2"/>
<circle cx="512.6" cy="1069.2"/>
<circle cx="492.2" cy="1063.5"/>
<circle cx="494.4" cy="1155.5"/>
<circle cx="488.3" cy="1190.4"/>
<circle cx="490.4" cy="1135.3"/>
<circle cx="501.5" cy="1193.0"/>
<circle cx="490.1" cy="1196.5"/>
<circle cx="494.0" cy="1192.4"/>
<circle cx="484.6" cy="1182.2"/>
<circle cx="488.9" cy="1196.8"/>
<circle cx="508.4" cy="1058.4"/>
<circle cx="502.6" cy="1175.7"/>
<circle cx="502.4" cy="975.0"/>
<circle cx="499.3" cy="1152.8"/>
<circle cx="502.0" cy="1154.1"/>
<circle cx="496.1" cy="1164.2"/>
<circle cx="487.5" cy="1182.7"/>
<circle cx="496.0" cy="1160.0"/>
<circle cx="500.6" cy="1185.0"/>
<circle cx="502.8" cy="1102.6"/>
<circle cx="504.1" cy="1166.8"/>
<circle cx="496.9" cy="1169.2"/>
<circle cx="487.8" cy="1190.5"/>
<circle cx="505.3" cy="1085.8"/>
<circle cx="490.4" cy="1179.8"/>
<circle cx="514.3" cy="1015.0"/>
<circle cx="492.9" cy="1191.1"/>
<circle cx="484.9" cy="1148.2"/>
<circle cx="489.5" cy="1180.4"/>
<circle cx="496.3" cy="1068.3"/>
<circle cx="498.9" cy="1057.9"/>
<circle cx="508.0" cy="843.8"/>
<circle cx="492.0" cy="1102.7"/>
<circle cx="491.7" cy="1190.8"/>
<circle cx="502.9" cy="1147.1"/>
<circle cx="495.8" cy="1185.4"/>
<circle cx="499.5" cy="1155.4"/>
<circle cx="495.3" cy="1133.4"/>
<circle cx="504.1" cy="1128.1"/>
<circle cx="488.0" cy="1192.0"/>
<circle cx="489.5" cy="1189.1"/>
<circle cx="490.3" cy="1167.8"/>
<circle cx="496.6" cy="1096.2"/>
<circle cx="499.4" cy="1056.0"/>
<circle cx="506.3" cy="1120.2"/>
<circle cx="491.5" cy="1130.5"/>
<circle cx="496.1" cy="973.0"/>
<circle cx="497.8" cy="1177.1"/>
<circle cx="491.5" cy="1193.9"/>
<circle cx="519.8" cy="1065.4"/>
<circle cx="486.4" cy="1199.5"/>
<circle cx="492.8" cy="1072.9"/>
<circle cx="498.4" cy="1192.5"/>
<circle cx="485.7" cy="1159.3"/>
<circle cx="512.6" cy="1080.3"/>
<circle cx="512.6" cy="1073.6"/>
<circle cx="487.1" cy="1162.7"/>
<circle cx="485.6" cy="1175.6"/>
<circle cx="491.0" cy="1190.2"/>
<circle cx="489.6" cy="1165.3"/>
<circle cx="495.5" cy="1167.2"/>
<circle cx="511.2" cy="1197.7"/>
<circle cx="493.6" cy="956.7"/>
<circle cx="501.5" cy="1167.2"/>
<circle cx="495.0" cy="1096.8"/>
<circle cx="507.3" cy="925.1"/>
<circle cx="514.2" cy="1114.3"/>
<circle cx="484.8" cy="1182.6"/>
<circle cx="491.4" cy="1178.9"/>
<circle cx="487.8" cy="1198.8"/>
<circle cx="498.2" cy="1090.8"/>
<circle cx="497.2" cy="1173.6"/>
<circle cx="487.3" cy="1166.3"/>
<circle cx="496.4" cy="1087.2"/>
<circle cx="501.0" cy="1149.4"/>
<circle cx="503.0" cy="1156.0"/>
<circle cx="498.2" cy="1196.8"/>
<circle cx="487.6" cy="1105.2"/>
<circle cx="493.5" cy="1139.0"/>
<circle cx="485.8" cy="1157.0"/>
<circle cx="490.5" cy="979.5"/>
<circle cx="502.3" cy="1107.6"/>
<circle cx="488.0" cy="1189.0"/>
<circle cx="495.3" cy="1196.7"/>
<circle cx="533.7" cy="1141.9"/>
<circle cx="498.2" cy="1150.5"/>
<circle cx="503.2" cy="1092.9"/>
<circle cx="504.3" cy="989.5"/>
<circle cx="514.7" cy="922.4"/>
<circle cx="494.4" cy="1181.5"/>
<circle cx="532.2" cy="963.1"/>
<circle cx="489.9" cy="1073.9"/>
<circle cx="494.9" cy="1158.6"/>
<circle cx="491.6" cy="1132.6"/>
<circle cx="497.2" cy="1108.5"/>
<circle cx="507.6" cy="1183.5"/>
<circle cx="491.7" cy="1108.4"/>
<circle cx="495.3" cy="1094.9"/>
<circle cx="516.4" cy="1134.7"/>
<circle cx="492.6" cy="1127.6"/>
<circle cx="497.0" cy="1190.6"/>
<circle cx="488.1" cy="1159.5"/>
<circle cx="508.1" cy="1126.2"/>
<circle cx="495.1" cy="1172.0"/>
<circle cx="490.3" cy="1122.0"/>
<circle cx="497.8" cy="1132.4"/>
<circle cx="493.3" cy="1136.6"/>
<circle cx="497.4" cy="1131.8"/>
<circle cx="496.0" cy="1164.4"/>
<circle cx="497.7" cy="1106.5"/>
<circle cx="491.6" cy="1076.7"/>
<circle cx="497.4" cy="1149.4"/>
<circle cx="515.9" cy="1120.3"/>
<circle cx="492.1" cy="1188.8"/>
<circle cx="496.2" cy="1020.6"/>
<circle cx="500.9" cy="1094.6"/>
<circle cx="491.9" cy="1019.1"/>
<circle cx="485.5" cy="1153.9"/>
<circle cx="502.0" cy="954.4"/>
<circle cx="491.0" cy="1177.2"/>
<circle cx="502.0" cy="1034.2"/>
<circle cx="506.3" cy="1079.4"/>
<circle cx="502.0" cy="1072.3"/>
<circle cx="495.5" cy="1076.1"/>
<circle cx="490.9" cy="1111.3"/>
<circle cx="524.0" cy="1112.9"/>
<circle cx="484.4" cy="1174.1"/>
<circle cx="505.5" cy="977.1"/>
<circle cx="498.9" cy="1148.4"/>
<circle cx="500.5" cy="1195.7"/>
<circle cx="496.7" cy="1144.0"/>
<circle cx="497.7" cy="1152.1"/>
<circle cx="495.6" cy="1152.4"/>
<circle cx="497.5" cy="1171.1"/>
<circle cx="487.8" cy="1140.0"/>
<circle cx="495.0" cy="952.7"/>
<circle cx="495.6" cy="1161.9"/>
<circle cx="500.1" cy="1199.3"/>
<circle cx="507.4" cy="1135.1"/>
<circle cx="499.0" cy="1195.7"/>
<circle cx="489.6" cy="1113.3"/>
<circle cx="507.9" cy="1195.0"/>
<circle cx="514.9" cy="1181.3"/>
<circle cx="489.8" cy="1026.4"/>
<circle cx="499.1" cy="1172.5"/>
<circle cx="489.3" cy="1154.2"/>
<circle cx="491.1" cy="1122.5"/>
<circle cx="485.0" cy="1198.4"/>
<circle cx="498.6" cy="1079.4"/>
<circle cx="489.6" cy="1166.7"/>
<circle cx="500.4" cy="918.1"/>
<circle cx="490.4" cy="1153.4"/>
<circle cx="499.2" cy="1161.8"/>
<circle cx="491.7" cy="1154.8"/>
<circle cx="508.4" cy="1108.5"/>
<circle cx="498.1" cy="1158.4"/>
<circle cx="532.1" cy="974.8"/>
<circle cx="487.1" cy="1171.1"/>
<circle cx="494.3" cy="1194.9"/>
<circle cx="493.5" cy="1175.5"/>
<circle cx="488.6" cy="1043.9"/>
<circle cx="500.3" cy="1158.6"/>
<circle cx="587.5" cy="844.8"/>
<circle cx="497.7" cy="1181.0"/>
<circle cx="497.3" cy="1182.0"/>
<circle cx="488.4" cy="1182.5"/>
<circle cx="492.7" cy="1157.0"/>
<circle cx="502.0" cy="1083.8"/>
<circle cx="494.2" cy="1157.2"/>
<circle cx="494.7" cy="1178.0"/>
<circle cx="487.5" cy="1161.0"/>
<circle cx="488.1" cy="1186.0"/>
<circle cx="508.7" cy="1172.0"/>
<circle cx="502.4" cy="1170.2"/>
<circle cx="496.7" cy="1162.5"/>
<circle cx="501.4" cy="1157.7"/>
<circle cx="508.5" cy="1043.7"/>
<circle cx="485.0" cy="1161.9"/>
<circle cx="494.4" cy="1182.8"/>
<circle cx="505.6" cy="1157.6"/>
<circle cx="496.1" cy="1145.3"/>
<circle cx="505.1" cy="1084.8"/>
<circle cx="489.4" cy="1157.6"/>
<circle cx="500.8" cy="1142.4"/>
<circle cx="505.5" cy="1196.9"/>
<circle cx="485.8" cy="1124.4"/>
<circle cx="487.8" cy="1168.1"/>
<circle cx="491.2" cy="1187.3"/>
<circle cx="484.4" cy="1182.8"/>
<circle cx="493.2" cy="1074.5"/>
<circle cx="490.4" cy="1105.3"/>
<circle cx="490.4" cy="1114.8"/>
<circle cx="492.4" cy="1182.1"/>
<circle cx="525.7" cy="915.3"/>
<circle cx="483.2" cy="1196.6"/>
<circle cx="497.5" cy="1148.0"/>
<circle cx="503.4" cy="1084.7"/>
<circle cx="489.4" cy="1195.9"/>
<circle cx="492.7" cy="1174.6"/>
<circle cx="487.2" cy="1197.8"/>
<circle cx="492.5" cy="1121.1"/>
<circle cx="509.9" cy="1068.3"/>
<circle cx="495.1" cy="1053.2"/>
<circle cx="502.9" cy="1131.8"/>
<circle cx="488.4" cy="1151.3"/>
<circle cx="491.4" cy="1176.8"/>
<circle cx="492.4" cy="1192.0"/>
<circle cx="487.5" cy="1192.8"/>
<circle cx="509.1" cy="1157.8"/>
<circle cx="485.2" cy="1196.9"/>
<circle cx="504.4" cy="1082.8"/>
<circle cx="491.4" cy="1144.8"/>
<circle cx="511.3" cy="973.2"/>
<circle cx="496.8" cy="1178.5"/>
<circle cx="508.6" cy="1015.3"/>
<circle cx="496.6" cy="1025.7"/>
<circle cx="491.7" cy="1174.4"/>
<circle cx="493.5" cy="1185.2"/>
<circle cx="487.5" cy="1154.7"/>
<circle cx="500.0" cy="1132.0"/>
<circle cx="503.9" cy="1066.6"/>
<circle cx="489.9" cy="1180.5"/>
<circle cx="486.3" cy="1183.2"/>
<circle cx="543.2" cy="957.0"/>
<circle cx="490.4" cy="1140.0"/>
<circle cx="510.4" cy="1168.7"/>
<circle cx="501.0" cy="1129.9"/>
<circle cx="485.8" cy="1152.8"/>
<circle cx="494.3" cy="1087.4"/>
<circle cx="494.4" cy="1146.2"/>
<circle cx="495.4" cy="1123.5"/>
<circle cx="508.8" cy="1151.1"/>
<circle cx="487.4" cy="1115.2"/>
<circle cx="488.6" cy="1170.4"/>
<circle cx="488.0" cy="1182.2"/>
<circle cx="486.7" cy="1148.3"/>
<circle cx="492.6" cy="1129.1"/>
<circle cx="491.1" cy="1197.3"/>
<circle cx="524.7" cy="1024.2"/>
<circle cx="494.8" cy="956.6"/>
<circle cx="503.6" cy="1193.1"/>
<circle cx="515.5" cy="1196.7"/>
<circle cx="496.7" cy="1123.0"/>
<circle cx="492.0" cy="1128.9"/>
<circle cx="499.7" cy="1116.8"/>
<circle cx="505.2" cy="1071.9"/>
<circle cx="495.3" cy="1190.5"/>
<circle cx="493.2" cy="1087.5"/>
<circle cx="516.0" cy="1064.9"/>
<circle cx="489.8" cy="1148.7"/>
<circle cx="495.3" cy="986.9"/>
<circle cx="484.2" cy="1194.7"/>
<circle cx="517.9" cy="1195.4"/>
<circle cx="494.3" cy="1175.7"/>
<circle cx="491.2" cy="1196.4"/>
<circle cx="494.3" cy="1197.7"/>
<circle cx="486.3" cy="1186.3"/>
<circle cx="526.5" cy="1058.5"/>
<circle cx="490.6" cy="1192.4"/>
<circle cx="496.7" cy="1186.4"/>
<circle cx="491.3" cy="1145.7"/>
<circle cx="544.9" cy="1113.1"/>
<circle cx="512.9" cy="1093.9"/>
<circle cx="505.1" cy="1136.8"/>
<circle cx="507.6" cy="942.2"/>
<circle cx="560.8" cy="1019.7"/>
<circle cx="490.1" cy="1134.0"/>
<circle cx="495.5" cy="1172.5"/>
<circle cx="503.3" cy="867.7"/>
<circle cx="510.7" cy="1024.8"/>
<circle cx="506.8" cy="1033.6"/>
<circle cx="507.6" cy="1115.3"/>
<circle cx="486.3" cy="1177.9"/>
<circle cx="495.0" cy="1166.0"/>
<circle cx="495.6" cy="1084.1"/>
<circle cx="488.5" cy="1170.7"/>
<circle cx="494.3" cy="1173.0"/>
<circle cx="500.6" cy="1139.8"/>
<circle cx="495.0" cy="1138.2"/>
<circle cx="486.2" cy="1198.1"/>
<circle cx="500.4" cy="1188.4"/>
<circle cx="484.8" cy="1168.7"/>
<circle cx="504.3" cy="957.9"/>
<circle cx="503.1" cy="1083.2"/>
<circle cx="516.5" cy="1113.3"/>
<circle cx="497.3" cy="1148.5"/>
<circle cx="507.1" cy="1181.2"/>
<circle cx="508.7" cy="1111.2"/>
<circle cx="502.3" cy="1151.6"/>
<circle cx="497.9" cy="1175.0"/>
<circle cx="504.3" cy="1147.8"/>
<circle cx="490.0" cy="1071.6"/>
<circle cx="494.3" cy="1013.9"/>
<circle cx="510.0" cy="1173.7"/>
<circle cx="490.4" cy="1198.7"/>
<circle cx="491.1" cy="1184.6"/>
<circle cx="493.3" cy="1065.4"/>
<circle cx="491.6" cy="967.1"/>
<circle cx="484.7" cy="1193.8"/>
<circle cx="495.3" cy="1192.0"/>
<circle cx="496.3" cy="1055.7"/>
<circle cx="506.3" cy="1184.3"/>
<circle cx="504.4" cy="971.4"/>
<circle cx="499.3" cy="1078.6"/>
<circle cx="492.3" cy="1157.0"/>
<circle cx="487.6" cy="1164.1"/>
<circle cx="492.2" cy="1182.3"/>
<circle cx="499.5" cy="1181.8"/>
<circle cx="506.9" cy="1078.7"/>
<circle cx="490.5" cy="1173.4"/>
<circle cx="515.5" cy="989.0"/>
<circle cx="493.7" cy="1192.3"/>
<circle cx="515.5" cy="1147.4"/>
<circle cx="495.1" cy="1103.3"/>
<circle cx="501.4" cy="1193.6"/>
<circle cx="486.2" cy="1181.7"/>
<circle cx="490.3" cy="1169.2"/>
<circle cx="491.0" cy="1123.3"/>
<circle cx="506.8" cy="1076.9"/>
<circle cx="492.3" cy="1097.7"/>
<circle cx="499.1" cy="1074.7"/>
<circle cx="501.1" cy="1141.1"/>
<circle cx="490.1" cy="1029.3"/>
<circle cx="504.6" cy="859.1"/>
<circle cx="490.3" cy="1147.0"/>
<circle cx="492.1" cy="1108.6"/>
<circle cx="487.6" cy="1152.0"/>
<circle cx="487.5" cy="1093.9"/>
<circle cx="487.8" cy="1124.9"/>
<circle cx="522.7" cy="923.4"/>
<circle cx="500.1" cy="1189.8"/>
<circle cx="486.8" cy="1191.9"/>
<circle cx="496.3" cy="1107.1"/>
<circle cx="506.8" cy="1119.8"/>
<circle cx="493.9" cy="1187.7"/>
<circle cx="494.0" cy="1176.0"/>
<circle cx="534.7" cy="959.2"/>
<circle cx="488.6" cy="1170.3"/>
<circle cx="498.9" cy="1105.1"/>
<circle cx="490.6" cy="1195.2"/>
<circle cx="495.1" cy="1121.2"/>
<circle cx="495.1" cy="1155.5"/>
<circle cx="496.6" cy="1133.3"/>
<circle cx="504.7" cy="1110.0"/>
<circle cx="496.8" cy="1177.4"/>
<circle cx="505.5" cy="1096.1"/>
<circle cx="505.0" cy="958.0"/>
<circle cx="537.1" cy="1165.8"/>
<circle cx="498.8" cy="1165.7"/>
<circle cx="497.6" cy="1148.7"/>
<circle cx="497.0" cy="1145.1"/>
<circle cx="504.7" cy="1150.7"/>
<circle cx="519.7" cy="884.3"/>
<circle cx="488.7" cy="1196.5"/>
<circle cx="489.7" cy="1046.2"/>
<circle cx="509.9" cy="985.6"/>
<circle cx="503.0" cy="1000.1"/>
<circle cx="507.4" cy="1016.6"/>
<circle cx="512.9" cy="946.2"/>
<circle cx="502.3" cy="1099.9"/>
<circle cx="491.6" cy="1096.3"/>
<circle cx="490.1" cy="1169.4"/>
<circle cx="501.9" cy="1111.7"/>
<circle cx="501.9" cy="1022.7"/>
<circle cx="489.0" cy="1150.0"/>
<circle cx="514.2" cy="1026.7"/>
<circle cx="494.0" cy="1198.9"/>
<circle cx="493.8" cy="1085.6"/>
<circle cx="502.9" cy="1068.4"/>
<circle cx="494.9" cy="1169.2"/>
<circle cx="488.3" cy="1170.7"/>
<circle cx="484.8" cy="1198.8"/>
<circle cx="502.3" cy="1184.3"/>
<circle cx="525.6" cy="950.3"/>
<circle cx="496.9" cy="1174.5"/>
<circle cx="491.7" cy="1197.7"/>
<circle cx="491.5" cy="1195.2"/>
<circle cx="492.9" cy="1176.7"/>
<circle cx="492.1" cy="1056.2"/>
<circle cx="493.5" cy="1087.6"/>
<circle cx="491.4" cy="1149.1"/>
<circle cx="505.9" cy="1025.5"/>
<circle cx="487.4" cy="1185.0"/>
<circle cx="484.2" cy="1159.0"/>
<circle cx="508.1" cy="1022.0"/>
<circle cx="497.4" cy="1123.7"/>
<circle cx="505.6" cy="1156.1"/>
<circle cx="494.0" cy="991.5"/>
<circle cx="492.7" cy="1163.0"/>
<circle cx="528.2" cy="1080.4"/>
<circle cx="500.7" cy="1021.5"/>
<circle cx="487.0" cy="1180.8"/>
<circle cx="485.7" cy="1145.5"/>
<circle cx="493.4" cy="1028.2"/>
<circle cx="505.5" cy="1167.7"/>
<circle cx="491.4" cy="1163.2"/>
<circle cx="489.9" cy="1117.4"/>
<circle cx="500.8" cy="906.5"/>
<circle cx="490.3" cy="1157.2"/>
<circle cx="489.3" cy="1189.9"/>
<circle cx="494.5" cy="1188.6"/>
<circle cx="486.0" cy="1187.8"/>
<circle cx="488.6" cy="1122.0"/>
<circle cx="497.2" cy="1154.9"/>
<circle cx="494.6" cy="1143.0"/>
<circle cx="521.2" cy="1143.6"/>
<circle cx="488.8" cy="1171.6"/>
<circle cx="514.2" cy="1098.6"/>
<circle cx="501.8" cy="1187.4"/>
<circle cx="486.0" cy="1127.0"/>
<circle cx="490.7" cy="1159.3"/>
<circle cx="488.7" cy="1198.0"/>
<circle cx="486.9" cy="1182.0"/>
<circle cx="487.4" cy="1146.9"/>
<circle cx="497.7" cy="1140.1"/>
<circle cx="501.0" cy="1024.6"/>
<circle cx="487.7" cy="1158.8"/>
<circle cx="508.4" cy="1128.5"/>
<circle cx="505.6" cy="1151.2"/>
<circle cx="523.7" cy="1076.8"/>
<circle cx="518.7" cy="1080.7"/>
<circle cx="498.2" cy="1035.4"/>
<circle cx="501.2" cy="1158.5"/>
<circle cx="500.3" cy="1097.1"/>
<circle cx="485.4" cy="1192.5"/>
<circle cx="530.7" cy="1077.2"/>
<circle cx="486.8" cy="1169.8"/>
<circle cx="508.6" cy="1043.9"/>
<circle cx="491.9" cy="1158.7"/>
<circle cx="507.4" cy="1197.6"/>
<circle cx="492.7" cy="1192.5"/>
<circle cx="496.8" cy="1179.5"/>
<circle cx="505.0" cy="1147.9"/>
<circle cx="495.0" cy="985.2"/>
<circle cx="491.6" cy="1158.2"/>
<circle cx="512.5" cy="1111.9"/>
<circle cx="486.3" cy="1163.6"/>
<circle cx="499.5" cy="1094.8"/>
<circle cx="493.3" cy="1113.9"/>
<circle cx="495.3" cy="1172.2"/>
<circle cx="495.4" cy="1138.3"/>
<circle cx="503.6" cy="1150.4"/>
<circle cx="488.1" cy="1164.5"/>
<circle cx="491.6" cy="1165.1"/>
<circle cx="488.2" cy="1193.1"/>
<circle cx="489.9" cy="1170.2"/>
<circle cx="501.3" cy="1004.8"/>
<circle cx="496.3" cy="1177.0"/>
<circle cx="496.4" cy="1196.0"/>
<circle cx="517.7" cy="1137.9"/>
<circle cx="495.4" cy="1176.6"/>
<circle cx="508.0" cy="1071.1"/>
<circle cx="511.0" cy="1197.4"/>
<circle cx="485.5" cy="1141.7"/>
<circle cx="485.2" cy="1170.1"/>
<circle cx="495.8" cy="1096.1"/>
<circle cx="490.0" cy="1183.2"/>
<circle cx="500.3" cy="1177.7"/>
<circle cx="501.4" cy="1192.1"/>
<circle cx="487.1" cy="1191.2"/>
<circle cx="502.0" cy="919.8"/>
<circle cx="504.9" cy="1135.0"/>
<circle cx="503.8" cy="1128.6"/>
<circle cx="490.7" cy="1152.5"/>
<circle cx="493.1" cy="1164.2"/>
<circle cx="489.6" cy="1157.6"/>
<circle cx="491.5" cy="1081.0"/>
<circle cx="490.5" cy="1188.4"/>
<circle cx="486.6" cy="1179.0"/>
<circle cx="510.0" cy="942.1"/>
<circle cx="499.0" cy="1097.4"/>
<circle cx="495.1" cy="1148.5"/>
<circle cx="497.2" cy="1117.9"/>
<circle cx="507.5" cy="1057.4"/>
<circle cx="491.2" cy="1186.5"/>
<circle cx="500.5" cy="1130.9"/>
<circle cx="487.0" cy="1166.2"/>
<circle cx="489.3" cy="1121.2"/>
<circle cx="503.1" cy="1123.3"/>
<circle cx="495.0" cy="1081.3"/>
<circle cx="494.3" cy="1160.0"/>
<circle cx="488.2" cy="1165.3"/>
<circle cx="507.9" cy="969.0"/>
<circle cx="502.8" cy="929.7"/>
<circle cx="497.9" cy="991.6"/>
<circle cx="504.1" cy="1089.6"/>
<circle cx="495.5" cy="1171.9"/>
<circle cx="514.9" cy="1000.8"/>
<circle cx="492.5" cy="1196.1"/>
<circle cx="506.8" cy="1173.7"/>
<circle cx="485.4" cy="1179.3"/>
<circle cx="495.3" cy="1197.0"/>
<circle cx="485.2" cy="1196.3"/>
<circle cx="492.1" cy="1164.2"/>
<circle cx="494.7" cy="1101.0"/>
<circle cx="491.5" cy="1127.1"/>
<circle cx="496.1" cy="1083.6"/>
<circle cx="484.6" cy="1163.6"/>
<circle cx="510.5" cy="1030.3"/>
<circle cx="485.8" cy="1151.8"/>
<circle cx="510.5" cy="1081.1"/>
<circle cx="495.3" cy="1124.2"/>
<circle cx="490.9" cy="1173.5"/>
<circle cx="497.7" cy="1105.7"/>
<circle cx="488.1" cy="1183.7"/>
<circle cx="504.6" cy="1024.7"/>
<circle cx="498.7" cy="1135.0"/>
<circle cx="485.6" cy="1134.5"/>
<circle cx="495.9" cy="1137.9"/>
<circle cx="501.1" cy="991.6"/>
<circle cx="509.1" cy="1158.9"/>
<circle cx="523.2" cy="1047.7"/>
<circle cx="503.4" cy="1193.8"/>
<circle cx="491.0" cy="1188.7"/>
<circle cx="489.2" cy="1158.4"/>
<circle cx="488.4" cy="1173.5"/>
<circle cx="495.9" cy="1075.8"/>
<circle cx="525.0" cy="1163.6"/>
<circle cx="508.4" cy="1110.9"/>
<circle cx="488.4" cy="1151.6"/>
<circle cx="489.3" cy="1157.0"/>
<circle cx="502.2" cy="1140.2"/>
<circle cx="491.1" cy="1139.9"/>
<circle cx="489.0" cy="1110.8"/>
<circle cx="508.8" cy="1052.2"/>
<circle cx="489.1" cy="1163.8"/>
<circle cx="510.2" cy="1021.4"/>
<circle cx="517.6" cy="1009.9"/>
<circle cx="487.7" cy="1169.2"/>
<circle cx="508.3" cy="1183.4"/>
<circle cx="494.4" cy="1089.5"/>
<circle cx="491.3" cy="1196.6"/>
<circle cx="500.5" cy="1169.7"/>
<circle cx="489.4" cy="1101.3"/>
<circle cx="521.9" cy="1092.7"/>
<circle cx="507.6" cy="1126.5"/>
<circle cx="492.0" cy="1150.9"/>
<circle cx="508.9" cy="1010.4"/>
<circle cx="498.0" cy="976.4"/>
<circle cx="509.9" cy="1154.7"/>
<circle cx="491.1" cy="1197.4"/>
<circle cx="488.4" cy="1173.8"/>
<circle cx="487.3" cy="1197.9"/>
<circle cx="513.4" cy="1162.4"/>
<circle cx="492.9" cy="1194.4"/>
<circle cx="485.2" cy="1176.6"/>
<circle cx="497.5" cy="1152.7"/>
<circle cx="493.1" cy="1194.0"/>
<circle cx="489.5" cy="1179.3"/>
<circle cx="510.9" cy="1173.4"/>
<circle cx="503.5" cy="958.1"/>
<circle cx="498.2" cy="1057.1"/>
<circle cx="489.6" cy="1145.6"/>
<circle cx="510.9" cy="1125.4"/>
<circle cx="500.6" cy="1134.6"/>
<circle cx="486.9" cy="1157.5"/>
<circle cx="490.8" cy="1196.2"/>
<circle cx="486.9" cy="1166.6"/>
<circle cx="492.7" cy="1177.7"/>
<circle cx="488.6" cy="1128.1"/>
<circle cx="489.2" cy="1118.6"/>
<circle cx="519.0" cy="1117.9"/>
<circle cx="487.4" cy="1158.9"/>
<circle cx="502.8" cy="1149.2"/>
<circle cx="494.5" cy="1194.9"/>
<circle cx="488.9" cy="1079.9"/>
<circle cx="526.5" cy="1090.2"/>
<circle cx="486.4" cy="1193.2"/>
<circle cx="495.8" cy="1181.3"/>
<circle cx="496.8" cy="943.4"/>
<circle cx="491.0" cy="1183.9"/>
<circle cx="523.4" cy="962.0"/>
<circle cx="497.3" cy="1162.2"/>
<circle cx="487.1" cy="1188.4"/>
<circle cx="527.0" cy="1057.0"/>
<circle cx="486.7" cy="1174.3"/>
<circle cx="498.3" cy="1148.3"/>
<circle cx="488.6" cy="1117.3"/>
<circle cx="505.6" cy="1025.1"/>
<circle cx="487.4" cy="1159.9"/>
<circle cx="490.5" cy="1039.4"/>
<circle cx="499.3" cy="1174.3"/>
<circle cx="489.1" cy="1150.5"/>
<circle cx="505.9" cy="857.9"/>
<circle cx="490.3" cy="1159.6"/>
<circle cx="488.9" cy="1139.3"/>
<circle cx="485.8" cy="1151.3"/>
<circle cx="485.9" cy="1197.7"/>
<circle cx="514.2" cy="1165.0"/>
<circle cx="485.4" cy="1178.0"/>
<circle cx="499.2" cy="971.0"/>
<circle cx="503.2" cy="1149.0"/>
<circle cx="488.8" cy="1090.5"/>
<circle cx="533.2" cy="1084.3"/>
<circle cx="511.7" cy="1194.8"/>
<circle cx="509.4" cy="1051.7"/>
<circle cx="487.1" cy="1167.3"/>
<circle cx="518.7" cy="1123.7"/>
<circle cx="502.1" cy="1192.3"/>
<circle cx="523.7" cy="888.2"/>
<circle cx="491.7" cy="1103.9"/>
<circle cx="517.9" cy="1149.3"/>
<circle cx="506.9" cy="1149.0"/>
<circle cx="493.8" cy="1150.7"/>
<circle cx="512.9" cy="1053.2"/>
<circle cx="486.1" cy="1106.2"/>
<circle cx="495.1" cy="1185.4"/>
<circle cx="492.6" cy="1151.2"/>
<circle cx="491.1" cy="1155.5"/>
<circle cx="523.5" cy="928.5"/>
<circle cx="488.2" cy="1188.9"/>
<circle cx="502.0" cy="892.0"/>
<circle cx="499.3" cy="1126.8"/>
<circle cx="489.8" cy="1199.5"/>
<circle cx="490.1" cy="1129.5"/>
<circle cx="500.4" cy="1026.8"/>
<circle cx="499.4" cy="1169.8"/>
<circle cx="497.7" cy="1153.1"/>
<circle cx="487.1" cy="1149.8"/>
<circle cx="502.7" cy="1119.5"/>
<circle cx="489.9" cy="1189.3"/>
<circle cx="485.8" cy="1180.6"/>
<circle cx="493.5" cy="1135.3"/>
<circle cx="513.2" cy="919.5"/>
<circle cx="505.4" cy="1151.4"/>
<circle cx="501.1" cy="1052.4"/>
<circle cx="494.7" cy="1174.3"/>
<circle cx="498.7" cy="1120.9"/>
<circle cx="497.6" cy="1191.2"/>
<circle cx="499.6" cy="1148.6"/>
<circle cx="489.8" cy="1175.5"/>
<circle cx="487.5" cy="1161.5"/>
<circle cx="504.1" cy="1121.7"/>
<circle cx="488.4" cy="1177.3"/>
<circle cx="490.5" cy="1109.9"/>
<circle cx="520.0" cy="992.1"/>
<circle cx="487.1" cy="1162.9"/>
<circle cx="504.8" cy="1128.0"/>
<circle cx="497.8" cy="1135.4"/>
<circle cx="493.7" cy="1033.9"/>
<circle cx="503.7" cy="1094.5"/>
<circle cx="488.0" cy="1198.6"/>
<circle cx="508.3" cy="1039.4"/>
<circle cx="492.8" cy="1160.2"/>
<circle cx="491.6" cy="1171.5"/>
<circle cx="507.1" cy="1114.1"/>
<circle cx="487.0" cy="1172.9"/>
<circle cx="494.9" cy="1018.6"/>
<circle cx="497.8" cy="1197.4"/>
<circle cx="526.5" cy="910.6"/>
<circle cx="494.9" cy="1199.6"/>
<circle cx="484.4" cy="1192.3"/>
<circle cx="493.7" cy="1190.9"/>
<circle cx="514.2" cy="1004.3"/>
<circle cx="505.4" cy="1181.2"/>
<circle cx="496.3" cy="1194.3"/>
<circle cx="491.5" cy="1132.4"/>
<circle cx="516.1" cy="1174.9"/>
<circle cx="537.1" cy="997.0"/>
<circle cx="487.7" cy="1196.1"/>
<circle cx="516.1" cy="1043.2"/>
<circle cx="492.8" cy="1066.9"/>
<circle cx="494.8" cy="1029.4"/>
<circle cx="490.6" cy="1099.3"/>
<circle cx="487.0" cy="1129.8"/>
<circle cx="491.1" cy="1103.2"/>
<circle cx="500.9" cy="1095.1"/>
<circle cx="490.9" cy="1131.8"/>
<circle cx="493.6" cy="1073.9"/>
<circle cx="502.9" cy="1146.4"/>
<circle cx="515.1" cy="1095.5"/>
<circle cx="505.3" cy="1149.9"/>
<circle cx="542.1" cy="893.4"/>
<circle cx="491.7" cy="1089.0"/>
<circle cx="498.8" cy="1124.4"/>
<circle cx="489.9" cy="1156.5"/>
<circle cx="491.0" cy="1193.5"/>
<circle cx="492.9" cy="1042.8"/>
<circle cx="509.7" cy="1024.9"/>
<circle cx="497.3" cy="1170.8"/>
<circle cx="497.7" cy="1183.4"/>
<circle cx="488.0" cy="1185.6"/>
<circle cx="510.4" cy="1096.6"/>
<circle cx="495.7" cy="1193.8"/>
<circle cx="486.6" cy="1137.2"/>
<circle cx="523.1" cy="1051.7"/>
<circle cx="496.0" cy="948.7"/>
<circle cx="508.9" cy="1035.4"/>
<circle cx="489.4" cy="1104.1"/>
<circle cx="498.1" cy="982.3"/>
<circle cx="486.8" cy="1123.7"/>
<circle cx="490.0" cy="1181.3"/>
<circle cx="490.2" cy="1195.8"/>
<circle cx="492.3" cy="1043.7"/>
<circle cx="491.8" cy="983.4"/>
<circle cx="493.2" cy="1153.5"/>
<circle cx="498.7" cy="1182.2"/>
<circle cx="492.6" cy="1131.2"/>
<circle cx="495.1" cy="1176.0"/>
<circle cx="504.6" cy="1149.6"/>
<circle cx="517.4" cy="937.0"/>
<circle cx="494.7" cy="1158.2"/>
<circle cx="485.1" cy="1196.0"/>
<circle cx="487.4" cy="1188.7"/>
<circle cx="501.5" cy="1046.4"/>
<circle cx="486.4" cy="1193.6"/>
<circle cx="517.9" cy="1126.0"/>
<circle cx="497.5" cy="1149.7"/>
<circle cx="485.8" cy="1190.2"/>
<circle cx="505.7" cy="995.5"/>
<circle cx="505.5" cy="1171.4"/>
<circle cx="486.5" cy="1149.4"/>
<circle cx="487.7" cy="1195.3"/>
<circle cx="487.2" cy="1194.7"/>
<circle cx="489.4" cy="1159.0"/>
<circle cx="494.5" cy="1167.2"/>
<circle cx="521.9" cy="973.5"/>
<circle cx="499.1" cy="1107.5"/>
<circle cx="504.5" cy="1060.5"/>
<circle cx="492.9" cy="1099.7"/>
<circle cx="498.2" cy="1187.3"/>
<circle cx="489.5" cy="1168.0"/>
<circle cx="485.0" cy="1171.0"/>
<circle cx="509.9" cy="1194.9"/>
<circle cx="498.0" cy="1122.5"/>
<circle cx="496.3" cy="1100.8"/>
<circle cx="496.6" cy="1171.8"/>
<circle cx="499.1" cy="1070.8"/>
<circle cx="497.8" cy="1187.7"/>
<circle cx="502.3" cy="1143.7"/>
<circle cx="492.2" cy="1189.5"/>
<circle cx="494.5" cy="1199.4"/>
<circle cx="489.2" cy="1175.9"/>
<circle cx="487.2" cy="1141.6"/>
<circle cx="487.1" cy="1194.0"/>
<circle cx="492.6" cy="1188.4"/>
<circle cx="485.3" cy="1192.8"/>
<circle cx="506.1" cy="962.9"/>
<circle cx="499.1" cy="986.2"/>
<circle cx="494.8" cy="1154.2"/>
<circle cx="494.9" cy="1194.6"/>
<circle cx="490.2" cy="1014.6"/>
<circle cx="503.1" cy="1095.2"/>
<circle cx="500.4" cy="1191.1"/>
<circle cx="499.1" cy="1123.4"/>
<circle cx="485.8" cy="1195.3"/>
<circle cx="510.8" cy="1097.0"/>
<circle cx="548.5" cy="1096.9"/>
<circle cx="501.7" cy="1120.9"/>
<circle cx="486.5" cy="1178.2"/>
<circle cx="489.7" cy="1193.1"/>
<circle cx="502.0" cy="1039.8"/>
<circle cx="494.4" cy="1104.0"/>
<circle cx="509.9" cy="972.2"/>
<circle cx="494.8" cy="1125.5"/>
<circle cx="493.4" cy="1184.5"/>
<circle cx="486.0" cy="1136.7"/>
<circle cx="503.7" cy="1161.3"/>
<circle cx="502.5" cy="1188.2"/>
<circle cx="490.9" cy="1161.7"/>
<circle cx="488.9" cy="1183.6"/>
<circle cx="495.0" cy="1194.9"/>
<circle cx="487.3" cy="1115.4"/>
<circle cx="521.5" cy="1193.1"/>
<circle cx="486.1" cy="1196.8"/>
<circle cx="490.2" cy="1062.0"/>
<circle cx="498.7" cy="1163.1"/>
<circle cx="501.6" cy="1197.4"/>
<circle cx="516.6" cy="1192.1"/>
<circle cx="497.5" cy="1187.1"/>
<circle cx="497.0" cy="1184.8"/>
<circle cx="489.1" cy="1101.9"/>
<circle cx="501.0" cy="1186.2"/>
<circle cx="486.7" cy="1197.6"/>
<circle cx="499.7" cy="1139.8"/>
<circle cx="487.4" cy="1109.4"/>
<circle cx="492.8" cy="1177.1"/>
<circle cx="489.0" cy="1156.2"/>
<circle cx="487.5" cy="1190.3"/>
<circle cx="510.7" cy="1136.7"/>
<circle cx="491.4" cy="1122.9"/>
<circle cx="493.9" cy="1132.2"/>
<circle cx="524.8" cy="1071.3"/>
<circle cx="497.8" cy="1003.0"/>
<circle cx="488.2" cy="1160.7"/>
<circle cx="511.9" cy="1093.2"/>
<circle cx="492.9" cy="1120.6"/>
<circle cx="495.5" cy="1052.3"/>
<circle cx="520.5" cy="1121.7"/>
<circle cx="494.9" cy="1068.4"/>
<circle cx="491.8" cy="1161.7"/>
<circle cx="491.9" cy="1127.7"/>
<circle cx="490.8" cy="1195.0"/>
<circle cx="491.0" cy="1172.1"/>
<circle cx="493.9" cy="1139.8"/>
<circle cx="494.8" cy="1191.0"/>
<circle cx="490.0" cy="1167.7"/>
<circle cx="499.6" cy="1173.0"/>
<circle cx="488.9" cy="1160.5"/>
<circle cx="491.7" cy="1148.1"/>
<circle cx="504.5" cy="850.7"/>
<circle cx="491.4" cy="1171.2"/>
<circle cx="486.7" cy="1168.0"/>
<circle cx="492.5" cy="1050.7"/>
<circle cx="510.4" cy="1085.5"/>
<circle cx="486.7" cy="1199.6"/>
<circle cx="506.1" cy="1053.6"/>
<circle cx="490.2" cy="1162.2"/>
<circle cx="493.9" cy="1192.0"/>
<circle cx="552.4" cy="1097.6"/>
<circle cx="497.9" cy="1064.0"/>
<circle cx="497.9" cy="1162.3"/>
<circle cx="494.2" cy="1132.2"/>
<circle cx="495.3" cy="1141.0"/>
<circle cx="509.6" cy="951.4"/>
<circle cx="496.6" cy="1169.0"/>
<circle cx="490.4" cy="1110.0"/>
<circle cx="518.4" cy="875.8"/>
<circle cx="500.0" cy="1140.6"/>
<circle cx="490.7" cy="1170.1"/>
<circle cx="487.0" cy="1152.5"/>
<circle cx="503.0" cy="1000.4"/>
<circle cx="488.1" cy="1164.6"/>
<circle cx="501.3" cy="1159.6"/>
<circle cx="497.9" cy="1144.0"/>
<circle cx="484.4" cy="1181.6"/>
<circle cx="487.8" cy="1196.3"/>
<circle cx="511.3" cy="1162.2"/>
<circle cx="487.0" cy="1193.0"/>
<circle cx="489.3" cy="1153.3"/>
<circle cx="505.1" cy="1156.1"/>
<circle cx="508.9" cy="1139.6"/>
<circle cx="505.1" cy="1173.1"/>
<circle cx="502.8" cy="1130.5"/>
<circle cx="490.0" cy="1107.3"/>
<circle cx="496.5" cy="1061.6"/>
<circle cx="489.3" cy="1134.3"/>
<circle cx="507.2" cy="1091.0"/>
<circle cx="494.8" cy="1152.2"/>
<circle cx="507.4" cy="1160.3"/>
<circle cx="499.0" cy="1099.2"/>
<circle cx="503.8" cy="1199.6"/>
<circle cx="495.5" cy="1100.5"/>
<circle cx="501.4" cy="1088.4"/>
<circle cx="521.3" cy="1156.7"/>
<circle cx="493.1" cy="1157.2"/>
<circle cx="486.9" cy="1161.8"/>
<circle cx="498.0" cy="1017.0"/>
<circle cx="494.1" cy="1155.6"/>
<circle cx="494.2" cy="1020.2"/>
<circle cx="499.1" cy="1115.4"/>
<circle cx="494.3" cy="1169.4"/>
<circle cx="503.1" cy="1025.6"/>
<circle cx="491.2" cy="1009.8"/>
<circle cx="505.8" cy="1189.2"/>
<circle cx="520.4" cy="1047.1"/>
<circle cx="495.1" cy="1135.6"/>
<circle cx="486.4" cy="1179.8"/>
<circle cx="498.1" cy="963.5"/>
<circle cx="507.6" cy="1023.7"/>
<circle cx="492.4" cy="1181.8"/>
<circle cx="495.9" cy="1118.6"/>
<circle cx="500.4" cy="1138.0"/>
<circle cx="535.7" cy="1103.6"/>
<circle cx="488.0" cy="1189.5"/>
<circle cx="494.5" cy="1009.7"/>
<circle cx="504.4" cy="1109.6"/>
<circle cx="499.7" cy="1165.5"/>
<circle cx="512.3" cy="1113.8"/>
<circle cx="502.6" cy="1159.5"/>
<circle cx="503.1" cy="969.8"/>
<circle cx="491.6" cy="983.5"/>
<circle cx="488.9" cy="1185.1"/>
<circle cx="494.3" cy="1181.3"/>
<circle cx="486.0" cy="1165.4"/>
<circle cx="497.0" cy="1183.0"/>
<circle cx="498.5" cy="1078.1"/>
<circle cx="503.5" cy="1122.1"/>
<circle cx="516.5" cy="974.3"/>
<circle cx="492.8" cy="1114.4"/>
<circle cx="493.3" cy="1181.4"/>
<circle cx="511.7" cy="1169.0"/>
<circle cx="517.5" cy="969.4"/>
<circle cx="533.5" cy="893.8"/>
<circle cx="489.4" cy="1194.3"/>
<circle cx="491.8" cy="1121.5"/>
<circle cx="491.5" cy="1023.5"/>
<circle cx="493.1" cy="1127.0"/>
<circle cx="497.9" cy="1107.7"/>
<circle cx="494.1" cy="1183.9"/>
<circle cx="493.6" cy="1106.7"/>
<circle cx="490.1" cy="1142.8"/>
<circle cx="493.1" cy="1195.7"/>
<circle cx="492.2" cy="1178.2"/>
<circle cx="490.2" cy="988.1"/>
<circle cx="503.1" cy="995.8"/>
<circle cx="487.6" cy="1085.0"/>
<circle cx="508.3" cy="1167.3"/>
<circle cx="501.9" cy="1096.2"/>
<circle cx="520.0" cy="934.6"/>
<circle cx="497.1" cy="1128.8"/>
<circle cx="487.4" cy="1195.3"/>
<circle cx="498.4" cy="1024.3"/>
<circle cx="492.8" cy="1141.3"/>
<circle cx="490.7" cy="1097.2"/>
<circle cx="507.4" cy="1073.8"/>
<circle cx="488.4" cy="1152.4"/>
<circle cx="499.2" cy="1167.0"/>
<circle cx="507.7" cy="1119.3"/>
<circle cx="506.4" cy="1077.2"/>
<circle cx="487.2" cy="1123.5"/>
<circle cx="571.9" cy="884.1"/>
<circle cx="498.5" cy="1123.9"/>
<circle cx="487.0" cy="1169.6"/>
<circle cx="500.4" cy="1172.6"/>
<circle cx="487.8" cy="1187.4"/>
<circle cx="490.9" cy="1129.9"/>
<circle cx="498.1" cy="989.5"/>
<circle cx="489.8" cy="1163.6"/>
<circle cx="492.6" cy="1168.5"/>
<circle cx="506.1" cy="1093.4"/>
<circle cx="545.3" cy="1194.4"/>
<circle cx="495.8" cy="1131.5"/>
<circle cx="501.6" cy="1189.2"/>
<circle cx="491.4" cy="1090.9"/>
<circle cx="499.0" cy="1196.7"/>
<circle cx="486.2" cy="1156.3"/>
<circle cx="503.6" cy="1020.3"/>
<circle cx="512.7" cy="1179.8"/>
<circle cx="494.5" cy="1169.9"/>
<circle cx="490.7" cy="1191.5"/>
<circle cx="502.0" cy="1177.0"/>
<circle cx="486.3" cy="1179.8"/>
<circle cx="494.5" cy="1195.7"/>
<circle cx="486.7" cy="1168.6"/>
<circle cx="525.2" cy="1182.5"/>
<circle cx="485.3" cy="1183.2"/>
<circle cx="495.7" cy="915.9"/>
<circle cx="527.5" cy="837.9"/>
<circle cx="545.9" cy="849.0"/>
<circle cx="495.7" cy="1178.5"/>
<circle cx="491.9" cy="1171.7"/>
<circle cx="496.2" cy="1189.9"/>
<circle cx="493.4" cy="1151.6"/>
<circle cx="496.8" cy="1121.1"/>
<circle cx="510.6" cy="1027.3"/>
<circle cx="493.7" cy="1085.1"/>
<circle cx="505.7" cy="1157.0"/>
<circle cx="492.7" cy="1106.9"/>
<circle cx="510.1" cy="848.3"/>
<circle cx="493.4" cy="1048.0"/>
<circle cx="491.1" cy="1159.8"/>
<circle cx="511.1" cy="1126.8"/>
<circle cx="487.6" cy="1164.2"/>
<circle cx="509.1" cy="1159.0"/>
<circle cx="491.0" cy="1163.3"/>
<circle cx="504.7" cy="1133.3"/>
<circle cx="496.2" cy="1142.3"/>
<circle cx="493.3" cy="1029.1"/>
<circle cx="489.5" cy="1195.0"/>
<circle cx="488.1" cy="1166.7"/>
<circle cx="553.3" cy="1139.1"/>
<circle cx="509.2" cy="1108.8"/>
<circle cx="491.7" cy="1170.6"/>
<circle cx="487.4" cy="1125.4"/>
<circle cx="495.7" cy="1003.3"/>
<circle cx="493.1" cy="1182.8"/>
<circle cx="490.7" cy="1170.8"/>
<circle cx="494.5" cy="1198.1"/>
<circle cx="494.3" cy="1148.0"/>
<circle cx="487.7" cy="1120.2"/>
<circle cx="488.1" cy="1111.0"/>
<circle cx="489.0" cy="1171.8"/>
<circle cx="487.2" cy="1125.3"/>
<circle cx="512.2" cy="1108.2"/>
<circle cx="492.5" cy="1140.6"/>
<circle cx="501.4" cy="1105.9"/>
<circle cx="493.3" cy="1044.2"/>
<circle cx="494.1" cy="1178.5"/>
<circle cx="508.0" cy="1024.3"/>
<circle cx="505.9" cy="1195.4"/>
<circle cx="491.5" cy="1180.7"/>
<circle cx="515.4" cy="1059.2"/>
<circle cx="509.7" cy="1197.5"/>
<circle cx="498.8" cy="1128.5"/>
<circle cx="503.7" cy="1129.6"/>
<circle cx="492.4" cy="1003.3"/>
<circle cx="519.7" cy="1018.6"/>
<circle cx="521.3" cy="1088.8"/>
<circle cx="500.2" cy="1097.9"/>
<circle cx="499.4" cy="1102.3"/>
<circle cx="507.8" cy="1043.1"/>
<circle cx="498.6" cy="1167.1"/>
<circle cx="485.7" cy="1195.6"/>
<circle cx="492.7" cy="1076.8"/>
<circle cx="501.5" cy="1198.5"/>
<circle cx="488.4" cy="1177.0"/>
<circle cx="496.2" cy="1147.7"/>
<circle cx="500.8" cy="1121.7"/>
<circle cx="492.5" cy="1169.8"/>
<circle cx="486.8" cy="1196.2"/>
<circle cx="492.6" cy="1192.7"/>
<circle cx="489.2" cy="1163.7"/>
<circle cx="486.3" cy="1191.9"/>
<circle cx="521.0" cy="1060.8"/>
<circle cx="500.7" cy="964.1"/>
<circle cx="495.0" cy="1165.2"/>
<circle cx="500.9" cy="1162.8"/>
<circle cx="501.6" cy="1114.4"/>
<circle cx="505.3" cy="1138.9"/>
<circle cx="507.5" cy="1092.8"/>
<circle cx="492.8" cy="1108.7"/>
<circle cx="567.6" cy="986.5"/>
<circle cx="508.1" cy="955.6"/>
<circle cx="506.8" cy="1174.2"/>
<circle cx="498.3" cy="1037.2"/>
<circle cx="489.5" cy="1172.0"/>
<circle cx="497.6" cy="1134.6"/>
<circle cx="501.7" cy="1067.6"/>
<circle cx="512.0" cy="1105.3"/>
<circle cx="491.5" cy="1130.6"/>
<circle cx="528.2" cy="1053.7"/>
<circle cx="495.2" cy="1185.3"/>
<circle cx="528.2" cy="1020.2"/>
<circle cx="487.5" cy="1165.4"/>
<circle cx="495.9" cy="1131.2"/>
<circle cx="504.1" cy="1161.9"/>
<circle cx="493.3" cy="921.0"/>
<circle cx="486.4" cy="1189.1"/>
<circle cx="491.5" cy="1114.8"/>
<circle cx="518.8" cy="1157.2"/>
<circle cx="498.8" cy="1123.7"/>
<circle cx="484.5" cy="1146.5"/>
<circle cx="496.8" cy="1063.2"/>
<circle cx="488.2" cy="1116.8"/>
<circle cx="505.6" cy="944.8"/>
<circle cx="496.9" cy="1161.1"/>
<circle cx="503.8" cy="1096.6"/>
<circle cx="487.3" cy="1111.2"/>
<circle cx="488.8" cy="1196.7"/>
<circle cx="487.7" cy="1157.1"/>
<circle cx="488.7" cy="1127.2"/>
<circle cx="504.6" cy="1132.2"/>
<circle cx="487.0" cy="1156.8"/>
<circle cx="493.3" cy="1158.3"/>
<circle cx="490.9" cy="1171.1"/>
<circle cx="486.6" cy="1176.8"/>
<circle cx="515.7" cy="1084.3"/>
<circle cx="505.5" cy="1152.4"/>
<circle cx="494.1" cy="1128.3"/>
<circle cx="500.7" cy="1112.4"/>
<circle cx="494.7" cy="1123.9"/>
<circle cx="505.6" cy="1115.1"/>
<circle cx="492.1" cy="1185.9"/>
<circle cx="496.4" cy="997.3"/>
<circle cx="485.8" cy="1198.0"/>
<circle cx="494.3" cy="1116.1"/>
<circle cx="495.6" cy="1106.2"/>
<circle cx="512.7" cy="1059.5"/>
<circle cx="485.5" cy="1180.4"/>
<circle cx="510.5" cy="1110.7"/>
<circle cx="489.8" cy="1122.2"/>
<circle cx="488.6" cy="1173.7"/>
<circle cx="493.8" cy="1107.7"/>
<circle cx="499.9" cy="1082.1"/>
<circle cx="486.2" cy="1187.7"/>
<circle cx="527.2" cy="1177.4"/>
<circle cx="510.6" cy="1071.7"/>
<circle cx="493.2" cy="984.8"/>
<circle cx="524.4" cy="1116.2"/>
<circle cx="491.3" cy="1150.7"/>
<circle cx="493.5" cy="1166.6"/>
<circle cx="491.3" cy="1193.7"/>
<circle cx="496.5" cy="1086.6"/>
<circle cx="492.4" cy="1167.2"/>
<circle cx="502.3" cy="1018.7"/>
<circle cx="492.4" cy="1187.8"/>
<circle cx="490.2" cy="1188.7"/>
<circle cx="493.8" cy="1124.5"/>
<circle cx="505.7" cy="1166.2"/>
<circle cx="496.3" cy="1156.8"/>
<circle cx="496.5" cy="1188.1"/>
<circle cx="504.2" cy="1192.3"/>
<circle cx="488.7" cy="1097.4"/>
<circle cx="490.0" cy="1195.7"/>
<circle cx="490.7" cy="1174.7"/>
<circle cx="486.8" cy="1191.8"/>
<circle cx="520.6" cy="1063.8"/>
<circle cx="497.0" cy="1013.6"/>
<circle cx="494.0" cy="1171.2"/>
<circle cx="496.8" cy="1165.6"/>
<circle cx="520.7" cy="1005.3"/>
<circle cx="510.1" cy="1161.2"/>
<circle cx="488.9" cy="1196.8"/>
<circle cx="505.9" cy="1110.5"/>
<circle cx="492.3" cy="1093.6"/>
<circle cx="498.1" cy="1157.6"/>
<circle cx="504.6" cy="1003.9"/>
<circle cx="521.0" cy="1110.1"/>
<circle cx="489.6" cy="1194.1"/>
<circle cx="490.4" cy="1154.2"/>
<circle cx="487.3" cy="1197.8"/>
<circle cx="492.8" cy="1100.2"/>
<circle cx="499.9" cy="1166.6"/>
<circle cx="539.5" cy="936.1"/>
<circle cx="490.1" cy="1142.6"/>
<circle cx="496.5" cy="1184.3"/>
<circle cx="508.1" cy="929.1"/>
<circle cx="487.5" cy="1177.4"/>
<circle cx="495.8" cy="1125.8"/>
<circle cx="496.3" cy="1194.9"/>
<circle cx="492.8" cy="1192.4"/>
<circle cx="499.7" cy="1193.4"/>
<circle cx="488.7" cy="1171.7"/>
<circle cx="526.4" cy="1140.8"/>
<circle cx="519.8" cy="932.0"/>
<circle cx="487.9" cy="1124.9"/>
<circle cx="504.4" cy="1173.8"/>
<circle cx="493.8" cy="1177.4"/>
<circle cx="490.5" cy="1162.4"/>
<circle cx="493.5" cy="1184.8"/>
<circle cx="504.1" cy="1148.6"/>
<circle cx="502.2" cy="1170.5"/>
<circle cx="486.1" cy="1167.4"/>
<circle cx="523.1" cy="1117.3"/>
<circle cx="499.2" cy="1158.0"/>
<circle cx="489.4" cy="1073.7"/>
<circle cx="489.9" cy="1199.5"/>
<circle cx="493.6" cy="1194.4"/>
<circle cx="484.4" cy="1193.1"/>
<circle cx="507.2" cy="1105.9"/>
<circle cx="499.1" cy="1110.2"/>
<circle cx="520.3" cy="1025.3"/>
<circle cx="524.0" cy="1191.1"/>
<circle cx="491.0" cy="1116.6"/>
<circle cx="536.1" cy="1128.4"/>
<circle cx="498.4" cy="1155.0"/>
<circle cx="496.7" cy="1154.7"/>
<circle cx="508.7" cy="1168.3"/>
<circle cx="527.0" cy="1025.6"/>
<circle cx="488.2" cy="1161.5"/>
<circle cx="500.7" cy="1080.7"/>
<circle cx="484.5" cy="1198.5"/>
<circle cx="501.8" cy="1141.9"/>
<circle cx="501.4" cy="1164.6"/>
<circle cx="497.6" cy="1185.7"/>
<circle cx="512.3" cy="923.1"/>
<circle cx="488.7" cy="1193.2"/>
<circle cx="498.7" cy="1089.6"/>
<circle cx="488.2" cy="1146.6"/>
<circle cx="492.8" cy="1098.8"/>
<circle cx="490.4" cy="1193.3"/>
<circle cx="494.3" cy="1164.4"/>
<circle cx="522.8" cy="1079.8"/>
<circle cx="507.2" cy="1137.6"/>
<circle cx="488.8" cy="1136.7"/>
<circle cx="495.9" cy="1197.5"/>
<circle cx="487.8" cy="1138.4"/>
<circle cx="513.5" cy="1125.2"/>
<circle cx="503.1" cy="1061.2"/>
<circle cx="496.7" cy="1041.7"/>
<circle cx="492.4" cy="1178.6"/>
<circle cx="491.4" cy="1102.1"/>
<circle cx="493.7" cy="1173.8"/>
<circle cx="487.0" cy="1176.0"/>
<circle cx="489.3" cy="1134.6"/>
<circle cx="495.6" cy="1052.5"/>
<circle cx="505.8" cy="1151.2"/>
<circle cx="515.6" cy="1041.5"/>
<circle cx="499.0" cy="973.9"/>
<circle cx="490.8" cy="1192.0"/>
<circle cx="501.0" cy="1149.5"/>
<circle cx="496.4" cy="1175.0"/>
<circle cx="504.8" cy="1181.4"/>
<circle cx="512.9" cy="1095.8"/>
<circle cx="498.4" cy="1178.2"/>
<circle cx="521.5" cy="1035.9"/>
<circle cx="508.3" cy="997.6"/>
<circle cx="489.6" cy="1122.9"/>
<circle cx="489.7" cy="1145.3"/>
<circle cx="509.7" cy="1174.7"/>
<circle cx="502.2" cy="1142.1"/>
<circle cx="494.4" cy="1169.7"/>
<circle cx="501.0" cy="1022.0"/>
<circle cx="518.4" cy="1167.2"/>
<circle cx="487.6" cy="1185.4"/>
<circle cx="501.8" cy="1169.4"/>
<circle cx="505.4" cy="971.3"/>
<circle cx="495.9" cy="1185.7"/>
<circle cx="504.8" cy="1168.3"/>
<circle cx="497.7" cy="891.3"/>
<circle cx="485.4" cy="1195.5"/>
<circle cx="494.5" cy="1176.7"/>
<circle cx="492.8" cy="1103.5"/>
<circle cx="490.2" cy="1117.1"/>
<circle cx="491.8" cy="1006.1"/>
<circle cx="488.2" cy="1167.2"/>
<circle cx="491.8" cy="1181.5"/>
<circle cx="502.6" cy="1147.8"/>
<circle cx="498.1" cy="1192.6"/>
<circle cx="532.9" cy="1035.2"/>
<circle cx="497.9" cy="1086.6"/>
<circle cx="492.0" cy="1182.2"/>
<circle cx="507.8" cy="1113.0"/>
<circle cx="498.9" cy="1158.9"/>
<circle cx="496.7" cy="1096.4"/>
<circle cx="501.1" cy="1163.2"/>
<circle cx="489.7" cy="1029.5"/>
<circle cx="521.0" cy="926.3"/>
<circle cx="508.0" cy="1032.1"/>
<circle cx="511.9" cy="1154.9"/>
<circle cx="490.8" cy="1194.3"/>
<circle cx="485.7" cy="1172.0"/>
<circle cx="490.2" cy="1148.3"/>
<circle cx="498.5" cy="1139.6"/>
<circle cx="512.5" cy="1038.1"/>
<circle cx="499.0" cy="1093.4"/>
<circle cx="492.8" cy="1137.5"/>
<circle cx="507.6" cy="1040.8"/>
<circle cx="504.1" cy="1197.8"/>
<circle cx="510.2" cy="1155.7"/>
<circle cx="491.0" cy="1147.8"/>
<circle cx="485.1" cy="1150.2"/>
<circle cx="496.7" cy="1087.0"/>
<circle cx="485.8" cy="1198.0"/>
<circle cx="502.6" cy="950.7"/>
<circle cx="499.6" cy="1110.4"/>
<circle cx="485.8" cy="1189.2"/>
<circle cx="494.4" cy="1160.6"/>
<circle cx="495.5" cy="1139.8"/>
<circle cx="514.1" cy="991.1"/>
<circle cx="505.1" cy="1129.2"/>
<circle cx="528.4" cy="1130.1"/>
<circle cx="491.7" cy="1112.6"/>
<circle cx="484.4" cy="1165.6"/>
<circle cx="503.4" cy="1078.7"/>
<circle cx="504.4" cy="1132.0"/>
<circle cx="486.5" cy="1196.7"/>
<circle cx="485.7" cy="1195.7"/>
<circle cx="486.2" cy="1189.2"/>
<circle cx="511.8" cy="1198.5"/>
<circle cx="506.2" cy="1080.1"/>
<circle cx="490.6" cy="1145.1"/>
<circle cx="522.3" cy="1028.9"/>
<circle cx="485.7" cy="1185.9"/>
<circle cx="512.6" cy="1030.9"/>
<circle cx="515.5" cy="904.0"/>
<circle cx="490.7" cy="1192.2"/>
<circle cx="484.2" cy="1161.9"/>
<circle cx="520.4" cy="1092.7"/>
<circle cx="500.0" cy="1167.8"/>
<circle cx="495.9" cy="1168.2"/>
<circle cx="500.6" cy="1112.4"/>
<circle cx="499.4" cy="1116.8"/>
<circle cx="491.4" cy="1128.8"/>
<circle cx="492.2" cy="1076.1"/>
<circle cx="499.4" cy="1186.0"/>
<circle cx="486.4" cy="1185.7"/>
<circle cx="500.3" cy="1167.3"/>
<circle cx="504.4" cy="1046.7"/>
<circle cx="495.2" cy="1078.0"/>
<circle cx="500.2" cy="1051.8"/>
<circle cx="486.4" cy="1165.4"/>
<circle cx="524.4" cy="1174.1"/>
<circle cx="500.6" cy="916.0"/>
<circle cx="497.0" cy="1196.7"/>
<circle cx="505.4" cy="1126.8"/>
<circle cx="489.4" cy="1056.9"/>
<circle cx="500.5" cy="1097.4"/>
<circle cx="504.1" cy="1135.2"/>
<circle cx="515.3" cy="1053.8"/>
<circle cx="499.1" cy="1094.6"/>
<circle cx="499.4" cy="1156.0"/>
<circle cx="499.0" cy="1097.2"/>
<circle cx="485.9" cy="1173.0"/>
<circle cx="493.7" cy="1129.8"/>
<circle cx="487.8" cy="1188.7"/>
<circle cx="523.2" cy="1021.9"/>
<circle cx="490.3" cy="1176.4"/>
<circle cx="506.9" cy="1185.1"/>
<circle cx="497.6" cy="1197.9"/>
<circle cx="505.7" cy="1046.6"/>
<circle cx="503.8" cy="1145.1"/>
<circle cx="488.6" cy="1150.5"/>
<circle cx="498.1" cy="1175.1"/>
<circle cx="501.4" cy="1162.7"/>
<circle cx="504.9" cy="1167.3"/>
<circle cx="486.7" cy="1150.4"/>
<circle cx="496.1" cy="1173.3"/>
<circle cx="490.3" cy="1186.2"/>
<circle cx="492.1" cy="1182.9"/>
<circle cx="501.0" cy="1180.1"/>
<circle cx="507.1" cy="1131.0"/>
<circle cx="507.9" cy="1063.9"/>
<circle cx="507.0" cy="1043.3"/>
<circle cx="493.4" cy="1186.0"/>
<circle cx="490.4" cy="1187.6"/>
<circle cx="489.8" cy="1097.0"/>
<circle cx="495.2" cy="1072.2"/>
<circle cx="499.9" cy="1156.7"/>
<circle cx="507.2" cy="1131.8"/>
<circle cx="503.9" cy="1068.3"/>
<circle cx="487.4" cy="1164.3"/>
<circle cx="503.5" cy="942.3"/>
<circle cx="488.3" cy="1164.0"/>
<circle cx="497.6" cy="975.1"/>
<circle cx="505.2" cy="1151.1"/>
<circle cx="502.8" cy="1120.0"/>
<circle cx="493.1" cy="1187.0"/>
<circle cx="499.8" cy="1182.2"/>
<circle cx="498.1" cy="1189.5"/>
<circle cx="498.8" cy="999.9"/>
<circle cx="501.9" cy="1046.1"/>
<circle cx="509.2" cy="1159.7"/>
<circle cx="492.9" cy="1055.0"/>
<circle cx="526.4" cy="1158.7"/>
<circle cx="492.0" cy="1038.4"/>
<circle cx="490.7" cy="1180.9"/>
<circle cx="497.9" cy="992.4"/>
<circle cx="504.7" cy="1120.7"/>
<circle cx="492.0" cy="1194.5"/>
<circle cx="510.9" cy="1147.7"/>
<circle cx="487.5" cy="1177.1"/>
<circle cx="489.3" cy="1120.8"/>
<circle cx="492.1" cy="1111.5"/>
<circle cx="500.9" cy="1128.0"/>
<circle cx="507.9" cy="1172.1"/>
<circle cx="491.9" cy="1196.4"/>
<circle cx="490.0" cy="1195.1"/>
<circle cx="505.5" cy="1054.4"/>
<circle cx="495.9" cy="1188.2"/>
<circle cx="497.1" cy="1183.5"/>
<circle cx="486.3" cy="1197.7"/>
<circle cx="492.4" cy="989.4"/>
<circle cx="489.6" cy="1196.3"/>
<circle cx="491.8" cy="1147.7"/>
<circle cx="406.4" cy="1115.5"/>
<circle cx="454.4" cy="1120.6"/>
<circle cx="447.6" cy="1104.8"/>
<circle cx="456.1" cy="1190.1"/>
<circle cx="443.0" cy="1190.1"/>
<circle cx="456.7" cy="1189.4"/>
<circle cx="447.5" cy="1159.5"/>
<circle cx="448.9" cy="1148.9"/>
<circle cx="443.1" cy="1186.4"/>
<circle cx="433.1" cy="1164.7"/>
<circle cx="450.9" cy="1133.8"/>
<circle cx="438.1" cy="1104.2"/>
<circle cx="451.7" cy="1110.1"/>
<circle cx="454.3" cy="1151.0"/>
<circle cx="439.6" cy="1195.3"/>
<circle cx="420.5" cy="1137.7"/>
<circle cx="448.7" cy="1187.3"/>
<circle cx="435.3" cy="1125.5"/>
<circle cx="436.7" cy="1058.5"/>
<circle cx="434.1" cy="1094.3"/>
<circle cx="453.0" cy="1180.2"/>
<circle cx="432.7" cy="1145.6"/>
<circle cx="456.4" cy="1189.0"/>
<circle cx="416.8" cy="1094.0"/>
<circle cx="451.6" cy="1112.7"/>
<circle cx="430.3" cy="1182.8"/>
<circle cx="455.8" cy="1136.0"/>
<circle cx="453.6" cy="1156.1"/>
<circle cx="447.1" cy="1173.4"/>
<circle cx="437.6" cy="1018.3"/>
<circle cx="439.0" cy="1125.7"/>
<circle cx="431.7" cy="1193.2"/>
<circle cx="451.7" cy="1184.0"/>
<circle cx="457.5" cy="1199.5"/>
<circle cx="447.5" cy="1182.8"/>
<circle cx="408.7" cy="1031.8"/>
<circle cx="452.6" cy="1146.2"/>
<circle cx="457.0" cy="1172.6"/>
<circle cx="431.7" cy="1168.7"/>
<circle cx="425.0" cy="1155.7"/>
<circle cx="428.0" cy="1093.4"/>
<circle cx="424.5" cy="1157.7"/>
<circle cx="443.6" cy="1119.8"/>
<circle cx="438.1" cy="956.6"/>
<circle cx="450.5" cy="1145.3"/>
<circle cx="435.2" cy="1187.0"/>
<circle cx="423.2" cy="1082.7"/>
<circle cx="445.5" cy="1166.2"/>
<circle cx="453.1" cy="1133.7"/>
<circle cx="437.7" cy="1123.9"/>
<circle cx="453.9" cy="1174.8"/>
<circle cx="435.4" cy="1130.3"/>
<circle cx="436.4" cy="1179.3"/>
<circle cx="427.0" cy="1098.5"/>
<circle cx="448.4" cy="1153.3"/>
<circle cx="452.7" cy="1194.5"/>
<circle cx="414.0" cy="1073.9"/>
<circle cx="437.4" cy="1116.9"/>
<circle cx="432.5" cy="1166.0"/>
<circle cx="437.8" cy="1180.8"/>
<circle cx="451.8" cy="1194.1"/>
<circle cx="448.2" cy="1198.9"/>
<circle cx="452.4" cy="1164.2"/>
<circle cx="411.8" cy="1101.7"/>
<circle cx="448.8" cy="1180.1"/>
<circle cx="435.7" cy="1197.7"/>
<circle cx="441.5" cy="1168.0"/>
<circle cx="444.1" cy="1182.2"/>
<circle cx="449.7" cy="1172.5"/>
<circle cx="451.8" cy="1168.6"/>
<circle cx="448.6" cy="1193.7"/>
<circle cx="435.9" cy="1109.6"/>
<circle cx="453.7" cy="1158.5"/>
<circle cx="442.3" cy="1177.2"/>
<circle cx="430.4" cy="1196.3"/>
<circle cx="426.8" cy="1164.0"/>
<circle cx="438.1" cy="1139.0"/>
<circle cx="431.0" cy="1174.3"/>
<circle cx="426.1" cy="1194.8"/>
<circle cx="455.2" cy="1197.0"/>
<circle cx="441.3" cy="1118.7"/>
<circle cx="434.2" cy="1115.6"/>
<circle cx="444.5" cy="1199.4"/>
<circle cx="457.4" cy="1183.6"/>
<circle cx="447.1" cy="1198.5"/>
<circle cx="448.0" cy="1189.9"/>
<circle cx="441.5" cy="1194.4"/>
<circle cx="446.3" cy="995.3"/>
<circle cx="452.5" cy="1170.6"/>
<circle cx="454.5" cy="1152.7"/>
<circle cx="452.6" cy="1070.7"/>
<circle cx="433.7" cy="1116.9"/>
<circle cx="433.7" cy="1184.7"/>
<circle cx="438.6" cy="1054.7"/>
<circle cx="445.0" cy="1186.6"/>
<circle cx="435.9" cy="1194.1"/>
<circle cx="449.6" cy="1126.5"/>
<circle cx="443.0" cy="1092.2"/>
<circle cx="425.1" cy="1043.0"/>
<circle cx="427.9" cy="1177.3"/>
<circle cx="454.0" cy="1155.9"/>
<circle cx="455.5" cy="1150.8"/>
<circle cx="457.0" cy="1155.8"/>
<circle cx="456.7" cy="1194.5"/>
<circle cx="437.9" cy="1146.2"/>
<circle cx="439.1" cy="1195.8"/>
<circle cx="426.6" cy="1130.9"/>
<circle cx="442.5" cy="1158.9"/>
<circle cx="452.3" cy="1197.4"/>
<circle cx="433.7" cy="1153.5"/>
<circle cx="438.4" cy="1182.8"/>
<circle cx="455.6" cy="1173.1"/>
<circle cx="450.2" cy="1114.6"/>
<circle cx="432.3" cy="1133.6"/>
<circle cx="454.1" cy="1184.1"/>
<circle cx="458.1" cy="1171.7"/>
<circle cx="437.0" cy="1174.1"/>
<circle cx="447.9" cy="1199.0"/>
<circle cx="453.7" cy="1089.5"/>
<circle cx="448.2" cy="1162.5"/>
<circle cx="419.4" cy="1057.8"/>
<circle cx="442.0" cy="1174.9"/>
<circle cx="443.4" cy="1192.5"/>
<circle cx="408.6" cy="1148.8"/>
<circle cx="441.3" cy="1176.6"/>
<circle cx="453.6" cy="1134.3"/>
<circle cx="448.8" cy="1166.7"/>
<circle cx="453.9" cy="1176.2"/>
<circle cx="454.1" cy="1167.5"/>
<circle cx="456.3" cy="1196.6"/>
<circle cx="427.7" cy="1019.5"/>
<circle cx="446.5" cy="1185.7"/>
<circle cx="436.3" cy="1187.2"/>
<circle cx="451.5" cy="1139.9"/>
<circle cx="444.6" cy="1192.5"/>
<circle cx="445.7" cy="1148.5"/>
<circle cx="443.9" cy="1152.7"/>
<circle cx="444.5" cy="1169.6"/>
<circle cx="446.6" cy="1186.8"/>
<circle cx="456.9" cy="1196.4"/>
<circle cx="451.6" cy="1116.2"/>
<circle cx="411.4" cy="1155.3"/>
<circle cx="444.5" cy="1167.9"/>
<circle cx="452.2" cy="1157.0"/>
<circle cx="440.3" cy="1168.5"/>
<circle cx="415.6" cy="1115.1"/>
<circle cx="448.1" cy="1087.3"/>
<circle cx="422.1" cy="1074.2"/>
<circle cx="449.3" cy="1089.2"/>
<circle cx="450.7" cy="1115.4"/>
<circle cx="427.2" cy="1162.4"/>
<circle cx="409.0" cy="1058.9"/>
<circle cx="443.9" cy="1136.4"/>
<circle cx="434.0" cy="1187.1"/>
<circle cx="449.6" cy="1029.8"/>
<circle cx="450.1" cy="1154.0"/>
<circle cx="451.3" cy="1142.3"/>
<circle cx="422.0" cy="1184.4"/>
<circle cx="444.2" cy="1177.4"/>
<circle cx="433.1" cy="1130.5"/>
<circle cx="440.5" cy="1114.4"/>
<circle cx="439.9" cy="1115.8"/>
<circle cx="443.1" cy="1015.2"/>
<circle cx="435.3" cy="1162.4"/>
<circle cx="424.9" cy="1185.3"/>
<circle cx="454.6" cy="1154.5"/>
<circle cx="454.9" cy="1177.7"/>
<circle cx="452.5" cy="1177.0"/>
<circle cx="456.2" cy="1122.7"/>
<circle cx="446.9" cy="1178.0"/>
<circle cx="452.9" cy="1192.5"/>
<circle cx="441.5" cy="1131.3"/>
<circle cx="457.1" cy="1194.1"/>
<circle cx="436.5" cy="1193.0"/>
<circle cx="445.7" cy="1119.9"/>
<circle cx="458.6" cy="1188.1"/>
<circle cx="453.2" cy="1130.4"/>
<circle cx="435.2" cy="1197.3"/>
<circle cx="435.2" cy="996.6"/>
<circle cx="439.0" cy="1112.8"/>
<circle cx="440.0" cy="1077.7"/>
<circle cx="426.5" cy="1159.9"/>
<circle cx="450.9" cy="1183.5"/>
<circle cx="447.9" cy="1157.2"/>
<circle cx="427.8" cy="1019.8"/>
<circle cx="427.5" cy="1117.8"/>
<circle cx="411.1" cy="1179.6"/>
<circle cx="387.5" cy="1099.7"/>
<circle cx="448.2" cy="1198.2"/>
<circle cx="432.9" cy="1048.8"/>
<circle cx="430.9" cy="1189.1"/>
<circle cx="453.9" cy="1183.4"/>
<circle cx="438.7" cy="1118.0"/>
<circle cx="426.8" cy="1129.2"/>
<circle cx="438.8" cy="1194.9"/>
<circle cx="420.5" cy="1106.9"/>
<circle cx="417.1" cy="1111.3"/>
<circle cx="437.3" cy="1171.3"/>
<circle cx="421.3" cy="1085.1"/>
<circle cx="455.1" cy="1163.6"/>
<circle cx="443.5" cy="1104.5"/>
<circle cx="452.6" cy="1143.4"/>
<circle cx="449.8" cy="1198.5"/>
<circle cx="432.8" cy="1047.0"/>
<circle cx="419.5" cy="1157.0"/>
<circle cx="452.8" cy="1184.1"/>
<circle cx="450.3" cy="1131.9"/>
<circle cx="439.6" cy="1132.0"/>
<circle cx="456.9" cy="1198.4"/>
<circle cx="448.2" cy="1167.5"/>
<circle cx="426.0" cy="1157.1"/>
<circle cx="433.2" cy="1142.7"/>
<circle cx="417.7" cy="1103.5"/>
<circle cx="439.5" cy="1140.7"/>
<circle cx="448.9" cy="1185.0"/>
<circle cx="453.0" cy="1177.6"/>
<circle cx="448.9" cy="1171.7"/>
<circle cx="448.5" cy="1189.7"/>
<circle cx="451.0" cy="1175.8"/>
<circle cx="424.9" cy="966.7"/>
<circle cx="452.0" cy="1178.2"/>
<circle cx="442.1" cy="1154.2"/>
<circle cx="439.3" cy="1169.6"/>
<circle cx="423.6" cy="1160.4"/>
<circle cx="425.7" cy="1054.3"/>
<circle cx="424.3" cy="1121.3"/>
<circle cx="438.3" cy="1124.3"/>
<circle cx="440.5" cy="1092.0"/>
<circle cx="447.6" cy="1194.2"/>
<circle cx="422.8" cy="1164.7"/>
<circle cx="426.4" cy="1133.8"/>
<circle cx="453.0" cy="1150.5"/>
<circle cx="418.9" cy="1148.3"/>
<circle cx="456.2" cy="1155.9"/>
<circle cx="441.2" cy="1172.5"/>
<circle cx="434.7" cy="1187.8"/>
<circle cx="433.3" cy="1130.7"/>
<circle cx="413.0" cy="1050.0"/>
<circle cx="425.3" cy="1055.7"/>
<circle cx="428.4" cy="1061.5"/>
<circle cx="456.1" cy="1184.9"/>
<circle cx="438.0" cy="1198.3"/>
<circle cx="438.4" cy="1194.5"/>
<circle cx="438.0" cy="1137.8"/>
<circle cx="427.2" cy="1167.8"/>
<circle cx="426.9" cy="1034.8"/>
<circle cx="442.5" cy="1169.8"/>
<circle cx="444.2" cy="1027.4"/>
<circle cx="457.8" cy="1184.8"/>
<circle cx="452.4" cy="1167.5"/>
<circle cx="416.2" cy="1006.2"/>
<circle cx="438.2" cy="1155.8"/>
<circle cx="438.3" cy="1185.9"/>
<circle cx="408.7" cy="1155.3"/>
<circle cx="446.7" cy="1193.9"/>
<circle cx="439.8" cy="1189.1"/>
<circle cx="448.8" cy="1179.7"/>
<circle cx="453.2" cy="1179.6"/>
<circle cx="442.9" cy="1167.8"/>
<circle cx="458.8" cy="1194.6"/>
<circle cx="441.9" cy="1095.6"/>
<circle cx="448.2" cy="1171.3"/>
<circle cx="441.1" cy="1068.7"/>
<circle cx="446.8" cy="1196.3"/>
<circle cx="448.2" cy="1088.3"/>
<circle cx="441.4" cy="1181.3"/>
<circle cx="419.0" cy="1127.3"/>
<circle cx="408.7" cy="943.7"/>
<circle cx="435.3" cy="1188.0"/>
<circle cx="447.5" cy="1138.8"/>
<circle cx="454.6" cy="1145.2"/>
<circle cx="368.7" cy="1058.4"/>
<circle cx="448.6" cy="1181.0"/>
<circle cx="412.4" cy="925.2"/>
<circle cx="437.4" cy="1140.2"/>
<circle cx="443.2" cy="1100.2"/>
<circle cx="426.4" cy="1199.3"/>
<circle cx="454.9" cy="1184.4"/>
<circle cx="455.5" cy="1181.8"/>
<circle cx="448.0" cy="1066.5"/>
<circle cx="444.3" cy="958.1"/>
<circle cx="443.0" cy="1081.6"/>
<circle cx="456.2" cy="1191.0"/>
<circle cx="454.4" cy="1166.0"/>
<circle cx="452.6" cy="1107.4"/>
<circle cx="448.5" cy="1182.7"/>
<circle cx="445.8" cy="1170.9"/>
<circle cx="430.7" cy="1161.8"/>
<circle cx="380.6" cy="1097.0"/>
<circle cx="424.1" cy="1179.8"/>
<circle cx="452.9" cy="1155.9"/>
<circle cx="453.9" cy="1189.9"/>
<circle cx="442.7" cy="1162.9"/>
<circle cx="427.3" cy="1161.6"/>
<circle cx="421.7" cy="1174.0"/>
<circle cx="450.4" cy="1164.0"/>
<circle cx="443.1" cy="1192.4"/>
<circle cx="428.5" cy="1154.0"/>
<circle cx="452.2" cy="1170.9"/>
<circle cx="438.6" cy="1139.1"/>
<circle cx="425.2" cy="1120.5"/>
<circle cx="422.2" cy="1153.1"/>
<circle cx="422.3" cy="1044.9"/>
<circle cx="419.0" cy="1124.5"/>
<circle cx="437.0" cy="1063.6"/>
<circle cx="447.6" cy="1189.2"/>
<circle cx="442.4" cy="1192.7"/>
<circle cx="444.1" cy="1149.2"/>
<circle cx="446.8" cy="1101.7"/>
<circle cx="455.8" cy="1187.5"/>
<circle cx="425.8" cy="1134.0"/>
<circle cx="433.0" cy="1192.8"/>
<circle cx="450.0" cy="1154.8"/>
<circle cx="446.4" cy="1047.7"/>
<circle cx="433.5" cy="1176.3"/>
<circle cx="435.8" cy="1145.7"/>
<circle cx="457.1" cy="1190.9"/>
<circle cx="454.0" cy="1138.8"/>
<circle cx="431.7" cy="1108.3"/>
<circle cx="441.4" cy="1105.0"/>
<circle cx="436.2" cy="1073.7"/>
<circle cx="450.4" cy="1018.4"/>
<circle cx="428.0" cy="1161.6"/>
<circle cx="435.4" cy="1073.0"/>
<circle cx="438.5" cy="1151.6"/>
<circle cx="446.6" cy="1177.9"/>
<circle cx="454.5" cy="1120.4"/>
<circle cx="447.8" cy="1115.7"/>
<circle cx="441.2" cy="1161.5"/>
<circle cx="414.9" cy="1057.2"/>
<circle cx="435.4" cy="1090.6"/>
<circle cx="456.1" cy="1154.1"/>
<circle cx="419.8" cy="1100.2"/>
<circle cx="448.1" cy="1174.3"/>
<circle cx="429.6" cy="1156.1"/>
<circle cx="432.0" cy="1117.1"/>
<circle cx="434.2" cy="1055.4"/>
<circle cx="425.7" cy="1159.6"/>
<circle cx="426.5" cy="1195.5"/>
<circle cx="422.0" cy="1132.8"/>
<circle cx="438.5" cy="1147.7"/>
<circle cx="456.5" cy="1176.1"/>
<circle cx="450.2" cy="1159.5"/>
<circle cx="447.2" cy="1111.3"/>
<circle cx="443.5" cy="1150.9"/>
<circle cx="441.8" cy="962.3"/>
<circle cx="444.3" cy="1134.1"/>
<circle cx="447.4" cy="1138.8"/>
<circle cx="443.0" cy="1182.7"/>
<circle cx="446.7" cy="1197.6"/>
<circle cx="447.6" cy="1186.5"/>
<circle cx="418.6" cy="1081.9"/>
<circle cx="445.1" cy="1177.6"/>
<circle cx="447.0" cy="1101.5"/>
<circle cx="448.9" cy="1191.2"/>
<circle cx="439.0" cy="1181.8"/>
<circle cx="421.0" cy="1123.8"/>
<circle cx="454.4" cy="1171.0"/>
<circle cx="445.6" cy="1155.9"/>
<circle cx="449.8" cy="1186.4"/>
<circle cx="448.9" cy="1162.4"/>
<circle cx="436.5" cy="1133.5"/>
<circle cx="454.1" cy="1190.8"/>
<circle cx="447.8" cy="1197.8"/>
<circle cx="438.1" cy="1059.6"/>
<circle cx="407.1" cy="1093.4"/>
<circle cx="456.8" cy="1176.4"/>
<circle cx="452.8" cy="1139.0"/>
<circle cx="436.6" cy="1143.2"/>
<circle cx="448.9" cy="1188.3"/>
<circle cx="394.3" cy="1005.6"/>
<circle cx="429.4" cy="1158.1"/>
<circle cx="443.2" cy="1136.0"/>
<circle cx="445.9" cy="1175.3"/>
<circle cx="451.3" cy="1167.1"/>
<circle cx="446.6" cy="1182.8"/>
<circle cx="439.3" cy="1161.9"/>
<circle cx="444.5" cy="1156.8"/>
<circle cx="440.7" cy="1154.9"/>
<circle cx="423.7" cy="1055.9"/>
<circle cx="452.3" cy="1166.4"/>
<circle cx="419.5" cy="930.9"/>
<circle cx="417.7" cy="926.3"/>
<circle cx="427.8" cy="1170.4"/>
<circle cx="443.8" cy="1174.8"/>
<circle cx="413.3" cy="1158.8"/>
<circle cx="447.6" cy="1112.6"/>
<circle cx="411.8" cy="1145.2"/>
<circle cx="437.5" cy="1098.8"/>
<circle cx="413.8" cy="1175.6"/>
<circle cx="442.2" cy="1174.1"/>
<circle cx="455.1" cy="1182.0"/>
<circle cx="421.7" cy="1073.4"/>
<circle cx="448.6" cy="1148.3"/>
<circle cx="435.8" cy="1138.8"/>
<circle cx="447.7" cy="1151.0"/>
<circle cx="432.4" cy="1122.3"/>
<circle cx="443.1" cy="1139.7"/>
<circle cx="446.0" cy="1129.7"/>
<circle cx="384.0" cy="1011.8"/>
<circle cx="450.1" cy="1086.9"/>
<circle cx="427.6" cy="975.2"/>
<circle cx="448.6" cy="1167.1"/>
<circle cx="441.0" cy="1194.5"/>
<circle cx="450.9" cy="1101.6"/>
<circle cx="407.1" cy="1167.3"/>
<circle cx="432.2" cy="1035.6"/>
<circle cx="440.7" cy="1116.9"/>
<circle cx="442.1" cy="1132.4"/>
<circle cx="456.9" cy="1189.5"/>
<circle cx="436.9" cy="1091.8"/>
<circle cx="444.4" cy="1155.8"/>
<circle cx="436.5" cy="1184.3"/>
<circle cx="442.5" cy="967.5"/>
<circle cx="435.7" cy="1103.6"/>
<circle cx="425.0" cy="1164.4"/>
<circle cx="444.0" cy="1059.0"/>
<circle cx="436.1" cy="1094.9"/>
<circle cx="422.7" cy="1111.9"/>
<circle cx="430.1" cy="1193.0"/>
<circle cx="449.6" cy="1151.3"/>
<circle cx="446.9" cy="1167.9"/>
<circle cx="452.0" cy="1125.6"/>
<circle cx="442.9" cy="1169.6"/>
<circle cx="441.5" cy="1167.4"/>
<circle cx="435.5" cy="1186.8"/>
<circle cx="448.3" cy="1183.2"/>
<circle cx="443.1" cy="1195.3"/>
<circle cx="444.8" cy="1169.2"/>
<circle cx="436.2" cy="1151.6"/>
<circle cx="452.0" cy="1186.1"/>
<circle cx="449.0" cy="1187.9"/>
<circle cx="454.3" cy="1195.4"/>
<circle cx="435.2" cy="1104.2"/>
<circle cx="441.3" cy="1197.3"/>
<circle cx="449.7" cy="1157.8"/>
<circle cx="439.8" cy="978.5"/>
<circle cx="446.0" cy="1153.8"/>
<circle cx="456.4" cy="1178.2"/>
<circle cx="440.4" cy="1193.2"/>
<circle cx="440.2" cy="1133.0"/>
<circle cx="455.1" cy="1159.9"/>
<circle cx="431.6" cy="1154.4"/>
<circle cx="417.2" cy="1109.9"/>
<circle cx="451.8" cy="1158.2"/>
<circle cx="455.2" cy="1188.0"/>
<circle cx="455.2" cy="1174.2"/>
<circle cx="445.9" cy="1165.4"/>
<circle cx="446.0" cy="1067.6"/>
<circle cx="452.7" cy="1185.9"/>
<circle cx="438.3" cy="1166.2"/>
<circle cx="436.3" cy="1109.0"/>
<circle cx="451.8" cy="1167.6"/>
<circle cx="430.0" cy="1140.0"/>
<circle cx="452.3" cy="1150.0"/>
<circle cx="442.6" cy="1160.1"/>
<circle cx="447.9" cy="1177.9"/>
<circle cx="451.5" cy="1130.8"/>
<circle cx="416.6" cy="1148.0"/>
<circle cx="436.9" cy="1145.5"/>
<circle cx="434.5" cy="1188.1"/>
<circle cx="439.2" cy="1185.8"/>
<circle cx="444.6" cy="1197.8"/>
<circle cx="439.6" cy="1004.8"/>
<circle cx="437.6" cy="982.6"/>
<circle cx="446.1" cy="1177.5"/>
<circle cx="414.3" cy="1182.3"/>
<circle cx="448.6" cy="1173.3"/>
<circle cx="441.0" cy="1174.9"/>
<circle cx="438.2" cy="1179.6"/>
<circle cx="447.7" cy="1104.7"/>
<circle cx="447.5" cy="1186.9"/>
<circle cx="453.4" cy="1185.0"/>
<circle cx="442.0" cy="1132.4"/>
<circle cx="446.1" cy="1155.5"/>
<circle cx="457.3" cy="1196.0"/>
<circle cx="431.1" cy="1145.2"/>
<circle cx="419.5" cy="1092.4"/>
<circle cx="433.9" cy="1074.2"/>
<circle cx="427.7" cy="1165.9"/>
<circle cx="451.0" cy="1131.2"/>
<circle cx="440.2" cy="1104.1"/>
<circle cx="423.6" cy="1136.4"/>
<circle cx="433.0" cy="1167.9"/>
<circle cx="415.0" cy="1002.2"/>
<circle cx="453.2" cy="1132.9"/>
<circle cx="456.4" cy="1154.5"/>
<circle cx="417.6" cy="1071.3"/>
<circle cx="452.8" cy="1151.5"/>
<circle cx="452.1" cy="1187.7"/>
<circle cx="414.2" cy="1068.3"/>
<circle cx="451.7" cy="1163.7"/>
<circle cx="457.0" cy="1167.9"/>
<circle cx="433.6" cy="1087.7"/>
<circle cx="436.1" cy="1184.4"/>
<circle cx="447.3" cy="1195.2"/>
<circle cx="436.6" cy="1182.8"/>
<circle cx="448.0" cy="1147.4"/>
<circle cx="426.2" cy="1094.6"/>
<circle cx="416.9" cy="1183.4"/>
<circle cx="457.4" cy="1190.4"/>
<circle cx="438.9" cy="1090.8"/>
<circle cx="448.2" cy="1194.7"/>
<circle cx="442.9" cy="1118.3"/>
<circle cx="443.0" cy="1136.5"/>
<circle cx="422.8" cy="1045.2"/>
<circle cx="449.7" cy="1145.3"/>
<circle cx="417.1" cy="1189.4"/>
<circle cx="457.5" cy="1172.5"/>
<circle cx="438.0" cy="1151.7"/>
<circle cx="424.6" cy="1042.3"/>
<circle cx="346.1" cy="1065.5"/>
<circle cx="429.9" cy="1138.9"/>
<circle cx="387.9" cy="1058.2"/>
<circle cx="428.5" cy="1198.6"/>
<circle cx="456.6" cy="1158.9"/>
<circle cx="429.6" cy="1159.1"/>
<circle cx="455.2" cy="1199.2"/>
<circle cx="451.9" cy="1125.2"/>
<circle cx="454.3" cy="1121.7"/>
<circle cx="448.8" cy="1156.8"/>
<circle cx="453.1" cy="1182.8"/>
<circle cx="429.6" cy="1051.9"/>
<circle cx="446.2" cy="1174.7"/>
<circle cx="444.7" cy="1186.7"/>
<circle cx="441.9" cy="1167.8"/>
<circle cx="443.1" cy="1183.5"/>
<circle cx="449.3" cy="991.1"/>
<circle cx="439.6" cy="1157.7"/>
<circle cx="453.4" cy="1131.9"/>
<circle cx="423.0" cy="1011.7"/>
<circle cx="450.4" cy="1137.0"/>
<circle cx="437.1" cy="1189.6"/>
<circle cx="434.2" cy="1112.4"/>
<circle cx="455.8" cy="1191.3"/>
<circle cx="446.0" cy="1190.6"/>
<circle cx="453.9" cy="1172.7"/>
<circle cx="448.5" cy="1186.6"/>
<circle cx="434.8" cy="1167.2"/>
<circle cx="455.5" cy="1156.3"/>
<circle cx="428.1" cy="1091.7"/>
<circle cx="444.8" cy="1137.2"/>
<circle cx="401.5" cy="1075.5"/>
<circle cx="451.2" cy="1199.0"/>
<circle cx="449.8" cy="1132.4"/>
<circle cx="445.9" cy="1069.1"/>
<circle cx="442.2" cy="1192.6"/>
<circle cx="439.4" cy="1069.0"/>
<circle cx="449.9" cy="1137.6"/>
<circle cx="455.6" cy="1191.3"/>
<circle cx="451.7" cy="1139.7"/>
<circle cx="435.0" cy="1117.8"/>
<circle cx="445.4" cy="1192.6"/>
<circle cx="450.9" cy="1170.6"/>
<circle cx="417.8" cy="1080.9"/>
<circle cx="421.1" cy="948.7"/>
<circle cx="454.0" cy="1188.9"/>
<circle cx="457.5" cy="1193.5"/>
<circle cx="437.8" cy="1129.0"/>
<circle cx="439.0" cy="1176.7"/>
<circle cx="446.6" cy="1002.8"/>
<circle cx="448.8" cy="1177.1"/>
<circle cx="449.5" cy="1184.1"/>
<circle cx="440.2" cy="1171.9"/>
<circle cx="443.2" cy="1108.0"/>
<circle cx="426.0" cy="1116.0"/>
<circle cx="440.2" cy="1151.0"/>
<circle cx="452.2" cy="1183.4"/>
<circle cx="441.0" cy="1168.2"/>
<circle cx="451.0" cy="1173.2"/>
<circle cx="447.4" cy="1149.0"/>
<circle cx="435.6" cy="1167.6"/>
<circle cx="424.4" cy="1074.8"/>
<circle cx="443.9" cy="1141.4"/>
<circle cx="439.1" cy="1173.2"/>
<circle cx="455.1" cy="1162.1"/>
<circle cx="427.6" cy="1155.9"/>
<circle cx="386.6" cy="927.3"/>
<circle cx="427.4" cy="1189.5"/>
<circle cx="408.8" cy="1092.8"/>
<circle cx="449.4" cy="1144.8"/>
<circle cx="429.9" cy="1162.2"/>
<circle cx="438.4" cy="990.2"/>
<circle cx="436.8" cy="1112.9"/>
<circle cx="454.1" cy="1185.0"/>
<circle cx="457.6" cy="1172.7"/>
<circle cx="432.2" cy="1145.9"/>
<circle cx="452.1" cy="1189.7"/>
<circle cx="448.5" cy="1196.3"/>
<circle cx="429.8" cy="1148.7"/>
<circle cx="434.0" cy="1156.6"/>
<circle cx="453.6" cy="1197.7"/>
<circle cx="385.0" cy="1039.2"/>
<circle cx="451.3" cy="1165.6"/>
<circle cx="398.9" cy="1090.8"/>
<circle cx="440.3" cy="1079.2"/>
<circle cx="455.3" cy="1182.8"/>
<circle cx="432.2" cy="1153.6"/>
<circle cx="426.3" cy="1053.7"/>
<circle cx="369.7" cy="943.3"/>
<circle cx="446.8" cy="1112.5"/>
<circle cx="441.7" cy="1062.0"/>
<circle cx="458.1" cy="1199.6"/>
<circle cx="448.0" cy="1144.1"/>
<circle cx="424.7" cy="922.9"/>
<circle cx="452.8" cy="1183.1"/>
<circle cx="428.6" cy="1188.9"/>
<circle cx="443.0" cy="1083.2"/>
<circle cx="450.4" cy="1191.9"/>
<circle cx="448.2" cy="1080.7"/>
<circle cx="440.0" cy="1120.9"/>
<circle cx="444.4" cy="1160.8"/>
<circle cx="442.7" cy="1116.9"/>
<circle cx="421.9" cy="1035.4"/>
<circle cx="419.7" cy="1127.3"/>
<circle cx="439.1" cy="1175.1"/>
<circle cx="454.1" cy="1167.2"/>
<circle cx="445.8" cy="1198.4"/>
<circle cx="432.0" cy="1179.4"/>
<circle cx="443.9" cy="1154.1"/>
<circle cx="425.9" cy="1072.1"/>
<circle cx="452.8" cy="1055.9"/>
<circle cx="450.5" cy="1197.5"/>
<circle cx="442.9" cy="1126.8"/>
<circle cx="447.2" cy="1164.7"/>
<circle cx="415.5" cy="1000.6"/>
<circle cx="450.3" cy="1154.7"/>
<circle cx="441.2" cy="1095.5"/>
<circle cx="445.5" cy="1184.2"/>
<circle cx="444.0" cy="1123.3"/>
<circle cx="405.7" cy="1176.5"/>
<circle cx="415.2" cy="1126.6"/>
<circle cx="449.1" cy="1077.0"/>
<circle cx="340.4" cy="969.1"/>
<circle cx="444.6" cy="1121.4"/>
<circle cx="444.2" cy="1102.4"/>
<circle cx="414.9" cy="1086.2"/>
<circle cx="423.2" cy="1068.1"/>
<circle cx="454.5" cy="1171.9"/>
<circle cx="415.7" cy="1140.4"/>
<circle cx="453.6" cy="1146.9"/>
<circle cx="444.8" cy="1187.7"/>
<circle cx="427.6" cy="1140.7"/>
<circle cx="435.5" cy="1113.2"/>
<circle cx="447.1" cy="1110.2"/>
<circle cx="433.1" cy="1137.5"/>
<circle cx="424.6" cy="1182.1"/>
<circle cx="457.0" cy="1181.4"/>
<circle cx="426.5" cy="1106.9"/>
<circle cx="438.0" cy="1093.6"/>
<circle cx="454.5" cy="1193.2"/>
<circle cx="451.6" cy="1142.6"/>
<circle cx="448.5" cy="1148.3"/>
<circle cx="435.2" cy="1164.3"/>
<circle cx="453.8" cy="1133.3"/>
<circle cx="451.9" cy="1165.6"/>
<circle cx="432.0" cy="1128.1"/>
<circle cx="428.1" cy="1072.3"/>
<circle cx="453.8" cy="1170.8"/>
<circle cx="435.6" cy="1181.1"/>
<circle cx="454.6" cy="1170.5"/>
<circle cx="446.2" cy="1149.3"/>
<circle cx="445.8" cy="1193.2"/>
<circle cx="446.7" cy="1198.3"/>
<circle cx="411.4" cy="1183.8"/>
<circle cx="421.9" cy="1092.8"/>
<circle cx="453.6" cy="1083.9"/>
<circle cx="437.7" cy="1175.0"/>
<circle cx="438.5" cy="1147.9"/>
<circle cx="450.0" cy="1072.6"/>
<circle cx="452.8" cy="1193.5"/>
<circle cx="436.8" cy="1194.0"/>
<circle cx="440.0" cy="1174.7"/>
<circle cx="457.5" cy="1137.4"/>
<circle cx="434.6" cy="1198.7"/>
<circle cx="448.1" cy="1172.2"/>
<circle cx="432.4" cy="1018.7"/>
<circle cx="457.0" cy="1198.8"/>
<circle cx="423.8" cy="1098.3"/>
<circle cx="451.7" cy="1199.7"/>
<circle cx="436.1" cy="1182.0"/>
<circle cx="452.6" cy="1173.9"/>
<circle cx="457.1" cy="1173.3"/>
<circle cx="382.1" cy="1089.3"/>
<circle cx="448.4" cy="1192.0"/>
<circle cx="451.9" cy="1175.1"/>
<circle cx="451.5" cy="1136.8"/>
<circle cx="394.1" cy="1189.5"/>
<circle cx="443.6" cy="1156.8"/>
<circle cx="450.6" cy="1179.9"/>
<circle cx="444.8" cy="1176.9"/>
<circle cx="441.3" cy="1152.2"/>
<circle cx="442.4" cy="1163.5"/>
<circle cx="435.1" cy="1129.7"/>
<circle cx="441.7" cy="1186.4"/>
<circle cx="456.9" cy="1198.5"/>
<circle cx="451.7" cy="1186.0"/>
<circle cx="428.6" cy="1148.0"/>
<circle cx="450.9" cy="1110.7"/>
<circle cx="451.0" cy="1198.9"/>
<circle cx="441.1" cy="1195.3"/>
<circle cx="451.7" cy="1180.1"/>
<circle cx="446.0" cy="1170.3"/>
<circle cx="452.0" cy="1136.4"/>
<circle cx="435.2" cy="1132.3"/>
<circle cx="446.7" cy="1127.6"/>
<circle cx="451.3" cy="1180.0"/>
<circle cx="426.5" cy="1138.5"/>
<circle cx="432.2" cy="1176.2"/>
<circle cx="443.5" cy="1137.6"/>
<circle cx="409.8" cy="949.3"/>
<circle cx="440.6" cy="1185.8"/>
<circle cx="455.5" cy="1190.5"/>
<circle cx="448.6" cy="1159.9"/>
<circle cx="437.8" cy="1152.3"/>
<circle cx="446.6" cy="1093.5"/>
<circle cx="444.3" cy="1183.9"/>
<circle cx="451.7" cy="1127.0"/>
<circle cx="443.1" cy="1173.9"/>
<circle cx="448.8" cy="1154.3"/>
<circle cx="436.0" cy="1092.2"/>
<circle cx="438.0" cy="1163.4"/>
<circle cx="439.0" cy="1152.0"/>
<circle cx="451.5" cy="1123.8"/>
<circle cx="426.1" cy="1085.2"/>
<circle cx="447.7" cy="1189.6"/>
<circle cx="445.1" cy="1193.3"/>
<circle cx="438.4" cy="1148.5"/>
<circle cx="451.4" cy="1182.5"/>
<circle cx="435.7" cy="1135.7"/>
<circle cx="413.8" cy="1067.1"/>
<circle cx="441.3" cy="1134.5"/>
<circle cx="443.3" cy="1098.9"/>
<circle cx="426.8" cy="1192.0"/>
<circle cx="421.2" cy="1074.2"/>
<circle cx="454.4" cy="1170.8"/>
<circle cx="454.7" cy="1171.9"/>
<circle cx="450.6" cy="1168.7"/>
<circle cx="441.1" cy="1168.4"/>
<circle cx="440.1" cy="1151.8"/>
<circle cx="443.1" cy="1194.7"/>
<circle cx="426.5" cy="1174.2"/>
<circle cx="452.2" cy="1126.0"/>
<circle cx="451.9" cy="1161.5"/>
<circle cx="446.0" cy="1024.7"/>
<circle cx="435.5" cy="1161.1"/>
<circle cx="434.2" cy="1141.9"/>
<circle cx="408.1" cy="1005.8"/>
<circle cx="446.8" cy="1052.8"/>
<circle cx="439.5" cy="1174.8"/>
<circle cx="449.9" cy="1170.9"/>
<circle cx="437.0" cy="1154.7"/>
<circle cx="455.7" cy="1199.3"/>
<circle cx="437.4" cy="1158.2"/>
<circle cx="458.4" cy="1181.9"/>
<circle cx="429.8" cy="1141.8"/>
<circle cx="448.2" cy="1150.8"/>
<circle cx="438.2" cy="1183.2"/>
<circle cx="455.1" cy="1160.8"/>
<circle cx="449.7" cy="1183.6"/>
<circle cx="434.3" cy="1178.9"/>
<circle cx="440.9" cy="1177.5"/>
<circle cx="433.5" cy="1191.7"/>
<circle cx="452.2" cy="1143.1"/>
<circle cx="431.2" cy="1166.4"/>
<circle cx="446.8" cy="1150.8"/>
<circle cx="407.6" cy="1167.0"/>
<circle cx="444.2" cy="1177.1"/>
<circle cx="445.0" cy="1120.6"/>
<circle cx="451.6" cy="1185.1"/>
<circle cx="448.9" cy="1189.8"/>
<circle cx="454.6" cy="1195.3"/>
<circle cx="419.3" cy="1113.5"/>
<circle cx="450.1" cy="1194.5"/>
<circle cx="427.9" cy="1138.9"/>
<circle cx="450.0" cy="1192.8"/>
<circle cx="437.9" cy="1134.9"/>
<circle cx="438.5" cy="1062.7"/>
<circle cx="455.1" cy="1191.8"/>
<circle cx="448.9" cy="1156.8"/>
<circle cx="443.1" cy="1075.2"/>
<circle cx="439.6" cy="1188.3"/>
<circle cx="454.7" cy="1175.9"/>
<circle cx="433.8" cy="1022.5"/>
<circle cx="438.7" cy="1187.8"/>
<circle cx="443.7" cy="1181.2"/>
<circle cx="456.6" cy="1162.1"/>
<circle cx="431.3" cy="1095.0"/>
<circle cx="440.0" cy="1116.5"/>
<circle cx="459.0" cy="1199.6"/>
<circle cx="457.7" cy="1160.0"/>
<circle cx="434.6" cy="1023.3"/>
<circle cx="457.4" cy="1169.5"/>
<circle cx="452.0" cy="1176.7"/>
<circle cx="445.5" cy="1176.0"/>
<circle cx="448.0" cy="1176.0"/>
<circle cx="447.1" cy="1177.5"/>
<circle cx="448.6" cy="1101.9"/>
<circle cx="449.7" cy="1126.0"/>
<circle cx="424.0" cy="1194.7"/>
<circle cx="449.6" cy="1155.3"/>
<circle cx="453.4" cy="1124.6"/>
<circle cx="446.0" cy="1163.2"/>
<circle cx="397.0" cy="1011.9"/>
<circle cx="440.2" cy="1191.1"/>
<circle cx="450.0" cy="1184.8"/>
<circle cx="455.3" cy="1134.1"/>
<circle cx="452.1" cy="1188.1"/>
<circle cx="448.1" cy="1163.7"/>
<circle cx="452.1" cy="1165.7"/>
<circle cx="428.9" cy="1054.9"/>
<circle cx="405.9" cy="1168.0"/>
<circle cx="421.3" cy="995.5"/>
<circle cx="429.5" cy="954.4"/>
<circle cx="450.4" cy="1162.2"/>
<circle cx="444.6" cy="1187.2"/>
<circle cx="447.6" cy="1112.3"/>
<circle cx="450.1" cy="1193.5"/>
<circle cx="406.2" cy="1023.7"/>
<circle cx="451.9" cy="1195.5"/>
<circle cx="411.2" cy="1191.3"/>
<circle cx="446.4" cy="1160.4"/>
<circle cx="449.5" cy="1198.1"/>
<circle cx="448.7" cy="1147.6"/>
<circle cx="451.6" cy="1179.0"/>
<circle cx="440.1" cy="1120.8"/>
<circle cx="443.6" cy="1125.0"/>
<circle cx="451.3" cy="1179.4"/>
<circle cx="412.1" cy="1171.4"/>
<circle cx="452.1" cy="1157.7"/>
<circle cx="416.6" cy="1194.0"/>
<circle cx="419.2" cy="1030.4"/>
<circle cx="448.8" cy="1186.1"/>
<circle cx="458.5" cy="1191.9"/>
<circle cx="426.1" cy="1126.1"/>
<circle cx="445.8" cy="1195.7"/>
<circle cx="458.9" cy="1182.5"/>
<circle cx="449.6" cy="1113.5"/>
<circle cx="421.8" cy="1161.1"/>
<circle cx="452.5" cy="1154.2"/>
<circle cx="442.4" cy="1159.3"/>
<circle cx="454.4" cy="1143.1"/>
<circle cx="435.3" cy="985.6"/>
<circle cx="427.3" cy="1170.3"/>
<circle cx="431.8" cy="1169.0"/>
<circle cx="442.9" cy="1127.1"/>
<circle cx="453.6" cy="1187.8"/>
<circle cx="448.1" cy="1183.9"/>
<circle cx="447.0" cy="1194.6"/>
<circle cx="441.5" cy="1044.5"/>
<circle cx="453.6" cy="1161.9"/>
<circle cx="456.8" cy="1180.9"/>
<circle cx="445.0" cy="1114.1"/>
<circle cx="453.6" cy="1194.4"/>
<circle cx="445.7" cy="1153.9"/>
<circle cx="450.5" cy="1197.1"/>
<circle cx="440.0" cy="1147.2"/>
<circle cx="457.4" cy="1196.2"/>
<circle cx="446.0" cy="1061.8"/>
<circle cx="442.3" cy="1195.3"/>
<circle cx="415.7" cy="1093.2"/>
<circle cx="442.2" cy="1170.8"/>
<circle cx="446.4" cy="1032.3"/>
<circle cx="427.8" cy="1181.6"/>
<circle cx="440.5" cy="1163.4"/>
<circle cx="446.1" cy="1138.5"/>
<circle cx="427.9" cy="1198.1"/>
<circle cx="453.0" cy="1190.7"/>
<circle cx="456.8" cy="1192.3"/>
<circle cx="449.9" cy="1137.3"/>
<circle cx="455.5" cy="1164.2"/>
<circle cx="446.8" cy="1177.6"/>
<circle cx="440.1" cy="1170.2"/>
<circle cx="445.6" cy="1135.5"/>
<circle cx="445.4" cy="1145.2"/>
<circle cx="443.5" cy="1197.3"/>
<circle cx="448.1" cy="1132.4"/>
<circle cx="439.9" cy="1037.3"/>
<circle cx="402.0" cy="1199.5"/>
<circle cx="455.4" cy="1171.1"/>
<circle cx="450.6" cy="1177.9"/>
<circle cx="441.9" cy="1187.0"/>
<circle cx="439.9" cy="1171.4"/>
<circle cx="445.8" cy="1152.6"/>
<circle cx="443.3" cy="1081.9"/>
<circle cx="454.2" cy="1171.7"/>
<circle cx="421.3" cy="1081.7"/>
<circle cx="445.4" cy="1197.1"/>
<circle cx="430.9" cy="1124.0"/>
<circle cx="448.6" cy="1067.5"/>
<circle cx="435.6" cy="1135.3"/>
<circle cx="438.4" cy="1185.5"/>
<circle cx="432.4" cy="1178.6"/>
<circle cx="428.7" cy="1163.9"/>
<circle cx="433.3" cy="1129.4"/>
<circle cx="427.4" cy="1095.5"/>
<circle cx="426.9" cy="1041.5"/>
<circle cx="443.4" cy="1179.3"/>
<circle cx="454.7" cy="1198.0"/>
<circle cx="442.4" cy="1195.4"/>
<circle cx="440.0" cy="1151.8"/>
<circle cx="447.2" cy="1172.4"/>
<circle cx="435.0" cy="1166.8"/>
<circle cx="450.6" cy="1195.5"/>
<circle cx="449.5" cy="1163.9"/>
<circle cx="422.7" cy="1024.5"/>
<circle cx="454.6" cy="1197.9"/>
<circle cx="448.4" cy="1170.7"/>
<circle cx="456.9" cy="1174.7"/>
<circle cx="447.2" cy="1051.5"/>
<circle cx="430.9" cy="1147.1"/>
<circle cx="438.9" cy="1181.0"/>
<circle cx="438.2" cy="1159.0"/>
<circle cx="451.5" cy="1192.4"/>
<circle cx="427.1" cy="1193.1"/>
<circle cx="451.9" cy="1168.9"/>
<circle cx="452.6" cy="1192.5"/>
<circle cx="458.4" cy="1185.0"/>
<circle cx="396.1" cy="1105.2"/>
<circle cx="414.6" cy="1173.2"/>
<circle cx="445.2" cy="1069.6"/>
<circle cx="422.1" cy="1088.3"/>
<circle cx="445.7" cy="1173.1"/>
<circle cx="451.3" cy="1143.0"/>
<circle cx="438.4" cy="1166.3"/>
<circle cx="437.7" cy="1195.2"/>
<circle cx="439.6" cy="1088.4"/>
<circle cx="453.3" cy="1109.3"/>
<circle cx="452.5" cy="1177.9"/>
<circle cx="431.9" cy="1128.7"/>
<circle cx="439.7" cy="1113.9"/>
<circle cx="444.0" cy="1176.8"/>
<circle cx="439.5" cy="1093.1"/>
<circle cx="450.5" cy="1157.2"/>
<circle cx="447.7" cy="1181.8"/>
<circle cx="431.3" cy="1125.9"/>
<circle cx="453.2" cy="1180.1"/>
<circle cx="447.0" cy="1191.6"/>
<circle cx="442.8" cy="1179.0"/>
<circle cx="452.3" cy="1161.1"/>
<circle cx="445.6" cy="1127.2"/>
<circle cx="430.1" cy="1180.9"/>
<circle cx="417.8" cy="953.4"/>
<circle cx="455.7" cy="1180.0"/>
<circle cx="448.1" cy="1032.5"/>
<circle cx="456.7" cy="1165.5"/>
<circle cx="414.5" cy="1192.6"/>
<circle cx="429.4" cy="1023.8"/>
<circle cx="436.5" cy="1102.4"/>
<circle cx="406.6" cy="1133.1"/>
<circle cx="445.6" cy="1195.2"/>
<circle cx="436.6" cy="1194.1"/>
<circle cx="452.6" cy="1143.2"/>
<circle cx="448.8" cy="1163.4"/>
<circle cx="438.8" cy="1177.4"/>
<circle cx="451.3" cy="1189.6"/>
<circle cx="416.9" cy="1115.1"/>
<circle cx="451.7" cy="1195.0"/>
<circle cx="434.2" cy="1187.3"/>
<circle cx="436.1" cy="1147.3"/>
<circle cx="447.9" cy="1021.5"/>
<circle cx="433.0" cy="1148.2"/>
<circle cx="442.3" cy="1196.3"/>
<circle cx="438.8" cy="1174.3"/>
<circle cx="450.7" cy="1158.9"/>
<circle cx="435.7" cy="1136.6"/>
<circle cx="442.3" cy="1114.3"/>
<circle cx="447.1" cy="1187.4"/>
<circle cx="446.7" cy="1155.8"/>
<circle cx="436.7" cy="1131.8"/>
<circle cx="433.3" cy="1189.7"/>
<circle cx="430.8" cy="1135.4"/>
<circle cx="424.7" cy="1115.4"/>
<circle cx="422.0" cy="1122.2"/>
<circle cx="450.0" cy="1124.1"/>
<circle cx="448.4" cy="1172.2"/>
<circle cx="422.1" cy="1053.9"/>
<circle cx="452.2" cy="1139.8"/>
<circle cx="456.6" cy="1183.9"/>
<circle cx="454.1" cy="1196.4"/>
<circle cx="452.0" cy="1178.3"/>
<circle cx="399.9" cy="1065.2"/>
<circle cx="448.2" cy="1126.7"/>
<circle cx="440.2" cy="1188.8"/>
<circle cx="426.4" cy="1006.1"/>
<circle cx="439.5" cy="1190.6"/>
<circle cx="435.8" cy="1190.2"/>
<circle cx="452.0" cy="1154.4"/>
<circle cx="424.8" cy="1174.1"/>
<circle cx="403.8" cy="1186.8"/>
<circle cx="448.1" cy="1152.5"/>
<circle cx="422.7" cy="1115.8"/>
<circle cx="450.2" cy="1156.5"/>
<circle cx="454.9" cy="1184.2"/>
<circle cx="401.3" cy="1159.7"/>
<circle cx="435.3" cy="1142.0"/>
<circle cx="425.1" cy="1081.0"/>
<circle cx="449.0" cy="1152.0"/>
<circle cx="445.2" cy="1197.9"/>
<circle cx="445.1" cy="1169.4"/>
<circle cx="430.8" cy="1047.9"/>
<circle cx="438.5" cy="1133.0"/>
<circle cx="450.8" cy="1191.3"/>
<circle cx="436.6" cy="1043.9"/>
<circle cx="441.1" cy="1007.3"/>
<circle cx="436.8" cy="1141.5"/>
<circle cx="456.0" cy="1168.4"/>
<circle cx="454.8" cy="1173.2"/>
<circle cx="447.1" cy="1181.1"/>
<circle cx="448.5" cy="1063.9"/>
<circle cx="441.9" cy="1183.5"/>
<circle cx="441.8" cy="1175.1"/>
<circle cx="427.4" cy="1092.6"/>
<circle cx="453.0" cy="1153.3"/>
<circle cx="428.5" cy="1128.1"/>
<circle cx="450.0" cy="1161.4"/>
<circle cx="424.3" cy="1189.4"/>
<circle cx="433.4" cy="1143.2"/>
<circle cx="456.7" cy="1195.1"/>
<circle cx="446.5" cy="1186.2"/>
<circle cx="452.4" cy="1161.2"/>
<circle cx="430.7" cy="1167.3"/>
<circle cx="433.2" cy="1181.2"/>
<circle cx="447.4" cy="1179.5"/>
<circle cx="423.6" cy="1105.0"/>
<circle cx="448.2" cy="1127.7"/>
<circle cx="430.6" cy="1187.8"/>
<circle cx="426.4" cy="1087.1"/>
<circle cx="445.7" cy="1163.0"/>
<circle cx="434.5" cy="1147.8"/>
<circle cx="450.1" cy="1132.0"/>
<circle cx="451.7" cy="1118.2"/>
<circle cx="457.9" cy="1186.1"/>
<circle cx="427.5" cy="1135.1"/>
<circle cx="443.1" cy="1199.1"/>
<circle cx="436.2" cy="1137.5"/>
<circle cx="446.9" cy="1159.0"/>
<circle cx="454.0" cy="1135.8"/>
<circle cx="451.2" cy="1153.6"/>
<circle cx="447.6" cy="1183.2"/>
<circle cx="436.5" cy="1161.5"/>
<circle cx="428.4" cy="1183.6"/>
<circle cx="453.5" cy="1175.3"/>
<circle cx="456.6" cy="1197.7"/>
<circle cx="453.2" cy="1078.7"/>
<circle cx="457.2" cy="1153.5"/>
<circle cx="449.3" cy="1158.0"/>
<circle cx="441.8" cy="1160.3"/>
<circle cx="450.8" cy="1116.7"/>
<circle cx="412.6" cy="1037.5"/>
<circle cx="446.1" cy="1198.6"/>
<circle cx="438.6" cy="1056.7"/>
<circle cx="450.5" cy="1147.1"/>
<circle cx="434.6" cy="1189.5"/>
<circle cx="453.4" cy="1192.7"/>
<circle cx="459.5" cy="1188.5"/>
<circle cx="429.5" cy="1123.7"/>
<circle cx="446.5" cy="1094.5"/>
<circle cx="439.4" cy="1149.1"/>
<circle cx="437.9" cy="1182.0"/>
<circle cx="438.6" cy="1121.2"/>
<circle cx="440.7" cy="1150.0"/>
<circle cx="424.2" cy="1150.4"/>
<circle cx="442.6" cy="1182.3"/>
<circle cx="456.1" cy="1180.3"/>
<circle cx="424.4" cy="1184.7"/>
<circle cx="437.5" cy="1094.6"/>
<circle cx="419.4" cy="1048.7"/>
<circle cx="422.1" cy="1119.7"/>
<circle cx="451.1" cy="1183.6"/>
<circle cx="452.4" cy="1130.8"/>
<circle cx="454.9" cy="1158.2"/>
<circle cx="445.7" cy="1136.3"/>
<circle cx="428.9" cy="1138.2"/>
<circle cx="457.7" cy="1179.7"/>
<circle cx="453.6" cy="1192.8"/>
<circle cx="450.7" cy="1196.9"/>
<circle cx="451.4" cy="1171.1"/>
<circle cx="443.5" cy="1137.8"/>
<circle cx="399.8" cy="1193.5"/>
<circle cx="455.3" cy="1163.2"/>
<circle cx="441.7" cy="1121.3"/>
<circle cx="426.4" cy="1143.3"/>
<circle cx="433.5" cy="1165.7"/>
<circle cx="433.2" cy="1178.0"/>
<circle cx="432.4" cy="1090.2"/>
<circle cx="446.5" cy="1145.3"/>
<circle cx="447.2" cy="1190.7"/>
<circle cx="411.7" cy="1151.4"/>
<circle cx="448.2" cy="1154.2"/>
<circle cx="455.5" cy="1132.2"/>
<circle cx="422.7" cy="1132.7"/>
<circle cx="447.5" cy="1184.7"/>
<circle cx="418.4" cy="1126.9"/>
<circle cx="450.2" cy="1174.4"/>
<circle cx="458.1" cy="1196.4"/>
<circle cx="420.1" cy="1161.5"/>
<circle cx="443.8" cy="1175.9"/>
<circle cx="445.2" cy="1096.9"/>
<circle cx="418.8" cy="1196.8"/>
<circle cx="446.8" cy="1169.0"/>
<circle cx="442.1" cy="1174.5"/>
<circle cx="430.9" cy="1057.2"/>
<circle cx="411.2" cy="1035.3"/>
<circle cx="456.5" cy="1181.1"/>
<circle cx="455.8" cy="1184.2"/>
<circle cx="445.2" cy="1128.5"/>
<circle cx="428.8" cy="1043.4"/>
<circle cx="455.8" cy="1199.3"/>
<circle cx="447.9" cy="1191.6"/>
<circle cx="427.8" cy="1170.5"/>
<circle cx="443.8" cy="1144.7"/>
<circle cx="446.9" cy="1186.6"/>
<circle cx="456.3" cy="1182.5"/>
<circle cx="444.8" cy="1193.0"/>
<circle cx="451.9" cy="1185.9"/>
<circle cx="440.6" cy="1112.1"/>
<circle cx="451.4" cy="1159.0"/>
<circle cx="445.6" cy="1194.0"/>
<circle cx="436.0" cy="1106.4"/>
<circle cx="449.7" cy="1104.6"/>
<circle cx="435.4" cy="1173.6"/>
<circle cx="426.1" cy="1130.7"/>
<circle cx="418.1" cy="1101.2"/>
<circle cx="446.8" cy="1142.4"/>
<circle cx="455.9" cy="1156.0"/>
<circle cx="436.0" cy="1171.9"/>
<circle cx="419.1" cy="1131.4"/>
<circle cx="449.3" cy="1158.0"/>
<circle cx="452.7" cy="1157.9"/>
<circle cx="454.5" cy="1199.1"/>
<circle cx="454.2" cy="1171.2"/>
<circle cx="417.8" cy="1199.4"/>
<circle cx="427.6" cy="1140.8"/>
<circle cx="444.0" cy="1164.9"/>
<circle cx="446.6" cy="1195.6"/>
<circle cx="438.9" cy="1178.9"/>
<circle cx="446.8" cy="1112.6"/>
<circle cx="441.5" cy="1194.8"/>
<circle cx="452.5" cy="1191.2"/>
<circle cx="430.3" cy="1108.7"/>
<circle cx="444.7" cy="1129.5"/>
<circle cx="424.1" cy="1107.1"/>
<circle cx="435.3" cy="1015.6"/>
<circle cx="440.7" cy="1121.0"/>
<circle cx="458.8" cy="1197.4"/>
<circle cx="443.2" cy="1182.4"/>
<circle cx="427.3" cy="1175.1"/>
<circle cx="432.0" cy="969.7"/>
<circle cx="435.4" cy="1128.9"/>
<circle cx="444.6" cy="1135.8"/>
<circle cx="436.1" cy="1164.3"/>
<circle cx="426.6" cy="1139.7"/>
<circle cx="459.0" cy="1194.9"/>
<circle cx="438.0" cy="1161.5"/>
<circle cx="454.6" cy="1190.5"/>
<circle cx="433.8" cy="959.6"/>
<circle cx="435.4" cy="1156.5"/>
<circle cx="446.7" cy="1154.6"/>
<circle cx="450.1" cy="1140.3"/>
<circle cx="411.7" cy="1138.3"/>
<circle cx="439.6" cy="1182.7"/>
<circle cx="430.9" cy="1050.8"/>
<circle cx="449.3" cy="1168.7"/>
<circle cx="442.6" cy="1151.0"/>
<circle cx="429.2" cy="1168.2"/>
<circle cx="454.3" cy="1185.2"/>
<circle cx="443.4" cy="1136.9"/>
<circle cx="435.4" cy="1191.6"/>
<circle cx="450.3" cy="1128.4"/>
<circle cx="457.8" cy="1193.1"/>
<circle cx="420.0" cy="1016.8"/>
<circle cx="454.2" cy="1191.5"/>
<circle cx="427.8" cy="1058.5"/>
<circle cx="435.0" cy="1018.8"/>
<circle cx="452.4" cy="1174.3"/>
<circle cx="433.3" cy="1151.2"/>
<circle cx="437.3" cy="1192.6"/>
<circle cx="454.2" cy="1104.0"/>
<circle cx="444.2" cy="1123.3"/>
<circle cx="446.8" cy="1102.0"/>
<circle cx="443.6" cy="1171.8"/>
<circle cx="446.9" cy="1150.1"/>
<circle cx="439.2" cy="1105.8"/>
<circle cx="456.1" cy="1180.6"/>
<circle cx="435.1" cy="1153.8"/>
<circle cx="453.1" cy="1169.8"/>
<circle cx="417.2" cy="1181.7"/>
<circle cx="426.7" cy="1036.6"/>
<circle cx="444.3" cy="1195.3"/>
<circle cx="442.7" cy="1123.5"/>
<circle cx="456.5" cy="1193.6"/>
<circle cx="429.7" cy="1180.1"/>
<circle cx="442.6" cy="1131.7"/>
<circle cx="438.6" cy="1173.9"/>
<circle cx="446.8" cy="1128.4"/>
<circle cx="443.8" cy="1109.8"/>
<circle cx="410.4" cy="1024.4"/>
<circle cx="443.0" cy="1145.3"/>
<circle cx="443.3" cy="1112.9"/>
<circle cx="452.1" cy="1190.3"/>
<circle cx="439.1" cy="1106.8"/>
<circle cx="439.6" cy="1177.9"/>
<circle cx="448.0" cy="1119.9"/>
<circle cx="458.2" cy="1178.2"/>
<circle cx="433.6" cy="1174.0"/>
<circle cx="438.5" cy="1146.8"/>
<circle cx="446.8" cy="1166.8"/>
<circle cx="453.3" cy="1184.9"/>
<circle cx="441.7" cy="1147.7"/>
<circle cx="449.4" cy="1156.3"/>
<circle cx="442.9" cy="1018.4"/>
<circle cx="435.1" cy="1195.5"/>
<circle cx="451.1" cy="1178.9"/>
<circle cx="444.6" cy="1141.6"/>
<circle cx="453.4" cy="1184.3"/>
<circle cx="426.8" cy="1187.7"/>
<circle cx="447.4" cy="1153.7"/>
<circle cx="395.0" cy="998.7"/>
<circle cx="427.3" cy="1178.1"/>
<circle cx="433.7" cy="1123.9"/>
<circle cx="446.3" cy="1058.5"/>
<circle cx="446.8" cy="1186.0"/>
<circle cx="449.2" cy="1163.1"/>
<circle cx="453.2" cy="1193.7"/>
<circle cx="427.1" cy="1124.0"/>
<circle cx="447.4" cy="1180.7"/>
<circle cx="457.5" cy="1189.5"/>
<circle cx="457.5" cy="1194.5"/>
<circle cx="436.0" cy="1120.8"/>
<circle cx="432.6" cy="1198.1"/>
<circle cx="435.7" cy="1121.4"/>
<circle cx="442.8" cy="1173.9"/>
<circle cx="431.5" cy="1011.2"/>
<circle cx="427.0" cy="1170.7"/>
<circle cx="453.1" cy="1123.7"/>
<circle cx="440.2" cy="1048.2"/>
<circle cx="455.2" cy="1173.6"/>
<circle cx="447.6" cy="1192.9"/>
<circle cx="443.1" cy="1134.8"/>
<circle cx="437.3" cy="1162.1"/>
<circle cx="453.4" cy="1192.7"/>
<circle cx="449.8" cy="1167.0"/>
<circle cx="427.4" cy="1148.4"/>
<circle cx="445.2" cy="1125.1"/>
<circle cx="450.9" cy="1159.4"/>
<circle cx="450.8" cy="1160.9"/>
<circle cx="446.1" cy="1155.5"/>
<circle cx="445.2" cy="1131.2"/>
<circle cx="455.3" cy="1153.8"/>
<circle cx="442.5" cy="1020.8"/>
<circle cx="424.4" cy="1051.7"/>
<circle cx="423.0" cy="1154.8"/>
<circle cx="452.0" cy="1193.9"/>
<circle cx="402.5" cy="1074.7"/>
<circle cx="456.3" cy="1192.4"/>
<circle cx="446.3" cy="1188.0"/>
<circle cx="445.5" cy="1136.1"/>
<circle cx="446.3" cy="1149.5"/>
<circle cx="440.0" cy="1004.2"/>
<circle cx="437.2" cy="1192.3"/>
<circle cx="428.9" cy="1051.0"/>
<circle cx="444.7" cy="1196.4"/>
<circle cx="439.8" cy="1047.1"/>
<circle cx="441.9" cy="1173.4"/>
<circle cx="416.5" cy="1092.6"/>
<circle cx="390.3" cy="1160.6"/>
<circle cx="410.7" cy="1195.9"/>
<circle cx="444.9" cy="1183.8"/>
<circle cx="423.6" cy="1176.8"/>
<circle cx="447.2" cy="1127.0"/>
<circle cx="451.8" cy="1145.6"/>
<circle cx="452.5" cy="1107.2"/>
<circle cx="437.8" cy="1137.5"/>
<circle cx="452.8" cy="1177.5"/>
<circle cx="449.4" cy="1172.9"/>
<circle cx="453.9" cy="1170.9"/>
<circle cx="451.3" cy="1196.6"/>
<circle cx="453.8" cy="1168.5"/>
<circle cx="448.7" cy="1149.0"/>
<circle cx="451.0" cy="1181.2"/>
<circle cx="448.6" cy="1120.3"/>
<circle cx="454.1" cy="1194.6"/>
<circle cx="425.4" cy="1007.5"/>
<circle cx="435.4" cy="1188.9"/>
<circle cx="433.6" cy="1113.0"/>
<circle cx="447.1" cy="1165.3"/>
<circle cx="422.4" cy="1186.0"/>
<circle cx="432.5" cy="1058.5"/>
<circle cx="445.1" cy="1118.2"/>
<circle cx="447.7" cy="1179.7"/>
<circle cx="418.2" cy="1090.1"/>
<circle cx="608.5" cy="1160.2"/>
<circle cx="578.5" cy="1159.7"/>
<circle cx="583.9" cy="1157.3"/>
<circle cx="572.7" cy="1169.5"/>
<circle cx="643.8" cy="1171.3"/>
<circle cx="527.1" cy="1150.9"/>
<circle cx="561.6" cy="1144.4"/>
<circle cx="530.1" cy="1144.5"/>
<circle cx="599.7" cy="1161.1"/>
<circle cx="549.9" cy="1147.8"/>
<circle cx="511.4" cy="1162.0"/>
<circle cx="586.3" cy="1176.5"/>
<circle cx="572.2" cy="1163.9"/>
<circle cx="532.5" cy="1161.3"/>
<circle cx="513.1" cy="1164.1"/>
<circle cx="591.7" cy="1171.8"/>
<circle cx="539.2" cy="1173.0"/>
<circle cx="601.2" cy="1159.5"/>
<circle cx="584.2" cy="1165.9"/>
<circle cx="615.8" cy="1166.9"/>
<circle cx="643.8" cy="1184.0"/>
<circle cx="641.3" cy="1173.5"/>
<circle cx="568.6" cy="1167.5"/>
<circle cx="514.9" cy="1161.0"/>
<circle cx="546.7" cy="1158.6"/>
<circle cx="591.0" cy="1167.2"/>
<circle cx="540.1" cy="1151.3"/>
<circle cx="546.6" cy="1178.6"/>
<circle cx="554.5" cy="1157.1"/>
<circle cx="510.9" cy="1157.6"/>
<circle cx="548.3" cy="1160.9"/>
<circle cx="619.2" cy="1143.0"/>
<circle cx="515.7" cy="1143.4"/>
<circle cx="580.5" cy="1174.4"/>
<circle cx="576.7" cy="1165.4"/>
<circle cx="525.5" cy="1150.1"/>
<circle cx="514.2" cy="1138.5"/>
<circle cx="706.3" cy="1183.8"/>
<circle cx="530.0" cy="1156.0"/>
<circle cx="529.8" cy="1155.8"/>
<circle cx="636.0" cy="1171.9"/>
<circle cx="594.6" cy="1163.3"/>
<circle cx="524.7" cy="1172.6"/>
<circle cx="513.2" cy="1152.0"/>
<circle cx="535.0" cy="1161.1"/>
<circle cx="520.2" cy="1158.5"/>
<circle cx="605.2" cy="1164.9"/>
<circle cx="544.6" cy="1155.8"/>
<circle cx="572.5" cy="1148.1"/>
<circle cx="567.0" cy="1166.6"/>
<circle cx="606.4" cy="1182.7"/>
<circle cx="631.6" cy="1181.2"/>
<circle cx="524.1" cy="1163.2"/>
<circle cx="542.2" cy="1159.3"/>
<circle cx="525.8" cy="1150.9"/>
<circle cx="592.3" cy="1154.1"/>
<circle cx="555.9" cy="1151.4"/>
<circle cx="556.7" cy="1145.1"/>
<circle cx="550.5" cy="1158.8"/>
<circle cx="518.4" cy="1163.0"/>
<circle cx="522.2" cy="1162.0"/>
<circle cx="634.9" cy="1166.2"/>
<circle cx="523.0" cy="1164.3"/>
<circle cx="515.7" cy="1170.8"/>
<circle cx="591.0" cy="1153.1"/>
<circle cx="558.9" cy="1144.7"/>
<circle cx="532.4" cy="1154.1"/>
<circle cx="535.1" cy="1155.1"/>
<circle cx="528.4" cy="1161.2"/>
<circle cx="622.5" cy="1169.0"/>
<circle cx="568.5" cy="1178.9"/>
<circle cx="535.5" cy="1160.8"/>
<circle cx="571.6" cy="1174.8"/>
<circle cx="530.8" cy="1151.2"/>
<circle cx="545.7" cy="1146.3"/>
<circle cx="613.1" cy="1179.4"/>
<circle cx="528.6" cy="1141.0"/>
<circle cx="541.7" cy="1140.6"/>
<circle cx="624.1" cy="1168.2"/>
<circle cx="523.2" cy="1153.6"/>
<circle cx="594.5" cy="1175.1"/>
<circle cx="517.9" cy="1172.7"/>
<circle cx="726.5" cy="1167.2"/>
<circle cx="578.3" cy="1160.0"/>
<circle cx="540.1" cy="1146.8"/>
<circle cx="615.0" cy="1152.1"/>
<circle cx="547.7" cy="1155.1"/>
<circle cx="606.4" cy="1158.6"/>
<circle cx="578.2" cy="1168.0"/>
<circle cx="586.5" cy="1159.4"/>
<circle cx="510.1" cy="1154.4"/>
<circle cx="566.8" cy="1165.0"/>
<circle cx="601.3" cy="1177.5"/>
<circle cx="527.7" cy="1165.8"/>
<circle cx="543.1" cy="1155.1"/>
<circle cx="545.8" cy="1156.5"/>
<circle cx="533.3" cy="1148.0"/>
<circle cx="529.0" cy="1156.8"/>
<circle cx="514.4" cy="1147.9"/>
<circle cx="554.9" cy="1154.8"/>
<circle cx="510.6" cy="1162.3"/>
<circle cx="565.7" cy="1173.8"/>
<circle cx="517.8" cy="1171.0"/>
<circle cx="592.0" cy="1151.0"/>
<circle cx="535.3" cy="1156.6"/>
<circle cx="514.1" cy="1139.2"/>
<circle cx="563.9" cy="1165.9"/>
<circle cx="569.7" cy="1155.3"/>
<circle cx="573.5" cy="1177.1"/>
<circle cx="604.5" cy="1181.3"/>
<circle cx="578.8" cy="1179.5"/>
<circle cx="591.3" cy="1169.0"/>
<circle cx="539.9" cy="1173.1"/>
<circle cx="546.2" cy="1165.6"/>
<circle cx="669.9" cy="1179.9"/>
<circle cx="567.9" cy="1168.7"/>
<circle cx="530.1" cy="1171.5"/>
<circle cx="558.3" cy="1160.8"/>
<circle cx="565.4" cy="1157.8"/>
<circle cx="514.2" cy="1153.6"/>
<circle cx="599.0" cy="1158.9"/>
<circle cx="559.8" cy="1162.6"/>
<circle cx="612.1" cy="1174.3"/>
<circle cx="605.0" cy="1181.7"/>
<circle cx="654.8" cy="1165.4"/>
<circle cx="570.9" cy="1157.2"/>
<circle cx="512.0" cy="1144.1"/>
<circle cx="685.3" cy="1193.5"/>
<circle cx="576.1" cy="1153.1"/>
<circle cx="529.2" cy="1142.0"/>
<circle cx="638.4" cy="1165.0"/>
<circle cx="533.9" cy="1151.2"/>
<circle cx="530.4" cy="1156.6"/>
<circle cx="557.6" cy="1155.3"/>
<circle cx="544.0" cy="1151.5"/>
<circle cx="545.9" cy="1158.2"/>
<circle cx="510.6" cy="1153.3"/>
<circle cx="591.9" cy="1147.4"/>
<circle cx="678.2" cy="1196.7"/>
<circle cx="537.0" cy="1161.0"/>
<circle cx="632.4" cy="1166.0"/>
<circle cx="650.8" cy="1166.3"/>
<circle cx="597.1" cy="1171.0"/>
<circle cx="524.2" cy="1143.7"/>
<circle cx="563.8" cy="1153.0"/>
<circle cx="615.6" cy="1173.0"/>
<circle cx="627.0" cy="1164.7"/>
<circle cx="592.5" cy="1164.2"/>
<circle cx="537.1" cy="1157.3"/>
<circle cx="520.5" cy="1157.3"/>
<circle cx="538.6" cy="1156.1"/>
<circle cx="555.3" cy="1156.9"/>
<circle cx="570.7" cy="1167.6"/>
<circle cx="643.1" cy="1149.1"/>
<circle cx="515.5" cy="1184.9"/>
<circle cx="695.7" cy="1174.9"/>
<circle cx="515.9" cy="1134.5"/>
<circle cx="532.7" cy="1138.1"/>
<circle cx="517.6" cy="1137.5"/>
<circle cx="512.5" cy="1164.9"/>
<circle cx="510.8" cy="1152.4"/>
<circle cx="524.9" cy="1157.4"/>
<circle cx="518.7" cy="1157.9"/>
<circle cx="536.7" cy="1152.5"/>
<circle cx="570.7" cy="1153.4"/>
<circle cx="564.2" cy="1160.7"/>
<circle cx="586.9" cy="1170.0"/>
<circle cx="546.3" cy="1149.7"/>
<circle cx="634.8" cy="1177.0"/>
<circle cx="542.1" cy="1156.0"/>
<circle cx="574.5" cy="1169.6"/>
<circle cx="611.7" cy="1174.2"/>
<circle cx="589.5" cy="1164.1"/>
<circle cx="564.1" cy="1146.9"/>
<circle cx="641.6" cy="1180.5"/>
<circle cx="571.8" cy="1158.2"/>
<circle cx="512.3" cy="1158.0"/>
<circle cx="613.3" cy="1160.6"/>
<circle cx="635.2" cy="1192.6"/>
<circle cx="547.3" cy="1133.2"/>
<circle cx="630.8" cy="1179.8"/>
<circle cx="544.6" cy="1164.4"/>
<circle cx="545.3" cy="1171.8"/>
<circle cx="549.6" cy="1149.1"/>
<circle cx="544.4" cy="1162.6"/>
<circle cx="535.4" cy="1161.9"/>
<circle cx="552.4" cy="1157.0"/>
<circle cx="673.8" cy="1178.0"/>
<circle cx="525.0" cy="1148.9"/>
<circle cx="514.9" cy="1146.1"/>
<circle cx="568.8" cy="1159.7"/>
<circle cx="598.3" cy="1174.3"/>
<circle cx="512.5" cy="1162.8"/>
<circle cx="634.9" cy="1195.6"/>
<circle cx="647.1" cy="1144.9"/>
<circle cx="642.1" cy="1166.1"/>
<circle cx="540.6" cy="1147.0"/>
<circle cx="611.0" cy="1167.2"/>
<circle cx="538.0" cy="1151.8"/>
<circle cx="561.3" cy="1150.6"/>
<circle cx="514.0" cy="1145.8"/>
<circle cx="644.3" cy="1160.0"/>
<circle cx="520.4" cy="1165.7"/>
<circle cx="584.2" cy="1148.9"/>
<circle cx="616.5" cy="1172.2"/>
<circle cx="703.5" cy="1160.1"/>
<circle cx="514.9" cy="1146.0"/>
<circle cx="522.0" cy="1169.4"/>
<circle cx="541.7" cy="1143.9"/>
<circle cx="546.7" cy="1144.6"/>
<circle cx="554.4" cy="1147.7"/>
<circle cx="552.0" cy="1142.7"/>
<circle cx="597.7" cy="1137.9"/>
<circle cx="599.9" cy="1140.0"/>
<circle cx="520.2" cy="1158.6"/>
<circle cx="580.7" cy="1165.1"/>
<circle cx="538.4" cy="1158.7"/>
<circle cx="512.7" cy="1151.9"/>
<circle cx="541.6" cy="1170.8"/>
<circle cx="527.9" cy="1164.2"/>
<circle cx="560.2" cy="1156.8"/>
<circle cx="525.5" cy="1164.1"/>
<circle cx="522.9" cy="1150.8"/>
<circle cx="538.7" cy="1163.3"/>
<circle cx="540.2" cy="1142.4"/>
<circle cx="590.5" cy="1147.1"/>
<circle cx="534.8" cy="1149.6"/>
<circle cx="548.2" cy="1169.1"/>
<circle cx="603.9" cy="1169.2"/>
<circle cx="520.9" cy="1170.8"/>
<circle cx="512.4" cy="1160.9"/>
<circle cx="557.6" cy="1140.5"/>
<circle cx="543.9" cy="1139.8"/>
<circle cx="550.2" cy="1162.6"/>
<circle cx="574.1" cy="1151.3"/>
<circle cx="555.4" cy="1145.1"/>
<circle cx="586.8" cy="1153.5"/>
<circle cx="516.6" cy="1145.4"/>
<circle cx="528.2" cy="1156.3"/>
<circle cx="561.3" cy="1165.4"/>
<circle cx="536.2" cy="1158.7"/>
<circle cx="519.7" cy="1161.3"/>
<circle cx="535.6" cy="1150.8"/>
<circle cx="589.2" cy="1171.1"/>
<circle cx="577.0" cy="1166.4"/>
<circle cx="570.1" cy="1173.7"/>
<circle cx="510.2" cy="1149.1"/>
<circle cx="550.5" cy="1159.6"/>
<circle cx="663.2" cy="1190.1"/>
<circle cx="556.6" cy="1159.1"/>
<circle cx="554.0" cy="1182.5"/>
<circle cx="523.6" cy="1142.5"/>
<circle cx="512.8" cy="1155.4"/>
<circle cx="510.5" cy="1138.2"/>
<circle cx="573.5" cy="1132.0"/>
<circle cx="568.4" cy="1165.7"/>
<circle cx="530.3" cy="1167.2"/>
<circle cx="544.5" cy="1154.0"/>
<circle cx="540.2" cy="1144.1"/>
<circle cx="563.1" cy="1179.3"/>
<circle cx="538.4" cy="1139.1"/>
<circle cx="519.7" cy="1156.8"/>
<circle cx="567.0" cy="1144.4"/>
<circle cx="583.0" cy="1162.4"/>
<circle cx="550.1" cy="1158.0"/>
<circle cx="541.8" cy="1167.1"/>
<circle cx="574.4" cy="1169.9"/>
<circle cx="595.4" cy="1152.0"/>
<circle cx="568.0" cy="1158.8"/>
<circle cx="546.6" cy="1172.6"/>
<circle cx="542.6" cy="1151.5"/>
<circle cx="526.2" cy="1160.2"/>
<circle cx="524.3" cy="1160.2"/>
<circle cx="560.0" cy="1165.3"/>
<circle cx="534.5" cy="1161.3"/>
<circle cx="534.3" cy="1140.1"/>
<circle cx="526.2" cy="1162.3"/>
<circle cx="527.3" cy="1153.5"/>
<circle cx="584.3" cy="1171.0"/>
<circle cx="558.7" cy="1153.3"/>
<circle cx="595.6" cy="1153.4"/>
<circle cx="554.9" cy="1178.3"/>
<circle cx="570.2" cy="1155.3"/>
<circle cx="600.3" cy="1170.3"/>
<circle cx="522.0" cy="1153.2"/>
<circle cx="575.9" cy="1149.9"/>
<circle cx="583.8" cy="1168.3"/>
<circle cx="520.1" cy="1133.6"/>
<circle cx="551.8" cy="1158.8"/>
<circle cx="575.1" cy="1181.6"/>
<circle cx="549.8" cy="1146.7"/>
<circle cx="536.2" cy="1149.7"/>
<circle cx="510.0" cy="1165.3"/>
<circle cx="544.8" cy="1157.1"/>
<circle cx="662.1" cy="1185.3"/>
<circle cx="702.9" cy="1169.2"/>
<circle cx="601.2" cy="1171.3"/>
<circle cx="528.9" cy="1146.2"/>
<circle cx="541.9" cy="1160.2"/>
<circle cx="539.0" cy="1151.6"/>
<circle cx="540.8" cy="1146.7"/>
<circle cx="537.9" cy="1150.5"/>
<circle cx="525.6" cy="1157.8"/>
<circle cx="527.7" cy="1154.4"/>
<circle cx="511.9" cy="1166.2"/>
<circle cx="590.0" cy="1172.7"/>
<circle cx="512.2" cy="1159.2"/>
<circle cx="695.7" cy="1171.4"/>
<circle cx="608.4" cy="1162.9"/>
<circle cx="561.9" cy="1162.9"/>
<circle cx="718.2" cy="1175.2"/>
<circle cx="619.2" cy="1152.7"/>
<circle cx="513.3" cy="1131.2"/>
<circle cx="588.4" cy="1157.1"/>
<circle cx="580.7" cy="1165.7"/>
<circle cx="531.4" cy="1149.8"/>
<circle cx="538.6" cy="1139.1"/>
<circle cx="555.2" cy="1140.9"/>
<circle cx="614.4" cy="1170.5"/>
<circle cx="544.9" cy="1154.7"/>
<circle cx="663.3" cy="1165.7"/>
<circle cx="515.5" cy="1138.8"/>
<circle cx="519.6" cy="1141.8"/>
<circle cx="640.8" cy="1169.1"/>
<circle cx="518.6" cy="1144.7"/>
<circle cx="655.7" cy="1174.0"/>
<circle cx="515.7" cy="1161.5"/>
<circle cx="527.2" cy="1153.0"/>
<circle cx="548.0" cy="1164.2"/>
<circle cx="521.6" cy="1142.3"/>
<circle cx="544.6" cy="1179.9"/>
<circle cx="617.7" cy="1179.4"/>
<circle cx="520.6" cy="1153.0"/>
<circle cx="562.2" cy="1147.5"/>
<circle cx="578.3" cy="1157.9"/>
<circle cx="517.4" cy="1152.2"/>
<circle cx="554.9" cy="1159.3"/>
<circle cx="558.1" cy="1141.9"/>
<circle cx="525.9" cy="1181.5"/>
<circle cx="673.2" cy="1190.9"/>
<circle cx="571.1" cy="1166.4"/>
<circle cx="515.5" cy="1146.4"/>
<circle cx="688.7" cy="1171.8"/>
<circle cx="646.1" cy="1179.8"/>
<circle cx="525.3" cy="1150.6"/>
<circle cx="545.4" cy="1139.5"/>
<circle cx="514.6" cy="1149.2"/>
<circle cx="544.1" cy="1156.3"/>
<circle cx="557.6" cy="1164.8"/>
<circle cx="517.5" cy="1151.4"/>
<circle cx="537.6" cy="1169.2"/>
<circle cx="568.4" cy="1165.9"/>
<circle cx="623.2" cy="1160.4"/>
<circle cx="518.6" cy="1154.2"/>
<circle cx="620.4" cy="1150.1"/>
<circle cx="628.7" cy="1166.7"/>
<circle cx="536.1" cy="1159.7"/>
<circle cx="594.1" cy="1158.6"/>
<circle cx="518.4" cy="1131.1"/>
<circle cx="601.8" cy="1167.0"/>
<circle cx="558.4" cy="1162.4"/>
<circle cx="648.7" cy="1156.7"/>
<circle cx="518.5" cy="1150.0"/>
<circle cx="540.7" cy="1150.9"/>
<circle cx="520.9" cy="1163.2"/>
<circle cx="532.2" cy="1140.5"/>
<circle cx="557.8" cy="1160.2"/>
<circle cx="682.3" cy="1174.0"/>
<circle cx="549.2" cy="1169.5"/>
<circle cx="521.9" cy="1145.4"/>
<circle cx="556.1" cy="1162.1"/>
<circle cx="541.0" cy="1163.1"/>
<circle cx="555.2" cy="1152.6"/>
<circle cx="520.3" cy="1152.4"/>
<circle cx="643.9" cy="1180.0"/>
<circle cx="544.3" cy="1158.2"/>
<circle cx="567.4" cy="1134.4"/>
<circle cx="611.8" cy="1167.4"/>
<circle cx="528.8" cy="1131.8"/>
<circle cx="568.5" cy="1157.3"/>
<circle cx="593.5" cy="1169.2"/>
<circle cx="563.8" cy="1155.0"/>
<circle cx="523.5" cy="1149.8"/>
<circle cx="581.4" cy="1149.8"/>
<circle cx="515.2" cy="1166.9"/>
<circle cx="565.1" cy="1157.5"/>
<circle cx="510.6" cy="1153.2"/>
<circle cx="514.9" cy="1155.4"/>
<circle cx="529.4" cy="1161.2"/>
<circle cx="555.6" cy="1164.3"/>
<circle cx="511.9" cy="1151.5"/>
<circle cx="510.7" cy="1145.5"/>
<circle cx="536.7" cy="1158.3"/>
<circle cx="550.2" cy="1151.6"/>
<circle cx="580.6" cy="1177.2"/>
<circle cx="514.9" cy="1157.0"/>
<circle cx="510.4" cy="1153.3"/>
<circle cx="544.4" cy="1152.9"/>
<circle cx="523.6" cy="1170.6"/>
<circle cx="519.1" cy="1155.5"/>
<circle cx="582.4" cy="1168.1"/>
<circle cx="559.3" cy="1161.7"/>
<circle cx="528.9" cy="1151.0"/>
<circle cx="529.7" cy="1149.6"/>
<circle cx="663.9" cy="1188.4"/>
<circle cx="583.2" cy="1157.7"/>
<circle cx="551.7" cy="1155.8"/>
<circle cx="540.3" cy="1154.1"/>
<circle cx="609.8" cy="1157.0"/>
<circle cx="610.4" cy="1180.1"/>
<circle cx="527.2" cy="1152.5"/>
<circle cx="614.7" cy="1159.3"/>
<circle cx="527.2" cy="1160.3"/>
<circle cx="521.0" cy="1154.9"/>
<circle cx="514.5" cy="1155.5"/>
<circle cx="545.5" cy="1155.8"/>
<circle cx="526.7" cy="1168.0"/>
<circle cx="648.0" cy="1170.3"/>
<circle cx="511.7" cy="1154.9"/>
<circle cx="532.2" cy="1155.4"/>
<circle cx="541.9" cy="1160.8"/>
<circle cx="614.5" cy="1171.6"/>
<circle cx="550.4" cy="1156.7"/>
<circle cx="572.1" cy="1149.9"/>
<circle cx="526.2" cy="1159.2"/>
<circle cx="682.8" cy="1184.3"/>
<circle cx="525.8" cy="1164.6"/>
<circle cx="543.4" cy="1158.2"/>
<circle cx="564.0" cy="1167.0"/>
<circle cx="632.1" cy="1164.5"/>
<circle cx="516.4" cy="1155.0"/>
<circle cx="565.0" cy="1147.7"/>
<circle cx="540.7" cy="1158.9"/>
<circle cx="568.0" cy="1140.1"/>
<circle cx="525.5" cy="1138.1"/>
<circle cx="586.2" cy="1172.8"/>
<circle cx="515.3" cy="1141.5"/>
<circle cx="525.8" cy="1147.5"/>
<circle cx="559.0" cy="1145.0"/>
<circle cx="539.4" cy="1161.6"/>
<circle cx="516.8" cy="1139.7"/>
<circle cx="689.6" cy="1182.2"/>
<circle cx="510.8" cy="1152.9"/>
<circle cx="554.9" cy="1155.6"/>
<circle cx="545.3" cy="1147.9"/>
<circle cx="518.1" cy="1157.0"/>
<circle cx="517.9" cy="1161.7"/>
<circle cx="524.0" cy="1154.1"/>
<circle cx="514.5" cy="1154.3"/>
<circle cx="585.7" cy="1185.6"/>
<circle cx="524.1" cy="1152.7"/>
<circle cx="568.7" cy="1149.0"/>
<circle cx="600.2" cy="1156.5"/>
<circle cx="598.2" cy="1170.8"/>
<circle cx="514.8" cy="1136.8"/>
<circle cx="557.0" cy="1168.3"/>
<circle cx="515.9" cy="1150.0"/>
<circle cx="518.4" cy="1150.8"/>
<circle cx="590.1" cy="1154.3"/>
<circle cx="511.3" cy="1161.7"/>
<circle cx="552.2" cy="1154.9"/>
<circle cx="576.1" cy="1160.7"/>
<circle cx="561.2" cy="1155.9"/>
<circle cx="510.2" cy="1161.5"/>
<circle cx="513.9" cy="1166.6"/>
<circle cx="588.8" cy="1165.0"/>
<circle cx="582.3" cy="1169.3"/>
<circle cx="529.8" cy="1153.7"/>
<circle cx="638.4" cy="1191.5"/>
<circle cx="598.2" cy="1162.0"/>
<circle cx="542.6" cy="1190.5"/>
<circle cx="525.6" cy="1161.7"/>
<circle cx="567.2" cy="1155.4"/>
<circle cx="614.4" cy="1168.2"/>
<circle cx="556.5" cy="1159.8"/>
<circle cx="521.0" cy="1162.5"/>
<circle cx="586.8" cy="1155.4"/>
<circle cx="569.5" cy="1163.9"/>
<circle cx="638.4" cy="1149.8"/>
<circle cx="644.3" cy="1190.7"/>
<circle cx="637.2" cy="1173.8"/>
<circle cx="555.5" cy="1157.2"/>
<circle cx="528.5" cy="1131.1"/>
<circle cx="529.6" cy="1147.7"/>
<circle cx="514.7" cy="1159.1"/>
<circle cx="661.5" cy="1150.4"/>
<circle cx="595.9" cy="1138.7"/>
<circle cx="578.5" cy="1157.2"/>
<circle cx="537.1" cy="1130.0"/>
<circle cx="583.7" cy="1167.1"/>
<circle cx="589.0" cy="1167.7"/>
<circle cx="561.8" cy="1145.9"/>
<circle cx="524.3" cy="1153.8"/>
<circle cx="571.2" cy="1167.7"/>
<circle cx="525.0" cy="1160.6"/>
<circle cx="511.1" cy="1158.3"/>
<circle cx="530.2" cy="1156.3"/>
<circle cx="663.4" cy="1170.4"/>
<circle cx="542.4" cy="1145.3"/>
<circle cx="589.7" cy="1165.2"/>
<circle cx="553.7" cy="1154.3"/>
<circle cx="524.7" cy="1148.9"/>
<circle cx="554.4" cy="1150.9"/>
<circle cx="514.1" cy="1140.7"/>
<circle cx="579.3" cy="1164.9"/>
<circle cx="550.1" cy="1139.7"/>
<circle cx="516.8" cy="1160.7"/>
<circle cx="689.8" cy="1186.3"/>
<circle cx="517.1" cy="1129.5"/>
<circle cx="516.9" cy="1148.1"/>
<circle cx="575.1" cy="1156.0"/>
<circle cx="578.5" cy="1164.8"/>
<circle cx="611.6" cy="1165.6"/>
<circle cx="588.6" cy="1168.9"/>
<circle cx="547.0" cy="1152.4"/>
<circle cx="544.7" cy="1159.9"/>
<circle cx="556.6" cy="1165.2"/>
<circle cx="540.0" cy="1150.9"/>
<circle cx="607.2" cy="1164.2"/>
<circle cx="532.8" cy="1169.4"/>
<circle cx="602.7" cy="1170.2"/>
<circle cx="534.0" cy="1151.8"/>
<circle cx="552.9" cy="1170.2"/>
<circle cx="566.1" cy="1176.5"/>
<circle cx="562.3" cy="1165.3"/>
<circle cx="515.8" cy="1157.5"/>
<circle cx="551.1" cy="1156.9"/>
<circle cx="525.3" cy="1162.9"/>
<circle cx="569.6" cy="1168.2"/>
<circle cx="514.4" cy="1145.7"/>
<circle cx="559.3" cy="1156.5"/>
<circle cx="524.6" cy="1156.4"/>
<circle cx="624.3" cy="1153.8"/>
<circle cx="579.8" cy="1151.5"/>
<circle cx="569.0" cy="1158.4"/>
<circle cx="523.4" cy="1153.8"/>
<circle cx="742.6" cy="1169.6"/>
<circle cx="513.1" cy="1146.0"/>
<circle cx="513.1" cy="1152.9"/>
<circle cx="544.5" cy="1163.9"/>
<circle cx="555.4" cy="1150.7"/>
<circle cx="555.2" cy="1159.5"/>
<circle cx="523.6" cy="1172.3"/>
<circle cx="588.5" cy="1175.2"/>
<circle cx="511.2" cy="1150.4"/>
<circle cx="623.1" cy="1161.4"/>
<circle cx="515.8" cy="1148.1"/>
<circle cx="571.7" cy="1156.9"/>
<circle cx="552.9" cy="1179.5"/>
<circle cx="596.1" cy="1144.4"/>
<circle cx="672.5" cy="1182.2"/>
<circle cx="539.0" cy="1156.0"/>
<circle cx="554.4" cy="1171.8"/>
<circle cx="554.9" cy="1158.5"/>
<circle cx="725.1" cy="1189.8"/>
<circle cx="621.4" cy="1173.7"/>
<circle cx="542.1" cy="1157.9"/>
<circle cx="569.1" cy="1166.8"/>
<circle cx="543.1" cy="1161.3"/>
<circle cx="705.7" cy="1174.4"/>
<circle cx="546.8" cy="1153.0"/>
<circle cx="526.7" cy="1157.5"/>
<circle cx="575.3" cy="1175.9"/>
<circle cx="530.5" cy="1154.5"/>
<circle cx="531.3" cy="1145.9"/>
<circle cx="515.7" cy="1159.3"/>
<circle cx="598.8" cy="1149.6"/>
<circle cx="544.0" cy="1151.1"/>
<circle cx="525.3" cy="1143.6"/>
<circle cx="534.5" cy="1155.6"/>
<circle cx="519.6" cy="1154.0"/>
<circle cx="629.2" cy="1156.8"/>
<circle cx="531.2" cy="1150.8"/>
<circle cx="582.8" cy="1153.0"/>
<circle cx="513.7" cy="1166.0"/>
<circle cx="520.1" cy="1155.8"/>
<circle cx="545.8" cy="1148.5"/>
<circle cx="573.2" cy="1156.0"/>
<circle cx="532.7" cy="1171.0"/>
<circle cx="577.3" cy="1151.8"/>
<circle cx="576.3" cy="1152.8"/>
<circle cx="541.5" cy="1166.5"/>
<circle cx="537.5" cy="1154.2"/>
<circle cx="535.7" cy="1147.2"/>
<circle cx="636.5" cy="1171.0"/>
<circle cx="527.7" cy="1152.7"/>
<circle cx="615.1" cy="1172.0"/>
<circle cx="565.2" cy="1171.3"/>
<circle cx="525.8" cy="1153.2"/>
<circle cx="526.2" cy="1132.1"/>
<circle cx="537.7" cy="1162.2"/>
<circle cx="587.9" cy="1169.8"/>
<circle cx="636.0" cy="1174.4"/>
<circle cx="546.1" cy="1157.1"/>
<circle cx="532.8" cy="1172.4"/>
<circle cx="621.8" cy="1145.5"/>
<circle cx="515.5" cy="1159.5"/>
<circle cx="598.1" cy="1166.3"/>
<circle cx="580.5" cy="1163.7"/>
<circle cx="546.0" cy="1162.4"/>
<circle cx="549.2" cy="1158.7"/>
<circle cx="531.7" cy="1161.4"/>
<circle cx="558.6" cy="1145.5"/>
<circle cx="718.2" cy="1185.5"/>
<circle cx="585.4" cy="1150.2"/>
<circle cx="510.1" cy="1146.5"/>
<circle cx="578.9" cy="1137.0"/>
<circle cx="513.1" cy="1178.2"/>
<circle cx="546.7" cy="1156.2"/>
<circle cx="605.9" cy="1174.5"/>
<circle cx="510.6" cy="1161.1"/>
<circle cx="553.3" cy="1150.6"/>
<circle cx="536.0" cy="1166.6"/>
<circle cx="572.7" cy="1159.1"/>
<circle cx="535.0" cy="1160.3"/>
<circle cx="585.2" cy="1164.3"/>
<circle cx="559.7" cy="1187.6"/>
<circle cx="518.6" cy="1150.7"/>
<circle cx="516.9" cy="1154.3"/>
<circle cx="520.2" cy="1136.4"/>
<circle cx="613.3" cy="1169.9"/>
<circle cx="536.3" cy="1170.6"/>
<circle cx="514.2" cy="1158.9"/>
<circle cx="542.3" cy="1151.2"/>
<circle cx="563.9" cy="1159.4"/>
<circle cx="517.6" cy="1154.2"/>
<circle cx="583.9" cy="1147.0"/>
<circle cx="510.2" cy="1167.9"/>
<circle cx="562.6" cy="1143.5"/>
<circle cx="629.3" cy="1154.1"/>
<circle cx="581.1" cy="1164.4"/>
<circle cx="637.1" cy="1161.5"/>
<circle cx="547.7" cy="1155.7"/>
<circle cx="537.2" cy="1155.0"/>
<circle cx="644.1" cy="1158.8"/>
<circle cx="525.0" cy="1144.4"/>
<circle cx="559.3" cy="1178.0"/>
<circle cx="574.2" cy="1149.0"/>
<circle cx="536.0" cy="1144.3"/>
<circle cx="545.4" cy="1163.7"/>
<circle cx="591.0" cy="1161.9"/>
<circle cx="512.9" cy="1161.2"/>
<circle cx="659.8" cy="1155.9"/>
<circle cx="556.0" cy="1157.7"/>
<circle cx="526.5" cy="1161.5"/>
<circle cx="530.7" cy="1144.9"/>
<circle cx="513.0" cy="1149.8"/>
<circle cx="534.3" cy="1152.8"/>
<circle cx="575.4" cy="1167.1"/>
<circle cx="514.1" cy="1147.6"/>
<circle cx="531.2" cy="1155.1"/>
<circle cx="513.7" cy="1142.6"/>
<circle cx="564.5" cy="1132.3"/>
<circle cx="544.2" cy="1162.8"/>
<circle cx="619.8" cy="1184.8"/>
<circle cx="637.7" cy="1172.6"/>
<circle cx="567.5" cy="1161.4"/>
<circle cx="586.8" cy="1170.5"/>
<circle cx="516.8" cy="1152.8"/>
<circle cx="580.1" cy="1173.1"/>
<circle cx="571.4" cy="1165.2"/>
<circle cx="557.2" cy="1170.7"/>
<circle cx="537.1" cy="1165.1"/>
<circle cx="523.4" cy="1180.1"/>
<circle cx="641.4" cy="1169.8"/>
<circle cx="512.0" cy="1133.7"/>
<circle cx="583.8" cy="1157.6"/>
<circle cx="538.3" cy="1148.2"/>
<circle cx="588.6" cy="1161.8"/>
<circle cx="586.9" cy="1160.1"/>
<circle cx="512.3" cy="1135.9"/>
<circle cx="631.3" cy="1156.1"/>
<circle cx="604.8" cy="1174.1"/>
<circle cx="516.2" cy="1192.3"/>
<circle cx="539.9" cy="1168.4"/>
<circle cx="547.4" cy="1155.3"/>
<circle cx="536.1" cy="1147.8"/>
<circle cx="510.7" cy="1175.3"/>
<circle cx="555.6" cy="1159.8"/>
<circle cx="542.1" cy="1156.1"/>
<circle cx="518.0" cy="1147.0"/>
<circle cx="515.7" cy="1159.8"/>
<circle cx="541.4" cy="1158.7"/>
<circle cx="550.6" cy="1147.0"/>
<circle cx="621.3" cy="1173.5"/>
<circle cx="600.0" cy="1159.0"/>
<circle cx="587.6" cy="1171.3"/>
<circle cx="532.2" cy="1137.3"/>
<circle cx="594.7" cy="1171.3"/>
<circle cx="524.3" cy="1143.7"/>
<circle cx="520.1" cy="1143.0"/>
<circle cx="524.2" cy="1155.8"/>
<circle cx="635.9" cy="1168.2"/>
<circle cx="520.2" cy="1150.9"/>
<circle cx="550.8" cy="1156.5"/>
<circle cx="518.8" cy="1174.7"/>
<circle cx="549.2" cy="1144.6"/>
<circle cx="652.9" cy="1167.4"/>
<circle cx="575.6" cy="1164.8"/>
<circle cx="631.2" cy="1168.0"/>
<circle cx="514.8" cy="1166.3"/>
<circle cx="582.2" cy="1195.4"/>
<circle cx="522.8" cy="1157.2"/>
<circle cx="542.7" cy="1160.8"/>
<circle cx="556.4" cy="1139.0"/>
<circle cx="534.6" cy="1150.5"/>
<circle cx="517.2" cy="1162.3"/>
<circle cx="524.2" cy="1167.0"/>
<circle cx="527.4" cy="1142.9"/>
<circle cx="574.3" cy="1159.3"/>
<circle cx="594.0" cy="1143.6"/>
<circle cx="599.8" cy="1179.3"/>
<circle cx="569.7" cy="1177.8"/>
<circle cx="510.8" cy="1157.5"/>
<circle cx="558.4" cy="1161.4"/>
<circle cx="517.9" cy="1158.0"/>
<circle cx="512.3" cy="1161.3"/>
<circle cx="559.6" cy="1164.6"/>
<circle cx="643.1" cy="1184.4"/>
<circle cx="560.9" cy="1153.3"/>
<circle cx="533.8" cy="1161.7"/>
<circle cx="556.1" cy="1147.0"/>
<circle cx="528.2" cy="1151.7"/>
<circle cx="530.0" cy="1149.0"/>
<circle cx="547.5" cy="1153.1"/>
<circle cx="630.3" cy="1141.4"/>
<circle cx="533.4" cy="1158.8"/>
<circle cx="602.8" cy="1153.7"/>
<circle cx="569.0" cy="1154.0"/>
<circle cx="520.2" cy="1152.0"/>
<circle cx="558.7" cy="1167.6"/>
<circle cx="636.2" cy="1165.9"/>
<circle cx="538.1" cy="1158.7"/>
<circle cx="607.2" cy="1165.8"/>
<circle cx="533.8" cy="1162.8"/>
<circle cx="548.6" cy="1153.1"/>
<circle cx="549.9" cy="1162.1"/>
<circle cx="543.3" cy="1174.3"/>
<circle cx="530.2" cy="1152.4"/>
<circle cx="552.3" cy="1160.9"/>
<circle cx="527.6" cy="1159.4"/>
<circle cx="511.8" cy="1162.9"/>
<circle cx="523.0" cy="1154.0"/>
<circle cx="520.5" cy="1144.8"/>
<circle cx="535.7" cy="1153.9"/>
<circle cx="510.2" cy="1176.3"/>
<circle cx="571.9" cy="1152.6"/>
<circle cx="527.4" cy="1144.8"/>
<circle cx="547.7" cy="1141.5"/>
<circle cx="558.0" cy="1150.9"/>
<circle cx="517.8" cy="1136.5"/>
<circle cx="589.0" cy="1160.7"/>
<circle cx="604.5" cy="1175.9"/>
<circle cx="606.6" cy="1164.8"/>
<circle cx="561.7" cy="1156.1"/>
<circle cx="544.7" cy="1160.5"/>
<circle cx="554.9" cy="1172.7"/>
<circle cx="561.1" cy="1151.6"/>
<circle cx="636.8" cy="1162.8"/>
<circle cx="624.1" cy="1171.7"/>
<circle cx="511.0" cy="1159.9"/>
<circle cx="555.8" cy="1164.2"/>
<circle cx="516.2" cy="1137.5"/>
<circle cx="565.9" cy="1169.5"/>
<circle cx="547.4" cy="1167.4"/>
<circle cx="527.3" cy="1138.2"/>
<circle cx="531.4" cy="1141.4"/>
<circle cx="630.8" cy="1165.8"/>
<circle cx="528.9" cy="1162.3"/>
<circle cx="532.2" cy="1171.5"/>
<circle cx="560.9" cy="1158.5"/>
<circle cx="564.2" cy="1156.0"/>
<circle cx="551.3" cy="1167.2"/>
<circle cx="704.9" cy="1186.5"/>
<circle cx="580.5" cy="1174.3"/>
<circle cx="523.3" cy="1164.9"/>
<circle cx="550.6" cy="1159.7"/>
<circle cx="536.5" cy="1149.9"/>
<circle cx="577.8" cy="1147.4"/>
<circle cx="550.3" cy="1147.4"/>
<circle cx="589.1" cy="1152.1"/>
<circle cx="731.2" cy="1172.5"/>
<circle cx="518.0" cy="1163.5"/>
<circle cx="543.5" cy="1153.1"/>
<circle cx="522.8" cy="1154.4"/>
<circle cx="566.3" cy="1168.0"/>
<circle cx="629.1" cy="1167.0"/>
<circle cx="563.1" cy="1179.7"/>
<circle cx="523.4" cy="1151.4"/>
<circle cx="549.2" cy="1161.8"/>
<circle cx="532.6" cy="1141.1"/>
<circle cx="515.0" cy="1144.9"/>
<circle cx="578.2" cy="1160.4"/>
<circle cx="517.4" cy="1147.5"/>
<circle cx="542.4" cy="1144.6"/>
<circle cx="585.8" cy="1168.0"/>
<circle cx="597.7" cy="1158.8"/>
<circle cx="524.1" cy="1142.9"/>
<circle cx="565.7" cy="1167.3"/>
<circle cx="568.9" cy="1154.5"/>
<circle cx="565.6" cy="1179.5"/>
<circle cx="533.0" cy="1135.8"/>
<circle cx="545.9" cy="1153.0"/>
<circle cx="562.0" cy="1132.7"/>
<circle cx="530.4" cy="1149.0"/>
<circle cx="573.9" cy="1170.6"/>
<circle cx="649.2" cy="1166.3"/>
<circle cx="520.0" cy="1152.1"/>
<circle cx="558.9" cy="1150.6"/>
<circle cx="515.5" cy="1142.0"/>
<circle cx="516.3" cy="1141.8"/>
<circle cx="525.9" cy="1165.9"/>
<circle cx="538.5" cy="1155.6"/>
<circle cx="599.1" cy="1177.4"/>
<circle cx="546.6" cy="1167.9"/>
<circle cx="582.0" cy="1144.1"/>
<circle cx="520.8" cy="1151.7"/>
<circle cx="526.0" cy="1151.6"/>
<circle cx="572.3" cy="1176.4"/>
<circle cx="534.9" cy="1157.3"/>
<circle cx="523.1" cy="1167.3"/>
<circle cx="615.7" cy="1164.0"/>
<circle cx="513.6" cy="1158.1"/>
<circle cx="636.5" cy="1165.0"/>
<circle cx="557.6" cy="1147.2"/>
<circle cx="602.8" cy="1171.8"/>
<circle cx="573.2" cy="1169.9"/>
<circle cx="567.3" cy="1147.8"/>
<circle cx="564.1" cy="1182.7"/>
<circle cx="538.1" cy="1161.2"/>
<circle cx="544.9" cy="1144.3"/>
<circle cx="571.4" cy="1167.2"/>
<circle cx="624.5" cy="1183.6"/>
<circle cx="513.5" cy="1167.6"/>
<circle cx="536.5" cy="1158.2"/>
<circle cx="550.6" cy="1175.4"/>
<circle cx="512.2" cy="1151.3"/>
<circle cx="526.2" cy="1165.5"/>
<circle cx="523.1" cy="1157.8"/>
<circle cx="574.1" cy="1184.6"/>
<circle cx="640.4" cy="1168.6"/>
<circle cx="558.8" cy="1142.0"/>
<circle cx="520.5" cy="1165.4"/>
<circle cx="543.0" cy="1156.1"/>
<circle cx="563.4" cy="1151.8"/>
<circle cx="581.1" cy="1181.7"/>
<circle cx="536.6" cy="1148.5"/>
<circle cx="510.2" cy="1139.4"/>
<circle cx="666.4" cy="1168.2"/>
<circle cx="546.9" cy="1145.2"/>
<circle cx="611.5" cy="1156.4"/>
<circle cx="571.8" cy="1169.7"/>
<circle cx="514.8" cy="1151.6"/>
<circle cx="592.7" cy="1168.4"/>
<circle cx="654.9" cy="1163.2"/>
<circle cx="569.9" cy="1154.7"/>
<circle cx="626.8" cy="1158.9"/>
<circle cx="516.9" cy="1162.9"/>
<circle cx="515.7" cy="1151.5"/>
<circle cx="579.4" cy="1167.0"/>
<circle cx="533.9" cy="1151.0"/>
<circle cx="515.4" cy="1137.6"/>
<circle cx="522.8" cy="1152.0"/>
<circle cx="527.5" cy="1150.2"/>
<circle cx="529.3" cy="1170.2"/>
<circle cx="693.5" cy="1171.5"/>
<circle cx="520.4" cy="1144.1"/>
<circle cx="570.6" cy="1155.7"/>
<circle cx="702.9" cy="1177.1"/>
<circle cx="655.4" cy="1162.8"/>
<circle cx="599.1" cy="1160.0"/>
<circle cx="559.6" cy="1143.6"/>
<circle cx="517.4" cy="1165.5"/>
<circle cx="550.1" cy="1158.1"/>
<circle cx="670.5" cy="1166.4"/>
<circle cx="520.8" cy="1153.6"/>
<circle cx="550.6" cy="1160.4"/>
<circle cx="577.4" cy="1162.9"/>
<circle cx="540.5" cy="1160.5"/>
<circle cx="585.2" cy="1157.6"/>
<circle cx="514.6" cy="1145.3"/>
<circle cx="554.8" cy="1123.5"/>
<circle cx="550.2" cy="1159.5"/>
<circle cx="516.0" cy="1170.4"/>
<circle cx="527.2" cy="1143.7"/>
<circle cx="615.2" cy="1170.6"/>
<circle cx="532.6" cy="1148.8"/>
<circle cx="536.5" cy="1161.0"/>
<circle cx="378.7" cy="1200.3"/>
<circle cx="444.4" cy="1193.8"/>
<circle cx="427.7" cy="1145.1"/>
<circle cx="439.1" cy="1130.7"/>
<circle cx="421.2" cy="1188.1"/>
<circle cx="450.3" cy="1201.4"/>
<circle cx="392.8" cy="1138.3"/>
<circle cx="447.3" cy="1152.6"/>
<circle cx="442.3" cy="1179.1"/>
<circle cx="432.8" cy="1166.8"/>
<circle cx="418.0" cy="1172.9"/>
<circle cx="418.2" cy="1149.7"/>
<circle cx="437.3" cy="1205.7"/>
<circle cx="365.8" cy="1167.1"/>
<circle cx="434.3" cy="1162.7"/>
<circle cx="344.1" cy="1149.2"/>
<circle cx="433.0" cy="1174.8"/>
<circle cx="444.1" cy="1151.8"/>
<circle cx="429.0" cy="1155.6"/>
<circle cx="389.0" cy="1171.2"/>
<circle cx="424.2" cy="1177.3"/>
<circle cx="439.5" cy="1186.4"/>
<circle cx="447.2" cy="1163.7"/>
<circle cx="436.4" cy="1109.6"/>
<circle cx="425.3" cy="1168.3"/>
<circle cx="375.9" cy="1172.8"/>
<circle cx="436.4" cy="1161.2"/>
<circle cx="440.8" cy="1126.8"/>
<circle cx="399.4" cy="1197.3"/>
<circle cx="412.9" cy="1135.7"/>
<circle cx="374.1" cy="1162.8"/>
<circle cx="380.6" cy="1143.9"/>
<circle cx="427.0" cy="1137.8"/>
<circle cx="334.1" cy="1177.2"/>
<circle cx="432.7" cy="1154.2"/>
<circle cx="427.9" cy="1158.5"/>
<circle cx="428.3" cy="1193.9"/>
<circle cx="443.4" cy="1154.4"/>
<circle cx="440.4" cy="1154.6"/>
<circle cx="428.5" cy="1174.3"/>
<circle cx="409.6" cy="1193.1"/>
<circle cx="383.6" cy="1203.3"/>
<circle cx="431.0" cy="1201.6"/>
<circle cx="418.0" cy="1198.2"/>
<circle cx="382.4" cy="1161.0"/>
<circle cx="431.1" cy="1200.3"/>
<circle cx="383.0" cy="1182.5"/>
<circle cx="434.9" cy="1173.9"/>
<circle cx="414.3" cy="1168.5"/>
<circle cx="381.0" cy="1198.4"/>
<circle cx="360.8" cy="1158.4"/>
<circle cx="407.3" cy="1185.7"/>
<circle cx="436.9" cy="1169.6"/>
<circle cx="425.0" cy="1196.7"/>
<circle cx="440.2" cy="1171.7"/>
<circle cx="449.9" cy="1158.3"/>
<circle cx="399.6" cy="1141.5"/>
<circle cx="366.9" cy="1204.2"/>
<circle cx="433.9" cy="1170.0"/>
<circle cx="406.4" cy="1172.1"/>
<circle cx="442.7" cy="1167.7"/>
<circle cx="426.8" cy="1119.2"/>
<circle cx="418.3" cy="1156.4"/>
<circle cx="448.5" cy="1170.9"/>
<circle cx="395.4" cy="1162.7"/>
<circle cx="442.2" cy="1201.9"/>
<circle cx="427.5" cy="1192.9"/>
<circle cx="423.9" cy="1201.0"/>
<circle cx="442.9" cy="1191.9"/>
<circle cx="362.3" cy="1144.4"/>
<circle cx="413.5" cy="1187.9"/>
<circle cx="441.9" cy="1192.7"/>
<circle cx="442.4" cy="1121.4"/>
<circle cx="408.7" cy="1182.1"/>
<circle cx="450.8" cy="1166.4"/>
<circle cx="358.1" cy="1196.2"/>
<circle cx="403.1" cy="1202.0"/>
<circle cx="337.8" cy="1202.6"/>
<circle cx="417.4" cy="1193.2"/>
<circle cx="413.6" cy="1148.5"/>
<circle cx="429.3" cy="1152.0"/>
<circle cx="425.5" cy="1205.3"/>
<circle cx="445.4" cy="1194.3"/>
<circle cx="350.6" cy="1195.2"/>
<circle cx="444.4" cy="1170.3"/>
<circle cx="440.5" cy="1142.3"/>
<circle cx="418.3" cy="1176.2"/>
<circle cx="439.4" cy="1144.9"/>
<circle cx="430.2" cy="1161.6"/>
<circle cx="436.6" cy="1149.3"/>
<circle cx="419.5" cy="1131.0"/>
<circle cx="410.4" cy="1178.2"/>
<circle cx="427.6" cy="1191.4"/>
<circle cx="435.8" cy="1178.2"/>
<circle cx="443.5" cy="1204.6"/>
<circle cx="358.3" cy="1158.4"/>
<circle cx="443.7" cy="1151.5"/>
<circle cx="450.3" cy="1175.2"/>
<circle cx="382.4" cy="1176.0"/>
<circle cx="436.5" cy="1132.9"/>
<circle cx="431.8" cy="1201.0"/>
<circle cx="420.0" cy="1183.7"/>
<circle cx="401.8" cy="1095.1"/>
<circle cx="446.3" cy="1203.8"/>
<circle cx="441.3" cy="1195.3"/>
<circle cx="425.8" cy="1168.7"/>
<circle cx="423.8" cy="1135.6"/>
<circle cx="403.6" cy="1183.5"/>
<circle cx="403.6" cy="1147.3"/>
<circle cx="428.3" cy="1193.8"/>
<circle cx="440.6" cy="1153.1"/>
<circle cx="433.9" cy="1195.2"/>
<circle cx="430.9" cy="1169.8"/>
<circle cx="415.7" cy="1189.2"/>
<circle cx="392.6" cy="1186.9"/>
<circle cx="431.0" cy="1196.3"/>
<circle cx="376.8" cy="1168.5"/>
<circle cx="411.9" cy="1153.0"/>
<circle cx="435.3" cy="1187.2"/>
<circle cx="436.4" cy="1175.0"/>
<circle cx="429.9" cy="1155.6"/>
<circle cx="388.2" cy="1163.4"/>
<circle cx="427.4" cy="1147.2"/>
<circle cx="446.2" cy="1205.2"/>
<circle cx="445.7" cy="1115.8"/>
<circle cx="396.1" cy="1158.2"/>
<circle cx="448.3" cy="1180.2"/>
<circle cx="308.1" cy="1199.2"/>
<circle cx="424.4" cy="1162.3"/>
<circle cx="259.4" cy="1189.0"/>
<circle cx="392.8" cy="1175.3"/>
<circle cx="401.2" cy="1181.7"/>
<circle cx="391.1" cy="1171.8"/>
<circle cx="379.1" cy="1156.7"/>
<circle cx="436.8" cy="1183.9"/>
<circle cx="433.0" cy="1198.6"/>
<circle cx="419.0" cy="1136.3"/>
<circle cx="444.6" cy="1198.8"/>
<circle cx="400.2" cy="1190.4"/>
<circle cx="440.2" cy="1167.7"/>
<circle cx="297.8" cy="1151.5"/>
<circle cx="377.0" cy="1176.3"/>
<circle cx="343.8" cy="1183.7"/>
<circle cx="437.0" cy="1172.2"/>
<circle cx="381.1" cy="1186.9"/>
<circle cx="414.7" cy="1178.7"/>
<circle cx="401.5" cy="1173.1"/>
<circle cx="433.0" cy="1197.3"/>
<circle cx="440.4" cy="1160.4"/>
<circle cx="441.4" cy="1135.4"/>
<circle cx="427.4" cy="1166.1"/>
<circle cx="447.4" cy="1156.1"/>
<circle cx="446.5" cy="1135.9"/>
<circle cx="406.5" cy="1141.3"/>
<circle cx="427.5" cy="1174.9"/>
<circle cx="445.9" cy="1164.6"/>
<circle cx="441.8" cy="1160.0"/>
<circle cx="425.0" cy="1183.3"/>
<circle cx="443.1" cy="1195.9"/>
<circle cx="418.5" cy="1193.5"/>
<circle cx="430.9" cy="1179.7"/>
<circle cx="407.0" cy="1182.0"/>
<circle cx="400.9" cy="1150.1"/>
<circle cx="419.1" cy="1202.6"/>
<circle cx="421.9" cy="1171.4"/>
<circle cx="423.0" cy="1171.2"/>
<circle cx="429.2" cy="1189.5"/>
<circle cx="441.4" cy="1183.7"/>
<circle cx="442.9" cy="1193.6"/>
<circle cx="405.8" cy="1196.5"/>
<circle cx="443.8" cy="1174.5"/>
<circle cx="448.4" cy="1179.7"/>
<circle cx="431.9" cy="1157.9"/>
<circle cx="414.5" cy="1142.9"/>
<circle cx="426.2" cy="1187.7"/>
<circle cx="261.6" cy="1160.1"/>
<circle cx="242.7" cy="1163.9"/>
<circle cx="429.3" cy="1173.5"/>
<circle cx="419.6" cy="1170.3"/>
<circle cx="391.4" cy="1157.9"/>
<circle cx="397.8" cy="1122.2"/>
<circle cx="431.0" cy="1168.4"/>
<circle cx="354.9" cy="1192.6"/>
<circle cx="434.3" cy="1155.7"/>
<circle cx="450.2" cy="1172.9"/>
<circle cx="433.6" cy="1176.7"/>
<circle cx="439.1" cy="1205.5"/>
<circle cx="443.3" cy="1193.4"/>
<circle cx="431.9" cy="1202.1"/>
<circle cx="417.8" cy="1203.2"/>
<circle cx="324.5" cy="1163.8"/>
<circle cx="370.1" cy="1186.1"/>
<circle cx="436.1" cy="1202.2"/>
<circle cx="431.0" cy="1185.3"/>
<circle cx="447.9" cy="1184.0"/>
<circle cx="423.4" cy="1158.9"/>
<circle cx="447.0" cy="1172.5"/>
<circle cx="425.0" cy="1181.6"/>
<circle cx="417.1" cy="1155.1"/>
<circle cx="386.5" cy="1180.4"/>
<circle cx="392.1" cy="1170.1"/>
<circle cx="421.7" cy="1155.8"/>
<circle cx="447.0" cy="1137.1"/>
<circle cx="401.5" cy="1186.3"/>
<circle cx="406.3" cy="1175.9"/>
<circle cx="406.9" cy="1164.5"/>
<circle cx="431.4" cy="1170.6"/>
<circle cx="450.2" cy="1147.1"/>
<circle cx="422.5" cy="1170.8"/>
<circle cx="443.3" cy="1167.9"/>
<circle cx="380.8" cy="1157.7"/>
<circle cx="310.9" cy="1181.8"/>
<circle cx="422.5" cy="1165.7"/>
<circle cx="389.6" cy="1193.0"/>
<circle cx="447.2" cy="1196.8"/>
<circle cx="445.2" cy="1156.2"/>
<circle cx="427.3" cy="1176.6"/>
<circle cx="419.9" cy="1163.7"/>
<circle cx="421.0" cy="1159.6"/>
<circle cx="438.1" cy="1141.2"/>
<circle cx="439.4" cy="1115.6"/>
<circle cx="422.7" cy="1183.5"/>
<circle cx="448.6" cy="1149.3"/>
<circle cx="369.6" cy="1194.4"/>
<circle cx="432.2" cy="1140.9"/>
<circle cx="427.5" cy="1186.5"/>
<circle cx="427.6" cy="1197.2"/>
<circle cx="447.8" cy="1188.9"/>
<circle cx="402.4" cy="1112.0"/>
<circle cx="431.8" cy="1201.8"/>
<circle cx="444.5" cy="1194.7"/>
<circle cx="420.5" cy="1164.3"/>
<circle cx="445.7" cy="1178.3"/>
<circle cx="294.6" cy="1163.1"/>
<circle cx="430.7" cy="1154.2"/>
<circle cx="433.3" cy="1194.7"/>
<circle cx="434.3" cy="1178.7"/>
<circle cx="435.5" cy="1122.0"/>
<circle cx="444.3" cy="1159.9"/>
<circle cx="446.0" cy="1181.2"/>
<circle cx="449.6" cy="1190.9"/>
<circle cx="396.4" cy="1176.1"/>
<circle cx="431.2" cy="1137.1"/>
<circle cx="397.0" cy="1200.2"/>
<circle cx="442.9" cy="1177.9"/>
<circle cx="435.8" cy="1167.2"/>
<circle cx="441.0" cy="1179.8"/>
<circle cx="427.1" cy="1162.2"/>
<circle cx="442.5" cy="1174.0"/>
<circle cx="431.6" cy="1136.5"/>
<circle cx="401.6" cy="1178.3"/>
<circle cx="401.1" cy="1178.3"/>
<circle cx="428.2" cy="1195.9"/>
<circle cx="409.2" cy="1180.8"/>
<circle cx="367.3" cy="1125.1"/>
<circle cx="329.1" cy="1137.9"/>
<circle cx="445.4" cy="1181.6"/>
<circle cx="415.1" cy="1159.2"/>
<circle cx="446.6" cy="1170.8"/>
<circle cx="393.6" cy="1191.4"/>
<circle cx="351.3" cy="1202.7"/>
<circle cx="289.9" cy="1165.9"/>
<circle cx="442.7" cy="1188.9"/>
<circle cx="386.5" cy="1203.2"/>
<circle cx="435.6" cy="1132.1"/>
<circle cx="446.2" cy="1151.2"/>
<circle cx="314.5" cy="1186.5"/>
<circle cx="412.1" cy="1197.1"/>
<circle cx="448.7" cy="1197.2"/>
<circle cx="409.4" cy="1172.8"/>
<circle cx="434.7" cy="1174.4"/>
<circle cx="434.8" cy="1169.3"/>
<circle cx="356.7" cy="1203.2"/>
<circle cx="346.6" cy="1191.7"/>
<circle cx="433.6" cy="1201.9"/>
<circle cx="392.3" cy="1172.6"/>
<circle cx="414.4" cy="1163.2"/>
<circle cx="444.4" cy="1176.0"/>
<circle cx="362.5" cy="1163.9"/>
<circle cx="432.0" cy="1195.3"/>
<circle cx="449.4" cy="1169.0"/>
<circle cx="441.0" cy="1167.8"/>
<circle cx="412.2" cy="1190.7"/>
<circle cx="441.8" cy="1195.0"/>
<circle cx="397.7" cy="1174.1"/>
<circle cx="224.7" cy="1195.1"/>
<circle cx="437.7" cy="1200.8"/>
<circle cx="401.7" cy="1184.5"/>
<circle cx="446.2" cy="1155.5"/>
<circle cx="418.2" cy="1124.4"/>
<circle cx="446.3" cy="1104.6"/>
<circle cx="444.0" cy="1155.3"/>
<circle cx="425.3" cy="1194.9"/>
<circle cx="433.6" cy="1182.6"/>
<circle cx="436.3" cy="1155.6"/>
<circle cx="422.6" cy="1144.8"/>
<circle cx="447.3" cy="1186.0"/>
<circle cx="443.0" cy="1191.1"/>
<circle cx="404.7" cy="1205.7"/>
<circle cx="450.7" cy="1173.6"/>
<circle cx="432.7" cy="1164.2"/>
<circle cx="417.1" cy="1190.2"/>
<circle cx="440.8" cy="1188.7"/>
<circle cx="382.7" cy="1177.6"/>
<circle cx="409.7" cy="1114.8"/>
<circle cx="431.7" cy="1204.5"/>
<circle cx="349.3" cy="1176.6"/>
<circle cx="393.2" cy="1150.1"/>
<circle cx="424.9" cy="1205.2"/>
<circle cx="407.4" cy="1167.7"/>
<circle cx="444.4" cy="1200.5"/>
<circle cx="376.2" cy="1145.8"/>
<circle cx="386.2" cy="1176.0"/>
<circle cx="446.3" cy="1205.2"/>
<circle cx="393.8" cy="1152.4"/>
<circle cx="444.0" cy="1188.9"/>
<circle cx="389.0" cy="1172.8"/>
<circle cx="337.3" cy="1180.7"/>
<circle cx="414.1" cy="1181.4"/>
<circle cx="413.9" cy="1154.2"/>
<circle cx="424.0" cy="1193.8"/>
<circle cx="446.6" cy="1180.3"/>
<circle cx="450.7" cy="1153.8"/>
<circle cx="423.2" cy="1125.1"/>
<circle cx="417.3" cy="1185.1"/>
<circle cx="423.2" cy="1178.2"/>
<circle cx="445.9" cy="1166.9"/>
<circle cx="366.6" cy="1156.5"/>
<circle cx="397.1" cy="1194.2"/>
<circle cx="321.2" cy="1169.2"/>
<circle cx="445.4" cy="1144.4"/>
<circle cx="336.2" cy="1171.2"/>
<circle cx="405.2" cy="1178.2"/>
<circle cx="414.8" cy="1190.0"/>
<circle cx="446.6" cy="1152.2"/>
<circle cx="409.0" cy="1173.7"/>
<circle cx="391.1" cy="1181.2"/>
<circle cx="396.8" cy="1192.2"/>
<circle cx="394.2" cy="1188.4"/>
<circle cx="395.4" cy="1144.0"/>
<circle cx="250.6" cy="1126.8"/>
<circle cx="360.2" cy="1184.3"/>
<circle cx="422.1" cy="1197.5"/>
<circle cx="425.0" cy="1187.3"/>
<circle cx="408.9" cy="1189.8"/>
<circle cx="436.9" cy="1139.4"/>
<circle cx="430.8" cy="1169.1"/>
<circle cx="371.8" cy="1162.4"/>
<circle cx="440.3" cy="1168.4"/>
<circle cx="423.5" cy="1144.4"/>
<circle cx="406.1" cy="1178.5"/>
<circle cx="448.2" cy="1169.2"/>
<circle cx="426.1" cy="1156.6"/>
<circle cx="434.9" cy="1176.8"/>
<circle cx="395.9" cy="1159.7"/>
<circle cx="433.7" cy="1158.5"/>
<circle cx="420.4" cy="1163.9"/>
<circle cx="450.5" cy="1178.5"/>
<circle cx="405.1" cy="1137.6"/>
<circle cx="378.3" cy="1192.5"/>
<circle cx="423.7" cy="1145.8"/>
<circle cx="438.1" cy="1185.2"/>
<circle cx="437.4" cy="1183.2"/>
<circle cx="389.3" cy="1184.7"/>
<circle cx="426.5" cy="1156.1"/>
<circle cx="406.8" cy="1134.1"/>
<circle cx="444.6" cy="1161.8"/>
<circle cx="405.9" cy="1199.7"/>
<circle cx="394.0" cy="1173.4"/>
<circle cx="417.9" cy="1186.6"/>
<circle cx="420.7" cy="1190.0"/>
<circle cx="412.7" cy="1176.4"/>
<circle cx="398.0" cy="1152.2"/>
<circle cx="366.0" cy="1198.9"/>
<circle cx="420.4" cy="1140.2"/>
<circle cx="446.8" cy="1195.9"/>
<circle cx="416.1" cy="1188.6"/>
<circle cx="393.7" cy="1167.8"/>
<circle cx="439.8" cy="1145.0"/>
<circle cx="441.1" cy="1162.1"/>
<circle cx="440.5" cy="1206.0"/>
<circle cx="419.9" cy="1152.5"/>
<circle cx="389.7" cy="1192.7"/>
<circle cx="424.9" cy="1161.6"/>
<circle cx="378.5" cy="1166.2"/>
<circle cx="314.4" cy="1201.5"/>
<circle cx="443.0" cy="1168.8"/>
<circle cx="433.5" cy="1156.3"/>
<circle cx="395.1" cy="1146.7"/>
<circle cx="421.4" cy="1194.1"/>
<circle cx="447.9" cy="1151.9"/>
<circle cx="445.8" cy="1191.7"/>
<circle cx="449.9" cy="1185.6"/>
<circle cx="411.7" cy="1185.3"/>
<circle cx="413.0" cy="1151.1"/>
<circle cx="442.8" cy="1189.6"/>
<circle cx="427.3" cy="1177.2"/>
<circle cx="423.2" cy="1166.6"/>
<circle cx="431.3" cy="1186.2"/>
<circle cx="430.2" cy="1164.4"/>
<circle cx="437.1" cy="1148.6"/>
<circle cx="362.4" cy="1164.1"/>
<circle cx="445.2" cy="1178.2"/>
<circle cx="433.8" cy="1193.3"/>
<circle cx="447.2" cy="1152.4"/>
<circle cx="322.6" cy="1184.4"/>
<circle cx="436.8" cy="1148.5"/>
<circle cx="441.6" cy="1171.3"/>
<circle cx="448.0" cy="1202.0"/>
<circle cx="404.9" cy="1178.1"/>
<circle cx="419.1" cy="1124.4"/>
<circle cx="450.4" cy="1145.2"/>
<circle cx="423.3" cy="1147.4"/>
<circle cx="440.4" cy="1194.6"/>
<circle cx="446.8" cy="1167.0"/>
<circle cx="442.8" cy="1150.6"/>
<circle cx="423.0" cy="1170.4"/>
<circle cx="446.3" cy="1157.1"/>
<circle cx="429.4" cy="1178.1"/>
<circle cx="441.5" cy="1156.4"/>
<circle cx="430.1" cy="1200.2"/>
<circle cx="448.4" cy="1191.7"/>
<circle cx="429.6" cy="1141.0"/>
<circle cx="402.6" cy="1183.6"/>
<circle cx="389.4" cy="1138.6"/>
<circle cx="431.7" cy="1165.7"/>
<circle cx="425.9" cy="1167.8"/>
<circle cx="439.9" cy="1185.7"/>
<circle cx="440.5" cy="1165.7"/>
<circle cx="432.9" cy="1162.1"/>
<circle cx="428.1" cy="1165.2"/>
<circle cx="416.1" cy="1197.0"/>
<circle cx="442.6" cy="1163.0"/>
<circle cx="419.5" cy="1132.3"/>
<circle cx="428.2" cy="1192.5"/>
<circle cx="435.2" cy="1166.3"/>
<circle cx="396.7" cy="1182.1"/>
<circle cx="447.2" cy="1178.6"/>
<circle cx="378.6" cy="1178.9"/>
<circle cx="441.1" cy="1155.4"/>
<circle cx="443.9" cy="1156.6"/>
<circle cx="260.3" cy="1165.0"/>
<circle cx="446.3" cy="1178.1"/>
<circle cx="358.9" cy="1155.3"/>
<circle cx="433.7" cy="1175.2"/>
<circle cx="418.8" cy="1191.3"/>
<circle cx="450.1" cy="1200.1"/>
<circle cx="445.5" cy="1193.2"/>
<circle cx="450.0" cy="1183.3"/>
<circle cx="436.9" cy="1161.8"/>
<circle cx="417.3" cy="1152.1"/>
<circle cx="415.8" cy="1168.9"/>
<circle cx="438.0" cy="1169.2"/>
<circle cx="419.8" cy="1196.0"/>
<circle cx="420.8" cy="1177.1"/>
<circle cx="416.7" cy="1187.0"/>
<circle cx="441.9" cy="1177.2"/>
<circle cx="387.7" cy="1169.3"/>
<circle cx="400.0" cy="1180.8"/>
<circle cx="431.7" cy="1183.9"/>
<circle cx="441.9" cy="1192.5"/>
<circle cx="432.9" cy="1195.2"/>
<circle cx="435.2" cy="1142.1"/>
<circle cx="396.8" cy="1205.7"/>
<circle cx="431.6" cy="1164.6"/>
<circle cx="344.9" cy="1177.7"/>
<circle cx="313.2" cy="1153.8"/>
<circle cx="399.0" cy="1149.7"/>
<circle cx="412.1" cy="1155.4"/>
<circle cx="412.7" cy="1175.4"/>
<circle cx="445.6" cy="1184.1"/>
<circle cx="425.1" cy="1177.9"/>
<circle cx="435.3" cy="1129.6"/>
<circle cx="395.8" cy="1204.3"/>
<circle cx="413.4" cy="1170.0"/>
<circle cx="396.5" cy="1144.6"/>
<circle cx="424.8" cy="1143.7"/>
<circle cx="381.6" cy="1159.8"/>
<circle cx="441.3" cy="1185.0"/>
<circle cx="421.0" cy="1140.6"/>
<circle cx="414.8" cy="1156.9"/>
<circle cx="449.0" cy="1177.1"/>
<circle cx="360.6" cy="1183.1"/>
<circle cx="450.2" cy="1199.3"/>
<circle cx="410.6" cy="1167.4"/>
<circle cx="384.6" cy="1134.4"/>
<circle cx="387.4" cy="1175.9"/>
<circle cx="380.0" cy="1174.0"/>
<circle cx="448.3" cy="1194.6"/>
<circle cx="367.5" cy="1175.6"/>
<circle cx="319.2" cy="1190.8"/>
<circle cx="435.5" cy="1165.8"/>
<circle cx="405.2" cy="1169.0"/>
<circle cx="436.2" cy="1164.9"/>
<circle cx="442.2" cy="1172.1"/>
<circle cx="445.9" cy="1176.9"/>
<circle cx="450.6" cy="1174.6"/>
<circle cx="437.6" cy="1185.5"/>
<circle cx="445.9" cy="1173.1"/>
<circle cx="400.4" cy="1136.4"/>
<circle cx="418.2" cy="1179.4"/>
<circle cx="412.9" cy="1202.7"/>
<circle cx="412.2" cy="1177.2"/>
<circle cx="425.5" cy="1169.8"/>
<circle cx="422.6" cy="1189.3"/>
<circle cx="403.5" cy="1160.6"/>
<circle cx="448.9" cy="1137.7"/>
<circle cx="446.5" cy="1156.0"/>
<circle cx="431.3" cy="1203.9"/>
<circle cx="446.4" cy="1156.3"/>
<circle cx="448.7" cy="1170.3"/>
<circle cx="383.3" cy="1141.1"/>
<circle cx="414.9" cy="1180.4"/>
<circle cx="343.8" cy="1170.0"/>
<circle cx="416.3" cy="1173.9"/>
<circle cx="442.7" cy="1147.3"/>
<circle cx="440.3" cy="1177.9"/>
<circle cx="449.4" cy="1169.8"/>
<circle cx="430.3" cy="1171.1"/>
<circle cx="445.5" cy="1168.5"/>
<circle cx="441.8" cy="1165.7"/>
<circle cx="444.9" cy="1196.7"/>
<circle cx="440.5" cy="1188.2"/>
<circle cx="429.8" cy="1197.0"/>
<circle cx="430.0" cy="1196.3"/>
<circle cx="437.9" cy="1169.9"/>
<circle cx="386.8" cy="1176.7"/>
<circle cx="335.0" cy="1204.9"/>
<circle cx="373.2" cy="1139.1"/>
<circle cx="416.6" cy="1151.6"/>
<circle cx="415.2" cy="1180.0"/>
<circle cx="376.7" cy="1190.0"/>
<circle cx="421.8" cy="1154.1"/>
<circle cx="404.0" cy="1166.4"/>
<circle cx="447.3" cy="1193.6"/>
<circle cx="440.3" cy="1140.3"/>
<circle cx="440.9" cy="1187.8"/>
<circle cx="388.4" cy="1185.7"/>
<circle cx="358.3" cy="1156.9"/>
<circle cx="394.7" cy="1146.7"/>
<circle cx="447.6" cy="1180.7"/>
<circle cx="438.5" cy="1201.4"/>
<circle cx="416.8" cy="1184.7"/>
<circle cx="422.0" cy="1137.1"/>
<circle cx="411.7" cy="1168.3"/>
<circle cx="379.5" cy="1176.4"/>
<circle cx="429.5" cy="1171.9"/>
<circle cx="443.8" cy="1148.1"/>
<circle cx="438.3" cy="1146.5"/>
<circle cx="418.6" cy="1191.5"/>
<circle cx="423.0" cy="1186.4"/>
<circle cx="413.7" cy="1134.1"/>
<circle cx="402.5" cy="1186.7"/>
<circle cx="417.8" cy="1140.8"/>
<circle cx="389.4" cy="1149.9"/>
<circle cx="395.8" cy="1158.2"/>
<circle cx="445.9" cy="1159.9"/>
<circle cx="445.1" cy="1190.5"/>
<circle cx="420.4" cy="1177.7"/>
<circle cx="442.8" cy="1196.3"/>
<circle cx="372.4" cy="1192.0"/>
<circle cx="430.2" cy="1141.6"/>
<circle cx="442.0" cy="1164.1"/>
<circle cx="414.3" cy="1167.0"/>
<circle cx="426.2" cy="1195.0"/>
<circle cx="393.0" cy="1176.3"/>
<circle cx="433.2" cy="1158.2"/>
<circle cx="450.0" cy="1194.0"/>
<circle cx="447.8" cy="1150.4"/>
<circle cx="442.5" cy="1149.8"/>
<circle cx="430.9" cy="1188.5"/>
<circle cx="445.2" cy="1168.4"/>
<circle cx="436.6" cy="1196.7"/>
<circle cx="397.6" cy="1181.0"/>
<circle cx="433.1" cy="1163.6"/>
<circle cx="392.7" cy="1165.1"/>
<circle cx="415.2" cy="1185.3"/>
<circle cx="383.7" cy="1150.9"/>
<circle cx="439.7" cy="1183.7"/>
<circle cx="450.3" cy="1192.8"/>
<circle cx="448.9" cy="1142.3"/>
<circle cx="448.4" cy="1145.1"/>
<circle cx="438.9" cy="1168.0"/>
<circle cx="391.2" cy="1145.8"/>
<circle cx="278.6" cy="1203.5"/>
<circle cx="398.5" cy="1149.9"/>
<circle cx="449.1" cy="1194.1"/>
<circle cx="442.9" cy="1192.0"/>
<circle cx="407.6" cy="1122.1"/>
<circle cx="440.3" cy="1192.2"/>
<circle cx="372.4" cy="1190.3"/>
<circle cx="441.6" cy="1132.3"/>
<circle cx="438.0" cy="1183.4"/>
<circle cx="446.5" cy="1157.6"/>
<circle cx="433.2" cy="1138.4"/>
<circle cx="376.9" cy="1200.5"/>
<circle cx="438.2" cy="1198.7"/>
<circle cx="391.8" cy="1163.9"/>
<circle cx="441.1" cy="1160.8"/>
<circle cx="435.5" cy="1191.8"/>
<circle cx="407.0" cy="1176.8"/>
<circle cx="430.1" cy="1183.8"/>
<circle cx="408.7" cy="1202.3"/>
<circle cx="450.6" cy="1151.2"/>
<circle cx="450.7" cy="1200.1"/>
<circle cx="443.8" cy="1154.3"/>
<circle cx="448.6" cy="1186.7"/>
<circle cx="427.1" cy="1192.3"/>
<circle cx="435.7" cy="1171.5"/>
<circle cx="421.1" cy="1192.9"/>
<circle cx="372.7" cy="1156.6"/>
<circle cx="432.8" cy="1203.2"/>
<circle cx="404.5" cy="1152.2"/>
<circle cx="427.9" cy="1161.8"/>
<circle cx="431.2" cy="1194.5"/>
<circle cx="391.3" cy="1173.9"/>
<circle cx="418.9" cy="1190.1"/>
<circle cx="442.6" cy="1152.3"/>
<circle cx="412.6" cy="1196.3"/>
<circle cx="407.3" cy="1164.6"/>
<circle cx="442.4" cy="1158.2"/>
<circle cx="428.0" cy="1180.9"/>
<circle cx="394.3" cy="1182.7"/>
<circle cx="442.5" cy="1172.7"/>
<circle cx="395.0" cy="1166.1"/>
<circle cx="448.9" cy="1167.9"/>
<circle cx="444.7" cy="1190.3"/>
<circle cx="376.7" cy="1181.9"/>
<circle cx="438.2" cy="1196.0"/>
<circle cx="422.4" cy="1183.2"/>
<circle cx="388.0" cy="1131.3"/>
<circle cx="432.8" cy="1173.9"/>
<circle cx="433.4" cy="1184.1"/>
<circle cx="387.1" cy="1143.5"/>
<circle cx="446.0" cy="1173.4"/>
<circle cx="405.3" cy="1156.4"/>
<circle cx="369.6" cy="1185.4"/>
<circle cx="439.8" cy="1145.4"/>
<circle cx="448.5" cy="1185.3"/>
<circle cx="396.4" cy="1202.9"/>
<circle cx="419.6" cy="1167.9"/>
<circle cx="427.0" cy="1201.2"/>
<circle cx="405.9" cy="1132.7"/>
<circle cx="434.0" cy="1184.4"/>
<circle cx="364.5" cy="1146.9"/>
<circle cx="386.7" cy="1153.7"/>
<circle cx="418.5" cy="1185.9"/>
<circle cx="416.0" cy="1198.4"/>
<circle cx="389.4" cy="1170.4"/>
<circle cx="405.3" cy="1193.6"/>
<circle cx="421.4" cy="1134.3"/>
<circle cx="449.3" cy="1117.8"/>
<circle cx="415.9" cy="1116.0"/>
<circle cx="415.4" cy="1163.2"/>
<circle cx="427.7" cy="1187.1"/>
<circle cx="348.7" cy="1194.1"/>
<circle cx="436.1" cy="1140.9"/>
<circle cx="388.7" cy="1200.2"/>
<circle cx="409.8" cy="1185.2"/>
<circle cx="447.2" cy="1203.9"/>
<circle cx="410.3" cy="1186.8"/>
<circle cx="444.8" cy="1172.6"/>
<circle cx="341.8" cy="1160.7"/>
<circle cx="449.8" cy="1200.5"/>
<circle cx="407.0" cy="1201.6"/>
<circle cx="420.8" cy="1198.6"/>
<circle cx="438.8" cy="1166.2"/>
<circle cx="392.2" cy="1171.5"/>
<circle cx="444.3" cy="1169.1"/>
<circle cx="398.0" cy="1156.4"/>
<circle cx="418.4" cy="1186.9"/>
<circle cx="379.6" cy="1152.9"/>
<circle cx="442.3" cy="1145.9"/>
<circle cx="331.8" cy="1174.5"/>
<circle cx="434.2" cy="1179.5"/>
<circle cx="449.7" cy="1165.1"/>
<circle cx="418.1" cy="1182.6"/>
<circle cx="408.1" cy="1165.2"/>
<circle cx="442.9" cy="1158.7"/>
<circle cx="375.2" cy="1138.6"/>
<circle cx="405.6" cy="1133.4"/>
<circle cx="448.6" cy="1191.9"/>
<circle cx="439.9" cy="1147.9"/>
<circle cx="440.7" cy="1154.8"/>
<circle cx="444.1" cy="1202.5"/>
<circle cx="415.9" cy="1164.9"/>
<circle cx="444.7" cy="1190.4"/>
<circle cx="448.2" cy="1162.2"/>
<circle cx="450.1" cy="1175.1"/>
<circle cx="314.7" cy="1170.1"/>
<circle cx="268.7" cy="1149.9"/>
<circle cx="421.9" cy="1198.9"/>
<circle cx="398.2" cy="1193.5"/>
<circle cx="424.0" cy="1156.7"/>
<circle cx="428.2" cy="1183.6"/>
<circle cx="446.7" cy="1192.1"/>
<circle cx="439.3" cy="1175.0"/>
<circle cx="346.5" cy="1144.4"/>
<circle cx="392.6" cy="1166.7"/>
<circle cx="447.2" cy="1177.0"/>
<circle cx="374.1" cy="1166.2"/>
<circle cx="424.9" cy="1205.3"/>
<circle cx="444.3" cy="1127.1"/>
<circle cx="381.1" cy="1175.0"/>
<circle cx="434.4" cy="1168.8"/>
<circle cx="448.0" cy="1155.0"/>
<circle cx="377.2" cy="1129.6"/>
<circle cx="408.3" cy="1199.8"/>
<circle cx="390.6" cy="1190.9"/>
<circle cx="446.9" cy="1173.7"/>
<circle cx="399.4" cy="1195.0"/>
<circle cx="425.1" cy="1153.5"/>
<circle cx="450.3" cy="1167.2"/>
<circle cx="369.7" cy="1167.8"/>
<circle cx="432.9" cy="1182.9"/>
<circle cx="446.1" cy="1194.4"/>
<circle cx="431.8" cy="1203.8"/>
<circle cx="426.2" cy="1176.6"/>
<circle cx="390.2" cy="1140.0"/>
<circle cx="413.1" cy="1156.3"/>
<circle cx="439.3" cy="1186.4"/>
<circle cx="449.9" cy="1196.0"/>
<circle cx="411.5" cy="1145.7"/>
<circle cx="431.2" cy="1164.9"/>
<circle cx="404.9" cy="1187.2"/>
<circle cx="258.6" cy="1176.2"/>
<circle cx="448.1" cy="1106.4"/>
<circle cx="356.7" cy="1173.0"/>
<circle cx="418.3" cy="1185.1"/>
<circle cx="417.5" cy="1182.5"/>
<circle cx="438.9" cy="1162.8"/>
<circle cx="338.4" cy="1171.5"/>
<circle cx="432.3" cy="1126.2"/>
<circle cx="446.1" cy="1195.0"/>
<circle cx="424.3" cy="1176.3"/>
<circle cx="445.9" cy="1177.6"/>
<circle cx="347.2" cy="1168.6"/>
<circle cx="425.3" cy="1184.1"/>
<circle cx="351.6" cy="1203.2"/>
<circle cx="391.9" cy="1173.9"/>
<circle cx="416.9" cy="1172.8"/>
<circle cx="431.8" cy="1192.2"/>
<circle cx="406.2" cy="1174.5"/>
<circle cx="406.6" cy="1161.6"/>
<circle cx="437.9" cy="1142.0"/>
<circle cx="446.1" cy="1178.6"/>
<circle cx="446.2" cy="1143.6"/>
<circle cx="413.6" cy="1179.1"/>
<circle cx="449.5" cy="1152.0"/>
<circle cx="399.1" cy="1200.3"/>
<circle cx="450.3" cy="1175.2"/>
<circle cx="362.3" cy="1161.4"/>
<circle cx="442.2" cy="1129.9"/>
<circle cx="397.6" cy="1164.1"/>
<circle cx="349.5" cy="1183.7"/>
<circle cx="442.8" cy="1193.7"/>
<circle cx="405.1" cy="1183.3"/>
<circle cx="446.9" cy="1184.1"/>
<circle cx="402.2" cy="1156.4"/>
<circle cx="432.2" cy="1163.8"/>
<circle cx="443.0" cy="1118.3"/>
<circle cx="372.7" cy="1164.8"/>
<circle cx="360.6" cy="1204.9"/>
<circle cx="389.0" cy="1181.4"/>
<circle cx="438.9" cy="1155.6"/>
<circle cx="447.3" cy="1155.8"/>
<circle cx="435.2" cy="1154.1"/>
<circle cx="418.3" cy="1140.9"/>
<circle cx="430.1" cy="1192.1"/>
<circle cx="433.0" cy="1190.1"/>
<circle cx="406.7" cy="1205.8"/>
<circle cx="370.2" cy="1198.1"/>
<circle cx="287.0" cy="1201.4"/>
<circle cx="395.2" cy="1199.8"/>
<circle cx="441.8" cy="1144.6"/>
<circle cx="445.9" cy="1203.8"/>
<circle cx="408.3" cy="1197.4"/>
<circle cx="395.0" cy="1167.1"/>
<circle cx="413.9" cy="1164.5"/>
<circle cx="431.8" cy="1175.1"/>
<circle cx="272.1" cy="1177.0"/>
<circle cx="448.1" cy="1165.0"/>
<circle cx="437.2" cy="1186.5"/>
<circle cx="426.4" cy="1177.4"/>
<circle cx="438.8" cy="1140.3"/>
<circle cx="444.7" cy="1123.7"/>
<circle cx="410.0" cy="1146.0"/>
<circle cx="424.0" cy="1187.2"/>
<circle cx="430.9" cy="1168.7"/>
<circle cx="443.5" cy="1149.3"/>
<circle cx="435.0" cy="1194.3"/>
<circle cx="283.4" cy="1140.5"/>
<circle cx="411.3" cy="1159.7"/>
<circle cx="438.8" cy="1193.2"/>
<circle cx="384.2" cy="1183.7"/>
<circle cx="395.4" cy="1094.9"/>
<circle cx="398.6" cy="1189.0"/>
<circle cx="442.8" cy="1145.0"/>
<circle cx="412.2" cy="1175.8"/>
<circle cx="443.5" cy="1202.4"/>
<circle cx="418.3" cy="1172.9"/>
<circle cx="340.8" cy="1170.4"/>
<circle cx="411.4" cy="1128.9"/>
<circle cx="449.6" cy="1202.6"/>
<circle cx="438.7" cy="1186.5"/>
<circle cx="404.2" cy="1152.9"/>
<circle cx="435.5" cy="1153.0"/>
<circle cx="379.6" cy="1149.9"/>
<circle cx="438.2" cy="1123.8"/>
<circle cx="437.1" cy="1184.2"/>
<circle cx="424.8" cy="1185.3"/>
<circle cx="435.9" cy="1172.7"/>
<circle cx="374.1" cy="1157.1"/>
<circle cx="412.9" cy="1185.0"/>
<circle cx="390.6" cy="1205.8"/>
<circle cx="393.2" cy="1186.7"/>
<circle cx="443.6" cy="1096.6"/>
<circle cx="442.8" cy="1135.3"/>
<circle cx="448.9" cy="1162.9"/>
<circle cx="449.9" cy="1200.6"/>
<circle cx="394.5" cy="1171.1"/>
<circle cx="412.6" cy="1186.6"/>
<circle cx="430.8" cy="1198.3"/>
<circle cx="450.7" cy="1200.5"/>
<circle cx="343.3" cy="1194.0"/>
<circle cx="405.2" cy="1185.6"/>
<circle cx="447.3" cy="1169.4"/>
<circle cx="440.9" cy="1182.4"/>
<circle cx="448.6" cy="1160.9"/>
<circle cx="331.6" cy="1204.7"/>
<circle cx="422.2" cy="1135.5"/>
<circle cx="394.8" cy="1169.5"/>
<circle cx="426.5" cy="1182.7"/>
<circle cx="379.3" cy="1170.0"/>
<circle cx="304.6" cy="1183.2"/>
<circle cx="431.1" cy="1146.5"/>
<circle cx="331.0" cy="1196.0"/>
<circle cx="405.0" cy="1180.5"/>
<circle cx="441.6" cy="1179.4"/>
<circle cx="443.3" cy="1111.6"/>
<circle cx="408.3" cy="1172.1"/>
<circle cx="450.6" cy="1177.5"/>
<circle cx="370.6" cy="1092.1"/>
<circle cx="399.5" cy="1179.5"/>
<circle cx="434.3" cy="1193.7"/>
<circle cx="372.5" cy="1184.0"/>
<circle cx="405.8" cy="1181.9"/>
<circle cx="400.4" cy="1192.1"/>
<circle cx="441.2" cy="1204.7"/>
<circle cx="383.1" cy="1152.2"/>
<circle cx="354.5" cy="1134.0"/>
<circle cx="444.1" cy="1152.6"/>
<circle cx="437.8" cy="1180.0"/>
<circle cx="317.4" cy="1150.2"/>
<circle cx="428.9" cy="1202.8"/>
<circle cx="417.1" cy="1193.1"/>
<circle cx="443.9" cy="1172.8"/>
<circle cx="408.9" cy="1141.4"/>
<circle cx="379.4" cy="1197.4"/>
<circle cx="433.4" cy="1199.3"/>
<circle cx="446.3" cy="1177.9"/>
<circle cx="414.0" cy="1169.2"/>
<circle cx="422.2" cy="1179.3"/>
<circle cx="401.2" cy="1171.3"/>
<circle cx="390.7" cy="1151.7"/>
<circle cx="366.2" cy="1199.4"/>
<circle cx="397.9" cy="1189.2"/>
<circle cx="360.5" cy="1194.4"/>
<circle cx="333.2" cy="1191.3"/>
<circle cx="446.6" cy="1190.0"/>
<circle cx="437.0" cy="1171.6"/>
<circle cx="413.8" cy="1154.9"/>
<circle cx="405.8" cy="1175.4"/>
<circle cx="435.5" cy="1149.3"/>
<circle cx="369.5" cy="1189.9"/>
<circle cx="394.8" cy="1140.6"/>
<circle cx="437.0" cy="1178.4"/>
<circle cx="394.5" cy="1153.7"/>
<circle cx="431.7" cy="1168.5"/>
<circle cx="434.9" cy="1193.2"/>
<circle cx="372.6" cy="1121.4"/>
<circle cx="444.8" cy="1180.0"/>
<circle cx="380.2" cy="1145.4"/>
<circle cx="448.8" cy="1139.6"/>
<circle cx="389.6" cy="1173.6"/>
<circle cx="435.4" cy="1172.6"/>
<circle cx="395.0" cy="1189.7"/>
<circle cx="403.2" cy="1146.1"/>
<circle cx="429.8" cy="1182.8"/>
<circle cx="411.2" cy="1147.5"/>
<circle cx="422.8" cy="1191.0"/>
<circle cx="384.3" cy="1115.8"/>
<circle cx="385.5" cy="1196.9"/>
<circle cx="393.9" cy="1197.2"/>
<circle cx="389.2" cy="1184.3"/>
<circle cx="441.1" cy="1200.8"/>
<circle cx="281.1" cy="1188.9"/>
<circle cx="434.9" cy="1131.9"/>
<circle cx="357.6" cy="1145.3"/>
<circle cx="446.8" cy="1160.5"/>
<circle cx="425.2" cy="1163.2"/>
<circle cx="447.5" cy="1158.4"/>
<circle cx="411.0" cy="1151.3"/>
<circle cx="399.2" cy="1162.8"/>
<circle cx="409.0" cy="1162.6"/>
<circle cx="432.3" cy="1195.2"/>
<circle cx="424.2" cy="1162.9"/>
<circle cx="448.3" cy="1191.6"/>
<circle cx="444.6" cy="1182.8"/>
<circle cx="294.2" cy="1157.2"/>
<circle cx="423.6" cy="1192.0"/>
<circle cx="398.5" cy="1155.9"/>
<circle cx="439.7" cy="1186.7"/>
<circle cx="446.5" cy="1139.7"/>
<circle cx="447.7" cy="1199.8"/>
<circle cx="408.6" cy="1191.6"/>
<circle cx="426.5" cy="1179.6"/>
<circle cx="433.6" cy="1131.8"/>
<circle cx="447.2" cy="1173.4"/>
<circle cx="439.1" cy="1165.0"/>
<circle cx="412.7" cy="1197.9"/>
<circle cx="412.4" cy="1194.3"/>
<circle cx="434.3" cy="1159.7"/>
<circle cx="401.3" cy="1187.3"/>
<circle cx="428.8" cy="1187.6"/>
<circle cx="434.4" cy="1176.8"/>
<circle cx="382.4" cy="1128.9"/>
<circle cx="435.2" cy="1169.5"/>
<circle cx="377.5" cy="1167.7"/>
<circle cx="406.7" cy="1158.0"/>
<circle cx="447.1" cy="1156.1"/>
<circle cx="439.6" cy="1151.4"/>
<circle cx="447.7" cy="1162.3"/>
<circle cx="361.7" cy="1200.6"/>
<circle cx="428.5" cy="1203.3"/>
<circle cx="435.9" cy="1159.5"/>
<circle cx="413.4" cy="1176.8"/>
<circle cx="425.1" cy="1164.4"/>
<circle cx="449.1" cy="1205.3"/>
<circle cx="415.9" cy="1178.0"/>
<circle cx="430.6" cy="1142.8"/>
<circle cx="390.2" cy="1154.3"/>
<circle cx="404.6" cy="1204.6"/>
<circle cx="436.6" cy="1174.3"/>
<circle cx="450.8" cy="1160.0"/>
<circle cx="424.8" cy="1164.1"/>
<circle cx="387.5" cy="1164.2"/>
<circle cx="449.9" cy="1203.8"/>
<circle cx="418.6" cy="1198.5"/>
<circle cx="433.5" cy="1197.6"/>
<circle cx="411.2" cy="1006.1"/>
<circle cx="429.2" cy="837.2"/>
<circle cx="326.6" cy="849.1"/>
<circle cx="379.0" cy="738.2"/>
<circle cx="391.1" cy="902.2"/>
<circle cx="357.6" cy="957.9"/>
<circle cx="315.1" cy="1006.8"/>
<circle cx="427.7" cy="926.8"/>
<circle cx="438.5" cy="818.7"/>
<circle cx="433.6" cy="923.1"/>
<circle cx="374.8" cy="861.1"/>
<circle cx="383.9" cy="898.6"/>
<circle cx="356.8" cy="1005.8"/>
<circle cx="428.8" cy="1013.9"/>
<circle cx="395.3" cy="866.0"/>
<circle cx="342.6" cy="871.1"/>
<circle cx="360.2" cy="828.0"/>
<circle cx="339.7" cy="803.9"/>
<circle cx="419.2" cy="962.1"/>
<circle cx="364.8" cy="924.5"/>
<circle cx="416.0" cy="1007.8"/>
<circle cx="400.0" cy="724.3"/>
<circle cx="429.1" cy="750.3"/>
<circle cx="421.5" cy="942.7"/>
<circle cx="384.6" cy="771.9"/>
<circle cx="372.8" cy="1015.2"/>
<circle cx="409.5" cy="950.0"/>
<circle cx="293.4" cy="966.5"/>
<circle cx="317.8" cy="720.8"/>
<circle cx="403.3" cy="969.7"/>
<circle cx="425.9" cy="908.9"/>
<circle cx="374.6" cy="946.4"/>
<circle cx="421.9" cy="834.9"/>
<circle cx="437.8" cy="874.5"/>
<circle cx="415.5" cy="973.1"/>
<circle cx="439.1" cy="753.5"/>
<circle cx="397.9" cy="972.7"/>
<circle cx="437.7" cy="956.9"/>
<circle cx="381.0" cy="881.1"/>
<circle cx="361.2" cy="703.7"/>
<circle cx="428.0" cy="908.8"/>
<circle cx="436.6" cy="854.3"/>
<circle cx="410.3" cy="697.4"/>
<circle cx="431.8" cy="791.5"/>
<circle cx="432.3" cy="975.0"/>
<circle cx="382.4" cy="739.6"/>
<circle cx="416.4" cy="898.9"/>
<circle cx="425.7" cy="756.5"/>
<circle cx="327.9" cy="899.4"/>
<circle cx="436.9" cy="735.0"/>
<circle cx="386.1" cy="765.3"/>
<circle cx="359.0" cy="695.8"/>
<circle cx="397.8" cy="746.0"/>
<circle cx="324.8" cy="838.2"/>
<circle cx="408.2" cy="745.8"/>
<circle cx="420.3" cy="795.2"/>
<circle cx="432.7" cy="941.2"/>
<circle cx="408.4" cy="764.1"/>
<circle cx="279.8" cy="928.9"/>
<circle cx="364.0" cy="801.6"/>
<circle cx="430.8" cy="739.2"/>
<circle cx="403.9" cy="964.7"/>
<circle cx="365.6" cy="941.3"/>
<circle cx="426.9" cy="880.0"/>
<circle cx="439.1" cy="895.4"/>
<circle cx="276.7" cy="792.8"/>
<circle cx="389.0" cy="745.9"/>
<circle cx="254.8" cy="779.4"/>
<circle cx="431.2" cy="720.8"/>
<circle cx="433.1" cy="854.5"/>
<circle cx="297.3" cy="899.8"/>
<circle cx="364.9" cy="975.8"/>
<circle cx="440.2" cy="1007.4"/>
<circle cx="250.6" cy="818.3"/>
<circle cx="326.1" cy="690.1"/>
<circle cx="423.3" cy="787.3"/>
<circle cx="437.2" cy="915.9"/>
<circle cx="396.0" cy="1008.3"/>
<circle cx="389.9" cy="691.7"/>
<circle cx="386.8" cy="780.7"/>
<circle cx="212.2" cy="831.0"/>
<circle cx="381.4" cy="871.2"/>
<circle cx="437.2" cy="691.0"/>
<circle cx="424.3" cy="921.6"/>
<circle cx="433.9" cy="868.1"/>
<circle cx="352.6" cy="851.2"/>
<circle cx="409.3" cy="863.0"/>
<circle cx="424.8" cy="866.3"/>
<circle cx="379.9" cy="815.8"/>
<circle cx="396.4" cy="866.6"/>
<circle cx="290.2" cy="735.8"/>
<circle cx="415.9" cy="730.8"/>
<circle cx="305.6" cy="700.8"/>
<circle cx="388.7" cy="749.2"/>
<circle cx="402.7" cy="897.5"/>
<circle cx="424.2" cy="765.0"/>
<circle cx="437.8" cy="948.0"/>
<circle cx="432.2" cy="991.5"/>
<circle cx="437.4" cy="945.1"/>
<circle cx="393.0" cy="788.3"/>
<circle cx="399.1" cy="1014.0"/>
<circle cx="279.2" cy="705.9"/>
<circle cx="436.7" cy="800.7"/>
<circle cx="418.2" cy="908.2"/>
<circle cx="407.4" cy="921.9"/>
<circle cx="375.8" cy="701.6"/>
<circle cx="381.1" cy="1002.5"/>
<circle cx="429.5" cy="1015.1"/>
<circle cx="389.6" cy="870.7"/>
<circle cx="334.7" cy="745.9"/>
<circle cx="299.9" cy="1008.0"/>
<circle cx="431.5" cy="812.3"/>
<circle cx="358.5" cy="774.8"/>
<circle cx="413.0" cy="894.1"/>
<circle cx="376.4" cy="822.4"/>
<circle cx="428.4" cy="720.3"/>
<circle cx="346.4" cy="716.4"/>
<circle cx="429.1" cy="842.3"/>
<circle cx="355.5" cy="716.0"/>
<circle cx="302.5" cy="1000.3"/>
<circle cx="378.3" cy="830.0"/>
<circle cx="434.0" cy="704.0"/>
<circle cx="422.3" cy="833.3"/>
<circle cx="328.3" cy="839.7"/>
<circle cx="422.2" cy="898.2"/>
<circle cx="338.0" cy="709.8"/>
<circle cx="320.6" cy="949.6"/>
<circle cx="429.9" cy="718.6"/>
<circle cx="317.2" cy="706.6"/>
<circle cx="426.5" cy="801.1"/>
<circle cx="410.2" cy="972.9"/>
<circle cx="328.6" cy="735.1"/>
<circle cx="417.3" cy="953.9"/>
<circle cx="391.0" cy="757.6"/>
<circle cx="425.9" cy="754.3"/>
<circle cx="416.7" cy="916.0"/>
<circle cx="509.7" cy="989.7"/>
<circle cx="597.6" cy="790.0"/>
<circle cx="520.4" cy="863.6"/>
<circle cx="707.0" cy="1013.6"/>
<circle cx="644.2" cy="833.6"/>
<circle cx="512.9" cy="846.3"/>
<circle cx="583.6" cy="881.7"/>
<circle cx="664.0" cy="890.6"/>
<circle cx="578.3" cy="948.8"/>
<circle cx="505.6" cy="775.2"/>
<circle cx="505.5" cy="873.2"/>
<circle cx="632.4" cy="1004.9"/>
<circle cx="517.0" cy="863.4"/>
<circle cx="667.5" cy="992.0"/>
<circle cx="664.2" cy="916.4"/>
<circle cx="516.2" cy="721.0"/>
<circle cx="539.5" cy="956.3"/>
<circle cx="594.6" cy="915.8"/>
<circle cx="555.1" cy="894.1"/>
<circle cx="578.3" cy="848.0"/>
<circle cx="518.5" cy="810.4"/>
<circle cx="530.2" cy="743.9"/>
<circle cx="610.0" cy="945.9"/>
<circle cx="563.7" cy="779.0"/>
<circle cx="506.2" cy="770.2"/>
<circle cx="594.0" cy="891.0"/>
<circle cx="540.1" cy="701.2"/>
<circle cx="577.5" cy="914.0"/>
<circle cx="548.6" cy="994.0"/>
<circle cx="602.6" cy="725.6"/>
<circle cx="391.4" cy="898.5"/>
<circle cx="397.4" cy="744.6"/>
<circle cx="397.0" cy="801.9"/>
<circle cx="423.0" cy="961.1"/>
<circle cx="387.1" cy="910.2"/>
<circle cx="405.4" cy="830.4"/>
<circle cx="356.0" cy="864.0"/>
<circle cx="412.3" cy="865.7"/>
<circle cx="407.8" cy="833.6"/>
<circle cx="388.9" cy="747.2"/>
<circle cx="358.3" cy="893.2"/>
<circle cx="364.2" cy="790.4"/>
<circle cx="374.5" cy="726.4"/>
<circle cx="400.8" cy="829.9"/>
<circle cx="417.1" cy="947.9"/>
<circle cx="401.7" cy="708.4"/>
<circle cx="357.7" cy="712.1"/>
<circle cx="375.8" cy="918.0"/>
<circle cx="381.3" cy="897.7"/>
<circle cx="415.0" cy="884.8"/>
<circle cx="389.2" cy="827.4"/>
<circle cx="395.6" cy="853.1"/>
<circle cx="396.6" cy="748.9"/>
<circle cx="365.4" cy="912.3"/>
<circle cx="388.0" cy="877.4"/>
<circle cx="397.4" cy="763.9"/>
<circle cx="396.4" cy="906.9"/>
<circle cx="393.5" cy="855.3"/>
<circle cx="378.8" cy="723.6"/>
<circle cx="409.7" cy="874.5"/>
<circle cx="417.2" cy="946.8"/>
<circle cx="397.1" cy="776.0"/>
<circle cx="388.5" cy="808.7"/>
<circle cx="402.4" cy="910.3"/>
<circle cx="372.7" cy="740.0"/>
<circle cx="419.9" cy="941.6"/>
<circle cx="363.3" cy="840.3"/>
<circle cx="417.1" cy="968.9"/>
<circle cx="362.9" cy="964.6"/>
<circle cx="382.2" cy="724.1"/>
<circle cx="413.4" cy="913.2"/>
<circle cx="400.0" cy="750.7"/>
<circle cx="332.2" cy="806.7"/>
<circle cx="372.4" cy="926.5"/>
<circle cx="389.2" cy="874.4"/>
<circle cx="382.0" cy="805.4"/>
<circle cx="346.9" cy="800.6"/>
<circle cx="399.8" cy="833.2"/>
<circle cx="398.1" cy="880.1"/>
<circle cx="398.2" cy="741.4"/>
<circle cx="397.9" cy="811.5"/>
<circle cx="378.4" cy="820.5"/>
<circle cx="405.1" cy="765.9"/>
<circle cx="354.6" cy="768.2"/>
<circle cx="390.1" cy="894.1"/>
<circle cx="515.0" cy="810.8"/>
<circle cx="536.1" cy="715.8"/>
<circle cx="532.7" cy="785.1"/>
<circle cx="549.9" cy="821.2"/>
<circle cx="547.7" cy="749.2"/>
<circle cx="536.6" cy="710.5"/>
<circle cx="517.1" cy="912.0"/>
<circle cx="516.8" cy="805.6"/>
<circle cx="516.1" cy="837.5"/>
<circle cx="525.9" cy="703.5"/>
<circle cx="539.2" cy="809.2"/>
<circle cx="543.4" cy="732.7"/>
<circle cx="564.1" cy="773.0"/>
<circle cx="523.2" cy="732.0"/>
<circle cx="522.7" cy="817.4"/>
<circle cx="530.6" cy="805.5"/>
<circle cx="516.0" cy="800.2"/>
<circle cx="531.8" cy="697.2"/>
<circle cx="522.5" cy="779.1"/>
<circle cx="530.6" cy="844.2"/>
<circle cx="545.7" cy="780.8"/>
<circle cx="522.9" cy="757.6"/>
<circle cx="534.9" cy="813.1"/>
<circle cx="563.1" cy="910.6"/>
<circle cx="534.7" cy="745.6"/>
<circle cx="211.5" cy="1044.4"/>
<circle cx="416.0" cy="1134.6"/>
<circle cx="350.7" cy="992.2"/>
<circle cx="436.7" cy="1153.4"/>
<circle cx="327.5" cy="1127.9"/>
<circle cx="408.2" cy="1142.1"/>
<circle cx="412.3" cy="1159.8"/>
<circle cx="366.9" cy="1131.7"/>
<circle cx="425.8" cy="1075.4"/>
<circle cx="380.2" cy="1081.5"/>
<circle cx="434.2" cy="1163.3"/>
<circle cx="352.7" cy="892.8"/>
<circle cx="319.9" cy="1111.2"/>
<circle cx="399.2" cy="1174.9"/>
<circle cx="399.3" cy="1051.6"/>
<circle cx="419.4" cy="1145.7"/>
<circle cx="411.9" cy="1135.0"/>
<circle cx="411.0" cy="1146.3"/>
<circle cx="430.2" cy="1011.2"/>
<circle cx="431.9" cy="1129.5"/>
<circle cx="284.7" cy="1138.3"/>
<circle cx="361.6" cy="1165.2"/>
<circle cx="232.8" cy="1112.0"/>
<circle cx="397.6" cy="1096.0"/>
<circle cx="438.7" cy="1163.6"/>
<circle cx="427.4" cy="1032.3"/>
<circle cx="416.9" cy="1106.2"/>
<circle cx="439.6" cy="1167.2"/>
<circle cx="420.8" cy="1100.7"/>
<circle cx="300.8" cy="1116.1"/>
<circle cx="442.1" cy="1017.5"/>
<circle cx="442.8" cy="1181.9"/>
<circle cx="332.4" cy="1082.3"/>
<circle cx="391.9" cy="1104.2"/>
<circle cx="426.5" cy="1178.9"/>
<circle cx="423.3" cy="1176.6"/>
<circle cx="397.7" cy="1164.0"/>
<circle cx="409.3" cy="1106.6"/>
<circle cx="362.1" cy="1160.5"/>
<circle cx="421.0" cy="1110.0"/>
<circle cx="412.9" cy="1108.0"/>
<circle cx="439.0" cy="1059.2"/>
<circle cx="432.1" cy="1143.1"/>
<circle cx="395.5" cy="1165.1"/>
<circle cx="339.8" cy="1069.4"/>
<circle cx="441.4" cy="1043.5"/>
<circle cx="426.2" cy="1102.1"/>
<circle cx="359.8" cy="1095.4"/>
<circle cx="421.3" cy="1169.4"/>
<circle cx="417.6" cy="988.8"/>
<circle cx="388.7" cy="1098.5"/>
<circle cx="440.3" cy="1098.5"/>
<circle cx="396.0" cy="829.2"/>
<circle cx="397.1" cy="1160.8"/>
<circle cx="424.0" cy="1157.7"/>
<circle cx="312.2" cy="980.0"/>
<circle cx="277.6" cy="991.6"/>
<circle cx="311.0" cy="1108.9"/>
<circle cx="432.5" cy="1135.2"/>
<circle cx="357.4" cy="974.6"/>
<circle cx="383.4" cy="1113.3"/>
<circle cx="304.4" cy="1113.6"/>
<circle cx="425.3" cy="1033.9"/>
<circle cx="420.2" cy="1109.0"/>
<circle cx="385.6" cy="1144.8"/>
<circle cx="443.6" cy="1176.7"/>
<circle cx="378.1" cy="1164.0"/>
<circle cx="377.1" cy="1065.0"/>
<circle cx="413.2" cy="1070.2"/>
<circle cx="314.1" cy="1000.2"/>
<circle cx="319.3" cy="1152.4"/>
<circle cx="404.7" cy="1136.3"/>
<circle cx="304.8" cy="1106.8"/>
<circle cx="357.4" cy="1014.5"/>
<circle cx="416.9" cy="1173.3"/>
<circle cx="440.1" cy="1117.5"/>
<circle cx="317.0" cy="1097.1"/>
<circle cx="429.2" cy="996.0"/>
<circle cx="443.1" cy="1136.5"/>
<circle cx="356.6" cy="1100.0"/>
<circle cx="424.8" cy="1138.3"/>
<circle cx="332.8" cy="1158.7"/>
<circle cx="398.0" cy="1158.3"/>
<circle cx="284.1" cy="932.3"/>
<circle cx="309.0" cy="1151.9"/>
<circle cx="418.0" cy="1159.2"/>
<circle cx="430.7" cy="1188.9"/>
<circle cx="348.2" cy="1141.8"/>
<circle cx="347.0" cy="1085.9"/>
<circle cx="397.4" cy="1156.2"/>
<circle cx="428.3" cy="1150.8"/>
<circle cx="390.4" cy="1179.8"/>
<circle cx="434.6" cy="1180.9"/>
<circle cx="389.2" cy="867.6"/>
<circle cx="308.9" cy="1075.3"/>
<circle cx="418.7" cy="1166.0"/>
<circle cx="402.4" cy="1183.3"/>
<circle cx="425.1" cy="1176.4"/>
<circle cx="299.1" cy="991.1"/>
<circle cx="340.7" cy="1129.6"/>
<circle cx="405.5" cy="1092.3"/>
<circle cx="440.4" cy="1079.3"/>
<circle cx="378.2" cy="1139.1"/>
<circle cx="358.0" cy="968.5"/>
<circle cx="423.4" cy="911.7"/>
<circle cx="427.8" cy="1149.6"/>
<circle cx="364.9" cy="1094.0"/>
<circle cx="427.1" cy="1146.4"/>
<circle cx="428.4" cy="999.0"/>
<circle cx="323.8" cy="736.4"/>
<circle cx="307.8" cy="1090.3"/>
<circle cx="394.6" cy="1124.9"/>
<circle cx="435.6" cy="1162.6"/>
<circle cx="327.5" cy="1101.6"/>
<circle cx="367.6" cy="1086.4"/>
<circle cx="440.5" cy="1096.0"/>
<circle cx="333.8" cy="1101.9"/>
<circle cx="404.1" cy="1064.9"/>
<circle cx="430.5" cy="1175.4"/>
<circle cx="373.2" cy="1053.6"/>
<circle cx="421.8" cy="954.9"/>
<circle cx="258.9" cy="1124.4"/>
<circle cx="388.4" cy="856.7"/>
<circle cx="287.2" cy="1047.7"/>
<circle cx="394.0" cy="1021.6"/>
<circle cx="365.2" cy="1159.4"/>
<circle cx="379.6" cy="1072.9"/>
<circle cx="418.9" cy="1184.3"/>
<circle cx="420.6" cy="1138.1"/>
<circle cx="386.7" cy="1028.9"/>
<circle cx="334.4" cy="1059.6"/>
<circle cx="417.3" cy="1071.3"/>
<circle cx="319.4" cy="1158.2"/>
<circle cx="410.4" cy="1146.2"/>
<circle cx="416.0" cy="1170.6"/>
<circle cx="430.8" cy="949.4"/>
<circle cx="440.3" cy="1022.8"/>
<circle cx="314.3" cy="1153.3"/>
<circle cx="443.4" cy="943.9"/>
<circle cx="277.5" cy="1132.0"/>
<circle cx="359.2" cy="1127.3"/>
<circle cx="394.9" cy="1120.3"/>
<circle cx="428.6" cy="1088.2"/>
<circle cx="423.2" cy="1099.7"/>
<circle cx="374.1" cy="1037.9"/>
<circle cx="391.8" cy="1058.8"/>
<circle cx="238.4" cy="943.4"/>
<circle cx="433.8" cy="1137.5"/>
<circle cx="292.7" cy="1129.6"/>
<circle cx="363.0" cy="1110.6"/>
<circle cx="321.4" cy="1127.3"/>
<circle cx="418.7" cy="1166.6"/>
<circle cx="420.7" cy="1131.8"/>
<circle cx="246.5" cy="1094.8"/>
<circle cx="442.5" cy="1077.3"/>
<circle cx="398.0" cy="1083.2"/>
<circle cx="411.2" cy="1178.5"/>
<circle cx="339.5" cy="1120.8"/>
<circle cx="438.6" cy="1189.0"/>
<circle cx="298.5" cy="825.2"/>
<circle cx="443.3" cy="983.2"/>
<circle cx="360.8" cy="1152.8"/>
<circle cx="438.7" cy="1153.3"/>
<circle cx="429.7" cy="1185.8"/>
<circle cx="417.2" cy="1153.9"/>
<circle cx="437.8" cy="1179.1"/>
<circle cx="424.2" cy="1053.0"/>
<circle cx="372.2" cy="1166.6"/>
<circle cx="336.6" cy="1049.9"/>
<circle cx="435.4" cy="919.5"/>
<circle cx="308.0" cy="1023.3"/>
<circle cx="388.6" cy="1163.9"/>
<circle cx="325.9" cy="1028.2"/>
<circle cx="295.6" cy="931.3"/>
<circle cx="302.0" cy="1087.9"/>
<circle cx="297.2" cy="1101.6"/>
<circle cx="412.9" cy="1015.2"/>
<circle cx="435.1" cy="1058.1"/>
<circle cx="280.2" cy="1080.1"/>
<circle cx="379.9" cy="816.8"/>
<circle cx="393.7" cy="1126.2"/>
<circle cx="342.5" cy="1159.5"/>
<circle cx="311.5" cy="1051.3"/>
<circle cx="410.4" cy="1148.9"/>
<circle cx="361.6" cy="1098.3"/>
<circle cx="435.8" cy="1047.2"/>
<circle cx="439.0" cy="961.4"/>
<circle cx="402.6" cy="908.3"/>
<circle cx="443.1" cy="1180.3"/>
<circle cx="284.6" cy="1024.6"/>
<circle cx="407.8" cy="1049.4"/>
<circle cx="409.3" cy="973.6"/>
<circle cx="325.6" cy="1051.2"/>
<circle cx="392.5" cy="1172.1"/>
<circle cx="282.5" cy="990.7"/>
<circle cx="402.9" cy="988.1"/>
<circle cx="406.2" cy="1094.9"/>
<circle cx="414.3" cy="899.1"/>
<circle cx="370.0" cy="907.0"/>
<circle cx="406.5" cy="989.4"/>
<circle cx="439.6" cy="907.4"/>
<circle cx="438.6" cy="873.6"/>
<circle cx="360.1" cy="893.7"/>
<circle cx="411.4" cy="1178.5"/>
<circle cx="362.6" cy="1089.6"/>
<circle cx="331.9" cy="1052.1"/>
<circle cx="398.2" cy="1163.6"/>
<circle cx="395.4" cy="1180.0"/>
<circle cx="437.1" cy="875.3"/>
<circle cx="405.4" cy="1158.7"/>
<circle cx="407.4" cy="1127.2"/>
<circle cx="357.3" cy="959.0"/>
<circle cx="387.0" cy="1151.1"/>
<circle cx="415.8" cy="1160.9"/>
<circle cx="432.0" cy="1145.3"/>
<circle cx="223.4" cy="1074.2"/>
<circle cx="406.2" cy="986.6"/>
<circle cx="306.3" cy="895.1"/>
<circle cx="327.3" cy="1143.9"/>
<circle cx="367.2" cy="1156.2"/>
<circle cx="270.8" cy="1134.0"/>
<circle cx="364.5" cy="1120.5"/>
<circle cx="426.4" cy="968.7"/>
<circle cx="390.0" cy="1036.1"/>
<circle cx="394.5" cy="1072.1"/>
<circle cx="405.6" cy="1169.2"/>
<circle cx="379.4" cy="1060.9"/>
<circle cx="331.3" cy="1019.7"/>
<circle cx="413.8" cy="1041.2"/>
<circle cx="440.4" cy="1032.2"/>
<circle cx="336.3" cy="952.0"/>
<circle cx="399.1" cy="1066.0"/>
<circle cx="399.2" cy="892.4"/>
<circle cx="369.6" cy="1162.9"/>
<circle cx="238.7" cy="1125.0"/>
<circle cx="441.0" cy="1193.3"/>
<circle cx="260.1" cy="1071.0"/>
<circle cx="432.3" cy="1191.0"/>
<circle cx="427.1" cy="1044.6"/>
<circle cx="411.6" cy="1146.4"/>
<circle cx="430.9" cy="1135.7"/>
<circle cx="431.9" cy="1100.0"/>
<circle cx="434.5" cy="1133.0"/>
<circle cx="425.9" cy="1189.0"/>
<circle cx="404.7" cy="1123.1"/>
<circle cx="367.5" cy="1154.2"/>
<circle cx="405.4" cy="1165.9"/>
<circle cx="438.0" cy="1178.0"/>
<circle cx="306.8" cy="1106.1"/>
<circle cx="443.7" cy="1170.6"/>
<circle cx="412.7" cy="1146.7"/>
<circle cx="321.3" cy="1110.7"/>
<circle cx="397.0" cy="1052.3"/>
<circle cx="402.3" cy="984.4"/>
<circle cx="362.8" cy="1165.1"/>
<circle cx="419.0" cy="1165.1"/>
<circle cx="331.8" cy="1112.5"/>
<circle cx="393.8" cy="1121.9"/>
<circle cx="423.6" cy="1186.4"/>
<circle cx="435.9" cy="964.5"/>
<circle cx="439.0" cy="1138.2"/>
<circle cx="434.6" cy="1153.6"/>
<circle cx="308.3" cy="1075.3"/>
<circle cx="359.1" cy="1061.6"/>
<circle cx="396.8" cy="1174.1"/>
<circle cx="351.5" cy="1161.1"/>
<circle cx="401.7" cy="1181.0"/>
<circle cx="408.6" cy="1181.7"/>
<circle cx="287.7" cy="1069.7"/>
<circle cx="374.0" cy="1145.5"/>
<circle cx="358.6" cy="1121.4"/>
<circle cx="435.2" cy="1177.6"/>
<circle cx="440.1" cy="1190.1"/>
<circle cx="309.0" cy="1145.6"/>
<circle cx="443.1" cy="1137.5"/>
<circle cx="230.7" cy="969.9"/>
<circle cx="427.8" cy="873.1"/>
<circle cx="372.9" cy="1022.9"/>
<circle cx="409.4" cy="1167.9"/>
<circle cx="443.0" cy="1161.5"/>
<circle cx="363.0" cy="1133.0"/>
<circle cx="438.8" cy="1080.2"/>
<circle cx="442.8" cy="1010.9"/>
<circle cx="341.6" cy="1126.2"/>
<circle cx="320.2" cy="989.8"/>
<circle cx="292.7" cy="1128.1"/>
<circle cx="392.2" cy="1118.2"/>
<circle cx="423.7" cy="1124.9"/>
<circle cx="437.3" cy="1139.9"/>
<circle cx="440.5" cy="1080.1"/>
<circle cx="380.7" cy="890.4"/>
<circle cx="415.7" cy="1156.6"/>
<circle cx="388.6" cy="788.0"/>
<circle cx="440.5" cy="964.0"/>
<circle cx="401.4" cy="1019.4"/>
<circle cx="356.6" cy="1013.1"/>
<circle cx="401.9" cy="948.3"/>
<circle cx="396.0" cy="1120.5"/>
<circle cx="387.0" cy="999.1"/>
<circle cx="428.1" cy="1163.8"/>
<circle cx="427.2" cy="1137.3"/>
<circle cx="427.8" cy="1126.2"/>
<circle cx="370.1" cy="1107.5"/>
<circle cx="281.8" cy="1116.6"/>
<circle cx="424.3" cy="767.7"/>
<circle cx="435.6" cy="1156.6"/>
<circle cx="433.4" cy="1058.0"/>
<circle cx="302.5" cy="1123.7"/>
<circle cx="256.5" cy="1011.3"/>
<circle cx="399.4" cy="1115.9"/>
<circle cx="433.4" cy="1115.7"/>
<circle cx="428.8" cy="996.8"/>
<circle cx="352.4" cy="1021.5"/>
<circle cx="437.8" cy="1166.4"/>
<circle cx="335.5" cy="937.4"/>
<circle cx="364.9" cy="1136.7"/>
<circle cx="329.8" cy="954.0"/>
<circle cx="329.4" cy="1095.3"/>
<circle cx="381.8" cy="1017.6"/>
<circle cx="348.5" cy="1131.9"/>
<circle cx="359.3" cy="1164.1"/>
<circle cx="574.7" cy="1128.6"/>
<circle cx="515.4" cy="1179.3"/>
<circle cx="568.9" cy="1152.3"/>
<circle cx="520.6" cy="1169.7"/>
<circle cx="551.8" cy="998.9"/>
<circle cx="594.1" cy="1173.5"/>
<circle cx="575.7" cy="1067.5"/>
<circle cx="532.1" cy="1106.9"/>
<circle cx="556.2" cy="1164.1"/>
<circle cx="563.2" cy="1158.3"/>
<circle cx="516.8" cy="910.1"/>
<circle cx="509.6" cy="1163.1"/>
<circle cx="518.0" cy="1178.6"/>
<circle cx="504.5" cy="1182.6"/>
<circle cx="520.0" cy="1172.7"/>
<circle cx="530.0" cy="1184.6"/>
<circle cx="503.4" cy="1045.1"/>
<circle cx="514.0" cy="1033.1"/>
<circle cx="571.0" cy="1038.4"/>
<circle cx="511.6" cy="1118.6"/>
<circle cx="527.8" cy="1173.8"/>
<circle cx="508.6" cy="1132.0"/>
<circle cx="623.6" cy="1093.5"/>
<circle cx="502.4" cy="1185.7"/>
<circle cx="511.4" cy="1112.0"/>
<circle cx="530.7" cy="1164.1"/>
<circle cx="525.6" cy="1172.7"/>
<circle cx="518.0" cy="1174.2"/>
<circle cx="508.0" cy="1063.9"/>
<circle cx="500.9" cy="1197.8"/>
<circle cx="547.3" cy="1183.7"/>
<circle cx="516.1" cy="1176.1"/>
<circle cx="518.0" cy="1189.3"/>
<circle cx="510.2" cy="1149.0"/>
<circle cx="503.5" cy="1120.8"/>
<circle cx="509.0" cy="1026.1"/>
<circle cx="555.4" cy="1037.7"/>
<circle cx="564.6" cy="1019.2"/>
<circle cx="517.4" cy="1179.7"/>
<circle cx="517.9" cy="1096.3"/>
<circle cx="541.0" cy="1144.8"/>
<circle cx="619.1" cy="1170.1"/>
<circle cx="630.2" cy="1097.5"/>
<circle cx="527.4" cy="1176.4"/>
<circle cx="599.1" cy="1064.7"/>
<circle cx="518.7" cy="1095.9"/>
<circle cx="532.4" cy="1154.6"/>
<circle cx="585.2" cy="1098.7"/>
<circle cx="629.0" cy="1061.1"/>
<circle cx="569.8" cy="1097.3"/>
<circle cx="532.7" cy="1158.1"/>
<circle cx="536.0" cy="1169.5"/>
<circle cx="519.0" cy="1114.9"/>
<circle cx="505.3" cy="1168.2"/>
<circle cx="687.2" cy="1148.7"/>
<circle cx="532.0" cy="1000.0"/>
<circle cx="623.6" cy="1156.9"/>
<circle cx="526.4" cy="1180.8"/>
<circle cx="541.6" cy="1184.0"/>
<circle cx="509.7" cy="1151.1"/>
<circle cx="517.1" cy="1041.1"/>
<circle cx="535.0" cy="1092.9"/>
<circle cx="527.8" cy="1132.9"/>
<circle cx="528.7" cy="1174.6"/>
<circle cx="512.2" cy="1045.4"/>
<circle cx="523.1" cy="1098.9"/>
<circle cx="562.0" cy="1020.2"/>
<circle cx="507.7" cy="1145.3"/>
<circle cx="526.8" cy="1181.4"/>
<circle cx="505.4" cy="1139.2"/>
<circle cx="556.1" cy="1131.7"/>
<circle cx="546.3" cy="1178.4"/>
<circle cx="564.5" cy="1143.6"/>
<circle cx="504.7" cy="1071.7"/>
<circle cx="588.1" cy="1069.5"/>
<circle cx="581.4" cy="1132.1"/>
<circle cx="500.5" cy="1165.5"/>
<circle cx="565.4" cy="1147.0"/>
<circle cx="603.1" cy="1170.4"/>
<circle cx="742.6" cy="1116.5"/>
<circle cx="507.2" cy="1114.7"/>
<circle cx="560.2" cy="1174.2"/>
<circle cx="662.5" cy="1158.7"/>
<circle cx="557.7" cy="1158.8"/>
<circle cx="574.8" cy="1119.4"/>
<circle cx="561.8" cy="1023.2"/>
<circle cx="549.5" cy="984.1"/>
<circle cx="531.2" cy="1167.7"/>
<circle cx="580.0" cy="1014.3"/>
<circle cx="540.6" cy="1148.4"/>
<circle cx="524.8" cy="1184.4"/>
<circle cx="650.1" cy="1130.2"/>
<circle cx="508.7" cy="1061.8"/>
<circle cx="531.2" cy="1107.2"/>
<circle cx="515.2" cy="1074.0"/>
<circle cx="521.0" cy="1173.3"/>
<circle cx="650.5" cy="1157.5"/>
<circle cx="663.6" cy="953.1"/>
<circle cx="574.5" cy="1011.2"/>
<circle cx="546.0" cy="1031.0"/>
<circle cx="556.4" cy="1118.1"/>
<circle cx="507.6" cy="920.1"/>
<circle cx="598.8" cy="998.4"/>
<circle cx="531.5" cy="1157.5"/>
<circle cx="535.9" cy="993.8"/>
<circle cx="560.4" cy="1164.6"/>
<circle cx="520.8" cy="1177.7"/>
<circle cx="535.1" cy="1138.2"/>
<circle cx="520.9" cy="1186.5"/>
<circle cx="556.7" cy="1033.6"/>
<circle cx="544.3" cy="1152.2"/>
<circle cx="579.6" cy="997.4"/>
<circle cx="727.1" cy="858.2"/>
<circle cx="613.2" cy="963.8"/>
<circle cx="561.0" cy="1072.1"/>
<circle cx="549.1" cy="1148.8"/>
<circle cx="501.4" cy="1169.2"/>
<circle cx="564.8" cy="902.7"/>
<circle cx="501.7" cy="1173.1"/>
<circle cx="517.1" cy="1178.8"/>
<circle cx="610.6" cy="1129.0"/>
<circle cx="557.0" cy="1151.3"/>
<circle cx="558.4" cy="1049.5"/>
<circle cx="532.3" cy="1123.9"/>
<circle cx="592.3" cy="904.0"/>
<circle cx="517.7" cy="1180.9"/>
<circle cx="635.3" cy="1059.8"/>
<circle cx="556.0" cy="1163.1"/>
<circle cx="526.6" cy="1187.6"/>
<circle cx="524.1" cy="1037.9"/>
<circle cx="580.8" cy="1118.2"/>
<circle cx="555.2" cy="851.4"/>
<circle cx="530.5" cy="1178.1"/>
<circle cx="569.7" cy="956.0"/>
<circle cx="569.4" cy="1132.0"/>
<circle cx="703.9" cy="1123.1"/>
<circle cx="529.9" cy="1064.0"/>
<circle cx="503.3" cy="1176.0"/>
<circle cx="500.8" cy="1120.3"/>
<circle cx="587.7" cy="1176.9"/>
<circle cx="511.3" cy="1159.8"/>
<circle cx="589.7" cy="1141.3"/>
<circle cx="518.4" cy="1155.0"/>
<circle cx="620.9" cy="1090.0"/>
<circle cx="542.2" cy="1128.3"/>
<circle cx="529.5" cy="1138.9"/>
<circle cx="563.7" cy="1136.5"/>
<circle cx="502.9" cy="1162.4"/>
<circle cx="512.8" cy="1146.6"/>
<circle cx="512.1" cy="1109.3"/>
<circle cx="550.1" cy="1113.4"/>
<circle cx="581.1" cy="1064.6"/>
<circle cx="531.9" cy="1042.3"/>
<circle cx="561.0" cy="1109.3"/>
<circle cx="550.7" cy="1110.6"/>
<circle cx="581.2" cy="1143.1"/>
<circle cx="499.6" cy="1163.1"/>
<circle cx="603.7" cy="1057.0"/>
<circle cx="512.2" cy="1122.8"/>
<circle cx="580.7" cy="1046.5"/>
<circle cx="550.4" cy="1181.5"/>
<circle cx="508.6" cy="1171.1"/>
<circle cx="549.9" cy="1179.1"/>
<circle cx="582.8" cy="806.2"/>
<circle cx="538.4" cy="1018.1"/>
<circle cx="567.5" cy="1114.0"/>
<circle cx="601.2" cy="1034.0"/>
<circle cx="586.7" cy="1115.3"/>
<circle cx="719.1" cy="1129.1"/>
<circle cx="519.0" cy="1096.1"/>
<circle cx="553.0" cy="1155.9"/>
<circle cx="506.4" cy="1139.0"/>
<circle cx="527.3" cy="1014.1"/>
<circle cx="502.1" cy="1157.4"/>
<circle cx="608.7" cy="1151.1"/>
<circle cx="535.8" cy="1171.0"/>
<circle cx="600.1" cy="1006.4"/>
<circle cx="528.5" cy="1119.5"/>
<circle cx="526.9" cy="1094.1"/>
<circle cx="541.0" cy="1169.0"/>
<circle cx="509.9" cy="1053.4"/>
<circle cx="503.7" cy="1146.1"/>
<circle cx="714.7" cy="948.5"/>
<circle cx="501.5" cy="1152.1"/>
<circle cx="571.9" cy="1175.7"/>
<circle cx="608.9" cy="1164.7"/>
<circle cx="552.2" cy="1147.5"/>
<circle cx="502.1" cy="1142.6"/>
<circle cx="504.5" cy="1139.3"/>
<circle cx="566.8" cy="1140.2"/>
<circle cx="515.5" cy="1007.3"/>
<circle cx="503.9" cy="1131.7"/>
<circle cx="598.4" cy="1163.7"/>
<circle cx="510.1" cy="1182.7"/>
<circle cx="550.1" cy="1010.2"/>
<circle cx="519.7" cy="1136.3"/>
<circle cx="504.3" cy="1094.7"/>
<circle cx="541.8" cy="1156.4"/>
<circle cx="519.4" cy="1169.9"/>
<circle cx="503.9" cy="1185.6"/>
<circle cx="523.7" cy="1146.1"/>
<circle cx="529.8" cy="1168.4"/>
<circle cx="501.7" cy="1039.0"/>
<circle cx="525.0" cy="1182.9"/>
<circle cx="528.2" cy="1159.4"/>
<circle cx="567.9" cy="1112.0"/>
<circle cx="584.8" cy="1134.3"/>
<circle cx="504.0" cy="920.6"/>
<circle cx="533.6" cy="1077.0"/>
<circle cx="577.5" cy="1121.0"/>
<circle cx="504.1" cy="1099.2"/>
<circle cx="503.9" cy="1124.1"/>
<circle cx="534.6" cy="1187.9"/>
<circle cx="510.6" cy="1190.4"/>
<circle cx="579.6" cy="958.2"/>
<circle cx="562.3" cy="1183.7"/>
<circle cx="639.1" cy="1097.7"/>
<circle cx="510.4" cy="1162.8"/>
<circle cx="536.5" cy="1053.9"/>
<circle cx="543.2" cy="1125.8"/>
<circle cx="503.3" cy="1147.4"/>
<circle cx="537.7" cy="1072.5"/>
<circle cx="545.5" cy="988.2"/>
<circle cx="557.7" cy="1182.9"/>
<circle cx="508.6" cy="1139.1"/>
</g>
<line x1="181" y1="1206" x2="758" y2="1206" stroke="#a8a8a8" stroke-width="1.4"/>
<line x1="471.7" y1="652" x2="471.7" y2="1232" stroke="#a8a8a8" stroke-width="1.4"/>
<line x1="185" y1="1178.6" x2="758" y2="1178.6" stroke="#9a9a9a" stroke-width="1.15" stroke-dasharray="6.5,6.2"/>
<line x1="437.0" y1="652" x2="437.0" y2="1232" stroke="#9a9a9a" stroke-width="1.15" stroke-dasharray="6.5,6.2"/>
<line x1="506.6" y1="652" x2="506.6" y2="1232" stroke="#9a9a9a" stroke-width="1.15" stroke-dasharray="6.5,6.2"/>
<line x1="181.5" y1="1206.0" x2="185" y2="1206.0" stroke="#888" stroke-width="1"/>
<text x="160.8" y="1212.8" font-size="30.5" text-anchor="middle" fill="#111">0</text>
<line x1="181.5" y1="1100.5" x2="185" y2="1100.5" stroke="#888" stroke-width="1"/>
<text x="160.8" y="1107.3" font-size="30.5" text-anchor="middle" fill="#111">5</text>
<line x1="181.5" y1="995.0" x2="185" y2="995.0" stroke="#888" stroke-width="1"/>
<text x="160.8" y="1001.8" font-size="30.5" text-anchor="middle" fill="#111">10</text>
<line x1="181.5" y1="889.5" x2="185" y2="889.5" stroke="#888" stroke-width="1"/>
<text x="160.8" y="896.3" font-size="30.5" text-anchor="middle" fill="#111">15</text>
<line x1="181.5" y1="784.0" x2="185" y2="784.0" stroke="#888" stroke-width="1"/>
<text x="160.8" y="790.8" font-size="30.5" text-anchor="middle" fill="#111">20</text>
<line x1="181.5" y1="678.5" x2="185" y2="678.5" stroke="#888" stroke-width="1"/>
<text x="160.8" y="685.3" font-size="30.5" text-anchor="middle" fill="#111">25</text>
<line x1="193.5" y1="1233" x2="193.5" y2="1236.5" stroke="#888" stroke-width="1"/>
<text x="193.0" y="1265.6" font-size="29.5" text-anchor="middle" letter-spacing="2" fill="#111">−8</text>
<line x1="332.6" y1="1233" x2="332.6" y2="1236.5" stroke="#888" stroke-width="1"/>
<text x="332.1" y="1265.6" font-size="29.5" text-anchor="middle" letter-spacing="2" fill="#111">−4</text>
<line x1="471.7" y1="1233" x2="471.7" y2="1236.5" stroke="#888" stroke-width="1"/>
<text x="466.2" y="1265.6" font-size="29.5" text-anchor="middle" fill="#111">0</text>
<line x1="610.8" y1="1233" x2="610.8" y2="1236.5" stroke="#888" stroke-width="1"/>
<text x="605.3" y="1265.6" font-size="29.5" text-anchor="middle" fill="#111">4</text>
<line x1="749.9" y1="1233" x2="749.9" y2="1236.5" stroke="#888" stroke-width="1"/>
<text x="744.4" y="1265.6" font-size="29.5" text-anchor="middle" fill="#111">8</text>
<text x="484.5" y="1318.3" font-size="31.4" text-anchor="middle" fill="#111">Ly49+/– log2(fold change)</text>
<text transform="translate(105.5,909) rotate(-90)" font-size="31.3" text-anchor="middle" fill="#111">–log10(adjusted p–value)</text>
<g stroke="#2a7fc0" stroke-width="1.6">
<line x1="459.6" y1="1099.4" x2="451.2" y2="1133.2"/>
<line x1="512.4" y1="1099.4" x2="517.5" y2="1151.7"/>
<line x1="534.7" y1="1125.8" x2="517.5" y2="1151.7"/>
<line x1="486.9" y1="1124.8" x2="486.9" y2="1194.0"/>
<line x1="553.2" y1="1138.8" x2="487.5" y2="1194.5"/>
<line x1="531.0" y1="1173.0" x2="487.5" y2="1194.5"/>
<line x1="590.0" y1="1175.5" x2="489.0" y2="1192.0"/>
<line x1="370.0" y1="1158.7" x2="422.0" y2="1158.7"/>
<line x1="416.0" y1="1148.0" x2="431.0" y2="1155.0"/>
<line x1="462.3" y1="1154.0" x2="462.3" y2="1173.0"/>
<line x1="442.0" y1="1175.8" x2="455.6" y2="1192.0"/>
<line x1="398.0" y1="1187.8" x2="435.8" y2="1186.4"/>
<line x1="336.7" y1="1197.7" x2="473.0" y2="1203.0"/>
<line x1="335.0" y1="1217.4" x2="473.0" y2="1203.0"/>
<line x1="406.5" y1="1223.2" x2="473.0" y2="1203.0"/>
<line x1="400.0" y1="1194.4" x2="428.0" y2="1194.4"/>
<line x1="360.0" y1="1208.0" x2="473.0" y2="1203.0"/>
<line x1="548.0" y1="1200.5" x2="473.0" y2="1203.0"/>
<line x1="618.0" y1="1199.0" x2="473.0" y2="1203.0"/>
<line x1="556.0" y1="1216.0" x2="473.0" y2="1203.0"/>
<line x1="598.0" y1="1217.5" x2="473.0" y2="1203.0"/>
<line x1="640.0" y1="1219.0" x2="473.0" y2="1203.0"/>
<line x1="653.0" y1="1221.5" x2="473.0" y2="1203.0"/>
<line x1="520.0" y1="1190.0" x2="487.5" y2="1194.5"/>
<line x1="473.0" y1="1203.0" x2="487.5" y2="1194.5"/>
</g>
<circle cx="374.1" cy="741.6" r="4.6" fill="#c0392a" stroke="#8c8c8c" stroke-width="1.2"/>
<circle cx="324.1" cy="834.8" r="4.6" fill="#1c74bd" stroke="#8c8c8c" stroke-width="1.2"/>
<circle cx="401.4" cy="879.0" r="4.6" fill="#1c74bd" stroke="#8c8c8c" stroke-width="1.2"/>
<circle cx="739.4" cy="885.0" r="4.6" fill="#1c74bd" stroke="#8c8c8c" stroke-width="1.2"/>
<circle cx="366.4" cy="961.2" r="4.6" fill="#c0392a" stroke="#8c8c8c" stroke-width="1.2"/>
<circle cx="345.5" cy="977.0" r="4.6" fill="#1c74bd" stroke="#8c8c8c" stroke-width="1.2"/>
<circle cx="295.0" cy="1002.9" r="4.6" fill="#1c74bd" stroke="#8c8c8c" stroke-width="1.2"/>
<circle cx="437.3" cy="1040.5" r="4.6" fill="#1c74bd" stroke="#8c8c8c" stroke-width="1.2"/>
<circle cx="335.3" cy="1056.7" r="4.6" fill="#1c74bd" stroke="#8c8c8c" stroke-width="1.2"/>
<circle cx="397.9" cy="1086.4" r="4.6" fill="#1c74bd" stroke="#8c8c8c" stroke-width="1.2"/>
<circle cx="430.3" cy="1126.2" r="4.6" fill="#1c74bd" stroke="#8c8c8c" stroke-width="1.2"/>
<circle cx="451.2" cy="1133.2" r="4.6" fill="#1c74bd" stroke="#8c8c8c" stroke-width="1.2"/>
<circle cx="517.5" cy="1151.7" r="4.6" fill="#1c74bd" stroke="#8c8c8c" stroke-width="1.2"/>
<circle cx="422.0" cy="1158.7" r="4.6" fill="#1c74bd" stroke="#8c8c8c" stroke-width="1.2"/>
<circle cx="431.7" cy="1155.4" r="4.6" fill="#1c74bd" stroke="#8c8c8c" stroke-width="1.2"/>
<circle cx="559.2" cy="1181.4" r="4.6" fill="#c0392a" stroke="#8c8c8c" stroke-width="1.2"/>
<circle cx="434.0" cy="1186.5" r="4.6" fill="#1c74bd" stroke="#8c8c8c" stroke-width="1.2"/>
<circle cx="495.2" cy="1170.9" r="4.6" fill="#7d98b8" stroke="#8c8c8c" stroke-width="1.2"/>
<circle cx="495.2" cy="1183.3" r="4.6" fill="#8a8f99" stroke="#8c8c8c" stroke-width="1.2"/>
<circle cx="484.0" cy="1192.0" r="4.6" fill="#8a8f99" stroke="#8c8c8c" stroke-width="1.2"/>
<circle cx="466.0" cy="1205.5" r="4.6" fill="#8e3a2a" stroke="#8c8c8c" stroke-width="1.2"/>
<circle cx="471.5" cy="1206.5" r="4.6" fill="#8e3a2a" stroke="#8c8c8c" stroke-width="1.2"/>
<circle cx="469.0" cy="1203.0" r="4.6" fill="#8e3a2a" stroke="#8c8c8c" stroke-width="1.2"/>
<text x="208.8" y="671.0" font-size="18" text-anchor="middle" fill="#bb432b">Ccr2</text>
<text x="259.0" y="671.0" font-size="18" text-anchor="middle" fill="#bb432b">Cxcr3</text>
<text x="320.2" y="671.0" font-size="18" text-anchor="middle" fill="#bb432b">S100a6</text>
<text x="382.1" y="671.0" font-size="18" text-anchor="middle" fill="#bb432b">Ahnak</text>
<text x="431.8" y="671.0" font-size="18" text-anchor="middle" fill="#bb432b">Il2rb</text>
<text x="480.9" y="671.0" font-size="18" text-anchor="middle" fill="#bb432b">Gzmb</text>
<text x="594.0" y="671.0" font-size="18" text-anchor="middle" fill="#bb432b">Itgae</text>
<text x="381.0" y="731.7" font-size="18" text-anchor="middle" fill="#bb432b">Itgb1</text>
<text x="323.1" y="859.3" font-size="18" text-anchor="middle" fill="#bb432b">S100a4</text>
<text x="413.3" y="870.5" font-size="18" text-anchor="middle" fill="#bb432b">Igf2r</text>
<text x="718.4" y="877.0" font-size="18" text-anchor="middle" fill="#bb432b">Gpr83</text>
<text x="377.0" y="954.2" font-size="18" text-anchor="middle" fill="#2fa83c">Ikzf2</text>
<text x="340.0" y="994.5" font-size="18" text-anchor="middle" fill="#bb432b">Il2ra</text>
<text x="296.0" y="1021.5" font-size="18" text-anchor="middle" fill="#bb432b">Serpina3f</text>
<text x="450.3" y="1031.7" font-size="18" text-anchor="middle" fill="#bb432b">Myc</text>
<text x="349.2" y="1049.3" font-size="18" text-anchor="middle" fill="#bb432b">Socs2</text>
<text x="403.5" y="1077.1" font-size="18" text-anchor="middle" fill="#bb432b">Rgs1</text>
<text x="464.2" y="1096.5" font-size="18" text-anchor="middle" fill="#bb432b">Tnfrsf1b</text>
<text x="544.9" y="1098.0" font-size="18" text-anchor="middle" fill="#bb432b">Chchd10</text>
<text x="487.4" y="1120.7" font-size="18" text-anchor="middle" fill="#bb432b">Egr1</text>
<text x="554.6" y="1125.3" font-size="18" text-anchor="middle" fill="#bb432b">Capg</text>
<text x="401.6" y="1122.1" font-size="18" text-anchor="middle" fill="#bb432b">Gsto1</text>
<text x="589.4" y="1140.6" font-size="18" text-anchor="middle" fill="#bb432b">S100a10</text>
<text x="404.4" y="1146.2" font-size="18" text-anchor="middle" fill="#bb432b">Snx18</text>
<text x="463.7" y="1152.2" font-size="18" text-anchor="middle" fill="#bb432b">Nr4a1</text>
<text x="357.1" y="1165.2" font-size="18" text-anchor="middle" fill="#bb432b">Rel</text>
<text x="436.4" y="1176.8" font-size="18" text-anchor="middle" fill="#bb432b">Tnfrsf9</text>
<text x="513.8" y="1169.8" font-size="18" text-anchor="middle" fill="#bb432b">Bmyc</text>
<text x="540.7" y="1171.7" font-size="18" text-anchor="middle" fill="#bb432b">Id3</text>
<text x="570.8" y="1176.8" font-size="18" text-anchor="middle" fill="#2fa83c">Foxp3</text>
<text x="626.0" y="1181.4" font-size="18" text-anchor="middle" fill="#bb432b">S100a11</text>
<text x="465.1" y="1187.0" font-size="18" text-anchor="middle" fill="#bb432b">Nedd1</text>
<text x="373.8" y="1193.9" font-size="18" text-anchor="middle" fill="#bb432b">Tnfrsf4</text>
<text x="446.6" y="1199.5" font-size="18" text-anchor="middle" fill="#237030">Cd177</text>
<text x="514.7" y="1197.2" font-size="18" text-anchor="middle" fill="#2fa83c">Lrrc32</text>
<text x="514.7" y="1204.1" font-size="18" text-anchor="middle" fill="#bb432b">Srgn</text>
<text x="584.7" y="1204.6" font-size="18" text-anchor="middle" fill="#bb432b">Tnfrsf18</text>
<text x="643.6" y="1204.6" font-size="18" text-anchor="middle" fill="#bb432b">Ctla4</text>
<text x="318.2" y="1203.2" font-size="18" text-anchor="middle" fill="#bb432b">Klrg1</text>
<text x="430.3" y="1211.1" font-size="18" text-anchor="middle" fill="#bb432b">Icos</text>
<text x="304.2" y="1227.3" font-size="18" text-anchor="middle" fill="#bb432b">Prdm15</text>
<text x="377.0" y="1227.3" font-size="18" text-anchor="middle" fill="#bb432b">Bcl2a1b</text>
<text x="444.3" y="1221.8" font-size="18" text-anchor="middle" fill="#2fa83c">Ebi3</text>
<text x="469.8" y="1232.4" font-size="18" text-anchor="middle" fill="#2fa83c">Icam1</text>
<text x="497.6" y="1223.1" font-size="18" text-anchor="middle" fill="#2fa83c">Itgb4</text>
<text x="532.3" y="1226.4" font-size="18" text-anchor="middle" fill="#bb432b">Egr2</text>
<text x="576.4" y="1226.4" font-size="18" text-anchor="middle" fill="#bb432b">Ift80</text>
<text x="622.7" y="1226.4" font-size="18" text-anchor="middle" fill="#bb432b">Cd83</text>
<text x="676.0" y="1226.4" font-size="18" text-anchor="middle" fill="#bb432b">Dusp2</text>
<line x1="208.0" y1="652" x2="208.0" y2="656" stroke="#2a7fc0" stroke-width="1.3"/>
<line x1="257.8" y1="652" x2="257.8" y2="656" stroke="#2a7fc0" stroke-width="1.3"/>
<line x1="318.0" y1="652" x2="318.0" y2="656" stroke="#2a7fc0" stroke-width="1.3"/>
<line x1="378.9" y1="652" x2="378.9" y2="656" stroke="#2a7fc0" stroke-width="1.3"/>
<line x1="429.0" y1="652" x2="429.0" y2="656" stroke="#2a7fc0" stroke-width="1.3"/>
<line x1="474.0" y1="652" x2="474.0" y2="656" stroke="#2a7fc0" stroke-width="1.3"/>
<line x1="592.6" y1="652" x2="592.6" y2="656" stroke="#2a7fc0" stroke-width="1.3"/>
<text transform="translate(34.3,672.2) scale(0.96,1)" font-size="43" font-weight="bold" fill="#111">c</text>
</svg>
</body></html>
